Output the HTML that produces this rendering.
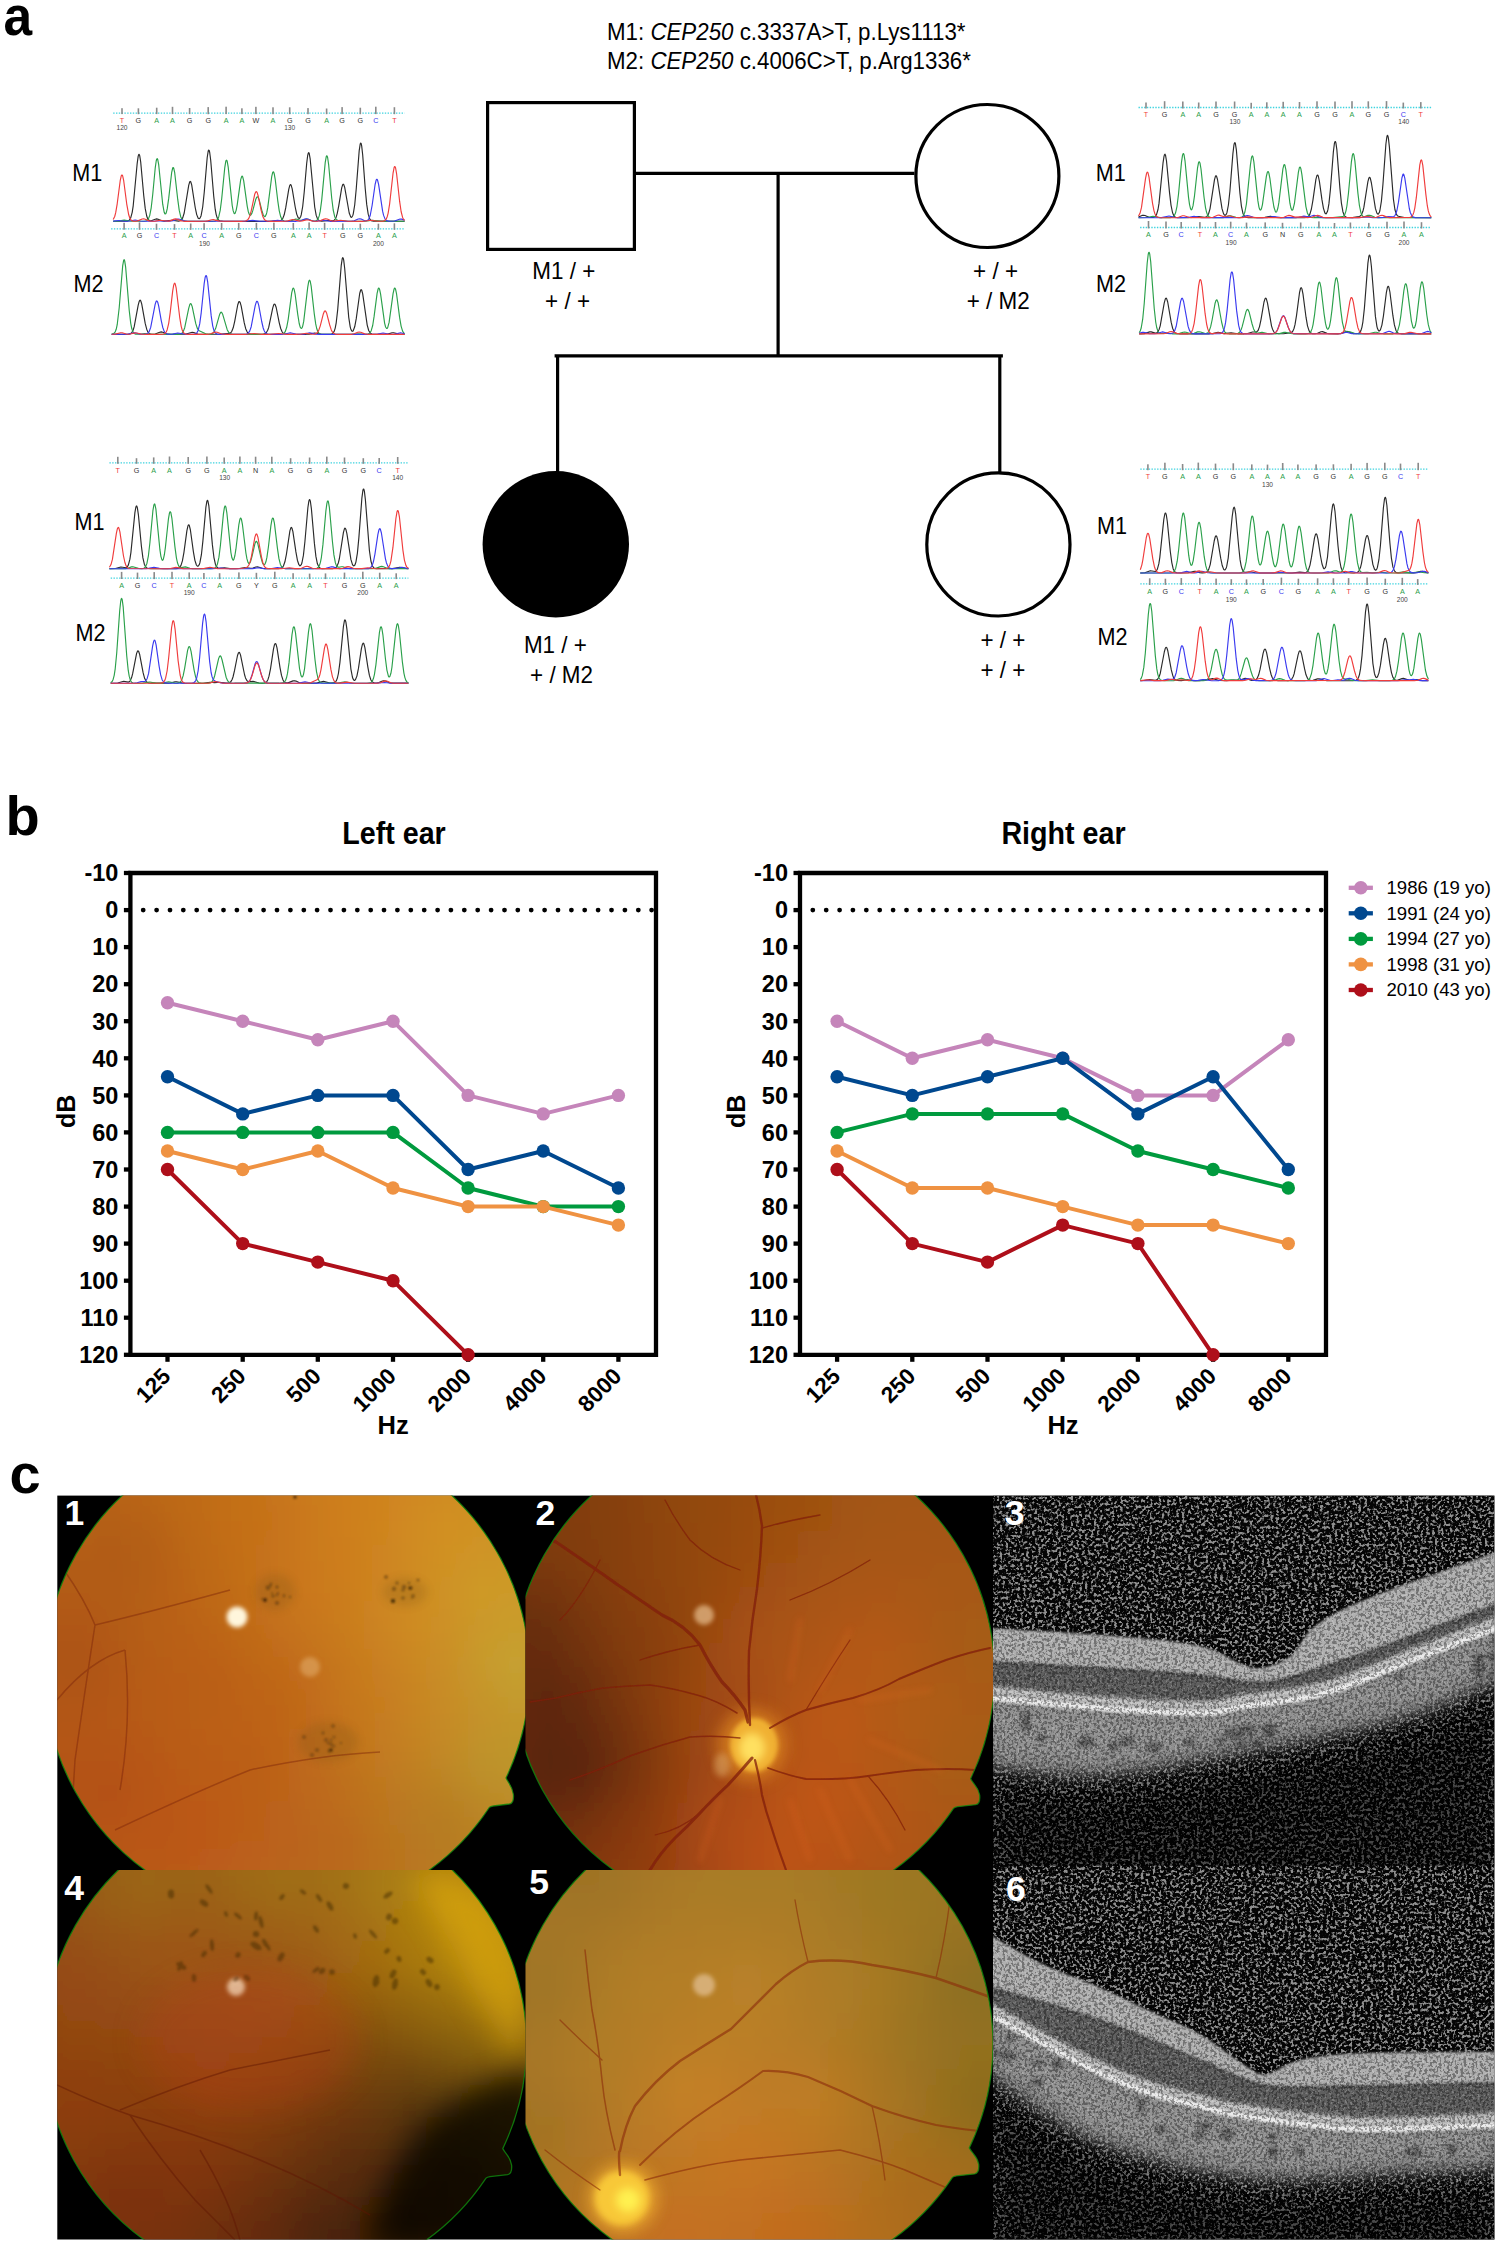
<!DOCTYPE html><html><head><meta charset="utf-8"><style>html,body{margin:0;padding:0;background:#fff;}svg{display:block;}text{font-family:"Liberation Sans",sans-serif;}</style></head><body>
<svg width="1500" height="2246" viewBox="0 0 1500 2246">
<rect width="1500" height="2246" fill="#fff"/>
<text transform="translate(3.50,35.00) scale(0.92,1)" x="0" y="0" font-size="56" font-weight="bold" text-anchor="start" fill="#000" >a</text>
<text x="5.50" y="835.00" font-size="56" font-weight="bold" text-anchor="start" fill="#000" >b</text>
<text x="9.50" y="1493.00" font-size="56" font-weight="bold" text-anchor="start" fill="#000" >c</text>
<text transform="translate(607,39.5) scale(0.93,1)" font-size="24">M1: <tspan font-style="italic">CEP250</tspan> c.3337A&gt;T, p.Lys1113*</text>
<text transform="translate(607,68.8) scale(0.93,1)" font-size="24">M2: <tspan font-style="italic">CEP250</tspan> c.4006C&gt;T, p.Arg1336*</text>
<g fill="none" stroke="#000" stroke-width="3.2">
<rect x="487.6" y="102.6" width="146.8" height="146.8"/>
<line x1="634" y1="173.4" x2="914.5" y2="173.4"/>
<circle cx="987.4" cy="176" r="71.5"/>
<line x1="778.1" y1="173.4" x2="778.1" y2="355.8"/>
<line x1="556.2" y1="355.8" x2="1001.3" y2="355.8" stroke-linecap="square"/>
<line x1="557.6" y1="355.8" x2="557.6" y2="472"/>
<line x1="999.8" y1="355.8" x2="999.8" y2="472"/>
<circle cx="998.4" cy="544.4" r="71.6"/>
</g>
<circle cx="555.8" cy="544.3" r="73.2" fill="#000"/>
<text transform="translate(563.80,279.00) scale(0.955,1)" x="0" y="0" font-size="23.5" font-weight="normal" text-anchor="middle" fill="#000" >M1 / +</text>
<text transform="translate(567.55,308.50) scale(0.955,1)" x="0" y="0" font-size="23.5" font-weight="normal" text-anchor="middle" fill="#000" >+ / +</text>
<text transform="translate(995.55,278.50) scale(0.955,1)" x="0" y="0" font-size="23.5" font-weight="normal" text-anchor="middle" fill="#000" >+ / +</text>
<text transform="translate(998.20,308.70) scale(0.955,1)" x="0" y="0" font-size="23.5" font-weight="normal" text-anchor="middle" fill="#000" >+ / M2</text>
<text transform="translate(555.40,653.00) scale(0.955,1)" x="0" y="0" font-size="23.5" font-weight="normal" text-anchor="middle" fill="#000" >M1 / +</text>
<text transform="translate(561.55,682.70) scale(0.955,1)" x="0" y="0" font-size="23.5" font-weight="normal" text-anchor="middle" fill="#000" >+ / M2</text>
<text transform="translate(1002.85,648.00) scale(0.955,1)" x="0" y="0" font-size="23.5" font-weight="normal" text-anchor="middle" fill="#000" >+ / +</text>
<text transform="translate(1002.85,677.60) scale(0.955,1)" x="0" y="0" font-size="23.5" font-weight="normal" text-anchor="middle" fill="#000" >+ / +</text>
<text transform="translate(87.35,181.10) scale(0.9,1)" x="0" y="0" font-size="24" font-weight="normal" text-anchor="middle" fill="#000" >M1</text>
<text transform="translate(88.40,291.60) scale(0.9,1)" x="0" y="0" font-size="24" font-weight="normal" text-anchor="middle" fill="#000" >M2</text>
<text transform="translate(1110.75,180.80) scale(0.9,1)" x="0" y="0" font-size="24" font-weight="normal" text-anchor="middle" fill="#000" >M1</text>
<text transform="translate(1111.10,291.60) scale(0.9,1)" x="0" y="0" font-size="24" font-weight="normal" text-anchor="middle" fill="#000" >M2</text>
<text transform="translate(89.40,530.00) scale(0.9,1)" x="0" y="0" font-size="24" font-weight="normal" text-anchor="middle" fill="#000" >M1</text>
<text transform="translate(90.40,641.40) scale(0.9,1)" x="0" y="0" font-size="24" font-weight="normal" text-anchor="middle" fill="#000" >M2</text>
<text transform="translate(1111.90,534.20) scale(0.9,1)" x="0" y="0" font-size="24" font-weight="normal" text-anchor="middle" fill="#000" >M1</text>
<text transform="translate(1112.55,644.70) scale(0.9,1)" x="0" y="0" font-size="24" font-weight="normal" text-anchor="middle" fill="#000" >M2</text>
<g font-family="Liberation Sans, sans-serif">
<line x1="113.2" y1="113.1" x2="404.6" y2="113.1" stroke="#3fd3df" stroke-width="1.3" stroke-dasharray="1.4 1.4"/>
<rect x="121.2" y="108.2" width="1.6" height="5.9" fill="#8a8a8a"/>
<text x="122.0" y="123.2" font-size="7.2" text-anchor="middle" fill="#f03c3c">T</text>
<rect x="137.6" y="108.3" width="1.6" height="5.9" fill="#8a8a8a"/>
<text x="138.4" y="123.2" font-size="7.2" text-anchor="middle" fill="#333333">G</text>
<rect x="155.9" y="107.7" width="1.6" height="6.4" fill="#8a8a8a"/>
<text x="156.7" y="123.2" font-size="7.2" text-anchor="middle" fill="#2aa04a">A</text>
<rect x="171.7" y="106.8" width="1.6" height="7.3" fill="#8a8a8a"/>
<text x="172.5" y="123.2" font-size="7.2" text-anchor="middle" fill="#2aa04a">A</text>
<rect x="188.8" y="108.0" width="1.6" height="6.1" fill="#8a8a8a"/>
<text x="189.6" y="123.2" font-size="7.2" text-anchor="middle" fill="#333333">G</text>
<rect x="207.4" y="107.1" width="1.6" height="7.1" fill="#8a8a8a"/>
<text x="208.2" y="123.2" font-size="7.2" text-anchor="middle" fill="#333333">G</text>
<rect x="225.3" y="106.7" width="1.6" height="7.4" fill="#8a8a8a"/>
<text x="226.1" y="123.2" font-size="7.2" text-anchor="middle" fill="#2aa04a">A</text>
<rect x="241.1" y="108.3" width="1.6" height="5.8" fill="#8a8a8a"/>
<text x="241.9" y="123.2" font-size="7.2" text-anchor="middle" fill="#2aa04a">A</text>
<rect x="255.1" y="106.8" width="1.6" height="7.3" fill="#8a8a8a"/>
<text x="255.9" y="123.2" font-size="7.2" text-anchor="middle" fill="#333333">W</text>
<rect x="272.2" y="107.3" width="1.6" height="6.9" fill="#8a8a8a"/>
<text x="273.0" y="123.2" font-size="7.2" text-anchor="middle" fill="#2aa04a">A</text>
<rect x="288.9" y="107.3" width="1.6" height="6.9" fill="#8a8a8a"/>
<text x="289.7" y="123.2" font-size="7.2" text-anchor="middle" fill="#333333">G</text>
<rect x="307.2" y="108.1" width="1.6" height="6.1" fill="#8a8a8a"/>
<text x="308.0" y="123.2" font-size="7.2" text-anchor="middle" fill="#333333">G</text>
<rect x="325.8" y="108.5" width="1.6" height="5.7" fill="#8a8a8a"/>
<text x="326.6" y="123.2" font-size="7.2" text-anchor="middle" fill="#2aa04a">A</text>
<rect x="341.3" y="107.1" width="1.6" height="7.0" fill="#8a8a8a"/>
<text x="342.1" y="123.2" font-size="7.2" text-anchor="middle" fill="#333333">G</text>
<rect x="359.5" y="107.7" width="1.6" height="6.5" fill="#8a8a8a"/>
<text x="360.3" y="123.2" font-size="7.2" text-anchor="middle" fill="#333333">G</text>
<rect x="375.0" y="106.7" width="1.6" height="7.4" fill="#8a8a8a"/>
<text x="375.8" y="123.2" font-size="7.2" text-anchor="middle" fill="#3a3af0">C</text>
<rect x="393.6" y="107.2" width="1.6" height="7.0" fill="#8a8a8a"/>
<text x="394.4" y="123.2" font-size="7.2" text-anchor="middle" fill="#f03c3c">T</text>
<text x="122.0" y="129.8" font-size="6.6" text-anchor="middle" fill="#444">120</text>
<text x="289.7" y="129.8" font-size="6.6" text-anchor="middle" fill="#444">130</text>
<path d="M113.2,221.3l14 -0.2 2 -0.8 1.5 -2.4 1.5 -5.6 1 -6.5 4 -42.5 1 -7.1 0.5 -1.6 0.5 -0.2 0.5 1.2 1 6.4 3 33.3 1.5 13.1 1.5 7.6 1 2.7 1 1.4 1 0.5 1.5 0.1 4 -1.5 1.5 -0.3 1.5 0.3 3.5 1.5 2.5 0.4 7.5 -0.8 7 0.8 1.5 -0.3 1 -0.7 1.5 -2.2 1.5 -4.9 4.5 -27.7 1 -3.4 0.5 -0.5 0.5 0.4 1 3.1 3.5 22.6 1.5 7.1 1.5 3.6 1 0.5 0.5 -0.2 1 -1.7 0.5 -1.6 1.5 -8.2 1.5 -14.2 3 -35.3 1 -6.4 0.5 -1.0 0.5 0.4 0.5 2.0 1 7.8 3 35.7 1.5 13.2 1 5.4 1 3.3 1 1.8 1.5 1.2 4 0.4 45.5 0.0 10.5 -0.7 1.5 -0.4 1.5 -1.6 1.5 -3.8 1.5 -6.9 3 -18.3 1 -3.9 0.5 -0.9 0.5 -0.2 0.5 0.7 1 3.5 3 18.2 1.5 7.1 1.5 3.7 1 0.6 0.5 -0.2 1 -1.7 0.5 -1.6 1.5 -8.4 1.5 -14.2 2.5 -29.1 1 -7.9 0.5 -2.0 0.5 -0.7 0.5 0.8 1 5.8 4.5 47.8 1.5 8.4 1.5 3.9 1.5 1.4 2.5 0.4 5.5 -0.5 5.5 0.2 1.5 -0.6 1 -1.2 1 -2.1 1 -3.3 1.5 -7.5 3 -18.3 1 -3.2 0.5 -0.4 0.5 0.3 1 2.9 4.5 25.6 1.5 3.9 0.5 0.5 0.5 -0.1 1 -1.6 0.5 -1.6 1.5 -9.1 1.5 -15.8 3 -38.6 1 -6.6 0.5 -1.0 0.5 0.7 0.5 2.4 1 8.9 2.5 33.2 1.5 16.2 1.5 9.8 1.5 4.7 1.4 1.7 2.5 0.6 31 0.1" fill="none" stroke="#2a2a2a" stroke-width="1.15" stroke-linejoin="round"/>
<path d="M113.2,221.3l5 -0.2 6 -1.0 7 1.1 13 0.0 2.5 -0.5 1.5 -1.4 1.5 -3.7 1.5 -7.8 1.5 -13.1 2.5 -26.5 1 -7.2 0.5 -1.9 0.5 -0.5 0.5 0.8 1 5.3 4 39.5 1.5 8.1 0.5 1.2 0.5 0.5 0.5 -0.2 0.5 -0.9 1 -4.0 1.5 -10.5 3 -26.1 1 -4.3 0.5 -0.5 0.5 0.7 1 4.5 3 26.5 1.5 11.0 1.5 6.5 1.5 3.0 1.5 1.2 3 0.4 26.5 0.0 2 -0.2 1.5 -0.8 1 -1.1 1 -2.3 1.5 -6.5 1.5 -11.6 3 -30.6 1 -6.4 0.5 -1.5 0.5 -0.1 0.5 1.1 1 5.8 4 38.4 1 5.4 1 2.6 0.5 0.2 0.5 -0.6 1 -3.0 1 -5.3 3.5 -25.1 1 -3.3 0.5 -0.3 0.5 0.7 1 4.0 3.5 25.3 1 5.1 1 3.0 1 1.1 0.5 -0.2 1 -1.4 1 -2.8 3 -11.3 1 -2.3 0.5 -0.4 0.5 0.0 0.5 0.6 1 2.4 3 11.9 1 3.0 1 1.6 0.5 0.3 0.5 -0.2 1 -1.9 0.5 -1.7 1 -5.0 4 -31.2 1 -4.3 0.5 -0.6 0.5 0.4 0.5 1.5 1 5.6 2.5 21.0 1.5 10.3 1.5 6.2 1.5 2.9 1 0.9 1 0.4 3.5 0.2 3 -0.3 5 -1.8 1.5 0.1 3 1.0 1.5 0.1 5 -1.3 1.5 0.2 4.5 1.8 3 0.0 1.5 -0.9 1 -1.5 1 -2.7 1 -4.5 1.5 -11.3 3.5 -37.4 1 -5.9 0.5 -1.0 0.5 0.4 0.5 1.8 1 7.2 3 32.8 1.5 12.0 1.5 6.7 1.5 2.8 1.5 0.8 10.5 1.0 17 0.0 7.4 -1.0 8 1.0 24 0.0" fill="none" stroke="#2aa04a" stroke-width="1.15" stroke-linejoin="round"/>
<path d="M113.2,221.1l5.5 -0.6 5.5 0.7 3.5 0.0 7.5 -1.2 5 1.0 2.5 0.2 10.5 0.1 7 -0.6 9.5 0.6 3.5 -0.5 3.5 -1.5 1.5 -0.3 1.5 0.2 4.5 1.7 3.5 0.4 56.5 0.0 8.5 -0.9 7 0.8 9 0.1 3.5 -0.2 5.5 -0.9 7 1.0 11.5 0.1 4.5 -0.5 4 -1.7 1.5 -0.4 1.5 0.3 4 1.8 2.5 0.4 2.5 -0.1 6 -0.8 7.5 1.0 21 -0.1 3 -0.4 4 -1.8 1.5 -0.2 1.5 0.3 3.5 1.6 1.5 0.1 1.5 -0.6 1 -1.1 1.5 -3.6 1.9 -10.0 3 -21.0 1 -4.2 0.5 -0.9 0.5 0.0 0.5 0.9 1 4.1 4 26.8 1 4.2 1.5 3.7 1.5 1.5 2.5 0.6 5.5 -0.2 5.5 -2.0 1.5 0.1 3 1.2" fill="none" stroke="#3a3af0" stroke-width="1.15" stroke-linejoin="round"/>
<path d="M113.2,219.6l1.5 -3.1 1 -3.8 1.5 -8.9 3 -23.1 1 -4.6 0.5 -1.0 0.5 0.0 0.5 1.0 1 4.6 3 23.1 2 11.0 1 3.0 1 1.8 1 0.9 1.5 0.6 2.5 0.1 2 -0.3 4.5 -1.9 1.5 -0.2 1.5 0.4 4 1.7 3 0.3 3 -0.1 5.5 -0.9 5.5 0.8 2.5 0.1 2 -0.5 3.5 -1.5 1.5 -0.2 1.5 0.3 4 1.7 3 0.4 21 -0.1 2.5 -0.3 4 -1.2 1.5 -0.1 5 1.3 3 0.3 21 0.1 3.5 -0.3 2 -1.2 1 -1.4 1 -2.2 1.5 -5.4 3.5 -16.5 1 -2.3 0.5 -0.4 0.5 0.3 0.5 0.8 1 3.3 3 14.7 1.5 5.5 1.5 3.0 1 1.1 1.5 0.7 3 0.3 15.5 -0.1 2.5 -0.3 5 -1.4 7 1.6 2.5 -0.2 5 -1.1 6 1.3 4 0.1 3 -0.4 4 -1.7 1.5 -0.4 1.5 0.3 4 1.8 2 0.3 7.5 -0.8 7 0.9 15.5 0.1 8.4 -1.1 6 1.0 5.5 -0.1 1.5 -0.4 1.5 -1.5 1 -2.2 1 -3.7 1.5 -9.2 3.5 -31.3 1 -5.2 0.5 -1.1 0.5 0.2 0.5 1.3 1 5.8 3 27.4 1.5 10.3 1.5 5.9 1 2.0 1 1.0" fill="none" stroke="#f03c3c" stroke-width="1.15" stroke-linejoin="round"/>
<line x1="111.1" y1="228.8" x2="404.6" y2="228.8" stroke="#3fd3df" stroke-width="1.3" stroke-dasharray="1.4 1.4"/>
<rect x="123.3" y="222.8" width="1.6" height="6.9" fill="#8a8a8a"/>
<text x="124.1" y="238.4" font-size="7.2" text-anchor="middle" fill="#2aa04a">A</text>
<rect x="138.7" y="222.4" width="1.6" height="7.4" fill="#8a8a8a"/>
<text x="139.5" y="238.4" font-size="7.2" text-anchor="middle" fill="#333333">G</text>
<rect x="155.7" y="223.7" width="1.6" height="6.1" fill="#8a8a8a"/>
<text x="156.5" y="238.4" font-size="7.2" text-anchor="middle" fill="#3a3af0">C</text>
<rect x="173.7" y="224.1" width="1.6" height="5.7" fill="#8a8a8a"/>
<text x="174.5" y="238.4" font-size="7.2" text-anchor="middle" fill="#f03c3c">T</text>
<rect x="189.9" y="223.5" width="1.6" height="6.3" fill="#8a8a8a"/>
<text x="190.7" y="238.4" font-size="7.2" text-anchor="middle" fill="#2aa04a">A</text>
<rect x="203.3" y="223.2" width="1.6" height="6.6" fill="#8a8a8a"/>
<text x="204.1" y="238.4" font-size="7.2" text-anchor="middle" fill="#3a3af0">C</text>
<rect x="220.8" y="223.0" width="1.6" height="6.8" fill="#8a8a8a"/>
<text x="221.6" y="238.4" font-size="7.2" text-anchor="middle" fill="#2aa04a">A</text>
<rect x="237.9" y="222.9" width="1.6" height="6.9" fill="#8a8a8a"/>
<text x="238.7" y="238.4" font-size="7.2" text-anchor="middle" fill="#333333">G</text>
<rect x="255.6" y="222.9" width="1.6" height="6.8" fill="#8a8a8a"/>
<text x="256.4" y="238.4" font-size="7.2" text-anchor="middle" fill="#3a3af0">C</text>
<rect x="273.1" y="222.7" width="1.6" height="7.1" fill="#8a8a8a"/>
<text x="273.9" y="238.4" font-size="7.2" text-anchor="middle" fill="#333333">G</text>
<rect x="292.5" y="223.0" width="1.6" height="6.7" fill="#8a8a8a"/>
<text x="293.3" y="238.4" font-size="7.2" text-anchor="middle" fill="#2aa04a">A</text>
<rect x="308.3" y="222.4" width="1.6" height="7.3" fill="#8a8a8a"/>
<text x="309.1" y="238.4" font-size="7.2" text-anchor="middle" fill="#2aa04a">A</text>
<rect x="323.8" y="222.8" width="1.6" height="7.0" fill="#8a8a8a"/>
<text x="324.6" y="238.4" font-size="7.2" text-anchor="middle" fill="#f03c3c">T</text>
<rect x="342.0" y="223.4" width="1.6" height="6.4" fill="#8a8a8a"/>
<text x="342.8" y="238.4" font-size="7.2" text-anchor="middle" fill="#333333">G</text>
<rect x="359.5" y="223.7" width="1.6" height="6.0" fill="#8a8a8a"/>
<text x="360.3" y="238.4" font-size="7.2" text-anchor="middle" fill="#333333">G</text>
<rect x="377.6" y="223.7" width="1.6" height="6.0" fill="#8a8a8a"/>
<text x="378.4" y="238.4" font-size="7.2" text-anchor="middle" fill="#2aa04a">A</text>
<rect x="393.6" y="223.3" width="1.6" height="6.5" fill="#8a8a8a"/>
<text x="394.4" y="238.4" font-size="7.2" text-anchor="middle" fill="#2aa04a">A</text>
<text x="204.5" y="245.7" font-size="6.6" text-anchor="middle" fill="#444">190</text>
<text x="378.4" y="245.7" font-size="6.6" text-anchor="middle" fill="#444">200</text>
<path d="M111.7,334.4l16.5 -0.1 2 -0.4 1.5 -1.2 1.5 -2.7 1 -3.3 4 -21.6 1 -3.7 0.5 -1.0 0.5 -0.2 0.5 0.6 1 3.1 3.5 19.5 1.5 5.8 1 2.4 1 1.4 1 0.7 1.5 0.5 4 -0.2 4.5 -1.8 1.5 -0.3 1.5 0.3 4 1.7 4 0.4 14.5 -0.1 7 -1.9 1.5 0.2 4 1.5 3 0.3 18.5 0.0 10.5 -0.9 1 -0.6 1 -1.3 1.5 -3.7 1.5 -6.5 3 -16.3 1 -3.0 0.5 -0.5 0.5 0.2 0.5 0.9 1 3.6 3 16.5 1.5 6.0 1.5 3.4 1 1.2 1 0.6 3 0.4 10.5 0.0 2 -0.4 1.5 -1.1 1.5 -2.5 1 -2.9 4 -19.3 1 -3.2 0.5 -0.7 0.5 -0.1 0.5 0.6 1 2.8 3 15.1 1.5 5.9 1.5 3.5 1 1.2 1 0.6 3.5 0.5 18.5 0.0 3 -0.2 5.5 -1.1 7 1.3 7.5 0.0 2.5 -0.3 1.5 -1.1 1 -1.6 1 -3.2 1 -5.3 1.5 -13.2 3.5 -43.9 1 -6.9 0.5 -1.2 0.5 0.5 0.5 2.0 1 8.4 4 48.6 1.5 9.7 0.5 1.9 1 2.2 0.5 0.4 0.5 -0.1 0.5 -0.4 1.5 -4.0 1.5 -7.9 3.5 -25.4 1 -3.5 0.5 -0.4 0.5 0.5 1 3.8 4.5 31.2 1.5 5.4 1.5 2.5 1.5 1.0 1.5 0.3 10.9 0.0 3.5 -0.2 4.5 -1.3 1.5 -0.1 5.5 1.4 5.5 0.3" fill="none" stroke="#2a2a2a" stroke-width="1.15" stroke-linejoin="round"/>
<path d="M111.7,334.3l2 -0.7 1.5 -1.7 1 -2.6 1 -4.6 2 -17.0 3.5 -42.1 1 -5.4 0.5 -0.5 0.5 1.2 1 6.8 3.5 42.6 1.5 12.8 1 5.2 1 3.1 1.5 2.1 1.5 0.6 3 0.1 6 -0.6 7.5 0.7 24.5 0.1 3 -0.2 1.5 -0.5 1 -0.7 1 -1.4 1.5 -3.9 4 -19.4 1 -3.5 0.5 -0.9 0.5 -0.3 0.5 0.4 1 2.6 3.5 16.8 1.5 4.7 1 1.7 1 0.9 6.5 3.1 2.5 0.4 2.5 0.0 1.5 -0.5 1.5 -1.3 2 -4.1 4 -14.1 1 -1.8 0.5 -0.2 0.5 0.2 1 1.9 4.5 15.4 1.5 2.7 2 1.5 2 0.4 3.5 0.1 42.5 0.0 4 -0.4 1.5 -0.9 1 -1.4 1.5 -4.4 1.5 -8.0 3.5 -26.4 1 -4.1 0.5 -0.7 0.5 0.3 0.5 1.2 1 5.1 2.5 19.4 1.5 9.4 1 3.7 1 1.3 0.5 -0.2 0.5 -0.8 0.5 -1.4 1 -4.7 4 -34.0 1 -5.7 0.5 -1.3 0.5 -0.2 0.5 1.0 1 5.2 3 26.9 1.5 10.6 1 4.6 1 2.8 1 1.6 1 0.8 1.5 0.5 2.5 0.2 26.5 -0.1 8 -0.6 7.5 0.6 2 -0.2 1.5 -0.5 1 -1.0 1 -1.9 1.5 -5.2 1.4 -9.1 3 -23.0 1 -4.4 0.5 -0.9 0.5 0.2 0.5 1.1 1 4.8 4 28.9 1 3.9 1 1.5 0.5 -0.1 0.5 -0.6 1.5 -5.4 4 -29.0 1 -4.4 0.5 -0.9 0.5 0.2 0.5 1.1 1 4.8 3 23.2 1.5 8.7 1.5 5.0 1 1.7 1 0.8" fill="none" stroke="#2aa04a" stroke-width="1.15" stroke-linejoin="round"/>
<path d="M111.7,334.4l15.5 -0.1 7 -1.4 1.5 0.1 4.5 1.1 4 0.2 2 -0.2 1.5 -0.7 1.5 -1.9 1.5 -4.1 4.5 -23.3 1 -2.8 0.5 -0.4 0.5 0.3 0.5 1.0 1 3.9 2.5 14.2 1.5 6.9 1.5 4.2 1.5 1.9 1.5 0.8 2 0.2 3.5 -0.2 5 -1.1 8 1.3 7.5 0.0 2.5 -0.5 1.5 -1.5 1 -2.1 1.5 -6.3 1.5 -11.1 3 -29.4 1 -6.2 0.5 -1.5 0.5 -0.1 0.5 1.0 1 5.6 3.5 33.7 1.5 9.9 1 3.9 1 2.4 1 1.2 1.5 0.8 3.5 0.3 23.5 -0.1 2.5 -0.3 1.5 -0.8 1.5 -2.1 1.5 -4.4 4 -21.0 1 -3.4 0.5 -0.9 0.5 -0.1 0.5 0.6 1 3.2 3 16.4 1.5 6.5 1 2.8 1 1.7 1 1.0 1.5 0.6 3 0.2 12 0.0 2.5 -0.3 5 -1.3 5.5 1.3 4 0.3 4.5 -0.2 5.5 -1.3 6 1.3 4 0.3 54.9 -0.1 3 -0.2 5.5 -1.1 5.5 1.1 3.5 0.2 3 -0.2 5.5 -1.4 4 1.0" fill="none" stroke="#3a3af0" stroke-width="1.15" stroke-linejoin="round"/>
<path d="M111.7,334.3l3.5 -0.2 5.5 -1.4 1.5 0.1 4 1.2 2 0.2 2 -0.2 5 -1.1 1.5 0.1 4.5 1.1 3.5 0.2 17 0.0 2 -0.2 1.5 -0.8 1 -1.3 1 -2.3 1.5 -6.4 1.5 -10.7 2.5 -21.7 1 -5.8 0.5 -1.5 0.5 -0.4 0.5 0.6 1 4.4 3.5 29.1 1.5 9.0 1 3.7 1 2.2 1 1.2 1.5 0.7 3.5 0.3 19 -0.1 2.5 -0.5 3.5 -1.4 1.5 -0.4 1.5 0.2 4.5 1.8 3.5 0.3 21 0.0 8 -0.8 6.5 0.8 9.5 0.0 8.5 -0.8 7 0.8 11.5 0.0 3 -0.1 6 -0.9 5.5 0.9 3 -0.1 1.5 -0.5 1 -0.8 1.5 -2.4 1.5 -4.3 3 -11.8 1 -2.6 0.5 -0.6 0.5 -0.2 0.5 0.4 1 2.0 3 11.7 1.5 4.7 1 2.0 1 1.3 2 1.1 3.5 0.3 13 -0.1 2.5 -0.5 3.5 -1.5 1.5 -0.3 1.5 0.2 4 1.7 3 0.4 36.9 0.1" fill="none" stroke="#f03c3c" stroke-width="1.15" stroke-linejoin="round"/>
<line x1="1138.5" y1="107.5" x2="1431.3" y2="107.5" stroke="#3fd3df" stroke-width="1.3" stroke-dasharray="1.4 1.4"/>
<rect x="1145.2" y="102.5" width="1.6" height="6.0" fill="#8a8a8a"/>
<text x="1146.0" y="117.1" font-size="7.2" text-anchor="middle" fill="#f03c3c">T</text>
<rect x="1163.8" y="101.2" width="1.6" height="7.4" fill="#8a8a8a"/>
<text x="1164.6" y="117.1" font-size="7.2" text-anchor="middle" fill="#333333">G</text>
<rect x="1182.0" y="101.5" width="1.6" height="7.0" fill="#8a8a8a"/>
<text x="1182.8" y="117.1" font-size="7.2" text-anchor="middle" fill="#2aa04a">A</text>
<rect x="1197.9" y="102.5" width="1.6" height="6.0" fill="#8a8a8a"/>
<text x="1198.7" y="117.1" font-size="7.2" text-anchor="middle" fill="#2aa04a">A</text>
<rect x="1215.2" y="101.5" width="1.6" height="7.0" fill="#8a8a8a"/>
<text x="1216.0" y="117.1" font-size="7.2" text-anchor="middle" fill="#333333">G</text>
<rect x="1233.8" y="101.5" width="1.6" height="7.0" fill="#8a8a8a"/>
<text x="1234.6" y="117.1" font-size="7.2" text-anchor="middle" fill="#333333">G</text>
<rect x="1250.4" y="102.8" width="1.6" height="5.8" fill="#8a8a8a"/>
<text x="1251.2" y="117.1" font-size="7.2" text-anchor="middle" fill="#2aa04a">A</text>
<rect x="1266.0" y="102.3" width="1.6" height="6.2" fill="#8a8a8a"/>
<text x="1266.8" y="117.1" font-size="7.2" text-anchor="middle" fill="#2aa04a">A</text>
<rect x="1282.4" y="101.8" width="1.6" height="6.7" fill="#8a8a8a"/>
<text x="1283.2" y="117.1" font-size="7.2" text-anchor="middle" fill="#2aa04a">A</text>
<rect x="1298.7" y="102.0" width="1.6" height="6.5" fill="#8a8a8a"/>
<text x="1299.5" y="117.1" font-size="7.2" text-anchor="middle" fill="#2aa04a">A</text>
<rect x="1316.2" y="101.3" width="1.6" height="7.3" fill="#8a8a8a"/>
<text x="1317.0" y="117.1" font-size="7.2" text-anchor="middle" fill="#333333">G</text>
<rect x="1334.2" y="101.5" width="1.6" height="7.1" fill="#8a8a8a"/>
<text x="1335.0" y="117.1" font-size="7.2" text-anchor="middle" fill="#333333">G</text>
<rect x="1351.2" y="101.2" width="1.6" height="7.3" fill="#8a8a8a"/>
<text x="1352.0" y="117.1" font-size="7.2" text-anchor="middle" fill="#2aa04a">A</text>
<rect x="1367.5" y="101.3" width="1.6" height="7.2" fill="#8a8a8a"/>
<text x="1368.3" y="117.1" font-size="7.2" text-anchor="middle" fill="#333333">G</text>
<rect x="1385.7" y="101.1" width="1.6" height="7.5" fill="#8a8a8a"/>
<text x="1386.5" y="117.1" font-size="7.2" text-anchor="middle" fill="#333333">G</text>
<rect x="1402.5" y="102.6" width="1.6" height="5.9" fill="#8a8a8a"/>
<text x="1403.3" y="117.1" font-size="7.2" text-anchor="middle" fill="#3a3af0">C</text>
<rect x="1420.0" y="102.1" width="1.6" height="6.4" fill="#8a8a8a"/>
<text x="1420.8" y="117.1" font-size="7.2" text-anchor="middle" fill="#f03c3c">T</text>
<text x="1234.9" y="124.4" font-size="6.6" text-anchor="middle" fill="#444">130</text>
<text x="1403.8" y="124.4" font-size="6.6" text-anchor="middle" fill="#444">140</text>
<path d="M1138.5,217.0l3.5 -1.6 1.5 -0.2 1.5 0.3 4 1.7 4 0.3 2 -0.8 1.5 -2.1 1.5 -5.1 1 -6.1 4 -40.2 1 -6.9 0.5 -1.7 0.5 -0.4 0.5 1.0 1 5.8 3 31.4 1.5 12.7 1.5 7.4 1 2.6 1 1.4 1 0.7 2 0.4 10.5 0.1 4.5 -0.2 6 -1.0 6 0.9 1.5 -0.3 1 -0.7 1.5 -2.4 1.5 -5.2 4.5 -29.2 1 -3.5 0.5 -0.4 0.5 0.4 1 3.4 4.5 29.2 1.5 5.0 1 1.4 1 0.1 1 -1.4 0.5 -1.4 1.4 -7.4 1.5 -13.7 3 -37.7 1 -8.4 0.5 -2.1 0.5 -0.5 0.5 1.0 1 6.6 3.5 42.8 1.5 13.1 1.5 7.1 1 2.3 1.5 1.6 3 0.5 14 0.0 2.5 -0.2 5.5 -1.2 5.5 1.2 3.5 0.3 25 -0.1 2 -0.1 1.5 -0.7 1 -0.9 1 -1.8 1.5 -5.1 1.5 -8.7 3 -21.0 1 -3.7 0.5 -0.6 0.5 0.3 0.5 1.2 1 4.8 2.5 18.1 1.5 8.7 1.5 4.9 1 0.9 0.5 -0.3 1 -2.0 0.5 -1.9 1 -5.8 1.5 -14.3 3 -38.1 1 -8.0 0.5 -1.8 0.5 -0.2 0.5 1.4 1 7.3 3 37.9 1.5 15.0 1.5 8.6 1.5 4.0 1 1.1 1.5 0.7 5.5 0.1 6.5 -1.0 1.5 -0.7 1 -1.1 1.5 -3.5 1 -4.1 4 -25.5 1 -3.7 0.5 -0.7 0.5 0.2 0.5 1.1 1 4.4 4 25.4 1.5 4.8 1 1.0 0.5 -0.2 1 -1.7 0.5 -1.8 1.5 -9.4 1.5 -16.4 3 -40.7 1 -7.4 0.5 -1.3 0.5 0.5 0.5 2.3 1 9.0 4 52.0 1.5 10.4 1.5 4.8 1 1.4 1 0.6 5.9 1.2 27 0.2" fill="none" stroke="#2a2a2a" stroke-width="1.15" stroke-linejoin="round"/>
<path d="M1138.5,217.7l8 -0.2 6.5 -1.2 7 1.3 10 0.0 2.5 -0.3 1.5 -1.1 1.5 -3.1 1.5 -6.8 1.5 -12.1 3 -32.1 1 -6.7 0.5 -1.6 0.5 -0.2 0.5 1.1 1 6.1 3.5 36.3 1 7.2 1 4.3 0.5 1.0 0.5 0.2 0.5 -0.6 1 -3.3 1.5 -10.1 3 -27.6 1 -5.4 0.5 -1.0 0.5 0.1 0.5 1.3 1 5.8 3 28.0 1.5 10.6 1 4.5 1 2.7 1.5 2.0 1.5 0.6 3 0.3 9.5 -0.1 2.5 -0.5 3.4 -1.2 1.5 -0.2 5.5 1.6 4 0.3 2 -0.5 1.5 -1.4 1.5 -3.7 1.5 -7.9 4 -39.1 1 -6.9 0.5 -1.8 0.5 -0.5 0.5 0.9 1 5.4 4 38.8 1 5.9 0.5 1.8 0.5 1.1 0.5 0.4 0.5 -0.3 0.5 -1.0 1 -4.0 4 -28.7 1 -4.0 0.5 -0.6 0.5 0.3 0.5 1.3 1 5.2 2.5 19.4 1.5 9.3 1.5 4.7 0.5 0.4 0.5 -0.1 0.5 -0.8 1 -3.2 1 -5.6 4 -33.5 1 -4.0 0.5 -0.4 0.5 0.7 1 4.7 4 33.3 1 4.8 1 2.2 0.5 0.0 0.5 -0.6 1.5 -5.9 4 -31.6 1 -4.4 0.5 -0.7 0.5 0.5 0.5 1.4 1 5.7 4 32.0 1.5 6.4 1.5 3.1 1 0.9 1 0.4 3 0.3 19 -0.1 10 -1.0 1 -0.7 1 -1.7 1 -3.1 1 -5.1 1.5 -12.2 3 -32.0 1 -6.6 0.5 -1.5 0.5 -0.1 0.5 1.3 1 6.2 3 32.0 1.5 12.4 1.5 7.2 1 2.4 1 1.2 1 0.4 1 -0.1 3 -1.2 1.5 -0.2 1.5 0.3 4 1.7 3 0.4 53.4 0.1" fill="none" stroke="#2aa04a" stroke-width="1.15" stroke-linejoin="round"/>
<path d="M1138.5,217.7l23 -0.1 7.5 -1.6 5.5 1.4 3 0.2 10 -0.1 6.5 -1.2 5.5 1.1 2.5 0.2 36.4 0.0 3.5 -0.3 4 -1.5 1.5 -0.3 1.5 0.2 4.5 1.6 4 0.4 9.5 -0.1 7 -1.1 7 1.1 15 0.0 3 -0.3 5 -1.2 4 0.6 1.5 0.0 4.5 -1.4 1.5 0.2 4.5 1.8 3.5 0.3 35 0.1 8.5 -0.7 6 0.6 6.5 0.1 4 -0.3 5 -0.9 4.5 0.3 1 -0.3 1 -0.9 1 -1.9 1 -3.2 1.5 -7.8 3.5 -24.7 1 -3.5 0.5 -0.5 0.4 0.5 1 3.7 4.5 30.3 1 4.0 1.5 3.3 1.5 1.3 2 0.5 16 0.1" fill="none" stroke="#3a3af0" stroke-width="1.15" stroke-linejoin="round"/>
<path d="M1138.5,216.1l1.5 -2.8 1.5 -5.9 4 -28.8 1 -5.0 0.5 -1.2 0.5 -0.2 0.5 0.7 1 4.2 3.5 26.0 1.5 7.7 1 3.2 1 1.8 1 1.0 1.5 0.7 3 0.2 14.5 -0.1 2.5 -0.4 4 -1.4 1.5 -0.1 5 1.5 2 0.4 19 0.0 3 -0.3 4.5 -2.0 1.5 -0.2 5 1.6 5.4 -0.9 5 1.5 4 0.3 3.5 0.0 6 -0.7 8 0.7 25 0.0 3 -0.4 3.5 -1.5 1.5 -0.3 1.5 0.2 4.5 1.5 5.5 -0.2 7 0.7 4.5 -0.3 4 -1.6 1.5 -0.3 1.5 0.2 4 1.6 3 0.4 33.5 0.0 8 -1.2 5 0.9 2 0.2 2 -0.3 4 -1.7 1.5 -0.2 1.5 0.3 3.5 1.5 2.5 0.5 20.4 -0.1 1.5 -0.6 1.5 -1.9 1 -2.6 1 -4.3 1.5 -10.4 3.5 -32.8 1 -4.6 0.5 -0.5 0.5 0.7 1 4.9 3 28.5 1.5 11.8 1 5.2 1 3.2 1 1.9 1 0.9" fill="none" stroke="#f03c3c" stroke-width="1.15" stroke-linejoin="round"/>
<line x1="1140.1" y1="227.5" x2="1431.3" y2="227.5" stroke="#3fd3df" stroke-width="1.3" stroke-dasharray="1.4 1.4"/>
<rect x="1147.7" y="221.0" width="1.6" height="7.4" fill="#8a8a8a"/>
<text x="1148.5" y="237.1" font-size="7.2" text-anchor="middle" fill="#2aa04a">A</text>
<rect x="1165.2" y="221.5" width="1.6" height="6.9" fill="#8a8a8a"/>
<text x="1166.0" y="237.1" font-size="7.2" text-anchor="middle" fill="#333333">G</text>
<rect x="1180.4" y="222.0" width="1.6" height="6.5" fill="#8a8a8a"/>
<text x="1181.2" y="237.1" font-size="7.2" text-anchor="middle" fill="#3a3af0">C</text>
<rect x="1199.1" y="222.1" width="1.6" height="6.3" fill="#8a8a8a"/>
<text x="1199.9" y="237.1" font-size="7.2" text-anchor="middle" fill="#f03c3c">T</text>
<rect x="1214.7" y="222.0" width="1.6" height="6.4" fill="#8a8a8a"/>
<text x="1215.5" y="237.1" font-size="7.2" text-anchor="middle" fill="#2aa04a">A</text>
<rect x="1229.9" y="221.7" width="1.6" height="6.7" fill="#8a8a8a"/>
<text x="1230.7" y="237.1" font-size="7.2" text-anchor="middle" fill="#3a3af0">C</text>
<rect x="1245.7" y="222.6" width="1.6" height="5.9" fill="#8a8a8a"/>
<text x="1246.5" y="237.1" font-size="7.2" text-anchor="middle" fill="#2aa04a">A</text>
<rect x="1264.4" y="222.4" width="1.6" height="6.1" fill="#8a8a8a"/>
<text x="1265.2" y="237.1" font-size="7.2" text-anchor="middle" fill="#333333">G</text>
<rect x="1281.7" y="222.8" width="1.6" height="5.7" fill="#8a8a8a"/>
<text x="1282.5" y="237.1" font-size="7.2" text-anchor="middle" fill="#333333">N</text>
<rect x="1299.9" y="222.5" width="1.6" height="6.0" fill="#8a8a8a"/>
<text x="1300.7" y="237.1" font-size="7.2" text-anchor="middle" fill="#333333">G</text>
<rect x="1318.1" y="221.4" width="1.6" height="7.0" fill="#8a8a8a"/>
<text x="1318.9" y="237.1" font-size="7.2" text-anchor="middle" fill="#2aa04a">A</text>
<rect x="1333.7" y="223.0" width="1.6" height="5.5" fill="#8a8a8a"/>
<text x="1334.5" y="237.1" font-size="7.2" text-anchor="middle" fill="#2aa04a">A</text>
<rect x="1349.6" y="222.5" width="1.6" height="5.9" fill="#8a8a8a"/>
<text x="1350.4" y="237.1" font-size="7.2" text-anchor="middle" fill="#f03c3c">T</text>
<rect x="1368.0" y="222.9" width="1.6" height="5.5" fill="#8a8a8a"/>
<text x="1368.8" y="237.1" font-size="7.2" text-anchor="middle" fill="#333333">G</text>
<rect x="1386.2" y="221.7" width="1.6" height="6.8" fill="#8a8a8a"/>
<text x="1387.0" y="237.1" font-size="7.2" text-anchor="middle" fill="#333333">G</text>
<rect x="1403.2" y="221.5" width="1.6" height="6.9" fill="#8a8a8a"/>
<text x="1404.0" y="237.1" font-size="7.2" text-anchor="middle" fill="#2aa04a">A</text>
<rect x="1420.7" y="222.2" width="1.6" height="6.3" fill="#8a8a8a"/>
<text x="1421.5" y="237.1" font-size="7.2" text-anchor="middle" fill="#2aa04a">A</text>
<text x="1231.1" y="244.6" font-size="6.6" text-anchor="middle" fill="#444">190</text>
<text x="1404.0" y="244.6" font-size="6.6" text-anchor="middle" fill="#444">200</text>
<path d="M1139.2,333.9l5 -0.3 5.5 -1.7 1.5 0.0 4 1.2 1.5 -0.2 1 -0.9 1.5 -2.8 1 -3.4 4 -22.6 1 -3.9 0.5 -0.9 0.5 -0.2 0.5 0.6 1 3.2 3.5 20.4 1.5 6.1 1.5 3.3 1 1.1 1.5 0.7 3.4 0.3 29.5 -0.1 3 -0.2 5.5 -1.2 6 1.2 7 -0.8 6.5 1.0 6.5 0.0 3.5 -0.3 5 -1.5 4 -0.1 1.5 -1.4 1.4 -3.9 1.5 -7.0 3 -17.6 1 -3.2 0.5 -0.6 0.5 0.2 0.5 0.9 1 3.9 4 22.6 1 3.4 1.5 2.9 1.5 1.2 3 0.5 5 -0.1 7.5 -1.0 1 -0.6 1 -1.2 1 -2.4 1 -3.8 1.5 -9.1 3 -22.9 1 -4.2 0.5 -0.8 0.5 0.2 0.5 1.2 1 5.0 3 23.1 1.5 8.6 1.5 4.9 1.5 2.1 2 0.9 2.5 0.0 2.5 -0.5 3.5 -1.5 1.5 -0.1 4.5 1.6 2 0.5 9.5 0.1 2.9 -0.4 4 -1.7 1.5 -0.3 1.5 0.3 3 1.3 2 0.6 3 0.2 2 -0.3 1.5 -1.1 1 -1.8 1 -3.3 1 -5.5 1.5 -13.7 3.5 -45.0 1 -6.9 0.5 -1.2 0.5 0.6 0.5 2.2 1 8.7 4 49.9 1.5 9.9 0.5 2.0 1 2.2 0.5 0.5 0.5 0.0 1 -1.1 1.5 -4.8 1.5 -9.0 3 -23.8 1 -4.8 0.5 -1.1 0.5 0.0 0.5 0.9 1 4.7 3 23.7 1.5 9.2 1.5 5.3 1.5 2.5 1.5 0.8 2.5 0.3 29.9 0.1" fill="none" stroke="#2a2a2a" stroke-width="1.15" stroke-linejoin="round"/>
<path d="M1139.2,332.6l1 -1.6 1 -3.0 1.5 -8.8 1.5 -15.4 3 -40.8 1 -8.5 0.5 -2.0 0.5 -0.2 0.5 1.6 1 7.7 3.5 46.7 1.5 13.7 1 5.5 1 3.2 1 1.7 1.5 1.0 1.5 0.1 4.5 -0.4 6 0.7 5 0.0 2.4 -0.4 3.5 -1.2 1.5 -0.2 1.5 0.2 4 1.3 2 0.1 2 -0.3 3.5 -1.4 1.5 -0.2 1.5 0.3 4 1.4 1.5 0.1 1 -0.4 1 -0.7 1 -1.4 1.5 -4.1 1.5 -6.9 3 -16.8 1 -2.9 0.5 -0.5 0.5 0.3 1 2.6 3.5 19.3 1.5 6.2 1.5 3.4 1 1.2 1 0.6 2.5 0.4 7 0.0 2 -0.5 1.5 -1.1 1.5 -2.5 1 -2.8 4 -15.5 1 -1.9 0.5 -0.1 0.5 0.3 1 2.2 3 12.1 1.5 4.9 1.5 2.8 1.5 1.2 1.5 0.1 3.9 -0.8 6.5 1.5 8 0.1 3 -0.2 4.5 -1.2 1.5 -0.2 5 1.3 2.5 0.3 12.5 0.1 3 -0.4 1.5 -0.8 1 -1.4 1 -2.4 1 -4.1 1.5 -9.6 3 -26.0 1 -5.5 0.5 -1.3 0.5 -0.3 0.5 0.9 1 4.7 3 25.6 1.5 10.1 1 3.9 0.5 1.2 0.5 0.6 0.5 0.0 1 -1.4 0.5 -1.6 1 -4.9 1.5 -11.6 2.5 -23.7 1 -6.3 0.5 -1.6 0.5 -0.3 0.5 0.8 1 4.9 2.9 27.7 1.5 11.2 1.5 6.4 1 2.0 1 0.9 4 0.1 4.5 1.7 3.5 0.4 10.5 -0.1 6.5 -1.5 1.5 0.1 4 1.2 3 0.3 9.5 0.0 2 -0.3 1 -0.4 1 -1.0 1 -1.9 1.5 -5.4 1.5 -9.5 3 -25.0 1 -5.2 0.5 -1.2 0.5 -0.1 0.5 0.9 1 4.9 4 31.5 1.5 6.0 0.5 0.8 0.5 0.3 1 -1.4 0.5 -1.5 1 -4.9 3.9 -32.8 1 -4.8 0.5 -0.9 0.5 0.2 0.5 1.3 1 5.5 3 26.1 1.5 9.7 1.5 5.5 1.5 2.5" fill="none" stroke="#2aa04a" stroke-width="1.15" stroke-linejoin="round"/>
<path d="M1139.2,333.2l3 -0.8 1.5 -0.1 5.5 1.3 5.5 0.2 2.5 -0.3 4 -1.3 1.5 -0.3 1.5 0.3 3.5 1.2 2 0.3 2 -0.2 1.5 -0.7 1.5 -2.1 1.5 -4.4 4.4 -24.9 1 -2.9 0.5 -0.3 0.5 0.4 1 2.9 4.5 24.9 1.5 4.3 1.5 2.1 1.5 0.8 3 0.3 22.5 -0.1 2 -0.1 1.5 -0.5 1 -0.9 1 -1.7 1 -3.2 1 -5.0 1.5 -12.0 3 -30.9 1 -6.2 0.5 -1.3 0.5 0.0 0.5 1.3 1 6.2 3 30.9 2 14.8 1 4.0 1 2.4 1 1.2 1.5 0.8 3 0.3 23.9 0.0 3 -0.2 1.5 -0.4 1.5 -1.2 1.5 -2.3 4 -11.6 1 -1.9 1 -0.6 0.5 0.3 1 1.6 3.5 10.4 1.5 3.1 1.5 1.7 2.5 0.9 44 0.1 2.9 -0.2 5.5 -1.3 5.5 1.3 2.5 0.2 25.5 0.0 3.5 -0.4 4 -1.7 1.5 -0.4 1.5 0.3 4 1.8 3.5 0.4 21.9 0.0 2.5 -0.4 4 -1.7 1.5 -0.3 1.5 0.4 2 0.9" fill="none" stroke="#3a3af0" stroke-width="1.15" stroke-linejoin="round"/>
<path d="M1139.2,333.9l24.5 -0.1 2.5 -0.5 3.5 -1.5 1.5 -0.3 1.5 0.2 4 1.7 2.5 0.4 8.9 0.0 1.5 -0.3 1 -0.6 1 -1.1 1 -2.1 1.5 -6.1 1.5 -10.6 3 -27.1 1 -5.2 0.5 -1.1 0.5 0.1 0.5 1.2 1 5.6 3 27.2 1.5 10.3 1 4.4 1 2.7 1 1.4 1.5 1.0 2 0.1 5.5 -0.8 5 0.8 3.5 0.3 42.4 0.0 4 -0.3 2 -0.9 1.5 -1.9 1.5 -3.3 3 -8.9 1 -1.9 1 -0.6 0.5 0.3 1 1.6 3 8.8 1.5 3.5 1.5 2.1 2 1.1 6 0.4 38.5 0.0 3.4 -0.3 1.5 -0.8 1 -1.1 1.5 -3.4 1.5 -6.3 3.5 -20.7 1 -3.3 0.5 -0.5 0.5 0.2 0.5 1.0 1 4.0 3 18.2 1.5 6.8 1.5 3.7 1 1.3 1 0.6 1.5 0.4 2.5 0.2 36.5 -0.1 3 -0.2 4.5 -1.2 1.5 -0.1 7 1.5 13.4 0.1" fill="none" stroke="#f03c3c" stroke-width="1.15" stroke-linejoin="round"/>
<line x1="109.4" y1="462.8" x2="408.4" y2="462.8" stroke="#3fd3df" stroke-width="1.3" stroke-dasharray="1.4 1.4"/>
<rect x="117.0" y="456.8" width="1.6" height="7.0" fill="#8a8a8a"/>
<text x="117.8" y="472.5" font-size="7.2" text-anchor="middle" fill="#f03c3c">T</text>
<rect x="135.7" y="458.2" width="1.6" height="5.6" fill="#8a8a8a"/>
<text x="136.5" y="472.5" font-size="7.2" text-anchor="middle" fill="#333333">G</text>
<rect x="152.9" y="457.4" width="1.6" height="6.4" fill="#8a8a8a"/>
<text x="153.7" y="472.5" font-size="7.2" text-anchor="middle" fill="#2aa04a">A</text>
<rect x="168.7" y="456.5" width="1.6" height="7.3" fill="#8a8a8a"/>
<text x="169.5" y="472.5" font-size="7.2" text-anchor="middle" fill="#2aa04a">A</text>
<rect x="187.4" y="457.0" width="1.6" height="6.8" fill="#8a8a8a"/>
<text x="188.2" y="472.5" font-size="7.2" text-anchor="middle" fill="#333333">G</text>
<rect x="206.1" y="456.5" width="1.6" height="7.3" fill="#8a8a8a"/>
<text x="206.9" y="472.5" font-size="7.2" text-anchor="middle" fill="#333333">G</text>
<rect x="223.4" y="457.5" width="1.6" height="6.3" fill="#8a8a8a"/>
<text x="224.2" y="472.5" font-size="7.2" text-anchor="middle" fill="#2aa04a">A</text>
<rect x="239.1" y="456.5" width="1.6" height="7.3" fill="#8a8a8a"/>
<text x="239.9" y="472.5" font-size="7.2" text-anchor="middle" fill="#2aa04a">A</text>
<rect x="254.8" y="456.7" width="1.6" height="7.1" fill="#8a8a8a"/>
<text x="255.6" y="472.5" font-size="7.2" text-anchor="middle" fill="#333333">N</text>
<rect x="271.0" y="456.7" width="1.6" height="7.1" fill="#8a8a8a"/>
<text x="271.8" y="472.5" font-size="7.2" text-anchor="middle" fill="#2aa04a">A</text>
<rect x="289.8" y="458.2" width="1.6" height="5.6" fill="#8a8a8a"/>
<text x="290.6" y="472.5" font-size="7.2" text-anchor="middle" fill="#333333">G</text>
<rect x="308.8" y="457.5" width="1.6" height="6.3" fill="#8a8a8a"/>
<text x="309.6" y="472.5" font-size="7.2" text-anchor="middle" fill="#333333">G</text>
<rect x="326.0" y="456.6" width="1.6" height="7.2" fill="#8a8a8a"/>
<text x="326.8" y="472.5" font-size="7.2" text-anchor="middle" fill="#2aa04a">A</text>
<rect x="343.7" y="457.5" width="1.6" height="6.3" fill="#8a8a8a"/>
<text x="344.5" y="472.5" font-size="7.2" text-anchor="middle" fill="#333333">G</text>
<rect x="362.5" y="458.2" width="1.6" height="5.6" fill="#8a8a8a"/>
<text x="363.3" y="472.5" font-size="7.2" text-anchor="middle" fill="#333333">G</text>
<rect x="378.4" y="458.0" width="1.6" height="5.8" fill="#8a8a8a"/>
<text x="379.2" y="472.5" font-size="7.2" text-anchor="middle" fill="#3a3af0">C</text>
<rect x="396.9" y="457.0" width="1.6" height="6.8" fill="#8a8a8a"/>
<text x="397.7" y="472.5" font-size="7.2" text-anchor="middle" fill="#f03c3c">T</text>
<text x="224.7" y="479.9" font-size="6.6" text-anchor="middle" fill="#444">130</text>
<text x="397.7" y="479.9" font-size="6.6" text-anchor="middle" fill="#444">140</text>
<path d="M109.4,568.7l6 -0.2 5.5 -1.5 5 0.7 1.5 -1.0 1 -1.8 1.5 -5.7 1 -6.6 4 -40.0 1 -5.7 0.5 -1.0 0.5 0.4 0.5 1.7 1 6.8 3 31.5 1.5 11.6 1.5 6.5 1.5 2.9 1 0.8 1 0.4 3 0.2 25 0.0 2 -0.3 1.5 -0.7 1.5 -2.1 1.5 -4.7 1.5 -8.3 3 -21.9 1 -4.6 0.5 -1.0 0.5 -0.2 0.5 0.9 1 4.2 3 21.8 1.5 8.5 1.5 4.7 1 1.2 1 -0.2 1 -1.7 0.5 -1.6 1.5 -8.0 1.5 -13.8 3 -33.8 1 -5.9 0.5 -0.9 0.5 0.6 1 5.3 3.5 38.7 1.5 12.4 1.5 6.9 1 2.3 1.5 1.5 1.5 0.2 5 -0.5 5.5 0.9 6 0.1 3.5 -0.2 5.5 -0.9 6 0.7 2 -0.3 3 -1.0 1.5 -0.1 5 1.4 2.5 0.3 13.5 0.1 3 -0.6 1 -0.7 1 -1.4 1.5 -4.2 1.5 -7.5 3.5 -23.4 1 -3.2 0.5 -0.3 0.5 0.6 1 3.6 3 20.3 1.5 8.3 1.5 4.5 1 1.1 0.5 -0.1 1 -1.3 0.5 -1.4 1.5 -7.6 1.5 -13.6 3 -34.3 1 -6.6 0.5 -1.3 0.5 0.2 0.5 1.7 1 7.3 3 34.6 1.5 13.0 1.5 7.4 1.5 3.3 1.5 1.2 1.5 0.3 10.5 0.1 2.5 -0.5 1 -0.6 1 -1.2 1.5 -3.7 1 -4.2 4 -25.8 1 -3.8 0.5 -0.7 0.5 0.2 0.5 1.0 1 4.3 4 25.7 1.5 5.0 0.5 0.9 1 0.6 1 -0.9 1 -2.9 1.5 -9.0 1.5 -15.7 3 -39.6 1 -7.5 0.5 -1.3 0.5 0.3 0.5 2.1 1 8.5 4 50.6 1.5 10.5 1.5 5.0 1.5 1.9 1 0.5 1.5 0.2 16 0.0 7.5 -1.4 5.5 1.2 3 0.3" fill="none" stroke="#2a2a2a" stroke-width="1.15" stroke-linejoin="round"/>
<path d="M109.4,568.7l16 -0.1 2.5 -0.4 3.5 -1.3 1.5 -0.2 5.5 1.7 3.5 0.2 2 -0.4 1.5 -1.3 1.5 -3.5 1.5 -7.6 1.5 -13.0 3 -32.1 1 -5.8 0.5 -1.0 0.5 0.4 1 4.8 4 40.6 1 6.6 1 3.4 0.5 0.6 0.5 -0.3 0.5 -1.1 1 -4.4 1 -7.1 3 -28.2 1 -5.9 0.5 -1.4 0.5 -0.1 0.5 1.0 1 5.5 3 28.3 1.5 11.2 1 4.7 1 2.9 1 1.5 1 0.6 1 0.1 4 -0.7 4.5 1.3 2.5 0.4 18.5 0.1 3 -0.2 1 -0.4 1 -0.9 1.5 -3.0 1.5 -6.8 1.5 -11.9 3 -31.4 1 -6.5 0.5 -1.5 0.5 -0.1 0.5 1.2 1 6.0 4 39.3 1 5.3 1 2.3 0.5 0.0 0.5 -0.8 1 -3.8 1 -6.3 3 -24.9 1 -5.0 0.5 -1.1 0.5 0.0 0.5 1.0 1 5.1 3.5 28.7 1 5.7 1 3.5 1 1.4 0.5 -0.1 1 -1.5 1.5 -5.1 3 -13.1 1 -2.2 0.5 -0.3 0.5 0.4 1 2.3 3 13.3 1.5 5.3 1 1.8 0.5 0.4 0.5 -0.1 0.5 -0.5 1 -2.4 1 -4.4 1.5 -10.4 2.5 -21.4 1 -5.7 0.5 -1.5 0.5 -0.4 0.5 0.7 1 4.4 3 25.0 1.5 10.3 1.5 6.0 1.5 2.9 1.5 1.0 2.5 0.4 27.5 0.0 3.5 -0.4 1.5 -1.1 1 -1.7 1 -3.1 1 -5.1 1.5 -12.4 3 -34.1 1 -7.5 0.5 -2.0 0.5 -0.5 0.5 1.0 1 5.9 3 33.6 1.5 13.6 1.5 8.0 1 2.7 1 1.3 1.5 0.4 2.5 -0.5 1.5 -0.1 4.5 1.5 3 0.5 21.5 0.0 4 -0.3 4.5 -1.8 1.5 -0.2 1.5 0.3 3.5 1.5 2.5 0.4 19 0.1" fill="none" stroke="#2aa04a" stroke-width="1.15" stroke-linejoin="round"/>
<path d="M109.4,568.7l36.5 0.0 2.5 -0.3 5.5 -1.1 5.5 1.1 4 0.3 49 0.0 8.5 -0.6 7.5 0.6 20.5 0.0 3.5 -0.1 6 -0.8 5.5 0.8 4.5 0.1 3.5 -0.2 5.5 -1.0 8 1.2 36 0.0 4.5 -0.3 5.5 -1.7 1.5 0.2 4 1.4 2.5 0.3 29 0.0 1.5 -0.5 1.5 -1.3 1 -1.9 1 -3.1 1.5 -7.5 3 -20.0 1 -4.3 0.5 -1.1 0.5 -0.2 0.5 0.7 1 3.6 4 25.6 1 4.1 1.5 3.7 1.5 1.6 2 0.6 4.5 -0.1 6 -1.3 6.5 1.4" fill="none" stroke="#3a3af0" stroke-width="1.15" stroke-linejoin="round"/>
<path d="M109.4,567.3l1.5 -2.5 1.5 -5.4 4 -26.2 1 -4.5 0.5 -1.0 0.5 -0.3 0.5 0.7 1 3.8 3.5 23.6 1.5 7.0 1 2.9 1 1.7 1 0.9 1.5 0.5 38 0.2 3 -0.2 5.5 -1.1 7.5 1.2 17.5 0.1 3.5 -0.3 5.5 -1.1 7.5 1.3 20 0.1 4 -0.2 4 -0.8 1.5 -0.5 1 -0.8 1 -1.4 1 -2.4 1.5 -6.0 3.5 -19.5 1 -2.8 0.5 -0.4 0.5 0.4 1 2.8 3.5 19.5 1.5 6.3 1.5 3.5 1 1.2 1.5 0.8 3 0.3 11.5 0.0 8 -0.9 5.5 0.8 4 0.0 2.5 -0.4 4 -1.7 1.5 -0.2 1.5 0.3 4 1.7 3.5 0.4 24.5 -0.1 2.5 -0.4 3.5 -1.3 1.5 -0.3 1.5 0.3 4 1.4 2.5 0.3 6 0.0 6 -0.9 7.5 1.0 11 -0.2 1.5 -0.7 1 -1.1 1 -2.0 1 -3.6 2 -13.4 3 -29.2 1 -6.2 0.5 -1.5 0.5 -0.3 0.5 1.0 1 5.3 3.5 33.3 1.5 10.0 1.5 5.3 1 1.7 1.5 1.2" fill="none" stroke="#f03c3c" stroke-width="1.15" stroke-linejoin="round"/>
<line x1="110.7" y1="578.1" x2="408.4" y2="578.1" stroke="#3fd3df" stroke-width="1.3" stroke-dasharray="1.4 1.4"/>
<rect x="120.8" y="571.9" width="1.6" height="7.1" fill="#8a8a8a"/>
<text x="121.6" y="587.8" font-size="7.2" text-anchor="middle" fill="#2aa04a">A</text>
<rect x="136.7" y="572.6" width="1.6" height="6.4" fill="#8a8a8a"/>
<text x="137.5" y="587.8" font-size="7.2" text-anchor="middle" fill="#333333">G</text>
<rect x="153.4" y="572.1" width="1.6" height="7.0" fill="#8a8a8a"/>
<text x="154.2" y="587.8" font-size="7.2" text-anchor="middle" fill="#3a3af0">C</text>
<rect x="171.2" y="571.8" width="1.6" height="7.3" fill="#8a8a8a"/>
<text x="172.0" y="587.8" font-size="7.2" text-anchor="middle" fill="#f03c3c">T</text>
<rect x="188.4" y="572.4" width="1.6" height="6.6" fill="#8a8a8a"/>
<text x="189.2" y="587.8" font-size="7.2" text-anchor="middle" fill="#2aa04a">A</text>
<rect x="203.1" y="573.0" width="1.6" height="6.1" fill="#8a8a8a"/>
<text x="203.9" y="587.8" font-size="7.2" text-anchor="middle" fill="#3a3af0">C</text>
<rect x="218.8" y="573.2" width="1.6" height="5.9" fill="#8a8a8a"/>
<text x="219.6" y="587.8" font-size="7.2" text-anchor="middle" fill="#2aa04a">A</text>
<rect x="238.1" y="572.4" width="1.6" height="6.6" fill="#8a8a8a"/>
<text x="238.9" y="587.8" font-size="7.2" text-anchor="middle" fill="#333333">G</text>
<rect x="255.6" y="572.8" width="1.6" height="6.2" fill="#8a8a8a"/>
<text x="256.4" y="587.8" font-size="7.2" text-anchor="middle" fill="#333333">Y</text>
<rect x="274.0" y="571.7" width="1.6" height="7.4" fill="#8a8a8a"/>
<text x="274.8" y="587.8" font-size="7.2" text-anchor="middle" fill="#333333">G</text>
<rect x="292.3" y="573.2" width="1.6" height="5.9" fill="#8a8a8a"/>
<text x="293.1" y="587.8" font-size="7.2" text-anchor="middle" fill="#2aa04a">A</text>
<rect x="308.8" y="573.6" width="1.6" height="5.5" fill="#8a8a8a"/>
<text x="309.6" y="587.8" font-size="7.2" text-anchor="middle" fill="#2aa04a">A</text>
<rect x="324.7" y="573.4" width="1.6" height="5.7" fill="#8a8a8a"/>
<text x="325.5" y="587.8" font-size="7.2" text-anchor="middle" fill="#f03c3c">T</text>
<rect x="343.7" y="572.6" width="1.6" height="6.4" fill="#8a8a8a"/>
<text x="344.5" y="587.8" font-size="7.2" text-anchor="middle" fill="#333333">G</text>
<rect x="362.0" y="571.7" width="1.6" height="7.4" fill="#8a8a8a"/>
<text x="362.8" y="587.8" font-size="7.2" text-anchor="middle" fill="#333333">G</text>
<rect x="378.9" y="572.7" width="1.6" height="6.3" fill="#8a8a8a"/>
<text x="379.7" y="587.8" font-size="7.2" text-anchor="middle" fill="#2aa04a">A</text>
<rect x="395.4" y="573.3" width="1.6" height="5.8" fill="#8a8a8a"/>
<text x="396.2" y="587.8" font-size="7.2" text-anchor="middle" fill="#2aa04a">A</text>
<text x="189.2" y="595.2" font-size="6.6" text-anchor="middle" fill="#444">190</text>
<text x="362.8" y="595.2" font-size="6.6" text-anchor="middle" fill="#444">200</text>
<path d="M110.7,683.2l7 -0.2 6 -1.7 4.5 0.8 1 -0.3 1 -1.0 1.4 -3.2 1 -3.7 4 -20.5 1 -2.4 0.5 -0.2 0.5 0.5 1 2.9 3.5 18.5 1.5 5.6 1.5 3.0 1 1.0 1.5 0.7 3 0.2 17 0.0 2.5 -0.3 4 -1.1 1.5 -0.1 5 1.2 3.5 0.3 18 0.0 7 -1.0 4.5 0.4 5 -0.4 6.5 0.9 2.9 -0.3 1 -0.5 1 -0.9 1 -1.7 1 -2.7 1.5 -6.3 3 -15.2 1 -2.7 0.5 -0.5 0.5 0.2 1 2.4 4 19.6 1 3.4 1.5 2.9 1.5 1.0 4.5 -0.4 6 1.6 3 0.2 2.5 -0.2 1.5 -0.7 1 -1.0 1 -1.9 1 -3.2 1.5 -7.4 3 -19.9 1 -4.2 0.5 -1.0 0.5 -0.2 0.5 0.7 1 3.7 3 19.7 1.5 7.8 1.5 4.6 1 1.6 1 0.9 1.5 0.4 1.5 0.0 5 -2.0 1.5 -0.2 1.5 0.4 3.5 1.6 3 0.5 14 -0.1 7 -1.7 6.4 1.6 4 -0.1 1.5 -0.9 1 -1.4 1 -2.6 1 -4.5 1.5 -10.9 3.5 -36.1 1 -5.7 0.5 -0.9 0.5 0.4 0.5 1.8 1 7.0 4 40.0 1.5 7.9 0.5 1.6 1 1.6 0.5 0.3 1 -0.7 1.5 -3.7 1.5 -7.4 3 -20.0 1 -4.3 0.5 -1.0 0.5 -0.2 0.5 0.7 1 3.7 3 19.8 1.5 8.0 1.5 4.6 1.5 2.1 2 0.9 2.5 0.0 2 -0.4 3.5 -1.6 1.5 -0.3 1.5 0.3 3.5 1.6 2.5 0.5 17 0.1" fill="none" stroke="#2a2a2a" stroke-width="1.15" stroke-linejoin="round"/>
<path d="M110.7,682.7l1.5 -1.3 1 -2.2 1 -3.9 1 -6.5 1.5 -15.6 3 -42.5 1 -9.4 0.5 -2.4 0.5 -0.5 0.5 1.2 1 7.6 3.5 48.3 1.5 14.7 1 6.0 1 3.5 1.4 2.5 1.5 0.8 2.5 0.2 7 -0.1 7 -1.1 6 1.1 5 0.1 8 -1.4 6.5 1.3 2.5 0.0 2 -0.6 1 -0.8 1 -1.5 1.5 -4.3 1.5 -7.3 3 -18.2 1 -3.3 0.5 -0.6 0.5 0.2 0.5 1.0 1 4.0 3 18.4 1.5 6.8 1.5 3.8 1 1.3 1 0.7 2.5 0.5 7 -0.1 2 -0.4 1.5 -1.1 1.5 -2.6 1 -3.0 4 -17.4 1 -2.4 0.5 -0.3 0.5 0.2 0.5 0.8 1 3.1 4 17.2 1.5 3.5 1 1.3 0.9 0.6 2 0.5 3 0.1 44.5 0.0 4 -0.3 1.5 -1.0 1 -1.4 1 -2.7 1 -4.4 1.5 -10.5 3 -28.3 1 -6.1 0.5 -1.5 0.5 -0.2 0.5 0.9 1 5.2 4 35.6 1.5 7.1 0.5 1.0 0.5 0.4 0.5 -0.2 0.5 -0.9 0.5 -1.6 1 -5.1 4 -37.3 1 -6.4 0.5 -1.5 0.5 -0.3 0.5 1.1 1 5.5 3 29.5 1.5 11.8 1.5 6.9 1 2.4 1 1.3 1.5 0.7 3 0.3 13.4 -0.1 7 -1.3 7.5 1.4 14.5 0.0 3 -0.3 1.5 -0.7 1 -1.3 1 -2.3 1 -4.0 1.5 -9.7 3.5 -32.2 1 -5.1 0.5 -0.8 0.5 0.3 0.5 1.5 1 6.2 2.5 23.7 1.5 11.6 1.5 6.1 0.5 0.7 0.5 0.1 0.5 -0.6 1 -3.1 1 -5.8 4 -37.6 1 -5.3 0.5 -0.9 0.5 0.4 0.5 1.7 1 6.5 3 29.9 1.5 10.9 1 4.5 1 2.8 1 1.5 1.5 1.0" fill="none" stroke="#2aa04a" stroke-width="1.15" stroke-linejoin="round"/>
<path d="M110.7,683.2l23.9 -0.1 2.5 -0.4 4 -1.1 3.5 -0.1 1 -0.5 1.5 -2.3 1.5 -5.3 4 -27.2 1 -4.6 0.5 -1.2 0.5 -0.2 0.5 0.7 1 3.9 3 21.3 1.5 8.6 1.5 5.0 1.5 2.3 1.5 0.9 3 0.3 22.5 0.0 2 -0.1 1.5 -0.6 1.5 -1.7 1 -2.5 1.5 -7.3 1.5 -13.0 3 -34.6 1 -7.3 0.5 -1.7 0.5 -0.3 0.5 1.2 1 6.5 3.5 39.3 1.5 11.4 1 4.4 1 2.4 1 1.2 1.5 0.8 4.5 1.4 3 0.5 20.9 0.0 3.5 -0.5 1.5 -1.1 1.5 -2.4 1.5 -4.2 3 -10.9 1 -2.1 0.5 -0.4 0.5 0.1 0.5 0.5 1 2.2 3 10.8 1.5 4.1 1 1.7 1 1.1 1 0.6 1.5 0.4 29.5 0.1 3 -0.3 5 -1.1 6 1.2 3.5 0.2 60.9 0.0 9 -0.7 7 0.7 17 0.0" fill="none" stroke="#3a3af0" stroke-width="1.15" stroke-linejoin="round"/>
<path d="M110.7,683.2l48.9 0.0 2.5 -0.3 1.5 -0.8 1 -1.4 1 -2.5 1.5 -7.2 1.5 -12.5 3 -31.0 1 -5.7 0.5 -1.1 0.5 0.3 0.5 1.6 1 6.7 3 31.3 2 14.4 1 3.9 1 2.2 1 1.2 1.5 0.7 3.5 0.2 19.5 0.0 2.5 -0.3 4 -1.2 1.5 -0.2 5 1.3 3 0.4 19.9 0.0 3.5 -0.3 2 -1.1 1.5 -2.2 1.5 -3.8 3 -10.1 1 -2.1 0.5 -0.5 0.5 -0.1 0.5 0.3 1 1.9 3 10.1 1.5 4.0 1.5 2.3 1.5 1.1 2 0.4 3 0.1 35 0.0 4.5 -0.4 6.5 -3.0 1 -0.9 1 -1.7 1 -3.0 1 -4.6 3.5 -21.7 1 -3.4 0.5 -0.5 0.4 0.3 0.5 1.1 1 4.4 3 19.6 1.5 7.2 1.5 4.0 1 1.4 1 0.7 1.5 0.4 2.5 0.0 7 -1.0 7.5 1.1 22.5 0.0 3.5 -0.4 4 -1.7 1.5 -0.2 1.5 0.3 3.5 1.5 2 0.4 15.5 0.1" fill="none" stroke="#f03c3c" stroke-width="1.15" stroke-linejoin="round"/>
<line x1="1140.3" y1="469.1" x2="1428.4" y2="469.1" stroke="#3fd3df" stroke-width="1.3" stroke-dasharray="1.4 1.4"/>
<rect x="1147.1" y="464.3" width="1.6" height="5.9" fill="#8a8a8a"/>
<text x="1147.9" y="479.3" font-size="7.2" text-anchor="middle" fill="#f03c3c">T</text>
<rect x="1164.1" y="462.7" width="1.6" height="7.5" fill="#8a8a8a"/>
<text x="1164.9" y="479.3" font-size="7.2" text-anchor="middle" fill="#333333">G</text>
<rect x="1181.8" y="464.0" width="1.6" height="6.2" fill="#8a8a8a"/>
<text x="1182.6" y="479.3" font-size="7.2" text-anchor="middle" fill="#2aa04a">A</text>
<rect x="1197.5" y="462.6" width="1.6" height="7.5" fill="#8a8a8a"/>
<text x="1198.3" y="479.3" font-size="7.2" text-anchor="middle" fill="#2aa04a">A</text>
<rect x="1214.7" y="463.6" width="1.6" height="6.6" fill="#8a8a8a"/>
<text x="1215.5" y="479.3" font-size="7.2" text-anchor="middle" fill="#333333">G</text>
<rect x="1232.5" y="463.3" width="1.6" height="6.9" fill="#8a8a8a"/>
<text x="1233.3" y="479.3" font-size="7.2" text-anchor="middle" fill="#333333">G</text>
<rect x="1251.0" y="464.4" width="1.6" height="5.8" fill="#8a8a8a"/>
<text x="1251.8" y="479.3" font-size="7.2" text-anchor="middle" fill="#2aa04a">A</text>
<rect x="1266.7" y="464.6" width="1.6" height="5.5" fill="#8a8a8a"/>
<text x="1267.5" y="479.3" font-size="7.2" text-anchor="middle" fill="#2aa04a">A</text>
<rect x="1281.9" y="463.0" width="1.6" height="7.1" fill="#8a8a8a"/>
<text x="1282.7" y="479.3" font-size="7.2" text-anchor="middle" fill="#2aa04a">A</text>
<rect x="1297.1" y="464.5" width="1.6" height="5.6" fill="#8a8a8a"/>
<text x="1297.9" y="479.3" font-size="7.2" text-anchor="middle" fill="#2aa04a">A</text>
<rect x="1315.3" y="464.4" width="1.6" height="5.7" fill="#8a8a8a"/>
<text x="1316.1" y="479.3" font-size="7.2" text-anchor="middle" fill="#333333">G</text>
<rect x="1332.6" y="464.3" width="1.6" height="5.9" fill="#8a8a8a"/>
<text x="1333.4" y="479.3" font-size="7.2" text-anchor="middle" fill="#333333">G</text>
<rect x="1350.3" y="463.8" width="1.6" height="6.3" fill="#8a8a8a"/>
<text x="1351.1" y="479.3" font-size="7.2" text-anchor="middle" fill="#2aa04a">A</text>
<rect x="1366.3" y="462.9" width="1.6" height="7.3" fill="#8a8a8a"/>
<text x="1367.1" y="479.3" font-size="7.2" text-anchor="middle" fill="#333333">G</text>
<rect x="1384.0" y="462.7" width="1.6" height="7.5" fill="#8a8a8a"/>
<text x="1384.8" y="479.3" font-size="7.2" text-anchor="middle" fill="#333333">G</text>
<rect x="1399.7" y="463.6" width="1.6" height="6.6" fill="#8a8a8a"/>
<text x="1400.5" y="479.3" font-size="7.2" text-anchor="middle" fill="#3a3af0">C</text>
<rect x="1417.4" y="462.8" width="1.6" height="7.4" fill="#8a8a8a"/>
<text x="1418.2" y="479.3" font-size="7.2" text-anchor="middle" fill="#f03c3c">T</text>
<text x="1267.5" y="486.7" font-size="6.6" text-anchor="middle" fill="#444">130</text>
<path d="M1140.3,573.0l4.5 -0.3 5.5 -2.0 5 0.8 1 -0.6 1 -1.6 1.5 -5.4 1 -6.3 4 -38.2 1 -5.4 0.5 -1.0 0.5 0.3 0.5 1.6 1 6.6 3 30.0 1.5 11.1 1.4 6.3 1.5 2.8 1 0.7 1 0.4 4 0.2 7.5 -0.2 6 -1.5 1.5 0.1 4 1.2 2.5 0.3 3 -0.1 2 -1.0 1.5 -2.4 1.5 -4.8 4 -23.6 1 -4.0 0.5 -1.0 0.5 -0.2 0.5 0.6 1 3.4 3 18.4 1.5 7.3 1.5 3.9 1 0.6 0.5 -0.2 1 -1.8 0.5 -1.6 1.5 -8.3 4 -41.6 1 -7.2 0.5 -1.7 0.5 -0.4 0.5 1.0 1 6.0 3 32.5 1.4 13.2 1 5.7 1 3.5 1 2.0 1 0.9 1.5 0.3 4.5 -0.5 5 1.0 5 0.2 32 0.0 7.5 -0.9 5 0.5 1.9 -0.4 1 -0.9 1 -1.6 1.5 -4.6 1.5 -7.9 3 -19.4 1 -3.5 0.5 -0.5 0.5 0.2 0.5 1.1 1 4.3 2.5 16.6 1.5 8.0 1.5 4.3 0.5 0.5 0.5 0.0 1 -1.5 0.5 -1.6 1.5 -8.7 4 -43.7 1 -7.3 0.5 -1.8 0.5 -0.3 0.5 1.2 1 6.4 3 34.3 1.5 13.7 1.5 8.0 1.5 3.6 1 1.1 1.5 0.6 9 0.2 3 -0.5 1 -0.5 1 -1.2 1.5 -3.5 1 -4.0 4 -23.9 1 -3.3 0.5 -0.6 0.5 0.3 0.5 1.0 1 4.1 3.9 23.7 1.5 4.4 1 1.1 0.5 0.0 1 -1.3 0.5 -1.4 1.5 -7.7 1.5 -14.0 3 -37.9 1 -8.1 0.5 -2.0 0.5 -0.4 0.5 1.3 1 6.9 3 37.5 1.5 15.1 1.5 8.8 1.5 4.0 1.5 1.5 2.5 0.6 15.5 -0.1 2 -0.3 5 -1.4 1.5 0.2 3.5 1.1 2.5 0.4" fill="none" stroke="#2a2a2a" stroke-width="1.15" stroke-linejoin="round"/>
<path d="M1140.3,573.0l30 0.0 2.5 -0.4 1.4 -1.2 1.5 -3.2 1.5 -7.0 1.5 -12.0 3 -29.7 1 -5.5 0.5 -1.0 0.5 0.3 1 4.3 4 37.6 1 6.2 1 3.3 0.5 0.6 0.5 -0.1 0.5 -0.8 1 -3.8 1.5 -10.1 2.5 -21.1 1 -5.4 0.5 -1.4 0.5 -0.2 0.5 0.8 1 4.6 3.5 28.9 1.5 8.7 1 3.5 1 2.1 1 1.1 1.5 0.7 3.5 0.2 25.5 0.0 2.4 -0.4 1.5 -1.1 1.5 -3.1 1.5 -6.5 1.5 -11.3 3 -28.3 1 -5.3 0.5 -0.9 0.5 0.2 0.5 1.4 1 6.1 2.5 23.7 1.5 11.5 1 4.4 0.5 1.2 0.5 0.4 0.5 -0.3 0.5 -0.9 1 -3.7 3.5 -23.0 1 -4.5 0.5 -1.1 0.5 -0.3 0.5 0.7 1 3.8 3 20.4 1.5 7.7 1 2.5 0.5 0.4 0.5 -0.1 0.5 -0.8 1 -3.3 1 -5.7 3.5 -27.5 1 -4.4 0.5 -0.8 0.5 0.3 0.5 1.4 1 5.3 2.5 20.5 1.5 9.9 1 3.9 1 1.5 0.5 -0.1 0.5 -0.8 1.5 -5.6 4 -29.4 1 -4.2 0.5 -0.6 0.5 0.3 0.5 1.3 1 5.1 4 29.7 1.4 6.0 1.5 2.9 1 0.8 1 0.4 3 0.3 15 -0.1 2 -0.4 3.5 -1.5 1.5 -0.3 1.5 0.2 3 1.1 1.5 0.0 1 -0.8 1 -1.7 1 -3.2 1 -5.1 1.5 -11.8 3 -29.2 1 -5.3 0.5 -0.9 0.5 0.4 0.5 1.6 1 6.4 3 29.6 1.5 10.9 1.5 6.1 1 2.0 1 1.0 1.5 0.5 4.5 -0.2 5.4 0.6 8 -0.6 6 0.6 5 0.1 6 -0.1 6 -1.0 7.5 1.0 8 -0.9 5.5 0.8 4 0.2" fill="none" stroke="#2aa04a" stroke-width="1.15" stroke-linejoin="round"/>
<path d="M1140.3,573.0l38.4 0.0 3 -0.4 5 -1.2 5.5 1.3 2.5 0.2 2 -0.3 5 -1.3 1.5 0.2 4.5 1.2 4 0.3 60.9 0.0 8.5 -0.8 8 0.8 29.4 0.0 4 -0.2 5.5 -0.9 6.5 1.0 8 0.1 3.5 -0.2 4.5 -1.2 1.5 -0.1 5 1.2 3 0.3 26.4 0.0 3.5 -0.2 1.5 -0.6 1 -0.9 1 -1.8 1 -2.9 1.5 -7.2 3.5 -23.8 1 -3.8 0.5 -0.6 0.5 0.3 0.5 1.2 1 4.6 4 26.4 1 4.0 1.5 3.3 1.5 1.4 2 0.5 4.5 -0.2 5.5 -1.5 1.5 0.2 4 1.2" fill="none" stroke="#3a3af0" stroke-width="1.15" stroke-linejoin="round"/>
<path d="M1140.3,569.7l1.5 -4.6 1 -5.0 3.5 -22.6 1 -3.6 0.5 -0.6 0.5 0.2 0.5 1.1 1 4.3 3 19.9 1.5 7.4 1 3.0 1 1.9 1 1.0 1.5 0.6 3 -0.1 4 -1.6 1.5 -0.2 1.5 0.2 4 1.6 3.4 0.4 15.5 -0.1 2 -0.3 4 -1.5 1.5 -0.2 4.5 1.3 1.5 0.2 5 -0.7 5.5 1.1 2.5 0.2 25.4 0.0 3.5 -0.3 4.5 -1.7 1.5 -0.2 6.5 2.0 11.5 0.2 4 -0.4 5.5 -1.8 1.5 0.2 4.5 1.7 3 0.3 47.4 0.0 3 -0.3 4 -1.2 1.5 -0.1 5 1.3 2.5 0.3 21.4 0.0 4 -0.3 4.5 -1.8 1.5 -0.3 1.5 0.2 3.5 1.6 2 0.4 6 0.2 3.5 -0.3 8 -2.4 1 -1.0 1 -2.2 1 -3.9 1 -6.0 4 -33.8 1 -3.8 0.5 -0.2 0.5 0.9 1 4.9 3 26.7 1.5 10.6 1 4.6 1 2.8 1 1.7 1 0.8" fill="none" stroke="#f03c3c" stroke-width="1.15" stroke-linejoin="round"/>
<line x1="1140.3" y1="583.9" x2="1428.4" y2="583.9" stroke="#3fd3df" stroke-width="1.3" stroke-dasharray="1.4 1.4"/>
<rect x="1148.9" y="578.3" width="1.6" height="6.7" fill="#8a8a8a"/>
<text x="1149.7" y="594.1" font-size="7.2" text-anchor="middle" fill="#2aa04a">A</text>
<rect x="1164.6" y="578.7" width="1.6" height="6.2" fill="#8a8a8a"/>
<text x="1165.4" y="594.1" font-size="7.2" text-anchor="middle" fill="#333333">G</text>
<rect x="1180.5" y="578.1" width="1.6" height="6.8" fill="#8a8a8a"/>
<text x="1181.3" y="594.1" font-size="7.2" text-anchor="middle" fill="#3a3af0">C</text>
<rect x="1199.0" y="577.8" width="1.6" height="7.1" fill="#8a8a8a"/>
<text x="1199.8" y="594.1" font-size="7.2" text-anchor="middle" fill="#f03c3c">T</text>
<rect x="1215.3" y="578.6" width="1.6" height="6.3" fill="#8a8a8a"/>
<text x="1216.1" y="594.1" font-size="7.2" text-anchor="middle" fill="#2aa04a">A</text>
<rect x="1230.5" y="579.2" width="1.6" height="5.7" fill="#8a8a8a"/>
<text x="1231.3" y="594.1" font-size="7.2" text-anchor="middle" fill="#3a3af0">C</text>
<rect x="1245.7" y="579.4" width="1.6" height="5.5" fill="#8a8a8a"/>
<text x="1246.5" y="594.1" font-size="7.2" text-anchor="middle" fill="#2aa04a">A</text>
<rect x="1262.4" y="579.0" width="1.6" height="5.9" fill="#8a8a8a"/>
<text x="1263.2" y="594.1" font-size="7.2" text-anchor="middle" fill="#333333">G</text>
<rect x="1280.6" y="577.6" width="1.6" height="7.3" fill="#8a8a8a"/>
<text x="1281.4" y="594.1" font-size="7.2" text-anchor="middle" fill="#3a3af0">C</text>
<rect x="1297.6" y="578.7" width="1.6" height="6.2" fill="#8a8a8a"/>
<text x="1298.4" y="594.1" font-size="7.2" text-anchor="middle" fill="#333333">G</text>
<rect x="1316.8" y="578.3" width="1.6" height="6.6" fill="#8a8a8a"/>
<text x="1317.6" y="594.1" font-size="7.2" text-anchor="middle" fill="#2aa04a">A</text>
<rect x="1332.6" y="578.3" width="1.6" height="6.6" fill="#8a8a8a"/>
<text x="1333.4" y="594.1" font-size="7.2" text-anchor="middle" fill="#2aa04a">A</text>
<rect x="1347.8" y="578.1" width="1.6" height="6.8" fill="#8a8a8a"/>
<text x="1348.6" y="594.1" font-size="7.2" text-anchor="middle" fill="#f03c3c">T</text>
<rect x="1366.3" y="577.5" width="1.6" height="7.5" fill="#8a8a8a"/>
<text x="1367.1" y="594.1" font-size="7.2" text-anchor="middle" fill="#333333">G</text>
<rect x="1384.5" y="578.7" width="1.6" height="6.2" fill="#8a8a8a"/>
<text x="1385.3" y="594.1" font-size="7.2" text-anchor="middle" fill="#333333">G</text>
<rect x="1401.5" y="577.8" width="1.6" height="7.2" fill="#8a8a8a"/>
<text x="1402.3" y="594.1" font-size="7.2" text-anchor="middle" fill="#2aa04a">A</text>
<rect x="1416.9" y="579.1" width="1.6" height="5.8" fill="#8a8a8a"/>
<text x="1417.7" y="594.1" font-size="7.2" text-anchor="middle" fill="#2aa04a">A</text>
<text x="1231.3" y="601.5" font-size="6.6" text-anchor="middle" fill="#444">190</text>
<text x="1402.3" y="601.5" font-size="6.6" text-anchor="middle" fill="#444">200</text>
<path d="M1140.3,680.7l3.5 -0.2 5.5 -1.0 6 0.8 1.5 -0.4 1 -0.9 1.5 -2.7 1 -3.1 4 -21.2 1 -3.7 0.5 -0.8 0.5 -0.2 0.5 0.5 1 3.0 3.5 19.1 1.5 5.7 0.9 2.4 1 1.3 1 0.8 1.5 0.4 4 0.1 6 -0.9 6.5 0.9 5.5 0.0 8.5 -1.0 5 -1.0 6.5 1.9 7.5 0.2 7 -0.7 5.5 0.2 5.9 -1.8 1.5 0.2 5 1.8 2 0.1 1.5 -0.3 1 -0.6 1 -1.1 1.5 -3.4 1.5 -5.9 3 -15.9 1 -3.3 0.5 -0.8 0.5 -0.1 0.5 0.5 1 3.0 3 15.7 1.5 6.2 1 2.7 1 1.7 1 0.9 1 0.5 3 0.4 10 -0.1 2 -0.4 1.5 -1.0 1.5 -2.5 1 -2.8 4 -19.0 1 -3.2 0.5 -0.7 0.5 -0.2 0.5 0.5 1 2.8 3 14.8 1.4 5.9 1.5 3.5 1 1.2 1 0.6 1.5 0.4 2 -0.1 4.5 -1.5 1.5 -0.2 1.5 0.3 3.5 1.2 3 0.4 25.5 0.1 3.5 -0.4 1.5 -1.1 1 -1.7 1 -3.2 1 -5.4 1.5 -13.3 3.5 -43.7 1 -6.8 0.5 -1.1 0.5 0.5 0.5 2.1 1 8.4 3.9 48.6 1.5 9.6 0.5 1.9 1 2.1 0.5 0.4 1 -0.6 1.5 -3.9 1.5 -7.7 3 -21.1 1 -4.6 0.5 -1.1 0.5 -0.2 0.5 0.7 1 3.9 3 20.9 1.5 8.4 1.5 5.0 1.5 2.2 1.5 0.7 1.5 0.0 4.5 -1.6 1.5 -0.2 6 2.0 2 -0.1 5 -0.7 6 1.0 6 0.1" fill="none" stroke="#2a2a2a" stroke-width="1.15" stroke-linejoin="round"/>
<path d="M1140.3,679.6l1 -1.5 1 -2.7 1.5 -8.0 1.5 -14.2 3 -38.7 1 -8.5 0.5 -2.1 0.5 -0.4 0.5 1.1 1 6.9 3.5 44.1 1.5 13.3 1 5.4 1 3.2 1.5 2.2 1.5 0.8 3 0.2 8.9 -0.1 2 -0.4 4 -1.7 1.5 -0.3 1.5 0.4 3.5 1.5 2.5 0.5 14.5 0.1 2 -0.2 1.5 -0.5 1.5 -1.5 1.5 -3.3 1.5 -5.8 3 -15.7 1 -3.4 0.5 -0.8 0.5 -0.2 0.5 0.5 1 2.9 3 15.5 1.5 6.3 1.5 3.6 1 1.2 1 0.6 1.5 0.2 4 -0.3 5 0.5 1.5 -0.5 1 -0.8 1.4 -2.4 1 -2.7 4 -14.4 1 -1.5 0.5 -0.1 0.5 0.4 1 2.2 3 11.3 1.5 4.5 1.5 2.6 2 1.4 3 0.4 13 -0.1 2.5 -0.4 3.5 -1.3 1.5 -0.3 1.5 0.3 4 1.4 2.5 0.3 17 0.1 2.9 -0.4 1.5 -0.9 1 -1.5 1.5 -4.4 1.5 -8.2 3.5 -27.1 1 -4.3 0.5 -0.8 0.5 0.2 0.5 1.3 1 5.2 2.5 19.9 1.5 9.6 1 3.6 0.5 0.9 0.5 0.3 0.5 -0.4 0.5 -1.0 1 -4.0 1 -6.6 3.5 -31.9 1 -5.1 0.5 -0.9 0.5 0.4 0.5 1.5 1 6.2 3 28.2 1.5 10.3 1.5 5.5 1.5 2.1 1 0.4 3.5 0.4 4 1.2 3 0.3 11 -0.1 6.4 -0.7 7 0.7 10 0.1 2.5 -0.2 1.5 -0.7 1 -1.0 1 -2.0 1.5 -5.6 1.5 -9.4 3 -23.6 1 -4.3 0.5 -0.8 0.5 0.2 0.5 1.3 1 5.1 4 29.9 1 4.0 0.5 1.2 0.5 0.7 0.5 0.1 1 -1.3 0.5 -1.5 1 -4.6 4 -30.1 1 -4.3 0.5 -0.7 0.5 0.3 0.5 1.2 1 5.2 4 30.2 1.5 6.1 1.5 3.0" fill="none" stroke="#2aa04a" stroke-width="1.15" stroke-linejoin="round"/>
<path d="M1140.3,680.7l20 -0.1 2.5 -0.2 5 -1.3 4 0.5 1.4 -0.5 1.5 -1.9 1.5 -4.5 4 -22.1 1 -3.8 0.5 -0.9 0.5 -0.1 0.5 0.5 1 3.2 3 17.3 1.5 7.0 1.5 4.1 1.5 1.8 1.5 0.7 2.5 0.2 3 -0.2 5 -0.9 8.5 1.2 7 -0.1 2.5 -0.7 1 -1.0 1 -1.9 1 -3.4 1 -5.4 1.5 -12.5 3 -30.7 1 -5.5 0.5 -0.9 0.5 0.5 0.5 1.7 1 6.8 3 31.1 1.5 11.4 1 4.7 0.9 2.9 1 1.5 1 0.6 1.5 0.1 4.5 -1.3 1.5 0.2 4 1.5 3 0.3 14 0.0 1.5 -0.2 1.5 -0.9 1.5 -2.1 1.5 -4.4 4 -21.2 1 -3.6 0.5 -0.8 0.5 -0.1 0.5 0.6 1 3.1 3 16.6 1.5 6.6 1 2.8 1 1.8 1 1.0 1.5 0.6 3.5 0.3 19.9 -0.1 2.5 -0.4 4 -1.5 1.5 -0.2 6.5 2.0 2.5 0.0 5 -0.8 5 0.5 1.5 -0.3 3.5 -1.4 1.5 -0.3 1.5 0.3 4 1.7 3.5 0.5 39.4 0.0 7 -0.8 4.5 0.0 4 -0.5 7 1.2 8 0.1" fill="none" stroke="#3a3af0" stroke-width="1.15" stroke-linejoin="round"/>
<path d="M1140.3,680.6l7.5 -0.9 6.5 0.9 9.5 0.0 2.5 -0.2 5 -1.2 4.9 0.9 5.5 -0.4 6 0.8 1.5 -0.1 1.5 -0.7 1 -1.2 1 -2.2 1.5 -6.3 1.5 -10.7 3 -26.7 1 -4.9 0.5 -0.9 0.5 0.2 0.5 1.4 1 5.8 3 27.0 1.5 10.1 1 4.2 1 2.5 1 1.3 1 0.5 1.5 -0.1 3 -1.3 1.5 -0.3 1.5 0.3 4 1.8 2 0.4 18.4 0.1 3 -0.4 5 -1.5 5 0.7 5 -1.2 1.5 0.3 4 1.6 3.5 0.5 69.4 -0.2 1.5 -0.4 1 -0.6 1 -1.2 1 -2.0 1.5 -4.6 3 -12.5 1 -2.6 0.5 -0.6 0.5 -0.1 0.5 0.4 1 2.3 3 12.4 1.5 4.9 1 2.1 1 1.3 2 1.1 4 0.3 50.4 0.0 3.5 -0.5 4 -1.7 1.5 -0.3 1.5 0.4 3.5 1.5" fill="none" stroke="#f03c3c" stroke-width="1.15" stroke-linejoin="round"/>
</g>
<text transform="translate(394.00,844.00) scale(0.94,1)" x="0" y="0" font-size="30.5" font-weight="bold" text-anchor="middle" fill="#000" >Left ear</text>
<circle cx="143.2" cy="910.1" r="2.4" fill="#000"/>
<circle cx="156.6" cy="910.1" r="2.4" fill="#000"/>
<circle cx="170.0" cy="910.1" r="2.4" fill="#000"/>
<circle cx="183.3" cy="910.1" r="2.4" fill="#000"/>
<circle cx="196.7" cy="910.1" r="2.4" fill="#000"/>
<circle cx="210.1" cy="910.1" r="2.4" fill="#000"/>
<circle cx="223.5" cy="910.1" r="2.4" fill="#000"/>
<circle cx="236.9" cy="910.1" r="2.4" fill="#000"/>
<circle cx="250.2" cy="910.1" r="2.4" fill="#000"/>
<circle cx="263.6" cy="910.1" r="2.4" fill="#000"/>
<circle cx="277.0" cy="910.1" r="2.4" fill="#000"/>
<circle cx="290.4" cy="910.1" r="2.4" fill="#000"/>
<circle cx="303.8" cy="910.1" r="2.4" fill="#000"/>
<circle cx="317.1" cy="910.1" r="2.4" fill="#000"/>
<circle cx="330.5" cy="910.1" r="2.4" fill="#000"/>
<circle cx="343.9" cy="910.1" r="2.4" fill="#000"/>
<circle cx="357.3" cy="910.1" r="2.4" fill="#000"/>
<circle cx="370.7" cy="910.1" r="2.4" fill="#000"/>
<circle cx="384.0" cy="910.1" r="2.4" fill="#000"/>
<circle cx="397.4" cy="910.1" r="2.4" fill="#000"/>
<circle cx="410.8" cy="910.1" r="2.4" fill="#000"/>
<circle cx="424.2" cy="910.1" r="2.4" fill="#000"/>
<circle cx="437.6" cy="910.1" r="2.4" fill="#000"/>
<circle cx="450.9" cy="910.1" r="2.4" fill="#000"/>
<circle cx="464.3" cy="910.1" r="2.4" fill="#000"/>
<circle cx="477.7" cy="910.1" r="2.4" fill="#000"/>
<circle cx="491.1" cy="910.1" r="2.4" fill="#000"/>
<circle cx="504.5" cy="910.1" r="2.4" fill="#000"/>
<circle cx="517.8" cy="910.1" r="2.4" fill="#000"/>
<circle cx="531.2" cy="910.1" r="2.4" fill="#000"/>
<circle cx="544.6" cy="910.1" r="2.4" fill="#000"/>
<circle cx="558.0" cy="910.1" r="2.4" fill="#000"/>
<circle cx="571.4" cy="910.1" r="2.4" fill="#000"/>
<circle cx="584.7" cy="910.1" r="2.4" fill="#000"/>
<circle cx="598.1" cy="910.1" r="2.4" fill="#000"/>
<circle cx="611.5" cy="910.1" r="2.4" fill="#000"/>
<circle cx="624.9" cy="910.1" r="2.4" fill="#000"/>
<circle cx="638.3" cy="910.1" r="2.4" fill="#000"/>
<circle cx="651.6" cy="910.1" r="2.4" fill="#000"/>
<path d="M130.4,873.0 H656.0 V1354.8 H130.4 Z" fill="none" stroke="#000" stroke-width="4.3" stroke-linejoin="miter"/>
<line x1="123.9" y1="873.0" x2="130.4" y2="873.0" stroke="#000" stroke-width="4.3"/>
<text x="118.40" y="881.30" font-size="23.5" font-weight="bold" text-anchor="end" fill="#000" >-10</text>
<line x1="123.9" y1="910.1" x2="130.4" y2="910.1" stroke="#000" stroke-width="4.3"/>
<text x="118.40" y="918.36" font-size="23.5" font-weight="bold" text-anchor="end" fill="#000" >0</text>
<line x1="123.9" y1="947.1" x2="130.4" y2="947.1" stroke="#000" stroke-width="4.3"/>
<text x="118.40" y="955.42" font-size="23.5" font-weight="bold" text-anchor="end" fill="#000" >10</text>
<line x1="123.9" y1="984.2" x2="130.4" y2="984.2" stroke="#000" stroke-width="4.3"/>
<text x="118.40" y="992.48" font-size="23.5" font-weight="bold" text-anchor="end" fill="#000" >20</text>
<line x1="123.9" y1="1021.2" x2="130.4" y2="1021.2" stroke="#000" stroke-width="4.3"/>
<text x="118.40" y="1029.55" font-size="23.5" font-weight="bold" text-anchor="end" fill="#000" >30</text>
<line x1="123.9" y1="1058.3" x2="130.4" y2="1058.3" stroke="#000" stroke-width="4.3"/>
<text x="118.40" y="1066.61" font-size="23.5" font-weight="bold" text-anchor="end" fill="#000" >40</text>
<line x1="123.9" y1="1095.4" x2="130.4" y2="1095.4" stroke="#000" stroke-width="4.3"/>
<text x="118.40" y="1103.67" font-size="23.5" font-weight="bold" text-anchor="end" fill="#000" >50</text>
<line x1="123.9" y1="1132.4" x2="130.4" y2="1132.4" stroke="#000" stroke-width="4.3"/>
<text x="118.40" y="1140.73" font-size="23.5" font-weight="bold" text-anchor="end" fill="#000" >60</text>
<line x1="123.9" y1="1169.5" x2="130.4" y2="1169.5" stroke="#000" stroke-width="4.3"/>
<text x="118.40" y="1177.79" font-size="23.5" font-weight="bold" text-anchor="end" fill="#000" >70</text>
<line x1="123.9" y1="1206.6" x2="130.4" y2="1206.6" stroke="#000" stroke-width="4.3"/>
<text x="118.40" y="1214.85" font-size="23.5" font-weight="bold" text-anchor="end" fill="#000" >80</text>
<line x1="123.9" y1="1243.6" x2="130.4" y2="1243.6" stroke="#000" stroke-width="4.3"/>
<text x="118.40" y="1251.92" font-size="23.5" font-weight="bold" text-anchor="end" fill="#000" >90</text>
<line x1="123.9" y1="1280.7" x2="130.4" y2="1280.7" stroke="#000" stroke-width="4.3"/>
<text x="118.40" y="1288.98" font-size="23.5" font-weight="bold" text-anchor="end" fill="#000" >100</text>
<line x1="123.9" y1="1317.7" x2="130.4" y2="1317.7" stroke="#000" stroke-width="4.3"/>
<text x="118.40" y="1326.04" font-size="23.5" font-weight="bold" text-anchor="end" fill="#000" >110</text>
<line x1="123.9" y1="1354.8" x2="130.4" y2="1354.8" stroke="#000" stroke-width="4.3"/>
<text x="118.40" y="1363.10" font-size="23.5" font-weight="bold" text-anchor="end" fill="#000" >120</text>
<line x1="167.5" y1="1354.8" x2="167.5" y2="1361.8" stroke="#000" stroke-width="4.3"/>
<text transform="translate(172.0,1377.6) rotate(-45)" font-size="22.6" font-weight="bold" text-anchor="end">125</text>
<line x1="242.7" y1="1354.8" x2="242.7" y2="1361.8" stroke="#000" stroke-width="4.3"/>
<text transform="translate(247.2,1377.6) rotate(-45)" font-size="22.6" font-weight="bold" text-anchor="end">250</text>
<line x1="317.8" y1="1354.8" x2="317.8" y2="1361.8" stroke="#000" stroke-width="4.3"/>
<text transform="translate(322.3,1377.6) rotate(-45)" font-size="22.6" font-weight="bold" text-anchor="end">500</text>
<line x1="393.0" y1="1354.8" x2="393.0" y2="1361.8" stroke="#000" stroke-width="4.3"/>
<text transform="translate(397.5,1377.6) rotate(-45)" font-size="22.6" font-weight="bold" text-anchor="end">1000</text>
<line x1="468.1" y1="1354.8" x2="468.1" y2="1361.8" stroke="#000" stroke-width="4.3"/>
<text transform="translate(472.6,1377.6) rotate(-45)" font-size="22.6" font-weight="bold" text-anchor="end">2000</text>
<line x1="543.2" y1="1354.8" x2="543.2" y2="1361.8" stroke="#000" stroke-width="4.3"/>
<text transform="translate(547.8,1377.6) rotate(-45)" font-size="22.6" font-weight="bold" text-anchor="end">4000</text>
<line x1="618.4" y1="1354.8" x2="618.4" y2="1361.8" stroke="#000" stroke-width="4.3"/>
<text transform="translate(622.9,1377.6) rotate(-45)" font-size="22.6" font-weight="bold" text-anchor="end">8000</text>
<polyline points="167.5,1002.7 242.7,1021.2 317.8,1039.8 393.0,1021.2 468.1,1095.4 543.2,1113.9 618.4,1095.4" fill="none" stroke="#c585ba" stroke-width="4" stroke-linejoin="round"/>
<circle cx="167.5" cy="1002.7" r="6.7" fill="#c585ba"/>
<circle cx="242.7" cy="1021.2" r="6.7" fill="#c585ba"/>
<circle cx="317.8" cy="1039.8" r="6.7" fill="#c585ba"/>
<circle cx="393.0" cy="1021.2" r="6.7" fill="#c585ba"/>
<circle cx="468.1" cy="1095.4" r="6.7" fill="#c585ba"/>
<circle cx="543.2" cy="1113.9" r="6.7" fill="#c585ba"/>
<circle cx="618.4" cy="1095.4" r="6.7" fill="#c585ba"/>
<polyline points="167.5,1076.8 242.7,1113.9 317.8,1095.4 393.0,1095.4 468.1,1169.5 543.2,1151.0 618.4,1188.0" fill="none" stroke="#00488f" stroke-width="4" stroke-linejoin="round"/>
<circle cx="167.5" cy="1076.8" r="6.7" fill="#00488f"/>
<circle cx="242.7" cy="1113.9" r="6.7" fill="#00488f"/>
<circle cx="317.8" cy="1095.4" r="6.7" fill="#00488f"/>
<circle cx="393.0" cy="1095.4" r="6.7" fill="#00488f"/>
<circle cx="468.1" cy="1169.5" r="6.7" fill="#00488f"/>
<circle cx="543.2" cy="1151.0" r="6.7" fill="#00488f"/>
<circle cx="618.4" cy="1188.0" r="6.7" fill="#00488f"/>
<polyline points="167.5,1132.4 242.7,1132.4 317.8,1132.4 393.0,1132.4 468.1,1188.0 543.2,1206.6 618.4,1206.6" fill="none" stroke="#009a3e" stroke-width="4" stroke-linejoin="round"/>
<circle cx="167.5" cy="1132.4" r="6.7" fill="#009a3e"/>
<circle cx="242.7" cy="1132.4" r="6.7" fill="#009a3e"/>
<circle cx="317.8" cy="1132.4" r="6.7" fill="#009a3e"/>
<circle cx="393.0" cy="1132.4" r="6.7" fill="#009a3e"/>
<circle cx="468.1" cy="1188.0" r="6.7" fill="#009a3e"/>
<circle cx="543.2" cy="1206.6" r="6.7" fill="#009a3e"/>
<circle cx="618.4" cy="1206.6" r="6.7" fill="#009a3e"/>
<polyline points="167.5,1151.0 242.7,1169.5 317.8,1151.0 393.0,1188.0 468.1,1206.6 543.2,1206.6 618.4,1225.1" fill="none" stroke="#ef9242" stroke-width="4" stroke-linejoin="round"/>
<circle cx="167.5" cy="1151.0" r="6.7" fill="#ef9242"/>
<circle cx="242.7" cy="1169.5" r="6.7" fill="#ef9242"/>
<circle cx="317.8" cy="1151.0" r="6.7" fill="#ef9242"/>
<circle cx="393.0" cy="1188.0" r="6.7" fill="#ef9242"/>
<circle cx="468.1" cy="1206.6" r="6.7" fill="#ef9242"/>
<circle cx="543.2" cy="1206.6" r="6.7" fill="#ef9242"/>
<circle cx="618.4" cy="1225.1" r="6.7" fill="#ef9242"/>
<polyline points="167.5,1169.5 242.7,1243.6 317.8,1262.1 393.0,1280.7 468.1,1354.8" fill="none" stroke="#ae0f1a" stroke-width="4" stroke-linejoin="round"/>
<circle cx="167.5" cy="1169.5" r="6.7" fill="#ae0f1a"/>
<circle cx="242.7" cy="1243.6" r="6.7" fill="#ae0f1a"/>
<circle cx="317.8" cy="1262.1" r="6.7" fill="#ae0f1a"/>
<circle cx="393.0" cy="1280.7" r="6.7" fill="#ae0f1a"/>
<circle cx="468.1" cy="1354.8" r="6.7" fill="#ae0f1a"/>
<text x="393.20" y="1434.00" font-size="25.5" font-weight="bold" text-anchor="middle" fill="#000" >Hz</text>
<text transform="translate(75.4,1111.4) rotate(-90)" font-size="25" font-weight="bold" text-anchor="middle">dB</text>
<text transform="translate(1063.50,844.00) scale(0.94,1)" x="0" y="0" font-size="30.5" font-weight="bold" text-anchor="middle" fill="#000" >Right ear</text>
<circle cx="812.8" cy="910.1" r="2.4" fill="#000"/>
<circle cx="826.2" cy="910.1" r="2.4" fill="#000"/>
<circle cx="839.6" cy="910.1" r="2.4" fill="#000"/>
<circle cx="852.9" cy="910.1" r="2.4" fill="#000"/>
<circle cx="866.3" cy="910.1" r="2.4" fill="#000"/>
<circle cx="879.7" cy="910.1" r="2.4" fill="#000"/>
<circle cx="893.1" cy="910.1" r="2.4" fill="#000"/>
<circle cx="906.5" cy="910.1" r="2.4" fill="#000"/>
<circle cx="919.8" cy="910.1" r="2.4" fill="#000"/>
<circle cx="933.2" cy="910.1" r="2.4" fill="#000"/>
<circle cx="946.6" cy="910.1" r="2.4" fill="#000"/>
<circle cx="960.0" cy="910.1" r="2.4" fill="#000"/>
<circle cx="973.4" cy="910.1" r="2.4" fill="#000"/>
<circle cx="986.7" cy="910.1" r="2.4" fill="#000"/>
<circle cx="1000.1" cy="910.1" r="2.4" fill="#000"/>
<circle cx="1013.5" cy="910.1" r="2.4" fill="#000"/>
<circle cx="1026.9" cy="910.1" r="2.4" fill="#000"/>
<circle cx="1040.3" cy="910.1" r="2.4" fill="#000"/>
<circle cx="1053.6" cy="910.1" r="2.4" fill="#000"/>
<circle cx="1067.0" cy="910.1" r="2.4" fill="#000"/>
<circle cx="1080.4" cy="910.1" r="2.4" fill="#000"/>
<circle cx="1093.8" cy="910.1" r="2.4" fill="#000"/>
<circle cx="1107.2" cy="910.1" r="2.4" fill="#000"/>
<circle cx="1120.5" cy="910.1" r="2.4" fill="#000"/>
<circle cx="1133.9" cy="910.1" r="2.4" fill="#000"/>
<circle cx="1147.3" cy="910.1" r="2.4" fill="#000"/>
<circle cx="1160.7" cy="910.1" r="2.4" fill="#000"/>
<circle cx="1174.1" cy="910.1" r="2.4" fill="#000"/>
<circle cx="1187.4" cy="910.1" r="2.4" fill="#000"/>
<circle cx="1200.8" cy="910.1" r="2.4" fill="#000"/>
<circle cx="1214.2" cy="910.1" r="2.4" fill="#000"/>
<circle cx="1227.6" cy="910.1" r="2.4" fill="#000"/>
<circle cx="1241.0" cy="910.1" r="2.4" fill="#000"/>
<circle cx="1254.3" cy="910.1" r="2.4" fill="#000"/>
<circle cx="1267.7" cy="910.1" r="2.4" fill="#000"/>
<circle cx="1281.1" cy="910.1" r="2.4" fill="#000"/>
<circle cx="1294.5" cy="910.1" r="2.4" fill="#000"/>
<circle cx="1307.9" cy="910.1" r="2.4" fill="#000"/>
<circle cx="1321.2" cy="910.1" r="2.4" fill="#000"/>
<path d="M800.0,873.0 H1326.0 V1354.8 H800.0 Z" fill="none" stroke="#000" stroke-width="4.3" stroke-linejoin="miter"/>
<line x1="793.5" y1="873.0" x2="800.0" y2="873.0" stroke="#000" stroke-width="4.3"/>
<text x="788.00" y="881.30" font-size="23.5" font-weight="bold" text-anchor="end" fill="#000" >-10</text>
<line x1="793.5" y1="910.1" x2="800.0" y2="910.1" stroke="#000" stroke-width="4.3"/>
<text x="788.00" y="918.36" font-size="23.5" font-weight="bold" text-anchor="end" fill="#000" >0</text>
<line x1="793.5" y1="947.1" x2="800.0" y2="947.1" stroke="#000" stroke-width="4.3"/>
<text x="788.00" y="955.42" font-size="23.5" font-weight="bold" text-anchor="end" fill="#000" >10</text>
<line x1="793.5" y1="984.2" x2="800.0" y2="984.2" stroke="#000" stroke-width="4.3"/>
<text x="788.00" y="992.48" font-size="23.5" font-weight="bold" text-anchor="end" fill="#000" >20</text>
<line x1="793.5" y1="1021.2" x2="800.0" y2="1021.2" stroke="#000" stroke-width="4.3"/>
<text x="788.00" y="1029.55" font-size="23.5" font-weight="bold" text-anchor="end" fill="#000" >30</text>
<line x1="793.5" y1="1058.3" x2="800.0" y2="1058.3" stroke="#000" stroke-width="4.3"/>
<text x="788.00" y="1066.61" font-size="23.5" font-weight="bold" text-anchor="end" fill="#000" >40</text>
<line x1="793.5" y1="1095.4" x2="800.0" y2="1095.4" stroke="#000" stroke-width="4.3"/>
<text x="788.00" y="1103.67" font-size="23.5" font-weight="bold" text-anchor="end" fill="#000" >50</text>
<line x1="793.5" y1="1132.4" x2="800.0" y2="1132.4" stroke="#000" stroke-width="4.3"/>
<text x="788.00" y="1140.73" font-size="23.5" font-weight="bold" text-anchor="end" fill="#000" >60</text>
<line x1="793.5" y1="1169.5" x2="800.0" y2="1169.5" stroke="#000" stroke-width="4.3"/>
<text x="788.00" y="1177.79" font-size="23.5" font-weight="bold" text-anchor="end" fill="#000" >70</text>
<line x1="793.5" y1="1206.6" x2="800.0" y2="1206.6" stroke="#000" stroke-width="4.3"/>
<text x="788.00" y="1214.85" font-size="23.5" font-weight="bold" text-anchor="end" fill="#000" >80</text>
<line x1="793.5" y1="1243.6" x2="800.0" y2="1243.6" stroke="#000" stroke-width="4.3"/>
<text x="788.00" y="1251.92" font-size="23.5" font-weight="bold" text-anchor="end" fill="#000" >90</text>
<line x1="793.5" y1="1280.7" x2="800.0" y2="1280.7" stroke="#000" stroke-width="4.3"/>
<text x="788.00" y="1288.98" font-size="23.5" font-weight="bold" text-anchor="end" fill="#000" >100</text>
<line x1="793.5" y1="1317.7" x2="800.0" y2="1317.7" stroke="#000" stroke-width="4.3"/>
<text x="788.00" y="1326.04" font-size="23.5" font-weight="bold" text-anchor="end" fill="#000" >110</text>
<line x1="793.5" y1="1354.8" x2="800.0" y2="1354.8" stroke="#000" stroke-width="4.3"/>
<text x="788.00" y="1363.10" font-size="23.5" font-weight="bold" text-anchor="end" fill="#000" >120</text>
<line x1="837.1" y1="1354.8" x2="837.1" y2="1361.8" stroke="#000" stroke-width="4.3"/>
<text transform="translate(841.6,1377.6) rotate(-45)" font-size="22.6" font-weight="bold" text-anchor="end">125</text>
<line x1="912.3" y1="1354.8" x2="912.3" y2="1361.8" stroke="#000" stroke-width="4.3"/>
<text transform="translate(916.8,1377.6) rotate(-45)" font-size="22.6" font-weight="bold" text-anchor="end">250</text>
<line x1="987.5" y1="1354.8" x2="987.5" y2="1361.8" stroke="#000" stroke-width="4.3"/>
<text transform="translate(992.0,1377.6) rotate(-45)" font-size="22.6" font-weight="bold" text-anchor="end">500</text>
<line x1="1062.7" y1="1354.8" x2="1062.7" y2="1361.8" stroke="#000" stroke-width="4.3"/>
<text transform="translate(1067.2,1377.6) rotate(-45)" font-size="22.6" font-weight="bold" text-anchor="end">1000</text>
<line x1="1137.9" y1="1354.8" x2="1137.9" y2="1361.8" stroke="#000" stroke-width="4.3"/>
<text transform="translate(1142.4,1377.6) rotate(-45)" font-size="22.6" font-weight="bold" text-anchor="end">2000</text>
<line x1="1213.1" y1="1354.8" x2="1213.1" y2="1361.8" stroke="#000" stroke-width="4.3"/>
<text transform="translate(1217.6,1377.6) rotate(-45)" font-size="22.6" font-weight="bold" text-anchor="end">4000</text>
<line x1="1288.3" y1="1354.8" x2="1288.3" y2="1361.8" stroke="#000" stroke-width="4.3"/>
<text transform="translate(1292.8,1377.6) rotate(-45)" font-size="22.6" font-weight="bold" text-anchor="end">8000</text>
<polyline points="837.1,1021.2 912.3,1058.3 987.5,1039.8 1062.7,1058.3 1137.9,1095.4 1213.1,1095.4 1288.3,1039.8" fill="none" stroke="#c585ba" stroke-width="4" stroke-linejoin="round"/>
<circle cx="837.1" cy="1021.2" r="6.7" fill="#c585ba"/>
<circle cx="912.3" cy="1058.3" r="6.7" fill="#c585ba"/>
<circle cx="987.5" cy="1039.8" r="6.7" fill="#c585ba"/>
<circle cx="1062.7" cy="1058.3" r="6.7" fill="#c585ba"/>
<circle cx="1137.9" cy="1095.4" r="6.7" fill="#c585ba"/>
<circle cx="1213.1" cy="1095.4" r="6.7" fill="#c585ba"/>
<circle cx="1288.3" cy="1039.8" r="6.7" fill="#c585ba"/>
<polyline points="837.1,1076.8 912.3,1095.4 987.5,1076.8 1062.7,1058.3 1137.9,1113.9 1213.1,1076.8 1288.3,1169.5" fill="none" stroke="#00488f" stroke-width="4" stroke-linejoin="round"/>
<circle cx="837.1" cy="1076.8" r="6.7" fill="#00488f"/>
<circle cx="912.3" cy="1095.4" r="6.7" fill="#00488f"/>
<circle cx="987.5" cy="1076.8" r="6.7" fill="#00488f"/>
<circle cx="1062.7" cy="1058.3" r="6.7" fill="#00488f"/>
<circle cx="1137.9" cy="1113.9" r="6.7" fill="#00488f"/>
<circle cx="1213.1" cy="1076.8" r="6.7" fill="#00488f"/>
<circle cx="1288.3" cy="1169.5" r="6.7" fill="#00488f"/>
<polyline points="837.1,1132.4 912.3,1113.9 987.5,1113.9 1062.7,1113.9 1137.9,1151.0 1213.1,1169.5 1288.3,1188.0" fill="none" stroke="#009a3e" stroke-width="4" stroke-linejoin="round"/>
<circle cx="837.1" cy="1132.4" r="6.7" fill="#009a3e"/>
<circle cx="912.3" cy="1113.9" r="6.7" fill="#009a3e"/>
<circle cx="987.5" cy="1113.9" r="6.7" fill="#009a3e"/>
<circle cx="1062.7" cy="1113.9" r="6.7" fill="#009a3e"/>
<circle cx="1137.9" cy="1151.0" r="6.7" fill="#009a3e"/>
<circle cx="1213.1" cy="1169.5" r="6.7" fill="#009a3e"/>
<circle cx="1288.3" cy="1188.0" r="6.7" fill="#009a3e"/>
<polyline points="837.1,1151.0 912.3,1188.0 987.5,1188.0 1062.7,1206.6 1137.9,1225.1 1213.1,1225.1 1288.3,1243.6" fill="none" stroke="#ef9242" stroke-width="4" stroke-linejoin="round"/>
<circle cx="837.1" cy="1151.0" r="6.7" fill="#ef9242"/>
<circle cx="912.3" cy="1188.0" r="6.7" fill="#ef9242"/>
<circle cx="987.5" cy="1188.0" r="6.7" fill="#ef9242"/>
<circle cx="1062.7" cy="1206.6" r="6.7" fill="#ef9242"/>
<circle cx="1137.9" cy="1225.1" r="6.7" fill="#ef9242"/>
<circle cx="1213.1" cy="1225.1" r="6.7" fill="#ef9242"/>
<circle cx="1288.3" cy="1243.6" r="6.7" fill="#ef9242"/>
<polyline points="837.1,1169.5 912.3,1243.6 987.5,1262.1 1062.7,1225.1 1137.9,1243.6 1213.1,1354.8" fill="none" stroke="#ae0f1a" stroke-width="4" stroke-linejoin="round"/>
<circle cx="837.1" cy="1169.5" r="6.7" fill="#ae0f1a"/>
<circle cx="912.3" cy="1243.6" r="6.7" fill="#ae0f1a"/>
<circle cx="987.5" cy="1262.1" r="6.7" fill="#ae0f1a"/>
<circle cx="1062.7" cy="1225.1" r="6.7" fill="#ae0f1a"/>
<circle cx="1137.9" cy="1243.6" r="6.7" fill="#ae0f1a"/>
<circle cx="1213.1" cy="1354.8" r="6.7" fill="#ae0f1a"/>
<text x="1063.00" y="1434.00" font-size="25.5" font-weight="bold" text-anchor="middle" fill="#000" >Hz</text>
<text transform="translate(745.0,1111.4) rotate(-90)" font-size="25" font-weight="bold" text-anchor="middle">dB</text>
<line x1="1348.7" y1="887.8" x2="1372.9" y2="887.8" stroke="#c585ba" stroke-width="4.3"/>
<circle cx="1360.8" cy="887.8" r="6.8" fill="#c585ba"/>
<text x="1386.50" y="894.00" font-size="18.6" font-weight="normal" text-anchor="start" fill="#000" >1986 (19 yo)</text>
<line x1="1348.7" y1="913.3" x2="1372.9" y2="913.3" stroke="#00488f" stroke-width="4.3"/>
<circle cx="1360.8" cy="913.3" r="6.8" fill="#00488f"/>
<text x="1386.50" y="919.55" font-size="18.6" font-weight="normal" text-anchor="start" fill="#000" >1991 (24 yo)</text>
<line x1="1348.7" y1="938.9" x2="1372.9" y2="938.9" stroke="#009a3e" stroke-width="4.3"/>
<circle cx="1360.8" cy="938.9" r="6.8" fill="#009a3e"/>
<text x="1386.50" y="945.10" font-size="18.6" font-weight="normal" text-anchor="start" fill="#000" >1994 (27 yo)</text>
<line x1="1348.7" y1="964.4" x2="1372.9" y2="964.4" stroke="#ef9242" stroke-width="4.3"/>
<circle cx="1360.8" cy="964.4" r="6.8" fill="#ef9242"/>
<text x="1386.50" y="970.65" font-size="18.6" font-weight="normal" text-anchor="start" fill="#000" >1998 (31 yo)</text>
<line x1="1348.7" y1="990.0" x2="1372.9" y2="990.0" stroke="#ae0f1a" stroke-width="4.3"/>
<circle cx="1360.8" cy="990.0" r="6.8" fill="#ae0f1a"/>
<text x="1386.50" y="996.20" font-size="18.6" font-weight="normal" text-anchor="start" fill="#000" >2010 (43 yo)</text>
<defs>
<clipPath id="cp1"><rect x="57.3" y="1495.6" width="468.2" height="374.4"/></clipPath>
<clipPath id="cp2"><rect x="525.5" y="1495.6" width="467.5" height="374.4"/></clipPath>
<clipPath id="cp3"><rect x="993.0" y="1495.6" width="501.4" height="370.4"/></clipPath>
<clipPath id="cp4"><rect x="57.3" y="1870.0" width="468.2" height="369.5"/></clipPath>
<clipPath id="cp5"><rect x="525.5" y="1870.0" width="467.5" height="369.5"/></clipPath>
<clipPath id="cp6"><rect x="993.0" y="1866.0" width="501.4" height="373.5"/></clipPath>
<filter id="bl12" x="-5%" y="-5%" width="110%" height="110%"><feGaussianBlur stdDeviation="16"/></filter>
<filter id="blv" x="-2%" y="-5%" width="104%" height="110%"><feGaussianBlur stdDeviation="3 7"/></filter>
<filter id="bl05" x="-5%" y="-5%" width="110%" height="110%"><feGaussianBlur stdDeviation="0.6"/></filter>
<filter id="bl15" x="-50%" y="-50%" width="200%" height="200%"><feGaussianBlur stdDeviation="15"/></filter>
<filter id="bl2" x="-50%" y="-50%" width="200%" height="200%"><feGaussianBlur stdDeviation="2"/></filter>
<filter id="bl1" x="-50%" y="-50%" width="200%" height="200%"><feGaussianBlur stdDeviation="1"/></filter>
<filter id="bl4" x="-50%" y="-50%" width="200%" height="200%"><feGaussianBlur stdDeviation="4"/></filter>
<filter id="bl8" x="-50%" y="-50%" width="200%" height="200%"><feGaussianBlur stdDeviation="8"/></filter>
<filter id="bl3" x="-20%" y="-20%" width="140%" height="140%"><feGaussianBlur stdDeviation="3"/></filter>
<filter id="mottle" x="0" y="0" width="100%" height="100%" color-interpolation-filters="sRGB"><feTurbulence type="fractalNoise" baseFrequency="0.045" numOctaves="2" seed="11"/><feColorMatrix type="matrix" values="0 0 0 0 0.35  0 0 0 0 0.12  0 0 0 0 0  -1.4 0 0 0 0.75"/></filter>
<filter id="speckW" x="0" y="0" width="100%" height="100%" color-interpolation-filters="sRGB"><feTurbulence type="fractalNoise" baseFrequency="0.34" numOctaves="2" seed="5"/><feColorMatrix type="matrix" values="0 0 0 0 0.56  0 0 0 0 0.56  0 0 0 0 0.56  6 0 0 0 -2.95"/><feGaussianBlur stdDeviation="0.5"/></filter>
<filter id="speck" x="0" y="0" width="100%" height="100%" color-interpolation-filters="sRGB"><feTurbulence type="fractalNoise" baseFrequency="0.36" numOctaves="2" seed="3"/><feColorMatrix type="matrix" values="0 0 0 0 0  0 0 0 0 0  0 0 0 0 0  -9 0 0 0 4.7"/></filter>
<filter id="speck2" x="0" y="0" width="100%" height="100%" color-interpolation-filters="sRGB"><feTurbulence type="fractalNoise" baseFrequency="0.40" numOctaves="2" seed="9"/><feColorMatrix type="matrix" values="0 0 0 0 1  0 0 0 0 1  0 0 0 0 1  9 0 0 0 -5.2"/></filter>
</defs>
<rect x="57.3" y="1495.6" width="1437.1" height="743.9" fill="#000"/>
<g clip-path="url(#cp1)">
<clipPath id="fp1"><path d="M506.0,1778.0 C509.0,1784.0 511.9,1785.5 513.4,1794.5 C513.9,1800.5 512.4,1803.5 509.4,1804.0 L493.3,1806.0 Q490.3,1806.5 489.3,1807.5 A242.5,242.5 0 1 1 506.0,1778.0 Z"/></clipPath>
<g clip-path="url(#fp1)">
<defs><linearGradient id="g1"><stop offset="0.000" stop-color="#bb6918"/><stop offset="0.059" stop-color="#bc6918"/><stop offset="0.118" stop-color="#bc6a18"/><stop offset="0.176" stop-color="#bd6b19"/><stop offset="0.235" stop-color="#bf6d19"/><stop offset="0.294" stop-color="#c16f19"/><stop offset="0.353" stop-color="#c3711a"/><stop offset="0.412" stop-color="#c4741b"/><stop offset="0.471" stop-color="#c6771c"/><stop offset="0.529" stop-color="#c87a1d"/><stop offset="0.588" stop-color="#ca7d1e"/><stop offset="0.647" stop-color="#cb801e"/><stop offset="0.706" stop-color="#cb821f"/><stop offset="0.765" stop-color="#cb8420"/><stop offset="0.824" stop-color="#cb8621"/><stop offset="0.882" stop-color="#ca8722"/><stop offset="0.941" stop-color="#ca8722"/><stop offset="1.000" stop-color="#c98722"/></linearGradient><linearGradient id="g2"><stop offset="0.000" stop-color="#bb6818"/><stop offset="0.059" stop-color="#bb6918"/><stop offset="0.118" stop-color="#bc6918"/><stop offset="0.176" stop-color="#bd6b18"/><stop offset="0.235" stop-color="#bf6c19"/><stop offset="0.294" stop-color="#c06f19"/><stop offset="0.353" stop-color="#c2711a"/><stop offset="0.412" stop-color="#c4741b"/><stop offset="0.471" stop-color="#c7771c"/><stop offset="0.529" stop-color="#c97a1d"/><stop offset="0.588" stop-color="#ca7d1d"/><stop offset="0.647" stop-color="#cb801e"/><stop offset="0.706" stop-color="#cb831f"/><stop offset="0.765" stop-color="#cc8520"/><stop offset="0.824" stop-color="#cb8621"/><stop offset="0.882" stop-color="#cb8722"/><stop offset="0.941" stop-color="#ca8822"/><stop offset="1.000" stop-color="#c98722"/></linearGradient><linearGradient id="g3"><stop offset="0.000" stop-color="#bb6818"/><stop offset="0.059" stop-color="#bb6818"/><stop offset="0.118" stop-color="#bc6918"/><stop offset="0.176" stop-color="#bd6a18"/><stop offset="0.235" stop-color="#be6c19"/><stop offset="0.294" stop-color="#c06e19"/><stop offset="0.353" stop-color="#c2711a"/><stop offset="0.412" stop-color="#c4741b"/><stop offset="0.471" stop-color="#c7771b"/><stop offset="0.529" stop-color="#c97a1d"/><stop offset="0.588" stop-color="#cb7d1d"/><stop offset="0.647" stop-color="#cb801e"/><stop offset="0.706" stop-color="#cc8320"/><stop offset="0.765" stop-color="#cc8520"/><stop offset="0.824" stop-color="#cc8721"/><stop offset="0.882" stop-color="#cb8822"/><stop offset="0.941" stop-color="#ca8822"/><stop offset="1.000" stop-color="#c98823"/></linearGradient><linearGradient id="g4"><stop offset="0.000" stop-color="#bb6718"/><stop offset="0.059" stop-color="#bb6818"/><stop offset="0.118" stop-color="#bb6818"/><stop offset="0.176" stop-color="#bc6918"/><stop offset="0.235" stop-color="#be6b18"/><stop offset="0.294" stop-color="#c06e19"/><stop offset="0.353" stop-color="#c2701a"/><stop offset="0.412" stop-color="#c4731a"/><stop offset="0.471" stop-color="#c7771b"/><stop offset="0.529" stop-color="#c97a1c"/><stop offset="0.588" stop-color="#cb7e1d"/><stop offset="0.647" stop-color="#cc811e"/><stop offset="0.706" stop-color="#cc8420"/><stop offset="0.765" stop-color="#cc8621"/><stop offset="0.824" stop-color="#cc8821"/><stop offset="0.882" stop-color="#cb8822"/><stop offset="0.941" stop-color="#ca8922"/><stop offset="1.000" stop-color="#c98823"/></linearGradient><linearGradient id="g5"><stop offset="0.000" stop-color="#ba6718"/><stop offset="0.059" stop-color="#ba6717"/><stop offset="0.118" stop-color="#bb6817"/><stop offset="0.176" stop-color="#bc6918"/><stop offset="0.235" stop-color="#be6b18"/><stop offset="0.294" stop-color="#c06d19"/><stop offset="0.353" stop-color="#c27019"/><stop offset="0.412" stop-color="#c4731a"/><stop offset="0.471" stop-color="#c7771b"/><stop offset="0.529" stop-color="#c97a1c"/><stop offset="0.588" stop-color="#cb7e1d"/><stop offset="0.647" stop-color="#cc811e"/><stop offset="0.706" stop-color="#cd8420"/><stop offset="0.765" stop-color="#cd8721"/><stop offset="0.824" stop-color="#cc8822"/><stop offset="0.882" stop-color="#cb8922"/><stop offset="0.941" stop-color="#cb8923"/><stop offset="1.000" stop-color="#ca8923"/></linearGradient><linearGradient id="g6"><stop offset="0.000" stop-color="#ba6618"/><stop offset="0.059" stop-color="#ba6617"/><stop offset="0.118" stop-color="#ba6717"/><stop offset="0.176" stop-color="#bb6817"/><stop offset="0.235" stop-color="#bd6a18"/><stop offset="0.294" stop-color="#c06d19"/><stop offset="0.353" stop-color="#c27019"/><stop offset="0.412" stop-color="#c4731a"/><stop offset="0.471" stop-color="#c7761b"/><stop offset="0.529" stop-color="#ca7a1c"/><stop offset="0.588" stop-color="#cc7e1d"/><stop offset="0.647" stop-color="#cd811e"/><stop offset="0.706" stop-color="#cd8520"/><stop offset="0.765" stop-color="#cd8721"/><stop offset="0.824" stop-color="#cd8922"/><stop offset="0.882" stop-color="#cc8a22"/><stop offset="0.941" stop-color="#cb8a23"/><stop offset="1.000" stop-color="#ca8923"/></linearGradient><linearGradient id="g7"><stop offset="0.000" stop-color="#ba6617"/><stop offset="0.059" stop-color="#ba6617"/><stop offset="0.118" stop-color="#ba6617"/><stop offset="0.176" stop-color="#bb6717"/><stop offset="0.235" stop-color="#bd6a18"/><stop offset="0.294" stop-color="#bf6c18"/><stop offset="0.353" stop-color="#c26f19"/><stop offset="0.412" stop-color="#c4721a"/><stop offset="0.471" stop-color="#c7761b"/><stop offset="0.529" stop-color="#ca7a1c"/><stop offset="0.588" stop-color="#cc7e1d"/><stop offset="0.647" stop-color="#cd811e"/><stop offset="0.706" stop-color="#cd8520"/><stop offset="0.765" stop-color="#cd8821"/><stop offset="0.824" stop-color="#cd8a22"/><stop offset="0.882" stop-color="#cc8a23"/><stop offset="0.941" stop-color="#cb8a23"/><stop offset="1.000" stop-color="#ca8a23"/></linearGradient><linearGradient id="g8"><stop offset="0.000" stop-color="#b96517"/><stop offset="0.059" stop-color="#b96517"/><stop offset="0.118" stop-color="#b96617"/><stop offset="0.176" stop-color="#ba6717"/><stop offset="0.235" stop-color="#bc6917"/><stop offset="0.294" stop-color="#bf6c18"/><stop offset="0.353" stop-color="#c26f19"/><stop offset="0.412" stop-color="#c4721a"/><stop offset="0.471" stop-color="#c7761b"/><stop offset="0.529" stop-color="#ca7b1c"/><stop offset="0.588" stop-color="#cd7e1d"/><stop offset="0.647" stop-color="#ce821e"/><stop offset="0.706" stop-color="#ce8620"/><stop offset="0.765" stop-color="#ce8921"/><stop offset="0.824" stop-color="#cd8b22"/><stop offset="0.882" stop-color="#cc8b23"/><stop offset="0.941" stop-color="#cb8b23"/><stop offset="1.000" stop-color="#ca8b23"/></linearGradient><linearGradient id="g9"><stop offset="0.000" stop-color="#b96517"/><stop offset="0.059" stop-color="#b96517"/><stop offset="0.118" stop-color="#b96516"/><stop offset="0.176" stop-color="#ba6616"/><stop offset="0.235" stop-color="#bc6817"/><stop offset="0.294" stop-color="#bf6b18"/><stop offset="0.353" stop-color="#c26f19"/><stop offset="0.412" stop-color="#c47219"/><stop offset="0.471" stop-color="#c7761b"/><stop offset="0.529" stop-color="#cb7b1c"/><stop offset="0.588" stop-color="#cd7e1d"/><stop offset="0.647" stop-color="#ce821e"/><stop offset="0.706" stop-color="#ce8620"/><stop offset="0.765" stop-color="#ce8a21"/><stop offset="0.824" stop-color="#ce8b22"/><stop offset="0.882" stop-color="#cc8c23"/><stop offset="0.941" stop-color="#cb8c23"/><stop offset="1.000" stop-color="#ca8b24"/></linearGradient><linearGradient id="g10"><stop offset="0.000" stop-color="#b96417"/><stop offset="0.059" stop-color="#b86416"/><stop offset="0.118" stop-color="#b86416"/><stop offset="0.176" stop-color="#b96516"/><stop offset="0.235" stop-color="#bb6717"/><stop offset="0.294" stop-color="#be6b18"/><stop offset="0.353" stop-color="#c26e18"/><stop offset="0.412" stop-color="#c47119"/><stop offset="0.471" stop-color="#c7751b"/><stop offset="0.529" stop-color="#cb7b1c"/><stop offset="0.588" stop-color="#ce7f1d"/><stop offset="0.647" stop-color="#ce821e"/><stop offset="0.706" stop-color="#cf8720"/><stop offset="0.765" stop-color="#cf8b22"/><stop offset="0.824" stop-color="#ce8c23"/><stop offset="0.882" stop-color="#cd8d23"/><stop offset="0.941" stop-color="#cb8c24"/><stop offset="1.000" stop-color="#ca8c24"/></linearGradient><linearGradient id="g11"><stop offset="0.000" stop-color="#b86417"/><stop offset="0.059" stop-color="#b86316"/><stop offset="0.118" stop-color="#b86316"/><stop offset="0.176" stop-color="#b86416"/><stop offset="0.235" stop-color="#ba6616"/><stop offset="0.294" stop-color="#be6a17"/><stop offset="0.353" stop-color="#c26e18"/><stop offset="0.412" stop-color="#c47119"/><stop offset="0.471" stop-color="#c7751a"/><stop offset="0.529" stop-color="#cb7b1c"/><stop offset="0.588" stop-color="#ce7f1d"/><stop offset="0.647" stop-color="#cf821f"/><stop offset="0.706" stop-color="#cf8820"/><stop offset="0.765" stop-color="#cf8c22"/><stop offset="0.824" stop-color="#ce8d23"/><stop offset="0.882" stop-color="#cd8d23"/><stop offset="0.941" stop-color="#cb8d24"/><stop offset="1.000" stop-color="#ca8c24"/></linearGradient><linearGradient id="g12"><stop offset="0.000" stop-color="#b86316"/><stop offset="0.059" stop-color="#b76316"/><stop offset="0.118" stop-color="#b76216"/><stop offset="0.176" stop-color="#b76315"/><stop offset="0.235" stop-color="#ba6616"/><stop offset="0.294" stop-color="#be6a17"/><stop offset="0.353" stop-color="#c16e18"/><stop offset="0.412" stop-color="#c47019"/><stop offset="0.471" stop-color="#c7751a"/><stop offset="0.529" stop-color="#cb7b1c"/><stop offset="0.588" stop-color="#ce7f1d"/><stop offset="0.647" stop-color="#cf831f"/><stop offset="0.706" stop-color="#cf8821"/><stop offset="0.765" stop-color="#d08d22"/><stop offset="0.824" stop-color="#cf8e23"/><stop offset="0.882" stop-color="#cd8e24"/><stop offset="0.941" stop-color="#cb8e24"/><stop offset="1.000" stop-color="#ca8d24"/></linearGradient><linearGradient id="g13"><stop offset="0.000" stop-color="#b76316"/><stop offset="0.059" stop-color="#b76216"/><stop offset="0.118" stop-color="#b66215"/><stop offset="0.176" stop-color="#b66215"/><stop offset="0.235" stop-color="#b96516"/><stop offset="0.294" stop-color="#bd6917"/><stop offset="0.353" stop-color="#c16d18"/><stop offset="0.412" stop-color="#c47019"/><stop offset="0.471" stop-color="#c7751a"/><stop offset="0.529" stop-color="#cb7b1c"/><stop offset="0.588" stop-color="#ce7f1d"/><stop offset="0.647" stop-color="#cf831f"/><stop offset="0.706" stop-color="#d08921"/><stop offset="0.765" stop-color="#d08d22"/><stop offset="0.824" stop-color="#cf8f23"/><stop offset="0.882" stop-color="#cd8f24"/><stop offset="0.941" stop-color="#cc8e24"/><stop offset="1.000" stop-color="#ca8d25"/></linearGradient><linearGradient id="g14"><stop offset="0.000" stop-color="#b76216"/><stop offset="0.059" stop-color="#b66116"/><stop offset="0.118" stop-color="#b66115"/><stop offset="0.176" stop-color="#b66115"/><stop offset="0.235" stop-color="#b86415"/><stop offset="0.294" stop-color="#bd6917"/><stop offset="0.353" stop-color="#c16d18"/><stop offset="0.412" stop-color="#c47019"/><stop offset="0.471" stop-color="#c7741a"/><stop offset="0.529" stop-color="#cb7a1c"/><stop offset="0.588" stop-color="#ce7f1d"/><stop offset="0.647" stop-color="#cf831f"/><stop offset="0.706" stop-color="#d08a21"/><stop offset="0.765" stop-color="#d08e22"/><stop offset="0.824" stop-color="#cf9023"/><stop offset="0.882" stop-color="#cd9024"/><stop offset="0.941" stop-color="#cc8f25"/><stop offset="1.000" stop-color="#ca8e25"/></linearGradient><linearGradient id="g15"><stop offset="0.000" stop-color="#b76216"/><stop offset="0.059" stop-color="#b66115"/><stop offset="0.118" stop-color="#b56015"/><stop offset="0.176" stop-color="#b56014"/><stop offset="0.235" stop-color="#b76315"/><stop offset="0.294" stop-color="#bc6817"/><stop offset="0.353" stop-color="#c16d18"/><stop offset="0.412" stop-color="#c47018"/><stop offset="0.471" stop-color="#c7741a"/><stop offset="0.529" stop-color="#cb7a1c"/><stop offset="0.588" stop-color="#ce7f1d"/><stop offset="0.647" stop-color="#cf831f"/><stop offset="0.706" stop-color="#d08a21"/><stop offset="0.765" stop-color="#d18f23"/><stop offset="0.824" stop-color="#cf9024"/><stop offset="0.882" stop-color="#cd9125"/><stop offset="0.941" stop-color="#cc9025"/><stop offset="1.000" stop-color="#ca8f25"/></linearGradient><linearGradient id="g16"><stop offset="0.000" stop-color="#b66116"/><stop offset="0.059" stop-color="#b56015"/><stop offset="0.118" stop-color="#b45f14"/><stop offset="0.176" stop-color="#b45f14"/><stop offset="0.235" stop-color="#b66215"/><stop offset="0.294" stop-color="#bc6716"/><stop offset="0.353" stop-color="#c16c18"/><stop offset="0.412" stop-color="#c46f18"/><stop offset="0.471" stop-color="#c7741a"/><stop offset="0.529" stop-color="#cb7a1c"/><stop offset="0.588" stop-color="#ce7f1d"/><stop offset="0.647" stop-color="#cf841f"/><stop offset="0.706" stop-color="#d08b21"/><stop offset="0.765" stop-color="#d19023"/><stop offset="0.824" stop-color="#cf9124"/><stop offset="0.882" stop-color="#cd9225"/><stop offset="0.941" stop-color="#cc9125"/><stop offset="1.000" stop-color="#ca8f25"/></linearGradient><linearGradient id="g17"><stop offset="0.000" stop-color="#b66116"/><stop offset="0.059" stop-color="#b56015"/><stop offset="0.118" stop-color="#b45e14"/><stop offset="0.176" stop-color="#b35e13"/><stop offset="0.235" stop-color="#b56114"/><stop offset="0.294" stop-color="#bb6716"/><stop offset="0.353" stop-color="#c16c18"/><stop offset="0.412" stop-color="#c46f19"/><stop offset="0.471" stop-color="#c7741a"/><stop offset="0.529" stop-color="#cb7a1c"/><stop offset="0.588" stop-color="#ce7f1d"/><stop offset="0.647" stop-color="#cf841f"/><stop offset="0.706" stop-color="#d08b21"/><stop offset="0.765" stop-color="#d19023"/><stop offset="0.824" stop-color="#cf9224"/><stop offset="0.882" stop-color="#cd9325"/><stop offset="0.941" stop-color="#cc9226"/><stop offset="1.000" stop-color="#ca9026"/></linearGradient><linearGradient id="g18"><stop offset="0.000" stop-color="#b66016"/><stop offset="0.059" stop-color="#b55f15"/><stop offset="0.118" stop-color="#b35e14"/><stop offset="0.176" stop-color="#b25d13"/><stop offset="0.235" stop-color="#b56014"/><stop offset="0.294" stop-color="#bb6616"/><stop offset="0.353" stop-color="#c06c18"/><stop offset="0.412" stop-color="#c46f19"/><stop offset="0.471" stop-color="#c7741a"/><stop offset="0.529" stop-color="#cb7a1c"/><stop offset="0.588" stop-color="#cd7e1e"/><stop offset="0.647" stop-color="#ce841f"/><stop offset="0.706" stop-color="#d08b22"/><stop offset="0.765" stop-color="#d19023"/><stop offset="0.824" stop-color="#cf9325"/><stop offset="0.882" stop-color="#cd9426"/><stop offset="0.941" stop-color="#cc9226"/><stop offset="1.000" stop-color="#ca9026"/></linearGradient><linearGradient id="g19"><stop offset="0.000" stop-color="#b55f15"/><stop offset="0.059" stop-color="#b45e15"/><stop offset="0.118" stop-color="#b35d14"/><stop offset="0.176" stop-color="#b25c13"/><stop offset="0.235" stop-color="#b45f14"/><stop offset="0.294" stop-color="#ba6616"/><stop offset="0.353" stop-color="#c06b18"/><stop offset="0.412" stop-color="#c46f19"/><stop offset="0.471" stop-color="#c7741b"/><stop offset="0.529" stop-color="#cb7a1c"/><stop offset="0.588" stop-color="#cd7e1e"/><stop offset="0.647" stop-color="#ce8420"/><stop offset="0.706" stop-color="#cf8b22"/><stop offset="0.765" stop-color="#d09124"/><stop offset="0.824" stop-color="#cf9425"/><stop offset="0.882" stop-color="#cd9526"/><stop offset="0.941" stop-color="#cb9326"/><stop offset="1.000" stop-color="#ca9126"/></linearGradient><linearGradient id="g20"><stop offset="0.000" stop-color="#b55f15"/><stop offset="0.059" stop-color="#b45e14"/><stop offset="0.118" stop-color="#b35d14"/><stop offset="0.176" stop-color="#b15c13"/><stop offset="0.235" stop-color="#b45f14"/><stop offset="0.294" stop-color="#ba6516"/><stop offset="0.353" stop-color="#c06b18"/><stop offset="0.412" stop-color="#c36f19"/><stop offset="0.471" stop-color="#c7751b"/><stop offset="0.529" stop-color="#cb7a1c"/><stop offset="0.588" stop-color="#cd7e1e"/><stop offset="0.647" stop-color="#ce8420"/><stop offset="0.706" stop-color="#cf8b22"/><stop offset="0.765" stop-color="#d09124"/><stop offset="0.824" stop-color="#cf9526"/><stop offset="0.882" stop-color="#cd9627"/><stop offset="0.941" stop-color="#cb9427"/><stop offset="1.000" stop-color="#ca9227"/></linearGradient><linearGradient id="g21"><stop offset="0.000" stop-color="#b55e15"/><stop offset="0.059" stop-color="#b35d14"/><stop offset="0.118" stop-color="#b25c13"/><stop offset="0.176" stop-color="#b15c13"/><stop offset="0.235" stop-color="#b45e14"/><stop offset="0.294" stop-color="#ba6516"/><stop offset="0.353" stop-color="#bf6b18"/><stop offset="0.412" stop-color="#c36f19"/><stop offset="0.471" stop-color="#c7741b"/><stop offset="0.529" stop-color="#cb791c"/><stop offset="0.588" stop-color="#cd7e1e"/><stop offset="0.647" stop-color="#ce8420"/><stop offset="0.706" stop-color="#cf8b22"/><stop offset="0.765" stop-color="#cf9124"/><stop offset="0.824" stop-color="#cf9626"/><stop offset="0.882" stop-color="#cd9727"/><stop offset="0.941" stop-color="#cb9527"/><stop offset="1.000" stop-color="#ca9227"/></linearGradient><linearGradient id="g22"><stop offset="0.000" stop-color="#b45e15"/><stop offset="0.059" stop-color="#b35d14"/><stop offset="0.118" stop-color="#b25c13"/><stop offset="0.176" stop-color="#b15c13"/><stop offset="0.235" stop-color="#b45e14"/><stop offset="0.294" stop-color="#ba6416"/><stop offset="0.353" stop-color="#bf6a18"/><stop offset="0.412" stop-color="#c36f19"/><stop offset="0.471" stop-color="#c7741b"/><stop offset="0.529" stop-color="#cb791c"/><stop offset="0.588" stop-color="#cd7e1e"/><stop offset="0.647" stop-color="#ce8420"/><stop offset="0.706" stop-color="#cf8b22"/><stop offset="0.765" stop-color="#cf9224"/><stop offset="0.824" stop-color="#ce9727"/><stop offset="0.882" stop-color="#cd9828"/><stop offset="0.941" stop-color="#cb9628"/><stop offset="1.000" stop-color="#c99327"/></linearGradient><linearGradient id="g23"><stop offset="0.000" stop-color="#b45d15"/><stop offset="0.059" stop-color="#b35c14"/><stop offset="0.118" stop-color="#b25b13"/><stop offset="0.176" stop-color="#b25c13"/><stop offset="0.235" stop-color="#b45e14"/><stop offset="0.294" stop-color="#ba6416"/><stop offset="0.353" stop-color="#bf6a18"/><stop offset="0.412" stop-color="#c36f19"/><stop offset="0.471" stop-color="#c7741b"/><stop offset="0.529" stop-color="#cb791c"/><stop offset="0.588" stop-color="#cc7e1e"/><stop offset="0.647" stop-color="#cd8420"/><stop offset="0.706" stop-color="#cf8b22"/><stop offset="0.765" stop-color="#cf9225"/><stop offset="0.824" stop-color="#ce9827"/><stop offset="0.882" stop-color="#cd9928"/><stop offset="0.941" stop-color="#cb9628"/><stop offset="1.000" stop-color="#c99328"/></linearGradient><linearGradient id="g24"><stop offset="0.000" stop-color="#b35c15"/><stop offset="0.059" stop-color="#b25b14"/><stop offset="0.118" stop-color="#b25b13"/><stop offset="0.176" stop-color="#b25c13"/><stop offset="0.235" stop-color="#b55e14"/><stop offset="0.294" stop-color="#ba6416"/><stop offset="0.353" stop-color="#be6918"/><stop offset="0.412" stop-color="#c26e19"/><stop offset="0.471" stop-color="#c7741b"/><stop offset="0.529" stop-color="#cb791c"/><stop offset="0.588" stop-color="#cc7e1e"/><stop offset="0.647" stop-color="#cd8520"/><stop offset="0.706" stop-color="#cf8b23"/><stop offset="0.765" stop-color="#ce9225"/><stop offset="0.824" stop-color="#ce9927"/><stop offset="0.882" stop-color="#cc9928"/><stop offset="0.941" stop-color="#ca9729"/><stop offset="1.000" stop-color="#c99428"/></linearGradient><linearGradient id="g25"><stop offset="0.000" stop-color="#b35c15"/><stop offset="0.059" stop-color="#b25a14"/><stop offset="0.118" stop-color="#b15a13"/><stop offset="0.176" stop-color="#b25c13"/><stop offset="0.235" stop-color="#b55f14"/><stop offset="0.294" stop-color="#ba6316"/><stop offset="0.353" stop-color="#be6818"/><stop offset="0.412" stop-color="#c26e19"/><stop offset="0.471" stop-color="#c6731b"/><stop offset="0.529" stop-color="#ca781c"/><stop offset="0.588" stop-color="#cc7d1e"/><stop offset="0.647" stop-color="#cd8520"/><stop offset="0.706" stop-color="#cf8b23"/><stop offset="0.765" stop-color="#ce9225"/><stop offset="0.824" stop-color="#ce9928"/><stop offset="0.882" stop-color="#cc9a29"/><stop offset="0.941" stop-color="#ca9829"/><stop offset="1.000" stop-color="#c99428"/></linearGradient><linearGradient id="g26"><stop offset="0.000" stop-color="#b35b14"/><stop offset="0.059" stop-color="#b15a14"/><stop offset="0.118" stop-color="#b15a13"/><stop offset="0.176" stop-color="#b25b14"/><stop offset="0.235" stop-color="#b55f15"/><stop offset="0.294" stop-color="#ba6316"/><stop offset="0.353" stop-color="#be6818"/><stop offset="0.412" stop-color="#c26d19"/><stop offset="0.471" stop-color="#c6731b"/><stop offset="0.529" stop-color="#c9781c"/><stop offset="0.588" stop-color="#cb7d1e"/><stop offset="0.647" stop-color="#cd8521"/><stop offset="0.706" stop-color="#cf8b23"/><stop offset="0.765" stop-color="#ce9225"/><stop offset="0.824" stop-color="#cd9928"/><stop offset="0.882" stop-color="#cb9a2a"/><stop offset="0.941" stop-color="#ca982a"/><stop offset="1.000" stop-color="#c89529"/></linearGradient><linearGradient id="g27"><stop offset="0.000" stop-color="#b25b14"/><stop offset="0.059" stop-color="#b15913"/><stop offset="0.118" stop-color="#b15913"/><stop offset="0.176" stop-color="#b35b14"/><stop offset="0.235" stop-color="#b65e15"/><stop offset="0.294" stop-color="#ba6216"/><stop offset="0.353" stop-color="#bd6718"/><stop offset="0.412" stop-color="#c16c19"/><stop offset="0.471" stop-color="#c5721b"/><stop offset="0.529" stop-color="#c9771c"/><stop offset="0.588" stop-color="#cb7d1e"/><stop offset="0.647" stop-color="#cd8521"/><stop offset="0.706" stop-color="#ce8b23"/><stop offset="0.765" stop-color="#cd9125"/><stop offset="0.824" stop-color="#cc9929"/><stop offset="0.882" stop-color="#cb9b2a"/><stop offset="0.941" stop-color="#c9992a"/><stop offset="1.000" stop-color="#c89529"/></linearGradient><linearGradient id="g28"><stop offset="0.000" stop-color="#b25a14"/><stop offset="0.059" stop-color="#b05813"/><stop offset="0.118" stop-color="#b05813"/><stop offset="0.176" stop-color="#b25b14"/><stop offset="0.235" stop-color="#b65e15"/><stop offset="0.294" stop-color="#b96216"/><stop offset="0.353" stop-color="#bd6617"/><stop offset="0.412" stop-color="#c16b19"/><stop offset="0.471" stop-color="#c4711b"/><stop offset="0.529" stop-color="#c8771c"/><stop offset="0.588" stop-color="#ca7d1e"/><stop offset="0.647" stop-color="#cc8421"/><stop offset="0.706" stop-color="#ce8b23"/><stop offset="0.765" stop-color="#cd9126"/><stop offset="0.824" stop-color="#cb9829"/><stop offset="0.882" stop-color="#ca9c2b"/><stop offset="0.941" stop-color="#c99a2b"/><stop offset="1.000" stop-color="#c8962a"/></linearGradient><linearGradient id="g29"><stop offset="0.000" stop-color="#b15914"/><stop offset="0.059" stop-color="#af5713"/><stop offset="0.118" stop-color="#af5713"/><stop offset="0.176" stop-color="#b25a14"/><stop offset="0.235" stop-color="#b65e15"/><stop offset="0.294" stop-color="#b96116"/><stop offset="0.353" stop-color="#bc6517"/><stop offset="0.412" stop-color="#c06a19"/><stop offset="0.471" stop-color="#c4701a"/><stop offset="0.529" stop-color="#c7761c"/><stop offset="0.588" stop-color="#c97c1e"/><stop offset="0.647" stop-color="#cc8421"/><stop offset="0.706" stop-color="#ce8b23"/><stop offset="0.765" stop-color="#cc9126"/><stop offset="0.824" stop-color="#cb982a"/><stop offset="0.882" stop-color="#c99c2c"/><stop offset="0.941" stop-color="#c89a2c"/><stop offset="1.000" stop-color="#c7962a"/></linearGradient><linearGradient id="g30"><stop offset="0.000" stop-color="#b15914"/><stop offset="0.059" stop-color="#af5613"/><stop offset="0.118" stop-color="#af5613"/><stop offset="0.176" stop-color="#b25a14"/><stop offset="0.235" stop-color="#b65e15"/><stop offset="0.294" stop-color="#b96016"/><stop offset="0.353" stop-color="#bc6417"/><stop offset="0.412" stop-color="#bf6919"/><stop offset="0.471" stop-color="#c36f1a"/><stop offset="0.529" stop-color="#c6751c"/><stop offset="0.588" stop-color="#c97b1e"/><stop offset="0.647" stop-color="#cb8321"/><stop offset="0.706" stop-color="#cd8a23"/><stop offset="0.765" stop-color="#cc9026"/><stop offset="0.824" stop-color="#ca992a"/><stop offset="0.882" stop-color="#c89d2d"/><stop offset="0.941" stop-color="#c79b2c"/><stop offset="1.000" stop-color="#c7962a"/></linearGradient><linearGradient id="g31"><stop offset="0.000" stop-color="#b15814"/><stop offset="0.059" stop-color="#ae5513"/><stop offset="0.118" stop-color="#ae5513"/><stop offset="0.176" stop-color="#b25914"/><stop offset="0.235" stop-color="#b65d15"/><stop offset="0.294" stop-color="#b96016"/><stop offset="0.353" stop-color="#bc6317"/><stop offset="0.412" stop-color="#bf6818"/><stop offset="0.471" stop-color="#c26d1a"/><stop offset="0.529" stop-color="#c5741c"/><stop offset="0.588" stop-color="#c87b1e"/><stop offset="0.647" stop-color="#cb8221"/><stop offset="0.706" stop-color="#cc8923"/><stop offset="0.765" stop-color="#cb9026"/><stop offset="0.824" stop-color="#c9992b"/><stop offset="0.882" stop-color="#c79e2e"/><stop offset="0.941" stop-color="#c79c2d"/><stop offset="1.000" stop-color="#c6972b"/></linearGradient><linearGradient id="g32"><stop offset="0.000" stop-color="#b15814"/><stop offset="0.059" stop-color="#ae5513"/><stop offset="0.118" stop-color="#ae5412"/><stop offset="0.176" stop-color="#b25914"/><stop offset="0.235" stop-color="#b65d15"/><stop offset="0.294" stop-color="#b95f16"/><stop offset="0.353" stop-color="#bb6217"/><stop offset="0.412" stop-color="#be6718"/><stop offset="0.471" stop-color="#c16c1a"/><stop offset="0.529" stop-color="#c5731c"/><stop offset="0.588" stop-color="#c87a1e"/><stop offset="0.647" stop-color="#ca8120"/><stop offset="0.706" stop-color="#cb8823"/><stop offset="0.765" stop-color="#ca8f26"/><stop offset="0.824" stop-color="#c8992b"/><stop offset="0.882" stop-color="#c79f2f"/><stop offset="0.941" stop-color="#c69c2e"/><stop offset="1.000" stop-color="#c6972b"/></linearGradient><linearGradient id="g33"><stop offset="0.000" stop-color="#b15814"/><stop offset="0.059" stop-color="#ae5513"/><stop offset="0.118" stop-color="#ae5412"/><stop offset="0.176" stop-color="#b25914"/><stop offset="0.235" stop-color="#b65c15"/><stop offset="0.294" stop-color="#b95e15"/><stop offset="0.353" stop-color="#bb6116"/><stop offset="0.412" stop-color="#be6618"/><stop offset="0.471" stop-color="#c16b19"/><stop offset="0.529" stop-color="#c4711b"/><stop offset="0.588" stop-color="#c7791e"/><stop offset="0.647" stop-color="#c98020"/><stop offset="0.706" stop-color="#ca8823"/><stop offset="0.765" stop-color="#ca8f27"/><stop offset="0.824" stop-color="#c8992c"/><stop offset="0.882" stop-color="#c6a030"/><stop offset="0.941" stop-color="#c69c2e"/><stop offset="1.000" stop-color="#c6972b"/></linearGradient><linearGradient id="g34"><stop offset="0.000" stop-color="#b15814"/><stop offset="0.059" stop-color="#ae5513"/><stop offset="0.118" stop-color="#ae5413"/><stop offset="0.176" stop-color="#b25814"/><stop offset="0.235" stop-color="#b65c15"/><stop offset="0.294" stop-color="#b95e15"/><stop offset="0.353" stop-color="#bb6016"/><stop offset="0.412" stop-color="#be6518"/><stop offset="0.471" stop-color="#c06919"/><stop offset="0.529" stop-color="#c3701b"/><stop offset="0.588" stop-color="#c6781e"/><stop offset="0.647" stop-color="#c97f20"/><stop offset="0.706" stop-color="#ca8723"/><stop offset="0.765" stop-color="#c98e27"/><stop offset="0.824" stop-color="#c7982c"/><stop offset="0.882" stop-color="#c69f30"/><stop offset="0.941" stop-color="#c59c2e"/><stop offset="1.000" stop-color="#c5972b"/></linearGradient><linearGradient id="g35"><stop offset="0.000" stop-color="#b15814"/><stop offset="0.059" stop-color="#af5513"/><stop offset="0.118" stop-color="#ae5513"/><stop offset="0.176" stop-color="#b35814"/><stop offset="0.235" stop-color="#b75c15"/><stop offset="0.294" stop-color="#b95d15"/><stop offset="0.353" stop-color="#ba6016"/><stop offset="0.412" stop-color="#bd6418"/><stop offset="0.471" stop-color="#c06819"/><stop offset="0.529" stop-color="#c36f1b"/><stop offset="0.588" stop-color="#c6781e"/><stop offset="0.647" stop-color="#c87e20"/><stop offset="0.706" stop-color="#c98623"/><stop offset="0.765" stop-color="#c98e27"/><stop offset="0.824" stop-color="#c7972c"/><stop offset="0.882" stop-color="#c59e2f"/><stop offset="0.941" stop-color="#c59b2e"/><stop offset="1.000" stop-color="#c5962b"/></linearGradient><linearGradient id="g36"><stop offset="0.000" stop-color="#b15814"/><stop offset="0.059" stop-color="#af5513"/><stop offset="0.118" stop-color="#af5513"/><stop offset="0.176" stop-color="#b35814"/><stop offset="0.235" stop-color="#b75c15"/><stop offset="0.294" stop-color="#b95d15"/><stop offset="0.353" stop-color="#ba5f16"/><stop offset="0.412" stop-color="#bd6418"/><stop offset="0.471" stop-color="#bf6718"/><stop offset="0.529" stop-color="#c26e1b"/><stop offset="0.588" stop-color="#c6771d"/><stop offset="0.647" stop-color="#c87e20"/><stop offset="0.706" stop-color="#c98523"/><stop offset="0.765" stop-color="#c88d27"/><stop offset="0.824" stop-color="#c6962b"/><stop offset="0.882" stop-color="#c59d2f"/><stop offset="0.941" stop-color="#c59b2e"/><stop offset="1.000" stop-color="#c5962b"/></linearGradient><linearGradient id="g37"><stop offset="0.000" stop-color="#b25815"/><stop offset="0.059" stop-color="#b05614"/><stop offset="0.118" stop-color="#b05514"/><stop offset="0.176" stop-color="#b35815"/><stop offset="0.235" stop-color="#b75b16"/><stop offset="0.294" stop-color="#b95d16"/><stop offset="0.353" stop-color="#ba5f16"/><stop offset="0.412" stop-color="#bd6317"/><stop offset="0.471" stop-color="#bf6618"/><stop offset="0.529" stop-color="#c26d1a"/><stop offset="0.588" stop-color="#c5761d"/><stop offset="0.647" stop-color="#c77d20"/><stop offset="0.706" stop-color="#c88523"/><stop offset="0.765" stop-color="#c88d26"/><stop offset="0.824" stop-color="#c6952b"/><stop offset="0.882" stop-color="#c49b2e"/><stop offset="0.941" stop-color="#c49a2d"/><stop offset="1.000" stop-color="#c4952b"/></linearGradient><linearGradient id="g38"><stop offset="0.000" stop-color="#b25815"/><stop offset="0.059" stop-color="#b15614"/><stop offset="0.118" stop-color="#b15614"/><stop offset="0.176" stop-color="#b45815"/><stop offset="0.235" stop-color="#b75b16"/><stop offset="0.294" stop-color="#b95d16"/><stop offset="0.353" stop-color="#ba5f16"/><stop offset="0.412" stop-color="#bd6317"/><stop offset="0.471" stop-color="#be6618"/><stop offset="0.529" stop-color="#c16d1a"/><stop offset="0.588" stop-color="#c5761d"/><stop offset="0.647" stop-color="#c77c1f"/><stop offset="0.706" stop-color="#c88523"/><stop offset="0.765" stop-color="#c78c26"/><stop offset="0.824" stop-color="#c5942a"/><stop offset="0.882" stop-color="#c49a2d"/><stop offset="0.941" stop-color="#c4992d"/><stop offset="1.000" stop-color="#c4952b"/></linearGradient><linearGradient id="g39"><stop offset="0.000" stop-color="#b35815"/><stop offset="0.059" stop-color="#b15614"/><stop offset="0.118" stop-color="#b25615"/><stop offset="0.176" stop-color="#b45815"/><stop offset="0.235" stop-color="#b75b16"/><stop offset="0.294" stop-color="#b95d16"/><stop offset="0.353" stop-color="#ba5f17"/><stop offset="0.412" stop-color="#bc6218"/><stop offset="0.471" stop-color="#be6518"/><stop offset="0.529" stop-color="#c16c1a"/><stop offset="0.588" stop-color="#c4751d"/><stop offset="0.647" stop-color="#c67c1f"/><stop offset="0.706" stop-color="#c78423"/><stop offset="0.765" stop-color="#c78c26"/><stop offset="0.824" stop-color="#c5932a"/><stop offset="0.882" stop-color="#c3982d"/><stop offset="0.941" stop-color="#c3972c"/><stop offset="1.000" stop-color="#c3942b"/></linearGradient><linearGradient id="g40"><stop offset="0.000" stop-color="#b35915"/><stop offset="0.059" stop-color="#b25715"/><stop offset="0.118" stop-color="#b25615"/><stop offset="0.176" stop-color="#b55816"/><stop offset="0.235" stop-color="#b75b16"/><stop offset="0.294" stop-color="#b95d16"/><stop offset="0.353" stop-color="#ba5f17"/><stop offset="0.412" stop-color="#bc6218"/><stop offset="0.471" stop-color="#be6518"/><stop offset="0.529" stop-color="#c16c1a"/><stop offset="0.588" stop-color="#c4751d"/><stop offset="0.647" stop-color="#c67c20"/><stop offset="0.706" stop-color="#c68423"/><stop offset="0.765" stop-color="#c68b26"/><stop offset="0.824" stop-color="#c4922a"/><stop offset="0.882" stop-color="#c3972c"/><stop offset="0.941" stop-color="#c3962c"/><stop offset="1.000" stop-color="#c3932a"/></linearGradient><linearGradient id="g41"><stop offset="0.000" stop-color="#b35916"/><stop offset="0.059" stop-color="#b35715"/><stop offset="0.118" stop-color="#b35615"/><stop offset="0.176" stop-color="#b55816"/><stop offset="0.235" stop-color="#b75a16"/><stop offset="0.294" stop-color="#b95d17"/><stop offset="0.353" stop-color="#bb5f17"/><stop offset="0.412" stop-color="#bc6118"/><stop offset="0.471" stop-color="#be6518"/><stop offset="0.529" stop-color="#c06c1a"/><stop offset="0.588" stop-color="#c3741d"/><stop offset="0.647" stop-color="#c57b20"/><stop offset="0.706" stop-color="#c68423"/><stop offset="0.765" stop-color="#c58b26"/><stop offset="0.824" stop-color="#c3922a"/><stop offset="0.882" stop-color="#c2962c"/><stop offset="0.941" stop-color="#c2952c"/><stop offset="1.000" stop-color="#c3932a"/></linearGradient><linearGradient id="g42"><stop offset="0.000" stop-color="#b45916"/><stop offset="0.059" stop-color="#b35715"/><stop offset="0.118" stop-color="#b35616"/><stop offset="0.176" stop-color="#b55716"/><stop offset="0.235" stop-color="#b75a17"/><stop offset="0.294" stop-color="#b95c17"/><stop offset="0.353" stop-color="#bb5e17"/><stop offset="0.412" stop-color="#bc6118"/><stop offset="0.471" stop-color="#be6519"/><stop offset="0.529" stop-color="#c06c1b"/><stop offset="0.588" stop-color="#c3741d"/><stop offset="0.647" stop-color="#c47b20"/><stop offset="0.706" stop-color="#c58323"/><stop offset="0.765" stop-color="#c48a26"/><stop offset="0.824" stop-color="#c2922a"/><stop offset="0.882" stop-color="#c1962c"/><stop offset="0.941" stop-color="#c2952b"/><stop offset="1.000" stop-color="#c2922a"/></linearGradient><linearGradient id="g43"><stop offset="0.000" stop-color="#b45916"/><stop offset="0.059" stop-color="#b45716"/><stop offset="0.118" stop-color="#b45516"/><stop offset="0.176" stop-color="#b55616"/><stop offset="0.235" stop-color="#b75917"/><stop offset="0.294" stop-color="#b95c17"/><stop offset="0.353" stop-color="#bb5e17"/><stop offset="0.412" stop-color="#bc6018"/><stop offset="0.471" stop-color="#bd6419"/><stop offset="0.529" stop-color="#bf6b1b"/><stop offset="0.588" stop-color="#c2731d"/><stop offset="0.647" stop-color="#c37b20"/><stop offset="0.706" stop-color="#c48223"/><stop offset="0.765" stop-color="#c38a26"/><stop offset="0.824" stop-color="#c1922a"/><stop offset="0.882" stop-color="#c0952c"/><stop offset="0.941" stop-color="#c1942b"/><stop offset="1.000" stop-color="#c2912a"/></linearGradient><linearGradient id="g44"><stop offset="0.000" stop-color="#b45916"/><stop offset="0.059" stop-color="#b45716"/><stop offset="0.118" stop-color="#b45516"/><stop offset="0.176" stop-color="#b55516"/><stop offset="0.235" stop-color="#b75917"/><stop offset="0.294" stop-color="#b95c17"/><stop offset="0.353" stop-color="#ba5d18"/><stop offset="0.412" stop-color="#bb5f18"/><stop offset="0.471" stop-color="#bd6419"/><stop offset="0.529" stop-color="#bf6b1b"/><stop offset="0.588" stop-color="#c1731d"/><stop offset="0.647" stop-color="#c37a20"/><stop offset="0.706" stop-color="#c38223"/><stop offset="0.765" stop-color="#c28926"/><stop offset="0.824" stop-color="#c0922a"/><stop offset="0.882" stop-color="#bf952c"/><stop offset="0.941" stop-color="#c0932b"/><stop offset="1.000" stop-color="#c19129"/></linearGradient><linearGradient id="g45"><stop offset="0.000" stop-color="#b55916"/><stop offset="0.059" stop-color="#b45616"/><stop offset="0.118" stop-color="#b45416"/><stop offset="0.176" stop-color="#b55417"/><stop offset="0.235" stop-color="#b75817"/><stop offset="0.294" stop-color="#b95b17"/><stop offset="0.353" stop-color="#ba5d18"/><stop offset="0.412" stop-color="#bb5f18"/><stop offset="0.471" stop-color="#bd6419"/><stop offset="0.529" stop-color="#bf6b1b"/><stop offset="0.588" stop-color="#c1721d"/><stop offset="0.647" stop-color="#c27a20"/><stop offset="0.706" stop-color="#c28123"/><stop offset="0.765" stop-color="#c18926"/><stop offset="0.824" stop-color="#bf912a"/><stop offset="0.882" stop-color="#bf952c"/><stop offset="0.941" stop-color="#c0932b"/><stop offset="1.000" stop-color="#c19029"/></linearGradient><linearGradient id="g46"><stop offset="0.000" stop-color="#b55917"/><stop offset="0.059" stop-color="#b45616"/><stop offset="0.118" stop-color="#b45316"/><stop offset="0.176" stop-color="#b55317"/><stop offset="0.235" stop-color="#b75717"/><stop offset="0.294" stop-color="#b95b18"/><stop offset="0.353" stop-color="#ba5c18"/><stop offset="0.412" stop-color="#bb5e18"/><stop offset="0.471" stop-color="#bc6319"/><stop offset="0.529" stop-color="#be6a1b"/><stop offset="0.588" stop-color="#c0721d"/><stop offset="0.647" stop-color="#c17920"/><stop offset="0.706" stop-color="#c08023"/><stop offset="0.765" stop-color="#bf8826"/><stop offset="0.824" stop-color="#be912a"/><stop offset="0.882" stop-color="#be942c"/><stop offset="0.941" stop-color="#c0922a"/><stop offset="1.000" stop-color="#c18f29"/></linearGradient><linearGradient id="g47"><stop offset="0.000" stop-color="#b55917"/><stop offset="0.059" stop-color="#b55617"/><stop offset="0.118" stop-color="#b45317"/><stop offset="0.176" stop-color="#b55217"/><stop offset="0.235" stop-color="#b75717"/><stop offset="0.294" stop-color="#b95a18"/><stop offset="0.353" stop-color="#ba5c18"/><stop offset="0.412" stop-color="#bb5e18"/><stop offset="0.471" stop-color="#bc6319"/><stop offset="0.529" stop-color="#be6a1b"/><stop offset="0.588" stop-color="#bf711d"/><stop offset="0.647" stop-color="#c07820"/><stop offset="0.706" stop-color="#bf7f22"/><stop offset="0.765" stop-color="#be8625"/><stop offset="0.824" stop-color="#bd8f2a"/><stop offset="0.882" stop-color="#be932b"/><stop offset="0.941" stop-color="#bf912a"/><stop offset="1.000" stop-color="#c18f29"/></linearGradient><linearGradient id="g48"><stop offset="0.000" stop-color="#b55917"/><stop offset="0.059" stop-color="#b55617"/><stop offset="0.118" stop-color="#b45217"/><stop offset="0.176" stop-color="#b45217"/><stop offset="0.235" stop-color="#b75617"/><stop offset="0.294" stop-color="#b95a18"/><stop offset="0.353" stop-color="#ba5c18"/><stop offset="0.412" stop-color="#bb5e18"/><stop offset="0.471" stop-color="#bc6319"/><stop offset="0.529" stop-color="#bd691b"/><stop offset="0.588" stop-color="#be701d"/><stop offset="0.647" stop-color="#bf781f"/><stop offset="0.706" stop-color="#be7e22"/><stop offset="0.765" stop-color="#bc8525"/><stop offset="0.824" stop-color="#bd8e29"/><stop offset="0.882" stop-color="#bd912b"/><stop offset="0.941" stop-color="#bf902a"/><stop offset="1.000" stop-color="#c08e28"/></linearGradient><linearGradient id="g49"><stop offset="0.000" stop-color="#b65917"/><stop offset="0.059" stop-color="#b55617"/><stop offset="0.118" stop-color="#b45217"/><stop offset="0.176" stop-color="#b45117"/><stop offset="0.235" stop-color="#b75618"/><stop offset="0.294" stop-color="#ba5918"/><stop offset="0.353" stop-color="#bb5b18"/><stop offset="0.412" stop-color="#bb5e18"/><stop offset="0.471" stop-color="#bc6319"/><stop offset="0.529" stop-color="#bd691b"/><stop offset="0.588" stop-color="#be6f1d"/><stop offset="0.647" stop-color="#be771f"/><stop offset="0.706" stop-color="#bc7d22"/><stop offset="0.765" stop-color="#bb8324"/><stop offset="0.824" stop-color="#bc8c28"/><stop offset="0.882" stop-color="#bd902a"/><stop offset="0.941" stop-color="#bf8f29"/><stop offset="1.000" stop-color="#c08d28"/></linearGradient><linearGradient id="g50"><stop offset="0.000" stop-color="#b65917"/><stop offset="0.059" stop-color="#b55617"/><stop offset="0.118" stop-color="#b45217"/><stop offset="0.176" stop-color="#b55117"/><stop offset="0.235" stop-color="#b75618"/><stop offset="0.294" stop-color="#ba5918"/><stop offset="0.353" stop-color="#bb5b19"/><stop offset="0.412" stop-color="#bb5e19"/><stop offset="0.471" stop-color="#bc6319"/><stop offset="0.529" stop-color="#bc681b"/><stop offset="0.588" stop-color="#bd6f1d"/><stop offset="0.647" stop-color="#bd761f"/><stop offset="0.706" stop-color="#bb7c22"/><stop offset="0.765" stop-color="#ba8124"/><stop offset="0.824" stop-color="#bb8927"/><stop offset="0.882" stop-color="#bd8e29"/><stop offset="0.941" stop-color="#be8e29"/><stop offset="1.000" stop-color="#c08c28"/></linearGradient><linearGradient id="g51"><stop offset="0.000" stop-color="#b65917"/><stop offset="0.059" stop-color="#b55617"/><stop offset="0.118" stop-color="#b45217"/><stop offset="0.176" stop-color="#b55217"/><stop offset="0.235" stop-color="#b75618"/><stop offset="0.294" stop-color="#ba5819"/><stop offset="0.353" stop-color="#bb5a19"/><stop offset="0.412" stop-color="#bb5e19"/><stop offset="0.471" stop-color="#bb631a"/><stop offset="0.529" stop-color="#bc681b"/><stop offset="0.588" stop-color="#bc6e1c"/><stop offset="0.647" stop-color="#bc751f"/><stop offset="0.706" stop-color="#ba7b21"/><stop offset="0.765" stop-color="#b88023"/><stop offset="0.824" stop-color="#bb8726"/><stop offset="0.882" stop-color="#bd8c28"/><stop offset="0.941" stop-color="#be8c28"/><stop offset="1.000" stop-color="#c08b27"/></linearGradient><linearGradient id="g52"><stop offset="0.000" stop-color="#b65917"/><stop offset="0.059" stop-color="#b65617"/><stop offset="0.118" stop-color="#b55317"/><stop offset="0.176" stop-color="#b55217"/><stop offset="0.235" stop-color="#b85618"/><stop offset="0.294" stop-color="#ba5819"/><stop offset="0.353" stop-color="#bb5a19"/><stop offset="0.412" stop-color="#bb5e19"/><stop offset="0.471" stop-color="#bb631a"/><stop offset="0.529" stop-color="#bb671b"/><stop offset="0.588" stop-color="#bc6d1c"/><stop offset="0.647" stop-color="#bc741f"/><stop offset="0.706" stop-color="#b97a21"/><stop offset="0.765" stop-color="#b87e23"/><stop offset="0.824" stop-color="#ba8526"/><stop offset="0.882" stop-color="#bc8a28"/><stop offset="0.941" stop-color="#be8b28"/><stop offset="1.000" stop-color="#bf8a27"/></linearGradient><linearGradient id="g53"><stop offset="0.000" stop-color="#b65a18"/><stop offset="0.059" stop-color="#b65717"/><stop offset="0.118" stop-color="#b55417"/><stop offset="0.176" stop-color="#b65317"/><stop offset="0.235" stop-color="#b85618"/><stop offset="0.294" stop-color="#ba5819"/><stop offset="0.353" stop-color="#bb5a19"/><stop offset="0.412" stop-color="#bb5e19"/><stop offset="0.471" stop-color="#bb631a"/><stop offset="0.529" stop-color="#bb671a"/><stop offset="0.588" stop-color="#bb6c1c"/><stop offset="0.647" stop-color="#bb741f"/><stop offset="0.706" stop-color="#b87a21"/><stop offset="0.765" stop-color="#b77d22"/><stop offset="0.824" stop-color="#ba8425"/><stop offset="0.882" stop-color="#bc8927"/><stop offset="0.941" stop-color="#be8a27"/><stop offset="1.000" stop-color="#bf8a27"/></linearGradient><linearGradient id="g54"><stop offset="0.000" stop-color="#b75a18"/><stop offset="0.059" stop-color="#b65718"/><stop offset="0.118" stop-color="#b65417"/><stop offset="0.176" stop-color="#b65418"/><stop offset="0.235" stop-color="#b85618"/><stop offset="0.294" stop-color="#ba5719"/><stop offset="0.353" stop-color="#bb5a19"/><stop offset="0.412" stop-color="#bb5e19"/><stop offset="0.471" stop-color="#bb631a"/><stop offset="0.529" stop-color="#ba661a"/><stop offset="0.588" stop-color="#bb6b1c"/><stop offset="0.647" stop-color="#bb731e"/><stop offset="0.706" stop-color="#b87921"/><stop offset="0.765" stop-color="#b77d22"/><stop offset="0.824" stop-color="#b98224"/><stop offset="0.882" stop-color="#bc8726"/><stop offset="0.941" stop-color="#be8927"/><stop offset="1.000" stop-color="#bf8926"/></linearGradient><linearGradient id="g55"><stop offset="0.000" stop-color="#b75a18"/><stop offset="0.059" stop-color="#b65818"/><stop offset="0.118" stop-color="#b65518"/><stop offset="0.176" stop-color="#b75518"/><stop offset="0.235" stop-color="#b95719"/><stop offset="0.294" stop-color="#ba5819"/><stop offset="0.353" stop-color="#bb5a19"/><stop offset="0.412" stop-color="#bb5f19"/><stop offset="0.471" stop-color="#bb631a"/><stop offset="0.529" stop-color="#ba661a"/><stop offset="0.588" stop-color="#ba6a1c"/><stop offset="0.647" stop-color="#ba721e"/><stop offset="0.706" stop-color="#b87820"/><stop offset="0.765" stop-color="#b77c22"/><stop offset="0.824" stop-color="#b98124"/><stop offset="0.882" stop-color="#bc8626"/><stop offset="0.941" stop-color="#be8826"/><stop offset="1.000" stop-color="#bf8826"/></linearGradient><linearGradient id="g56"><stop offset="0.000" stop-color="#b75b18"/><stop offset="0.059" stop-color="#b75818"/><stop offset="0.118" stop-color="#b65618"/><stop offset="0.176" stop-color="#b75618"/><stop offset="0.235" stop-color="#b95719"/><stop offset="0.294" stop-color="#ba5819"/><stop offset="0.353" stop-color="#bb5a19"/><stop offset="0.412" stop-color="#bb5f1a"/><stop offset="0.471" stop-color="#ba631a"/><stop offset="0.529" stop-color="#ba661a"/><stop offset="0.588" stop-color="#ba6a1c"/><stop offset="0.647" stop-color="#ba721e"/><stop offset="0.706" stop-color="#b87820"/><stop offset="0.765" stop-color="#b77c22"/><stop offset="0.824" stop-color="#b98024"/><stop offset="0.882" stop-color="#bc8525"/><stop offset="0.941" stop-color="#be8726"/><stop offset="1.000" stop-color="#bf8726"/></linearGradient><linearGradient id="g57"><stop offset="0.000" stop-color="#b75b18"/><stop offset="0.059" stop-color="#b75918"/><stop offset="0.118" stop-color="#b75718"/><stop offset="0.176" stop-color="#b75718"/><stop offset="0.235" stop-color="#b95819"/><stop offset="0.294" stop-color="#ba5819"/><stop offset="0.353" stop-color="#bb5b1a"/><stop offset="0.412" stop-color="#bb5f1a"/><stop offset="0.471" stop-color="#ba631a"/><stop offset="0.529" stop-color="#ba651a"/><stop offset="0.588" stop-color="#ba6a1b"/><stop offset="0.647" stop-color="#ba711e"/><stop offset="0.706" stop-color="#b87720"/><stop offset="0.765" stop-color="#b77b22"/><stop offset="0.824" stop-color="#b98023"/><stop offset="0.882" stop-color="#bc8425"/><stop offset="0.941" stop-color="#bd8625"/><stop offset="1.000" stop-color="#bf8625"/></linearGradient><linearGradient id="g58"><stop offset="0.000" stop-color="#b85c18"/><stop offset="0.059" stop-color="#b75a18"/><stop offset="0.118" stop-color="#b75818"/><stop offset="0.176" stop-color="#b85818"/><stop offset="0.235" stop-color="#b95919"/><stop offset="0.294" stop-color="#ba5919"/><stop offset="0.353" stop-color="#bb5b1a"/><stop offset="0.412" stop-color="#bb601a"/><stop offset="0.471" stop-color="#ba641a"/><stop offset="0.529" stop-color="#ba661a"/><stop offset="0.588" stop-color="#ba6a1c"/><stop offset="0.647" stop-color="#ba711e"/><stop offset="0.706" stop-color="#b97720"/><stop offset="0.765" stop-color="#b87b21"/><stop offset="0.824" stop-color="#b97f23"/><stop offset="0.882" stop-color="#bc8324"/><stop offset="0.941" stop-color="#bd8525"/><stop offset="1.000" stop-color="#bf8525"/></linearGradient><linearGradient id="g59"><stop offset="0.000" stop-color="#b85c18"/><stop offset="0.059" stop-color="#b75a18"/><stop offset="0.118" stop-color="#b75918"/><stop offset="0.176" stop-color="#b85918"/><stop offset="0.235" stop-color="#b95919"/><stop offset="0.294" stop-color="#ba5a19"/><stop offset="0.353" stop-color="#bb5c1a"/><stop offset="0.412" stop-color="#bb601a"/><stop offset="0.471" stop-color="#ba641a"/><stop offset="0.529" stop-color="#ba661a"/><stop offset="0.588" stop-color="#ba6a1c"/><stop offset="0.647" stop-color="#ba711e"/><stop offset="0.706" stop-color="#b97720"/><stop offset="0.765" stop-color="#b87b21"/><stop offset="0.824" stop-color="#ba7e23"/><stop offset="0.882" stop-color="#bc8224"/><stop offset="0.941" stop-color="#bd8425"/><stop offset="1.000" stop-color="#bf8525"/></linearGradient><linearGradient id="g60"><stop offset="0.000" stop-color="#b85d18"/><stop offset="0.059" stop-color="#b85b18"/><stop offset="0.118" stop-color="#b85a18"/><stop offset="0.176" stop-color="#b85a19"/><stop offset="0.235" stop-color="#b95a19"/><stop offset="0.294" stop-color="#ba5b19"/><stop offset="0.353" stop-color="#bb5d1a"/><stop offset="0.412" stop-color="#bb611a"/><stop offset="0.471" stop-color="#ba641a"/><stop offset="0.529" stop-color="#ba661b"/><stop offset="0.588" stop-color="#ba6a1c"/><stop offset="0.647" stop-color="#ba701e"/><stop offset="0.706" stop-color="#b97620"/><stop offset="0.765" stop-color="#b97a21"/><stop offset="0.824" stop-color="#ba7e23"/><stop offset="0.882" stop-color="#bc8124"/><stop offset="0.941" stop-color="#bd8324"/><stop offset="1.000" stop-color="#bf8424"/></linearGradient><linearGradient id="g61"><stop offset="0.000" stop-color="#b85d19"/><stop offset="0.059" stop-color="#b85c18"/><stop offset="0.118" stop-color="#b85b19"/><stop offset="0.176" stop-color="#b95a19"/><stop offset="0.235" stop-color="#ba5b19"/><stop offset="0.294" stop-color="#ba5b1a"/><stop offset="0.353" stop-color="#bb5e1a"/><stop offset="0.412" stop-color="#bb611a"/><stop offset="0.471" stop-color="#ba641a"/><stop offset="0.529" stop-color="#ba671b"/><stop offset="0.588" stop-color="#ba6b1c"/><stop offset="0.647" stop-color="#ba701e"/><stop offset="0.706" stop-color="#ba7620"/><stop offset="0.765" stop-color="#b97a21"/><stop offset="0.824" stop-color="#ba7d22"/><stop offset="0.882" stop-color="#bc8023"/><stop offset="0.941" stop-color="#bd8224"/><stop offset="1.000" stop-color="#be8324"/></linearGradient><linearGradient id="g62"><stop offset="0.000" stop-color="#b85e19"/><stop offset="0.059" stop-color="#b85c19"/><stop offset="0.118" stop-color="#b85b19"/><stop offset="0.176" stop-color="#b95b19"/><stop offset="0.235" stop-color="#ba5c19"/><stop offset="0.294" stop-color="#ba5c1a"/><stop offset="0.353" stop-color="#bb5e1a"/><stop offset="0.412" stop-color="#bb621a"/><stop offset="0.471" stop-color="#bb651b"/><stop offset="0.529" stop-color="#ba671b"/><stop offset="0.588" stop-color="#ba6b1c"/><stop offset="0.647" stop-color="#ba701e"/><stop offset="0.706" stop-color="#ba761f"/><stop offset="0.765" stop-color="#ba7921"/><stop offset="0.824" stop-color="#bb7d22"/><stop offset="0.882" stop-color="#bc8023"/><stop offset="0.941" stop-color="#bd8224"/><stop offset="1.000" stop-color="#be8324"/></linearGradient><linearGradient id="g63"><stop offset="0.000" stop-color="#b95e19"/><stop offset="0.059" stop-color="#b95d19"/><stop offset="0.118" stop-color="#b95c19"/><stop offset="0.176" stop-color="#b95c19"/><stop offset="0.235" stop-color="#ba5c19"/><stop offset="0.294" stop-color="#bb5d1a"/><stop offset="0.353" stop-color="#bb5f1a"/><stop offset="0.412" stop-color="#bb621a"/><stop offset="0.471" stop-color="#bb651b"/><stop offset="0.529" stop-color="#ba681b"/><stop offset="0.588" stop-color="#ba6b1c"/><stop offset="0.647" stop-color="#ba701e"/><stop offset="0.706" stop-color="#ba751f"/><stop offset="0.765" stop-color="#ba7921"/><stop offset="0.824" stop-color="#bb7c22"/><stop offset="0.882" stop-color="#bc7f23"/><stop offset="0.941" stop-color="#bd8123"/><stop offset="1.000" stop-color="#be8224"/></linearGradient><linearGradient id="g64"><stop offset="0.000" stop-color="#b95e19"/><stop offset="0.059" stop-color="#b95d19"/><stop offset="0.118" stop-color="#b95d19"/><stop offset="0.176" stop-color="#b95d19"/><stop offset="0.235" stop-color="#ba5d19"/><stop offset="0.294" stop-color="#bb5e1a"/><stop offset="0.353" stop-color="#bb601a"/><stop offset="0.412" stop-color="#bb631a"/><stop offset="0.471" stop-color="#bb661b"/><stop offset="0.529" stop-color="#bb681b"/><stop offset="0.588" stop-color="#bb6c1c"/><stop offset="0.647" stop-color="#bb701e"/><stop offset="0.706" stop-color="#bb751f"/><stop offset="0.765" stop-color="#bb7921"/><stop offset="0.824" stop-color="#bb7c22"/><stop offset="0.882" stop-color="#bc7e23"/><stop offset="0.941" stop-color="#bd8023"/><stop offset="1.000" stop-color="#be8123"/></linearGradient><linearGradient id="g65"><stop offset="0.000" stop-color="#b95f19"/><stop offset="0.059" stop-color="#b95e19"/><stop offset="0.118" stop-color="#b95d19"/><stop offset="0.176" stop-color="#ba5d19"/><stop offset="0.235" stop-color="#ba5e1a"/><stop offset="0.294" stop-color="#bb5f1a"/><stop offset="0.353" stop-color="#bb611a"/><stop offset="0.412" stop-color="#bb631b"/><stop offset="0.471" stop-color="#bb661b"/><stop offset="0.529" stop-color="#bb691b"/><stop offset="0.588" stop-color="#bb6c1c"/><stop offset="0.647" stop-color="#bb701e"/><stop offset="0.706" stop-color="#bb751f"/><stop offset="0.765" stop-color="#bb7820"/><stop offset="0.824" stop-color="#bb7b22"/><stop offset="0.882" stop-color="#bc7e22"/><stop offset="0.941" stop-color="#bd8023"/><stop offset="1.000" stop-color="#be8123"/></linearGradient><linearGradient id="g66"><stop offset="0.000" stop-color="#b95f19"/><stop offset="0.059" stop-color="#b95f19"/><stop offset="0.118" stop-color="#b95e19"/><stop offset="0.176" stop-color="#ba5e19"/><stop offset="0.235" stop-color="#ba5e1a"/><stop offset="0.294" stop-color="#bb5f1a"/><stop offset="0.353" stop-color="#bb611a"/><stop offset="0.412" stop-color="#bb641b"/><stop offset="0.471" stop-color="#bb671b"/><stop offset="0.529" stop-color="#bb691c"/><stop offset="0.588" stop-color="#bb6c1d"/><stop offset="0.647" stop-color="#bb711e"/><stop offset="0.706" stop-color="#bb751f"/><stop offset="0.765" stop-color="#bb7820"/><stop offset="0.824" stop-color="#bc7b21"/><stop offset="0.882" stop-color="#bd7d22"/><stop offset="0.941" stop-color="#be7f23"/><stop offset="1.000" stop-color="#be8023"/></linearGradient><linearGradient id="g67"><stop offset="0.000" stop-color="#b96019"/><stop offset="0.059" stop-color="#b95f19"/><stop offset="0.118" stop-color="#b95f19"/><stop offset="0.176" stop-color="#ba5f19"/><stop offset="0.235" stop-color="#ba5f1a"/><stop offset="0.294" stop-color="#bb601a"/><stop offset="0.353" stop-color="#bb621a"/><stop offset="0.412" stop-color="#bb641b"/><stop offset="0.471" stop-color="#bb671b"/><stop offset="0.529" stop-color="#bb6a1c"/><stop offset="0.588" stop-color="#bb6d1d"/><stop offset="0.647" stop-color="#bb711e"/><stop offset="0.706" stop-color="#bb741f"/><stop offset="0.765" stop-color="#bb7820"/><stop offset="0.824" stop-color="#bc7b21"/><stop offset="0.882" stop-color="#bd7d22"/><stop offset="0.941" stop-color="#be7f23"/><stop offset="1.000" stop-color="#be8023"/></linearGradient><linearGradient id="g68"><stop offset="0.000" stop-color="#b96019"/><stop offset="0.059" stop-color="#b96019"/><stop offset="0.118" stop-color="#ba5f19"/><stop offset="0.176" stop-color="#ba5f1a"/><stop offset="0.235" stop-color="#ba601a"/><stop offset="0.294" stop-color="#bb611a"/><stop offset="0.353" stop-color="#bb631a"/><stop offset="0.412" stop-color="#bb651b"/><stop offset="0.471" stop-color="#bb671b"/><stop offset="0.529" stop-color="#bb6a1c"/><stop offset="0.588" stop-color="#bb6d1d"/><stop offset="0.647" stop-color="#bb711e"/><stop offset="0.706" stop-color="#bb741f"/><stop offset="0.765" stop-color="#bc7820"/><stop offset="0.824" stop-color="#bc7a21"/><stop offset="0.882" stop-color="#bd7c22"/><stop offset="0.941" stop-color="#be7e22"/><stop offset="1.000" stop-color="#be7f23"/></linearGradient><linearGradient id="g69"><stop offset="0.000" stop-color="#ba6119"/><stop offset="0.059" stop-color="#ba6019"/><stop offset="0.118" stop-color="#ba601a"/><stop offset="0.176" stop-color="#ba601a"/><stop offset="0.235" stop-color="#ba601a"/><stop offset="0.294" stop-color="#bb621a"/><stop offset="0.353" stop-color="#bb631b"/><stop offset="0.412" stop-color="#bb651b"/><stop offset="0.471" stop-color="#bb681b"/><stop offset="0.529" stop-color="#bb6a1c"/><stop offset="0.588" stop-color="#bb6d1d"/><stop offset="0.647" stop-color="#bb711e"/><stop offset="0.706" stop-color="#bc741f"/><stop offset="0.765" stop-color="#bc7720"/><stop offset="0.824" stop-color="#bc7a21"/><stop offset="0.882" stop-color="#bd7c22"/><stop offset="0.941" stop-color="#be7e22"/><stop offset="1.000" stop-color="#be7f22"/></linearGradient></defs><g filter="url(#blv)"><rect x="15" y="1401" width="565" height="9" fill="url(#g1)"/><rect x="15" y="1409" width="565" height="9" fill="url(#g2)"/><rect x="15" y="1417" width="565" height="9" fill="url(#g3)"/><rect x="15" y="1425" width="565" height="9" fill="url(#g4)"/><rect x="15" y="1433" width="565" height="9" fill="url(#g5)"/><rect x="15" y="1441" width="565" height="9" fill="url(#g6)"/><rect x="15" y="1449" width="565" height="9" fill="url(#g7)"/><rect x="15" y="1457" width="565" height="9" fill="url(#g8)"/><rect x="15" y="1465" width="565" height="9" fill="url(#g9)"/><rect x="15" y="1473" width="565" height="9" fill="url(#g10)"/><rect x="15" y="1481" width="565" height="9" fill="url(#g11)"/><rect x="15" y="1489" width="565" height="9" fill="url(#g12)"/><rect x="15" y="1497" width="565" height="9" fill="url(#g13)"/><rect x="15" y="1505" width="565" height="9" fill="url(#g14)"/><rect x="15" y="1513" width="565" height="9" fill="url(#g15)"/><rect x="15" y="1521" width="565" height="9" fill="url(#g16)"/><rect x="15" y="1529" width="565" height="9" fill="url(#g17)"/><rect x="15" y="1537" width="565" height="9" fill="url(#g18)"/><rect x="15" y="1545" width="565" height="9" fill="url(#g19)"/><rect x="15" y="1553" width="565" height="9" fill="url(#g20)"/><rect x="15" y="1561" width="565" height="9" fill="url(#g21)"/><rect x="15" y="1569" width="565" height="9" fill="url(#g22)"/><rect x="15" y="1577" width="565" height="9" fill="url(#g23)"/><rect x="15" y="1585" width="565" height="9" fill="url(#g24)"/><rect x="15" y="1593" width="565" height="9" fill="url(#g25)"/><rect x="15" y="1601" width="565" height="9" fill="url(#g26)"/><rect x="15" y="1609" width="565" height="9" fill="url(#g27)"/><rect x="15" y="1617" width="565" height="9" fill="url(#g28)"/><rect x="15" y="1625" width="565" height="9" fill="url(#g29)"/><rect x="15" y="1633" width="565" height="9" fill="url(#g30)"/><rect x="15" y="1641" width="565" height="9" fill="url(#g31)"/><rect x="15" y="1649" width="565" height="9" fill="url(#g32)"/><rect x="15" y="1657" width="565" height="9" fill="url(#g33)"/><rect x="15" y="1665" width="565" height="9" fill="url(#g34)"/><rect x="15" y="1673" width="565" height="9" fill="url(#g35)"/><rect x="15" y="1681" width="565" height="9" fill="url(#g36)"/><rect x="15" y="1689" width="565" height="9" fill="url(#g37)"/><rect x="15" y="1697" width="565" height="9" fill="url(#g38)"/><rect x="15" y="1705" width="565" height="9" fill="url(#g39)"/><rect x="15" y="1713" width="565" height="9" fill="url(#g40)"/><rect x="15" y="1721" width="565" height="9" fill="url(#g41)"/><rect x="15" y="1729" width="565" height="9" fill="url(#g42)"/><rect x="15" y="1737" width="565" height="9" fill="url(#g43)"/><rect x="15" y="1745" width="565" height="9" fill="url(#g44)"/><rect x="15" y="1753" width="565" height="9" fill="url(#g45)"/><rect x="15" y="1761" width="565" height="9" fill="url(#g46)"/><rect x="15" y="1769" width="565" height="9" fill="url(#g47)"/><rect x="15" y="1777" width="565" height="9" fill="url(#g48)"/><rect x="15" y="1785" width="565" height="9" fill="url(#g49)"/><rect x="15" y="1793" width="565" height="9" fill="url(#g50)"/><rect x="15" y="1801" width="565" height="9" fill="url(#g51)"/><rect x="15" y="1809" width="565" height="9" fill="url(#g52)"/><rect x="15" y="1817" width="565" height="9" fill="url(#g53)"/><rect x="15" y="1825" width="565" height="9" fill="url(#g54)"/><rect x="15" y="1833" width="565" height="9" fill="url(#g55)"/><rect x="15" y="1841" width="565" height="9" fill="url(#g56)"/><rect x="15" y="1849" width="565" height="9" fill="url(#g57)"/><rect x="15" y="1857" width="565" height="9" fill="url(#g58)"/><rect x="15" y="1865" width="565" height="9" fill="url(#g59)"/><rect x="15" y="1873" width="565" height="9" fill="url(#g60)"/><rect x="15" y="1881" width="565" height="9" fill="url(#g61)"/><rect x="15" y="1889" width="565" height="9" fill="url(#g62)"/><rect x="15" y="1897" width="565" height="9" fill="url(#g63)"/><rect x="15" y="1905" width="565" height="9" fill="url(#g64)"/><rect x="15" y="1913" width="565" height="9" fill="url(#g65)"/><rect x="15" y="1921" width="565" height="9" fill="url(#g66)"/><rect x="15" y="1929" width="565" height="9" fill="url(#g67)"/><rect x="15" y="1937" width="565" height="9" fill="url(#g68)"/><rect x="15" y="1945" width="565" height="9" fill="url(#g69)"/></g>
<circle cx="237" cy="1617" r="10.5" fill="#fff6dc" filter="url(#bl2)"/>
<circle cx="310" cy="1667" r="10" fill="#e4b070" filter="url(#bl2)" opacity="0.55"/>
<g fill="#7a5212" opacity="0.22" filter="url(#bl4)"><ellipse cx="275" cy="1592" rx="20" ry="18"/><ellipse cx="405" cy="1592" rx="22" ry="14"/><ellipse cx="328" cy="1742" rx="30" ry="20"/></g>
<g fill="#4a2e08" opacity="0.45" filter="url(#bl1)"><circle cx="273" cy="1596" r="1.8"/><circle cx="284" cy="1596" r="1.4"/><circle cx="284" cy="1595" r="1.0"/><circle cx="272" cy="1593" r="1.1"/><circle cx="262" cy="1599" r="1.1"/><circle cx="277" cy="1603" r="2.1"/><circle cx="268" cy="1588" r="2.2"/><circle cx="290" cy="1597" r="1.3"/><circle cx="277" cy="1595" r="1.4"/><circle cx="277" cy="1587" r="1.7"/><circle cx="270" cy="1586" r="1.7"/><circle cx="278" cy="1593" r="1.2"/><circle cx="271" cy="1584" r="1.4"/><circle cx="267" cy="1587" r="1.4"/></g>
<g fill="#4a2e08" opacity="0.45" filter="url(#bl1)"><circle cx="409" cy="1583" r="1.3"/><circle cx="394" cy="1589" r="2.1"/><circle cx="404" cy="1587" r="2.2"/><circle cx="413" cy="1596" r="1.9"/><circle cx="412" cy="1598" r="1.0"/><circle cx="397" cy="1583" r="1.7"/><circle cx="411" cy="1588" r="1.8"/><circle cx="394" cy="1588" r="1.5"/><circle cx="418" cy="1580" r="1.6"/><circle cx="403" cy="1590" r="1.8"/><circle cx="386" cy="1577" r="2.0"/><circle cx="403" cy="1598" r="1.8"/></g>
<g fill="#4a2e08" opacity="0.4" filter="url(#bl1)"><circle cx="341" cy="1743" r="1.2"/><circle cx="331" cy="1744" r="1.9"/><circle cx="334" cy="1746" r="1.5"/><circle cx="331" cy="1740" r="1.5"/><circle cx="304" cy="1737" r="2.0"/><circle cx="334" cy="1737" r="1.5"/><circle cx="312" cy="1755" r="2.1"/><circle cx="332" cy="1746" r="1.3"/><circle cx="329" cy="1751" r="1.7"/><circle cx="328" cy="1743" r="1.5"/><circle cx="317" cy="1750" r="2.1"/><circle cx="323" cy="1733" r="1.7"/><circle cx="326" cy="1740" r="2.1"/><circle cx="333" cy="1726" r="2.0"/></g>
<g fill="#2a1a04" opacity="0.7" filter="url(#bl1)"><circle cx="265" cy="1600" r="2"/><circle cx="393" cy="1601" r="2.2"/><circle cx="331" cy="1750" r="1.8"/><circle cx="410" cy="1588" r="1.6"/><circle cx="295" cy="1497" r="1.8"/></g>
<g fill="none" stroke="#7a2408" stroke-width="1.5" opacity="0.45" filter="url(#bl05)"><path d="M64,1570 Q85,1600 95,1625 Q85,1690 75,1760 L72,1810"/><path d="M95,1625 Q150,1612 230,1590"/><path d="M57,1700 Q90,1660 125,1650"/><path d="M115,1830 Q200,1790 250,1770 Q320,1755 380,1752"/><path d="M125,1650 Q132,1720 120,1790"/></g>
</g>
<path d="M506.0,1778.0 C509.0,1784.0 511.9,1785.5 513.4,1794.5 C513.9,1800.5 512.4,1803.5 509.4,1804.0 L493.3,1806.0 Q490.3,1806.5 489.3,1807.5 A242.5,242.5 0 1 1 506.0,1778.0 Z" fill="none" stroke="#0e8a0e" stroke-width="1.3" opacity="0.8"/>
</g>
<g clip-path="url(#cp2)">
<clipPath id="fp2"><path d="M970.6,1778.7 C973.6,1784.7 978.2,1786.2 979.7,1795.2 C980.2,1801.2 978.7,1804.2 975.7,1804.7 L957.7,1806.7 Q954.7,1807.2 953.7,1808.2 A240.9,240.9 0 1 1 970.6,1778.7 Z"/></clipPath>
<g clip-path="url(#fp2)">
<defs><linearGradient id="g70"><stop offset="0.000" stop-color="#88400d"/><stop offset="0.059" stop-color="#89410d"/><stop offset="0.118" stop-color="#8a420d"/><stop offset="0.176" stop-color="#8b430e"/><stop offset="0.235" stop-color="#8d440e"/><stop offset="0.294" stop-color="#90460e"/><stop offset="0.353" stop-color="#92470f"/><stop offset="0.412" stop-color="#95490f"/><stop offset="0.471" stop-color="#974b10"/><stop offset="0.529" stop-color="#9a4d10"/><stop offset="0.588" stop-color="#9c4e11"/><stop offset="0.647" stop-color="#9e5011"/><stop offset="0.706" stop-color="#9f5112"/><stop offset="0.765" stop-color="#a05212"/><stop offset="0.824" stop-color="#a15212"/><stop offset="0.882" stop-color="#a15213"/><stop offset="0.941" stop-color="#a15213"/><stop offset="1.000" stop-color="#a15213"/></linearGradient><linearGradient id="g71"><stop offset="0.000" stop-color="#87400d"/><stop offset="0.059" stop-color="#88410d"/><stop offset="0.118" stop-color="#89410d"/><stop offset="0.176" stop-color="#8a420d"/><stop offset="0.235" stop-color="#8d440e"/><stop offset="0.294" stop-color="#8f460e"/><stop offset="0.353" stop-color="#92470f"/><stop offset="0.412" stop-color="#95490f"/><stop offset="0.471" stop-color="#974b10"/><stop offset="0.529" stop-color="#9a4d10"/><stop offset="0.588" stop-color="#9c4f11"/><stop offset="0.647" stop-color="#9e5011"/><stop offset="0.706" stop-color="#9f5112"/><stop offset="0.765" stop-color="#a05212"/><stop offset="0.824" stop-color="#a15212"/><stop offset="0.882" stop-color="#a15213"/><stop offset="0.941" stop-color="#a15213"/><stop offset="1.000" stop-color="#a15213"/></linearGradient><linearGradient id="g72"><stop offset="0.000" stop-color="#87400d"/><stop offset="0.059" stop-color="#88400d"/><stop offset="0.118" stop-color="#88410d"/><stop offset="0.176" stop-color="#8a420d"/><stop offset="0.235" stop-color="#8c430e"/><stop offset="0.294" stop-color="#8f450e"/><stop offset="0.353" stop-color="#92470e"/><stop offset="0.412" stop-color="#95490f"/><stop offset="0.471" stop-color="#974b10"/><stop offset="0.529" stop-color="#9a4d10"/><stop offset="0.588" stop-color="#9c4f11"/><stop offset="0.647" stop-color="#9e5011"/><stop offset="0.706" stop-color="#a05212"/><stop offset="0.765" stop-color="#a15312"/><stop offset="0.824" stop-color="#a15313"/><stop offset="0.882" stop-color="#a25313"/><stop offset="0.941" stop-color="#a25313"/><stop offset="1.000" stop-color="#a25213"/></linearGradient><linearGradient id="g73"><stop offset="0.000" stop-color="#863f0d"/><stop offset="0.059" stop-color="#87400d"/><stop offset="0.118" stop-color="#88410d"/><stop offset="0.176" stop-color="#89420d"/><stop offset="0.235" stop-color="#8c430d"/><stop offset="0.294" stop-color="#8f450e"/><stop offset="0.353" stop-color="#92470e"/><stop offset="0.412" stop-color="#95490f"/><stop offset="0.471" stop-color="#984b10"/><stop offset="0.529" stop-color="#9a4d10"/><stop offset="0.588" stop-color="#9c4f11"/><stop offset="0.647" stop-color="#9e5111"/><stop offset="0.706" stop-color="#a05212"/><stop offset="0.765" stop-color="#a15312"/><stop offset="0.824" stop-color="#a25313"/><stop offset="0.882" stop-color="#a25313"/><stop offset="0.941" stop-color="#a25313"/><stop offset="1.000" stop-color="#a25313"/></linearGradient><linearGradient id="g74"><stop offset="0.000" stop-color="#863f0d"/><stop offset="0.059" stop-color="#86400d"/><stop offset="0.118" stop-color="#87400d"/><stop offset="0.176" stop-color="#89410d"/><stop offset="0.235" stop-color="#8b430d"/><stop offset="0.294" stop-color="#8e450e"/><stop offset="0.353" stop-color="#92470e"/><stop offset="0.412" stop-color="#95490f"/><stop offset="0.471" stop-color="#984b0f"/><stop offset="0.529" stop-color="#9a4d10"/><stop offset="0.588" stop-color="#9d4f11"/><stop offset="0.647" stop-color="#9f5111"/><stop offset="0.706" stop-color="#a05312"/><stop offset="0.765" stop-color="#a15312"/><stop offset="0.824" stop-color="#a25313"/><stop offset="0.882" stop-color="#a25313"/><stop offset="0.941" stop-color="#a25313"/><stop offset="1.000" stop-color="#a25313"/></linearGradient><linearGradient id="g75"><stop offset="0.000" stop-color="#853f0d"/><stop offset="0.059" stop-color="#863f0d"/><stop offset="0.118" stop-color="#87400d"/><stop offset="0.176" stop-color="#88410d"/><stop offset="0.235" stop-color="#8a430d"/><stop offset="0.294" stop-color="#8e450e"/><stop offset="0.353" stop-color="#91470e"/><stop offset="0.412" stop-color="#94490f"/><stop offset="0.471" stop-color="#984b0f"/><stop offset="0.529" stop-color="#9b4e10"/><stop offset="0.588" stop-color="#9d4f11"/><stop offset="0.647" stop-color="#9f5112"/><stop offset="0.706" stop-color="#a15312"/><stop offset="0.765" stop-color="#a25413"/><stop offset="0.824" stop-color="#a25413"/><stop offset="0.882" stop-color="#a25413"/><stop offset="0.941" stop-color="#a25313"/><stop offset="1.000" stop-color="#a25313"/></linearGradient><linearGradient id="g76"><stop offset="0.000" stop-color="#853e0d"/><stop offset="0.059" stop-color="#853f0d"/><stop offset="0.118" stop-color="#86400d"/><stop offset="0.176" stop-color="#87410d"/><stop offset="0.235" stop-color="#8a420d"/><stop offset="0.294" stop-color="#8e450e"/><stop offset="0.353" stop-color="#91470e"/><stop offset="0.412" stop-color="#94490f"/><stop offset="0.471" stop-color="#984b0f"/><stop offset="0.529" stop-color="#9b4e10"/><stop offset="0.588" stop-color="#9d5011"/><stop offset="0.647" stop-color="#9f5212"/><stop offset="0.706" stop-color="#a15312"/><stop offset="0.765" stop-color="#a25413"/><stop offset="0.824" stop-color="#a35413"/><stop offset="0.882" stop-color="#a35413"/><stop offset="0.941" stop-color="#a35413"/><stop offset="1.000" stop-color="#a25313"/></linearGradient><linearGradient id="g77"><stop offset="0.000" stop-color="#843e0d"/><stop offset="0.059" stop-color="#853f0d"/><stop offset="0.118" stop-color="#853f0d"/><stop offset="0.176" stop-color="#87400d"/><stop offset="0.235" stop-color="#89420d"/><stop offset="0.294" stop-color="#8d450d"/><stop offset="0.353" stop-color="#91470e"/><stop offset="0.412" stop-color="#94490f"/><stop offset="0.471" stop-color="#984c0f"/><stop offset="0.529" stop-color="#9b4e10"/><stop offset="0.588" stop-color="#9d5011"/><stop offset="0.647" stop-color="#a05212"/><stop offset="0.706" stop-color="#a25412"/><stop offset="0.765" stop-color="#a35513"/><stop offset="0.824" stop-color="#a35513"/><stop offset="0.882" stop-color="#a35413"/><stop offset="0.941" stop-color="#a35413"/><stop offset="1.000" stop-color="#a35313"/></linearGradient><linearGradient id="g78"><stop offset="0.000" stop-color="#833e0d"/><stop offset="0.059" stop-color="#843e0d"/><stop offset="0.118" stop-color="#853f0c"/><stop offset="0.176" stop-color="#86400c"/><stop offset="0.235" stop-color="#89420d"/><stop offset="0.294" stop-color="#8d440d"/><stop offset="0.353" stop-color="#91470e"/><stop offset="0.412" stop-color="#94490e"/><stop offset="0.471" stop-color="#984c0f"/><stop offset="0.529" stop-color="#9b4e10"/><stop offset="0.588" stop-color="#9d5011"/><stop offset="0.647" stop-color="#a05212"/><stop offset="0.706" stop-color="#a25413"/><stop offset="0.765" stop-color="#a35513"/><stop offset="0.824" stop-color="#a35513"/><stop offset="0.882" stop-color="#a35413"/><stop offset="0.941" stop-color="#a35413"/><stop offset="1.000" stop-color="#a35413"/></linearGradient><linearGradient id="g79"><stop offset="0.000" stop-color="#833d0d"/><stop offset="0.059" stop-color="#833e0d"/><stop offset="0.118" stop-color="#843f0c"/><stop offset="0.176" stop-color="#853f0c"/><stop offset="0.235" stop-color="#88410d"/><stop offset="0.294" stop-color="#8d440d"/><stop offset="0.353" stop-color="#91470e"/><stop offset="0.412" stop-color="#94490e"/><stop offset="0.471" stop-color="#984c0f"/><stop offset="0.529" stop-color="#9b4e10"/><stop offset="0.588" stop-color="#9e5011"/><stop offset="0.647" stop-color="#a05312"/><stop offset="0.706" stop-color="#a25513"/><stop offset="0.765" stop-color="#a35613"/><stop offset="0.824" stop-color="#a35513"/><stop offset="0.882" stop-color="#a35513"/><stop offset="0.941" stop-color="#a35413"/><stop offset="1.000" stop-color="#a35413"/></linearGradient><linearGradient id="g80"><stop offset="0.000" stop-color="#823d0d"/><stop offset="0.059" stop-color="#833d0c"/><stop offset="0.118" stop-color="#843e0c"/><stop offset="0.176" stop-color="#843f0c"/><stop offset="0.235" stop-color="#87410c"/><stop offset="0.294" stop-color="#8d440d"/><stop offset="0.353" stop-color="#91470e"/><stop offset="0.412" stop-color="#94490e"/><stop offset="0.471" stop-color="#984c0f"/><stop offset="0.529" stop-color="#9b4e10"/><stop offset="0.588" stop-color="#9e5011"/><stop offset="0.647" stop-color="#a15312"/><stop offset="0.706" stop-color="#a35513"/><stop offset="0.765" stop-color="#a45613"/><stop offset="0.824" stop-color="#a45613"/><stop offset="0.882" stop-color="#a45513"/><stop offset="0.941" stop-color="#a45513"/><stop offset="1.000" stop-color="#a35413"/></linearGradient><linearGradient id="g81"><stop offset="0.000" stop-color="#813c0c"/><stop offset="0.059" stop-color="#823d0c"/><stop offset="0.118" stop-color="#833e0c"/><stop offset="0.176" stop-color="#843f0c"/><stop offset="0.235" stop-color="#87410c"/><stop offset="0.294" stop-color="#8d440d"/><stop offset="0.353" stop-color="#91470e"/><stop offset="0.412" stop-color="#94490e"/><stop offset="0.471" stop-color="#984c0f"/><stop offset="0.529" stop-color="#9c4f10"/><stop offset="0.588" stop-color="#9e5111"/><stop offset="0.647" stop-color="#a15312"/><stop offset="0.706" stop-color="#a35613"/><stop offset="0.765" stop-color="#a45613"/><stop offset="0.824" stop-color="#a45613"/><stop offset="0.882" stop-color="#a45513"/><stop offset="0.941" stop-color="#a45513"/><stop offset="1.000" stop-color="#a45413"/></linearGradient><linearGradient id="g82"><stop offset="0.000" stop-color="#813c0c"/><stop offset="0.059" stop-color="#813d0c"/><stop offset="0.118" stop-color="#823e0c"/><stop offset="0.176" stop-color="#833e0c"/><stop offset="0.235" stop-color="#86400c"/><stop offset="0.294" stop-color="#8c440d"/><stop offset="0.353" stop-color="#91470e"/><stop offset="0.412" stop-color="#94490e"/><stop offset="0.471" stop-color="#984c0f"/><stop offset="0.529" stop-color="#9c4f10"/><stop offset="0.588" stop-color="#9e5111"/><stop offset="0.647" stop-color="#a25412"/><stop offset="0.706" stop-color="#a45613"/><stop offset="0.765" stop-color="#a45713"/><stop offset="0.824" stop-color="#a45613"/><stop offset="0.882" stop-color="#a45513"/><stop offset="0.941" stop-color="#a45513"/><stop offset="1.000" stop-color="#a45513"/></linearGradient><linearGradient id="g83"><stop offset="0.000" stop-color="#803b0c"/><stop offset="0.059" stop-color="#813c0c"/><stop offset="0.118" stop-color="#823d0c"/><stop offset="0.176" stop-color="#833e0c"/><stop offset="0.235" stop-color="#86400c"/><stop offset="0.294" stop-color="#8c440d"/><stop offset="0.353" stop-color="#91470e"/><stop offset="0.412" stop-color="#94490e"/><stop offset="0.471" stop-color="#994c10"/><stop offset="0.529" stop-color="#9c4f10"/><stop offset="0.588" stop-color="#9f5111"/><stop offset="0.647" stop-color="#a25412"/><stop offset="0.706" stop-color="#a45713"/><stop offset="0.765" stop-color="#a55713"/><stop offset="0.824" stop-color="#a55613"/><stop offset="0.882" stop-color="#a45613"/><stop offset="0.941" stop-color="#a45513"/><stop offset="1.000" stop-color="#a45514"/></linearGradient><linearGradient id="g84"><stop offset="0.000" stop-color="#7f3b0c"/><stop offset="0.059" stop-color="#803c0c"/><stop offset="0.118" stop-color="#813d0c"/><stop offset="0.176" stop-color="#833e0c"/><stop offset="0.235" stop-color="#86400c"/><stop offset="0.294" stop-color="#8c440d"/><stop offset="0.353" stop-color="#91470e"/><stop offset="0.412" stop-color="#94490e"/><stop offset="0.471" stop-color="#994c10"/><stop offset="0.529" stop-color="#9d4f10"/><stop offset="0.588" stop-color="#9f5111"/><stop offset="0.647" stop-color="#a35412"/><stop offset="0.706" stop-color="#a45713"/><stop offset="0.765" stop-color="#a55713"/><stop offset="0.824" stop-color="#a55613"/><stop offset="0.882" stop-color="#a55614"/><stop offset="0.941" stop-color="#a45514"/><stop offset="1.000" stop-color="#a45514"/></linearGradient><linearGradient id="g85"><stop offset="0.000" stop-color="#7e3a0c"/><stop offset="0.059" stop-color="#7f3b0c"/><stop offset="0.118" stop-color="#813c0c"/><stop offset="0.176" stop-color="#823e0c"/><stop offset="0.235" stop-color="#86400c"/><stop offset="0.294" stop-color="#8c430d"/><stop offset="0.353" stop-color="#91460e"/><stop offset="0.412" stop-color="#95490f"/><stop offset="0.471" stop-color="#994c10"/><stop offset="0.529" stop-color="#9d4f11"/><stop offset="0.588" stop-color="#a05111"/><stop offset="0.647" stop-color="#a35412"/><stop offset="0.706" stop-color="#a55713"/><stop offset="0.765" stop-color="#a55713"/><stop offset="0.824" stop-color="#a55714"/><stop offset="0.882" stop-color="#a55614"/><stop offset="0.941" stop-color="#a55614"/><stop offset="1.000" stop-color="#a45514"/></linearGradient><linearGradient id="g86"><stop offset="0.000" stop-color="#7d3a0c"/><stop offset="0.059" stop-color="#7e3a0c"/><stop offset="0.118" stop-color="#803c0c"/><stop offset="0.176" stop-color="#823e0c"/><stop offset="0.235" stop-color="#86400c"/><stop offset="0.294" stop-color="#8c430d"/><stop offset="0.353" stop-color="#91460e"/><stop offset="0.412" stop-color="#95490f"/><stop offset="0.471" stop-color="#9a4c10"/><stop offset="0.529" stop-color="#9e4f11"/><stop offset="0.588" stop-color="#a15212"/><stop offset="0.647" stop-color="#a45412"/><stop offset="0.706" stop-color="#a55713"/><stop offset="0.765" stop-color="#a65713"/><stop offset="0.824" stop-color="#a55714"/><stop offset="0.882" stop-color="#a55614"/><stop offset="0.941" stop-color="#a55614"/><stop offset="1.000" stop-color="#a45514"/></linearGradient><linearGradient id="g87"><stop offset="0.000" stop-color="#7c390c"/><stop offset="0.059" stop-color="#7c3a0c"/><stop offset="0.118" stop-color="#7f3b0c"/><stop offset="0.176" stop-color="#823d0c"/><stop offset="0.235" stop-color="#86400d"/><stop offset="0.294" stop-color="#8c430e"/><stop offset="0.353" stop-color="#91460e"/><stop offset="0.412" stop-color="#95490f"/><stop offset="0.471" stop-color="#9a4c10"/><stop offset="0.529" stop-color="#9e4f11"/><stop offset="0.588" stop-color="#a25212"/><stop offset="0.647" stop-color="#a55513"/><stop offset="0.706" stop-color="#a65713"/><stop offset="0.765" stop-color="#a65714"/><stop offset="0.824" stop-color="#a65714"/><stop offset="0.882" stop-color="#a55714"/><stop offset="0.941" stop-color="#a55614"/><stop offset="1.000" stop-color="#a55614"/></linearGradient><linearGradient id="g88"><stop offset="0.000" stop-color="#7a380c"/><stop offset="0.059" stop-color="#7b390b"/><stop offset="0.118" stop-color="#7e3a0c"/><stop offset="0.176" stop-color="#823d0c"/><stop offset="0.235" stop-color="#86400d"/><stop offset="0.294" stop-color="#8c430e"/><stop offset="0.353" stop-color="#91460e"/><stop offset="0.412" stop-color="#96490f"/><stop offset="0.471" stop-color="#9b4c10"/><stop offset="0.529" stop-color="#9f4f11"/><stop offset="0.588" stop-color="#a35212"/><stop offset="0.647" stop-color="#a55513"/><stop offset="0.706" stop-color="#a65713"/><stop offset="0.765" stop-color="#a65714"/><stop offset="0.824" stop-color="#a65714"/><stop offset="0.882" stop-color="#a65714"/><stop offset="0.941" stop-color="#a55714"/><stop offset="1.000" stop-color="#a55614"/></linearGradient><linearGradient id="g89"><stop offset="0.000" stop-color="#79370b"/><stop offset="0.059" stop-color="#7a380b"/><stop offset="0.118" stop-color="#7c3a0c"/><stop offset="0.176" stop-color="#813c0c"/><stop offset="0.235" stop-color="#86400d"/><stop offset="0.294" stop-color="#8c430e"/><stop offset="0.353" stop-color="#91460e"/><stop offset="0.412" stop-color="#96490f"/><stop offset="0.471" stop-color="#9b4c11"/><stop offset="0.529" stop-color="#a05011"/><stop offset="0.588" stop-color="#a45312"/><stop offset="0.647" stop-color="#a65513"/><stop offset="0.706" stop-color="#a75713"/><stop offset="0.765" stop-color="#a75714"/><stop offset="0.824" stop-color="#a65714"/><stop offset="0.882" stop-color="#a65714"/><stop offset="0.941" stop-color="#a55714"/><stop offset="1.000" stop-color="#a55614"/></linearGradient><linearGradient id="g90"><stop offset="0.000" stop-color="#78360b"/><stop offset="0.059" stop-color="#78370b"/><stop offset="0.118" stop-color="#7b390b"/><stop offset="0.176" stop-color="#803c0c"/><stop offset="0.235" stop-color="#863f0d"/><stop offset="0.294" stop-color="#8c430e"/><stop offset="0.353" stop-color="#91460e"/><stop offset="0.412" stop-color="#964910"/><stop offset="0.471" stop-color="#9c4d11"/><stop offset="0.529" stop-color="#a15012"/><stop offset="0.588" stop-color="#a45312"/><stop offset="0.647" stop-color="#a75513"/><stop offset="0.706" stop-color="#a85713"/><stop offset="0.765" stop-color="#a85714"/><stop offset="0.824" stop-color="#a75814"/><stop offset="0.882" stop-color="#a65814"/><stop offset="0.941" stop-color="#a55714"/><stop offset="1.000" stop-color="#a55614"/></linearGradient><linearGradient id="g91"><stop offset="0.000" stop-color="#76350b"/><stop offset="0.059" stop-color="#76350b"/><stop offset="0.118" stop-color="#79380b"/><stop offset="0.176" stop-color="#7f3b0c"/><stop offset="0.235" stop-color="#863f0d"/><stop offset="0.294" stop-color="#8c430e"/><stop offset="0.353" stop-color="#91460f"/><stop offset="0.412" stop-color="#974910"/><stop offset="0.471" stop-color="#9d4d11"/><stop offset="0.529" stop-color="#a25012"/><stop offset="0.588" stop-color="#a55313"/><stop offset="0.647" stop-color="#a85613"/><stop offset="0.706" stop-color="#a95714"/><stop offset="0.765" stop-color="#a85714"/><stop offset="0.824" stop-color="#a75814"/><stop offset="0.882" stop-color="#a65814"/><stop offset="0.941" stop-color="#a55814"/><stop offset="1.000" stop-color="#a55714"/></linearGradient><linearGradient id="g92"><stop offset="0.000" stop-color="#75350b"/><stop offset="0.059" stop-color="#74340b"/><stop offset="0.118" stop-color="#77360b"/><stop offset="0.176" stop-color="#7e3a0c"/><stop offset="0.235" stop-color="#853e0d"/><stop offset="0.294" stop-color="#8c420e"/><stop offset="0.353" stop-color="#91460f"/><stop offset="0.412" stop-color="#974910"/><stop offset="0.471" stop-color="#9e4d11"/><stop offset="0.529" stop-color="#a35012"/><stop offset="0.588" stop-color="#a65313"/><stop offset="0.647" stop-color="#a95613"/><stop offset="0.706" stop-color="#aa5714"/><stop offset="0.765" stop-color="#a95814"/><stop offset="0.824" stop-color="#a75814"/><stop offset="0.882" stop-color="#a65814"/><stop offset="0.941" stop-color="#a55814"/><stop offset="1.000" stop-color="#a55714"/></linearGradient><linearGradient id="g93"><stop offset="0.000" stop-color="#73340b"/><stop offset="0.059" stop-color="#72330a"/><stop offset="0.118" stop-color="#75350b"/><stop offset="0.176" stop-color="#7d390c"/><stop offset="0.235" stop-color="#853e0d"/><stop offset="0.294" stop-color="#8b420e"/><stop offset="0.353" stop-color="#91450f"/><stop offset="0.412" stop-color="#984910"/><stop offset="0.471" stop-color="#9f4d12"/><stop offset="0.529" stop-color="#a45112"/><stop offset="0.588" stop-color="#a75413"/><stop offset="0.647" stop-color="#aa5613"/><stop offset="0.706" stop-color="#ab5714"/><stop offset="0.765" stop-color="#aa5814"/><stop offset="0.824" stop-color="#a85814"/><stop offset="0.882" stop-color="#a65914"/><stop offset="0.941" stop-color="#a55814"/><stop offset="1.000" stop-color="#a55714"/></linearGradient><linearGradient id="g94"><stop offset="0.000" stop-color="#71330a"/><stop offset="0.059" stop-color="#6f320a"/><stop offset="0.118" stop-color="#73340a"/><stop offset="0.176" stop-color="#7b390c"/><stop offset="0.235" stop-color="#843d0d"/><stop offset="0.294" stop-color="#8b420e"/><stop offset="0.353" stop-color="#91450f"/><stop offset="0.412" stop-color="#994910"/><stop offset="0.471" stop-color="#a04e12"/><stop offset="0.529" stop-color="#a55113"/><stop offset="0.588" stop-color="#a85413"/><stop offset="0.647" stop-color="#ab5614"/><stop offset="0.706" stop-color="#ac5714"/><stop offset="0.765" stop-color="#aa5814"/><stop offset="0.824" stop-color="#a85914"/><stop offset="0.882" stop-color="#a65914"/><stop offset="0.941" stop-color="#a55914"/><stop offset="1.000" stop-color="#a55714"/></linearGradient><linearGradient id="g95"><stop offset="0.000" stop-color="#70320a"/><stop offset="0.059" stop-color="#6d300a"/><stop offset="0.118" stop-color="#70320a"/><stop offset="0.176" stop-color="#7a380b"/><stop offset="0.235" stop-color="#833d0d"/><stop offset="0.294" stop-color="#8a410e"/><stop offset="0.353" stop-color="#91450f"/><stop offset="0.412" stop-color="#9a4a11"/><stop offset="0.471" stop-color="#a24e12"/><stop offset="0.529" stop-color="#a65113"/><stop offset="0.588" stop-color="#a95414"/><stop offset="0.647" stop-color="#ac5614"/><stop offset="0.706" stop-color="#ad5814"/><stop offset="0.765" stop-color="#ab5815"/><stop offset="0.824" stop-color="#a85915"/><stop offset="0.882" stop-color="#a65a14"/><stop offset="0.941" stop-color="#a55914"/><stop offset="1.000" stop-color="#a55814"/></linearGradient><linearGradient id="g96"><stop offset="0.000" stop-color="#6f310a"/><stop offset="0.059" stop-color="#6b2f09"/><stop offset="0.118" stop-color="#6e310a"/><stop offset="0.176" stop-color="#78370b"/><stop offset="0.235" stop-color="#823c0d"/><stop offset="0.294" stop-color="#8a400e"/><stop offset="0.353" stop-color="#91450f"/><stop offset="0.412" stop-color="#9a4a11"/><stop offset="0.471" stop-color="#a34f12"/><stop offset="0.529" stop-color="#a75213"/><stop offset="0.588" stop-color="#aa5414"/><stop offset="0.647" stop-color="#ad5714"/><stop offset="0.706" stop-color="#ae5815"/><stop offset="0.765" stop-color="#ac5915"/><stop offset="0.824" stop-color="#a85a15"/><stop offset="0.882" stop-color="#a65a14"/><stop offset="0.941" stop-color="#a55914"/><stop offset="1.000" stop-color="#a65814"/></linearGradient><linearGradient id="g97"><stop offset="0.000" stop-color="#6d300a"/><stop offset="0.059" stop-color="#692e09"/><stop offset="0.118" stop-color="#6c300a"/><stop offset="0.176" stop-color="#77360b"/><stop offset="0.235" stop-color="#813c0d"/><stop offset="0.294" stop-color="#89400e"/><stop offset="0.353" stop-color="#91450f"/><stop offset="0.412" stop-color="#9b4a11"/><stop offset="0.471" stop-color="#a44f13"/><stop offset="0.529" stop-color="#a85213"/><stop offset="0.588" stop-color="#ab5414"/><stop offset="0.647" stop-color="#ae5715"/><stop offset="0.706" stop-color="#b05815"/><stop offset="0.765" stop-color="#ad5915"/><stop offset="0.824" stop-color="#a85a15"/><stop offset="0.882" stop-color="#a65b15"/><stop offset="0.941" stop-color="#a55a14"/><stop offset="1.000" stop-color="#a65814"/></linearGradient><linearGradient id="g98"><stop offset="0.000" stop-color="#6c300a"/><stop offset="0.059" stop-color="#682d09"/><stop offset="0.118" stop-color="#6a2f09"/><stop offset="0.176" stop-color="#75350b"/><stop offset="0.235" stop-color="#803b0c"/><stop offset="0.294" stop-color="#883f0e"/><stop offset="0.353" stop-color="#91450f"/><stop offset="0.412" stop-color="#9c4a11"/><stop offset="0.471" stop-color="#a55013"/><stop offset="0.529" stop-color="#a85214"/><stop offset="0.588" stop-color="#ac5514"/><stop offset="0.647" stop-color="#b05715"/><stop offset="0.706" stop-color="#b15916"/><stop offset="0.765" stop-color="#ad5915"/><stop offset="0.824" stop-color="#a85a15"/><stop offset="0.882" stop-color="#a65b15"/><stop offset="0.941" stop-color="#a65a15"/><stop offset="1.000" stop-color="#a65814"/></linearGradient><linearGradient id="g99"><stop offset="0.000" stop-color="#6b2f0a"/><stop offset="0.059" stop-color="#672c09"/><stop offset="0.118" stop-color="#692e09"/><stop offset="0.176" stop-color="#74340b"/><stop offset="0.235" stop-color="#803a0c"/><stop offset="0.294" stop-color="#883f0e"/><stop offset="0.353" stop-color="#92440f"/><stop offset="0.412" stop-color="#9c4a11"/><stop offset="0.471" stop-color="#a55013"/><stop offset="0.529" stop-color="#a95214"/><stop offset="0.588" stop-color="#ad5515"/><stop offset="0.647" stop-color="#b15815"/><stop offset="0.706" stop-color="#b25916"/><stop offset="0.765" stop-color="#ae5916"/><stop offset="0.824" stop-color="#a95a15"/><stop offset="0.882" stop-color="#a65b15"/><stop offset="0.941" stop-color="#a65a15"/><stop offset="1.000" stop-color="#a65815"/></linearGradient><linearGradient id="g100"><stop offset="0.000" stop-color="#6b2f09"/><stop offset="0.059" stop-color="#662c09"/><stop offset="0.118" stop-color="#682d09"/><stop offset="0.176" stop-color="#72330a"/><stop offset="0.235" stop-color="#7f3a0c"/><stop offset="0.294" stop-color="#883f0e"/><stop offset="0.353" stop-color="#92440f"/><stop offset="0.412" stop-color="#9d4a12"/><stop offset="0.471" stop-color="#a65013"/><stop offset="0.529" stop-color="#aa5214"/><stop offset="0.588" stop-color="#ae5515"/><stop offset="0.647" stop-color="#b25816"/><stop offset="0.706" stop-color="#b35916"/><stop offset="0.765" stop-color="#af5a16"/><stop offset="0.824" stop-color="#a95a15"/><stop offset="0.882" stop-color="#a65b15"/><stop offset="0.941" stop-color="#a65a15"/><stop offset="1.000" stop-color="#a65815"/></linearGradient><linearGradient id="g101"><stop offset="0.000" stop-color="#6a2e09"/><stop offset="0.059" stop-color="#652c09"/><stop offset="0.118" stop-color="#672c09"/><stop offset="0.176" stop-color="#71320a"/><stop offset="0.235" stop-color="#7e390c"/><stop offset="0.294" stop-color="#873e0e"/><stop offset="0.353" stop-color="#924410"/><stop offset="0.412" stop-color="#9d4a12"/><stop offset="0.471" stop-color="#a65013"/><stop offset="0.529" stop-color="#aa5214"/><stop offset="0.588" stop-color="#af5515"/><stop offset="0.647" stop-color="#b35816"/><stop offset="0.706" stop-color="#b35a16"/><stop offset="0.765" stop-color="#af5a16"/><stop offset="0.824" stop-color="#aa5a15"/><stop offset="0.882" stop-color="#a65b15"/><stop offset="0.941" stop-color="#a65a15"/><stop offset="1.000" stop-color="#a65815"/></linearGradient><linearGradient id="g102"><stop offset="0.000" stop-color="#6a2e09"/><stop offset="0.059" stop-color="#652b09"/><stop offset="0.118" stop-color="#652b09"/><stop offset="0.176" stop-color="#6f310a"/><stop offset="0.235" stop-color="#7c380c"/><stop offset="0.294" stop-color="#873e0e"/><stop offset="0.353" stop-color="#924410"/><stop offset="0.412" stop-color="#9d4a12"/><stop offset="0.471" stop-color="#a64f13"/><stop offset="0.529" stop-color="#ab5214"/><stop offset="0.588" stop-color="#b05515"/><stop offset="0.647" stop-color="#b45816"/><stop offset="0.706" stop-color="#b45a16"/><stop offset="0.765" stop-color="#af5a16"/><stop offset="0.824" stop-color="#aa5a15"/><stop offset="0.882" stop-color="#a75b15"/><stop offset="0.941" stop-color="#a65a15"/><stop offset="1.000" stop-color="#a65815"/></linearGradient><linearGradient id="g103"><stop offset="0.000" stop-color="#692e09"/><stop offset="0.059" stop-color="#642b09"/><stop offset="0.118" stop-color="#642b08"/><stop offset="0.176" stop-color="#6d2f0a"/><stop offset="0.235" stop-color="#7b370c"/><stop offset="0.294" stop-color="#873e0e"/><stop offset="0.353" stop-color="#934410"/><stop offset="0.412" stop-color="#9d4a12"/><stop offset="0.471" stop-color="#a64f13"/><stop offset="0.529" stop-color="#ab5215"/><stop offset="0.588" stop-color="#b15616"/><stop offset="0.647" stop-color="#b45816"/><stop offset="0.706" stop-color="#b45a17"/><stop offset="0.765" stop-color="#b05a16"/><stop offset="0.824" stop-color="#ab5a16"/><stop offset="0.882" stop-color="#a85b15"/><stop offset="0.941" stop-color="#a75a15"/><stop offset="1.000" stop-color="#a65815"/></linearGradient><linearGradient id="g104"><stop offset="0.000" stop-color="#692d09"/><stop offset="0.059" stop-color="#642b08"/><stop offset="0.118" stop-color="#632a08"/><stop offset="0.176" stop-color="#6b2e0a"/><stop offset="0.235" stop-color="#7a360c"/><stop offset="0.294" stop-color="#873e0e"/><stop offset="0.353" stop-color="#944410"/><stop offset="0.412" stop-color="#9d4a12"/><stop offset="0.471" stop-color="#a54e13"/><stop offset="0.529" stop-color="#ac5215"/><stop offset="0.588" stop-color="#b25616"/><stop offset="0.647" stop-color="#b55917"/><stop offset="0.706" stop-color="#b45a17"/><stop offset="0.765" stop-color="#b05a16"/><stop offset="0.824" stop-color="#ac5a16"/><stop offset="0.882" stop-color="#a85b15"/><stop offset="0.941" stop-color="#a75a15"/><stop offset="1.000" stop-color="#a75815"/></linearGradient><linearGradient id="g105"><stop offset="0.000" stop-color="#692d09"/><stop offset="0.059" stop-color="#632a08"/><stop offset="0.118" stop-color="#612908"/><stop offset="0.176" stop-color="#692d09"/><stop offset="0.235" stop-color="#78360c"/><stop offset="0.294" stop-color="#873d0e"/><stop offset="0.353" stop-color="#944410"/><stop offset="0.412" stop-color="#9e4a12"/><stop offset="0.471" stop-color="#a54e13"/><stop offset="0.529" stop-color="#ad5215"/><stop offset="0.588" stop-color="#b45616"/><stop offset="0.647" stop-color="#b65917"/><stop offset="0.706" stop-color="#b45a17"/><stop offset="0.765" stop-color="#b05a17"/><stop offset="0.824" stop-color="#ac5b16"/><stop offset="0.882" stop-color="#a95a15"/><stop offset="0.941" stop-color="#a75a15"/><stop offset="1.000" stop-color="#a75815"/></linearGradient><linearGradient id="g106"><stop offset="0.000" stop-color="#692d09"/><stop offset="0.059" stop-color="#632a08"/><stop offset="0.118" stop-color="#602808"/><stop offset="0.176" stop-color="#682c09"/><stop offset="0.235" stop-color="#77350c"/><stop offset="0.294" stop-color="#873d0e"/><stop offset="0.353" stop-color="#954410"/><stop offset="0.412" stop-color="#9e4912"/><stop offset="0.471" stop-color="#a64e13"/><stop offset="0.529" stop-color="#ad5215"/><stop offset="0.588" stop-color="#b55717"/><stop offset="0.647" stop-color="#b75917"/><stop offset="0.706" stop-color="#b45a17"/><stop offset="0.765" stop-color="#b05b17"/><stop offset="0.824" stop-color="#ac5b16"/><stop offset="0.882" stop-color="#a95a16"/><stop offset="0.941" stop-color="#a85a15"/><stop offset="1.000" stop-color="#a75815"/></linearGradient><linearGradient id="g107"><stop offset="0.000" stop-color="#682d09"/><stop offset="0.059" stop-color="#622908"/><stop offset="0.118" stop-color="#5f2708"/><stop offset="0.176" stop-color="#662b09"/><stop offset="0.235" stop-color="#76340b"/><stop offset="0.294" stop-color="#863c0e"/><stop offset="0.353" stop-color="#964411"/><stop offset="0.412" stop-color="#9f4912"/><stop offset="0.471" stop-color="#a64e14"/><stop offset="0.529" stop-color="#ae5215"/><stop offset="0.588" stop-color="#b65717"/><stop offset="0.647" stop-color="#b85917"/><stop offset="0.706" stop-color="#b45a17"/><stop offset="0.765" stop-color="#b05b17"/><stop offset="0.824" stop-color="#ad5b16"/><stop offset="0.882" stop-color="#a95a16"/><stop offset="0.941" stop-color="#a85a15"/><stop offset="1.000" stop-color="#a75815"/></linearGradient><linearGradient id="g108"><stop offset="0.000" stop-color="#682d09"/><stop offset="0.059" stop-color="#622908"/><stop offset="0.118" stop-color="#5e2708"/><stop offset="0.176" stop-color="#652b09"/><stop offset="0.235" stop-color="#74330b"/><stop offset="0.294" stop-color="#863c0e"/><stop offset="0.353" stop-color="#964411"/><stop offset="0.412" stop-color="#9f4912"/><stop offset="0.471" stop-color="#a64e14"/><stop offset="0.529" stop-color="#af5215"/><stop offset="0.588" stop-color="#b85717"/><stop offset="0.647" stop-color="#b95918"/><stop offset="0.706" stop-color="#b45a17"/><stop offset="0.765" stop-color="#b05b17"/><stop offset="0.824" stop-color="#ad5b17"/><stop offset="0.882" stop-color="#a95a16"/><stop offset="0.941" stop-color="#a85a15"/><stop offset="1.000" stop-color="#a75815"/></linearGradient><linearGradient id="g109"><stop offset="0.000" stop-color="#682d09"/><stop offset="0.059" stop-color="#622908"/><stop offset="0.118" stop-color="#5e2708"/><stop offset="0.176" stop-color="#642a09"/><stop offset="0.235" stop-color="#73320b"/><stop offset="0.294" stop-color="#853b0e"/><stop offset="0.353" stop-color="#964411"/><stop offset="0.412" stop-color="#9f4912"/><stop offset="0.471" stop-color="#a74d14"/><stop offset="0.529" stop-color="#b05216"/><stop offset="0.588" stop-color="#b85717"/><stop offset="0.647" stop-color="#ba5918"/><stop offset="0.706" stop-color="#b45a17"/><stop offset="0.765" stop-color="#b05b17"/><stop offset="0.824" stop-color="#ac5b17"/><stop offset="0.882" stop-color="#a95b16"/><stop offset="0.941" stop-color="#a85a15"/><stop offset="1.000" stop-color="#a75815"/></linearGradient><linearGradient id="g110"><stop offset="0.000" stop-color="#682d09"/><stop offset="0.059" stop-color="#612908"/><stop offset="0.118" stop-color="#5d2608"/><stop offset="0.176" stop-color="#632909"/><stop offset="0.235" stop-color="#71310b"/><stop offset="0.294" stop-color="#843b0e"/><stop offset="0.353" stop-color="#964411"/><stop offset="0.412" stop-color="#9f4912"/><stop offset="0.471" stop-color="#a74d14"/><stop offset="0.529" stop-color="#b05216"/><stop offset="0.588" stop-color="#b95717"/><stop offset="0.647" stop-color="#ba5918"/><stop offset="0.706" stop-color="#b55a17"/><stop offset="0.765" stop-color="#b05b17"/><stop offset="0.824" stop-color="#ac5b17"/><stop offset="0.882" stop-color="#a95b16"/><stop offset="0.941" stop-color="#a85a16"/><stop offset="1.000" stop-color="#a75815"/></linearGradient><linearGradient id="g111"><stop offset="0.000" stop-color="#682d09"/><stop offset="0.059" stop-color="#612908"/><stop offset="0.118" stop-color="#5c2608"/><stop offset="0.176" stop-color="#612908"/><stop offset="0.235" stop-color="#70300b"/><stop offset="0.294" stop-color="#833a0e"/><stop offset="0.353" stop-color="#954411"/><stop offset="0.412" stop-color="#a04913"/><stop offset="0.471" stop-color="#a84d14"/><stop offset="0.529" stop-color="#b15216"/><stop offset="0.588" stop-color="#b95717"/><stop offset="0.647" stop-color="#ba5918"/><stop offset="0.706" stop-color="#b45917"/><stop offset="0.765" stop-color="#b05b17"/><stop offset="0.824" stop-color="#ab5b17"/><stop offset="0.882" stop-color="#a85b16"/><stop offset="0.941" stop-color="#a85a16"/><stop offset="1.000" stop-color="#a75815"/></linearGradient><linearGradient id="g112"><stop offset="0.000" stop-color="#682d09"/><stop offset="0.059" stop-color="#612908"/><stop offset="0.118" stop-color="#5b2507"/><stop offset="0.176" stop-color="#602808"/><stop offset="0.235" stop-color="#6f300a"/><stop offset="0.294" stop-color="#82390d"/><stop offset="0.353" stop-color="#954311"/><stop offset="0.412" stop-color="#a04913"/><stop offset="0.471" stop-color="#a84d14"/><stop offset="0.529" stop-color="#b25216"/><stop offset="0.588" stop-color="#b95717"/><stop offset="0.647" stop-color="#b95818"/><stop offset="0.706" stop-color="#b45917"/><stop offset="0.765" stop-color="#b05a17"/><stop offset="0.824" stop-color="#ab5b17"/><stop offset="0.882" stop-color="#a85b16"/><stop offset="0.941" stop-color="#a75a16"/><stop offset="1.000" stop-color="#a75815"/></linearGradient><linearGradient id="g113"><stop offset="0.000" stop-color="#692d09"/><stop offset="0.059" stop-color="#612908"/><stop offset="0.118" stop-color="#5a2507"/><stop offset="0.176" stop-color="#5f2708"/><stop offset="0.235" stop-color="#6e2f0a"/><stop offset="0.294" stop-color="#81390d"/><stop offset="0.353" stop-color="#954311"/><stop offset="0.412" stop-color="#a04913"/><stop offset="0.471" stop-color="#a94d14"/><stop offset="0.529" stop-color="#b25216"/><stop offset="0.588" stop-color="#b95618"/><stop offset="0.647" stop-color="#b95818"/><stop offset="0.706" stop-color="#b45917"/><stop offset="0.765" stop-color="#af5a17"/><stop offset="0.824" stop-color="#aa5b16"/><stop offset="0.882" stop-color="#a85b16"/><stop offset="0.941" stop-color="#a75a16"/><stop offset="1.000" stop-color="#a75815"/></linearGradient><linearGradient id="g114"><stop offset="0.000" stop-color="#692d0a"/><stop offset="0.059" stop-color="#612908"/><stop offset="0.118" stop-color="#5a2407"/><stop offset="0.176" stop-color="#5e2708"/><stop offset="0.235" stop-color="#6e2f0a"/><stop offset="0.294" stop-color="#81390d"/><stop offset="0.353" stop-color="#954211"/><stop offset="0.412" stop-color="#a14813"/><stop offset="0.471" stop-color="#aa4d15"/><stop offset="0.529" stop-color="#b35216"/><stop offset="0.588" stop-color="#b95618"/><stop offset="0.647" stop-color="#b95818"/><stop offset="0.706" stop-color="#b45917"/><stop offset="0.765" stop-color="#af5a17"/><stop offset="0.824" stop-color="#aa5b16"/><stop offset="0.882" stop-color="#a75b16"/><stop offset="0.941" stop-color="#a75a16"/><stop offset="1.000" stop-color="#a75815"/></linearGradient><linearGradient id="g115"><stop offset="0.000" stop-color="#6a2d0a"/><stop offset="0.059" stop-color="#622908"/><stop offset="0.118" stop-color="#5a2507"/><stop offset="0.176" stop-color="#5e2708"/><stop offset="0.235" stop-color="#6f2f0a"/><stop offset="0.294" stop-color="#82380d"/><stop offset="0.353" stop-color="#954211"/><stop offset="0.412" stop-color="#a24813"/><stop offset="0.471" stop-color="#ab4d15"/><stop offset="0.529" stop-color="#b45217"/><stop offset="0.588" stop-color="#ba5618"/><stop offset="0.647" stop-color="#b95718"/><stop offset="0.706" stop-color="#b45817"/><stop offset="0.765" stop-color="#af5a17"/><stop offset="0.824" stop-color="#aa5b16"/><stop offset="0.882" stop-color="#a75b16"/><stop offset="0.941" stop-color="#a75916"/><stop offset="1.000" stop-color="#a75815"/></linearGradient><linearGradient id="g116"><stop offset="0.000" stop-color="#6a2d0a"/><stop offset="0.059" stop-color="#632909"/><stop offset="0.118" stop-color="#5b2507"/><stop offset="0.176" stop-color="#5f2708"/><stop offset="0.235" stop-color="#70300b"/><stop offset="0.294" stop-color="#83390e"/><stop offset="0.353" stop-color="#964211"/><stop offset="0.412" stop-color="#a34913"/><stop offset="0.471" stop-color="#ac4d15"/><stop offset="0.529" stop-color="#b55217"/><stop offset="0.588" stop-color="#bb5518"/><stop offset="0.647" stop-color="#b95718"/><stop offset="0.706" stop-color="#b45817"/><stop offset="0.765" stop-color="#af5917"/><stop offset="0.824" stop-color="#aa5b16"/><stop offset="0.882" stop-color="#a75b16"/><stop offset="0.941" stop-color="#a75916"/><stop offset="1.000" stop-color="#a75815"/></linearGradient><linearGradient id="g117"><stop offset="0.000" stop-color="#6b2e0a"/><stop offset="0.059" stop-color="#642a09"/><stop offset="0.118" stop-color="#5d2608"/><stop offset="0.176" stop-color="#622808"/><stop offset="0.235" stop-color="#72300b"/><stop offset="0.294" stop-color="#84390e"/><stop offset="0.353" stop-color="#974211"/><stop offset="0.412" stop-color="#a54914"/><stop offset="0.471" stop-color="#ad4e15"/><stop offset="0.529" stop-color="#b65217"/><stop offset="0.588" stop-color="#bc5518"/><stop offset="0.647" stop-color="#b95618"/><stop offset="0.706" stop-color="#b45717"/><stop offset="0.765" stop-color="#af5917"/><stop offset="0.824" stop-color="#aa5a16"/><stop offset="0.882" stop-color="#a75a16"/><stop offset="0.941" stop-color="#a75916"/><stop offset="1.000" stop-color="#a75815"/></linearGradient><linearGradient id="g118"><stop offset="0.000" stop-color="#6c2e0a"/><stop offset="0.059" stop-color="#652b09"/><stop offset="0.118" stop-color="#5f2708"/><stop offset="0.176" stop-color="#652a09"/><stop offset="0.235" stop-color="#75310b"/><stop offset="0.294" stop-color="#86390e"/><stop offset="0.353" stop-color="#984211"/><stop offset="0.412" stop-color="#a64914"/><stop offset="0.471" stop-color="#af4e16"/><stop offset="0.529" stop-color="#b75217"/><stop offset="0.588" stop-color="#bd5518"/><stop offset="0.647" stop-color="#ba5618"/><stop offset="0.706" stop-color="#b45717"/><stop offset="0.765" stop-color="#af5817"/><stop offset="0.824" stop-color="#aa5a16"/><stop offset="0.882" stop-color="#a85a16"/><stop offset="0.941" stop-color="#a85916"/><stop offset="1.000" stop-color="#a75715"/></linearGradient><linearGradient id="g119"><stop offset="0.000" stop-color="#6d2f0a"/><stop offset="0.059" stop-color="#672b09"/><stop offset="0.118" stop-color="#632909"/><stop offset="0.176" stop-color="#682b09"/><stop offset="0.235" stop-color="#78320b"/><stop offset="0.294" stop-color="#883a0e"/><stop offset="0.353" stop-color="#994311"/><stop offset="0.412" stop-color="#a84a14"/><stop offset="0.471" stop-color="#b04e16"/><stop offset="0.529" stop-color="#b85217"/><stop offset="0.588" stop-color="#bd5518"/><stop offset="0.647" stop-color="#ba5618"/><stop offset="0.706" stop-color="#b45717"/><stop offset="0.765" stop-color="#af5817"/><stop offset="0.824" stop-color="#aa5916"/><stop offset="0.882" stop-color="#a85916"/><stop offset="0.941" stop-color="#a85816"/><stop offset="1.000" stop-color="#a75715"/></linearGradient><linearGradient id="g120"><stop offset="0.000" stop-color="#6f300a"/><stop offset="0.059" stop-color="#692c0a"/><stop offset="0.118" stop-color="#662a09"/><stop offset="0.176" stop-color="#6c2d0a"/><stop offset="0.235" stop-color="#7b340c"/><stop offset="0.294" stop-color="#893a0e"/><stop offset="0.353" stop-color="#9b4312"/><stop offset="0.412" stop-color="#a94a15"/><stop offset="0.471" stop-color="#b14e16"/><stop offset="0.529" stop-color="#b95218"/><stop offset="0.588" stop-color="#bd5518"/><stop offset="0.647" stop-color="#ba5618"/><stop offset="0.706" stop-color="#b45617"/><stop offset="0.765" stop-color="#af5817"/><stop offset="0.824" stop-color="#ab5916"/><stop offset="0.882" stop-color="#a85916"/><stop offset="0.941" stop-color="#a85816"/><stop offset="1.000" stop-color="#a75715"/></linearGradient><linearGradient id="g121"><stop offset="0.000" stop-color="#70300b"/><stop offset="0.059" stop-color="#6c2e0a"/><stop offset="0.118" stop-color="#692c0a"/><stop offset="0.176" stop-color="#702f0a"/><stop offset="0.235" stop-color="#7e350c"/><stop offset="0.294" stop-color="#8b3b0e"/><stop offset="0.353" stop-color="#9c4312"/><stop offset="0.412" stop-color="#aa4a15"/><stop offset="0.471" stop-color="#b24e16"/><stop offset="0.529" stop-color="#b95218"/><stop offset="0.588" stop-color="#bd5518"/><stop offset="0.647" stop-color="#ba5518"/><stop offset="0.706" stop-color="#b45617"/><stop offset="0.765" stop-color="#af5716"/><stop offset="0.824" stop-color="#ab5816"/><stop offset="0.882" stop-color="#a95816"/><stop offset="0.941" stop-color="#a85816"/><stop offset="1.000" stop-color="#a75715"/></linearGradient><linearGradient id="g122"><stop offset="0.000" stop-color="#71310b"/><stop offset="0.059" stop-color="#6e2f0a"/><stop offset="0.118" stop-color="#6d2e0a"/><stop offset="0.176" stop-color="#73300b"/><stop offset="0.235" stop-color="#80360c"/><stop offset="0.294" stop-color="#8c3b0e"/><stop offset="0.353" stop-color="#9d4412"/><stop offset="0.412" stop-color="#ab4a15"/><stop offset="0.471" stop-color="#b34f17"/><stop offset="0.529" stop-color="#b95218"/><stop offset="0.588" stop-color="#bc5418"/><stop offset="0.647" stop-color="#b95518"/><stop offset="0.706" stop-color="#b45617"/><stop offset="0.765" stop-color="#af5716"/><stop offset="0.824" stop-color="#ab5816"/><stop offset="0.882" stop-color="#a95816"/><stop offset="0.941" stop-color="#a85716"/><stop offset="1.000" stop-color="#a75615"/></linearGradient><linearGradient id="g123"><stop offset="0.000" stop-color="#73320b"/><stop offset="0.059" stop-color="#70300b"/><stop offset="0.118" stop-color="#702f0b"/><stop offset="0.176" stop-color="#77320b"/><stop offset="0.235" stop-color="#82370d"/><stop offset="0.294" stop-color="#8e3c0f"/><stop offset="0.353" stop-color="#9d4412"/><stop offset="0.412" stop-color="#ac4b15"/><stop offset="0.471" stop-color="#b44f17"/><stop offset="0.529" stop-color="#ba5218"/><stop offset="0.588" stop-color="#bc5418"/><stop offset="0.647" stop-color="#b95518"/><stop offset="0.706" stop-color="#b35517"/><stop offset="0.765" stop-color="#af5616"/><stop offset="0.824" stop-color="#ab5716"/><stop offset="0.882" stop-color="#a95716"/><stop offset="0.941" stop-color="#a85715"/><stop offset="1.000" stop-color="#a85615"/></linearGradient><linearGradient id="g124"><stop offset="0.000" stop-color="#74320b"/><stop offset="0.059" stop-color="#72310b"/><stop offset="0.118" stop-color="#73310b"/><stop offset="0.176" stop-color="#79330c"/><stop offset="0.235" stop-color="#84370d"/><stop offset="0.294" stop-color="#8f3c0f"/><stop offset="0.353" stop-color="#9e4412"/><stop offset="0.412" stop-color="#ac4b15"/><stop offset="0.471" stop-color="#b44f17"/><stop offset="0.529" stop-color="#ba5218"/><stop offset="0.588" stop-color="#bb5418"/><stop offset="0.647" stop-color="#b85418"/><stop offset="0.706" stop-color="#b35517"/><stop offset="0.765" stop-color="#af5616"/><stop offset="0.824" stop-color="#ac5716"/><stop offset="0.882" stop-color="#a95716"/><stop offset="0.941" stop-color="#a85715"/><stop offset="1.000" stop-color="#a85615"/></linearGradient><linearGradient id="g125"><stop offset="0.000" stop-color="#76330c"/><stop offset="0.059" stop-color="#74320b"/><stop offset="0.118" stop-color="#76320b"/><stop offset="0.176" stop-color="#7c340c"/><stop offset="0.235" stop-color="#86380d"/><stop offset="0.294" stop-color="#8f3d0f"/><stop offset="0.353" stop-color="#9e4412"/><stop offset="0.412" stop-color="#ab4b15"/><stop offset="0.471" stop-color="#b54f17"/><stop offset="0.529" stop-color="#bb5218"/><stop offset="0.588" stop-color="#bb5318"/><stop offset="0.647" stop-color="#b75417"/><stop offset="0.706" stop-color="#b35517"/><stop offset="0.765" stop-color="#af5516"/><stop offset="0.824" stop-color="#ac5616"/><stop offset="0.882" stop-color="#aa5616"/><stop offset="0.941" stop-color="#a85615"/><stop offset="1.000" stop-color="#a85615"/></linearGradient><linearGradient id="g126"><stop offset="0.000" stop-color="#77340c"/><stop offset="0.059" stop-color="#76330c"/><stop offset="0.118" stop-color="#78330c"/><stop offset="0.176" stop-color="#7e350c"/><stop offset="0.235" stop-color="#87390e"/><stop offset="0.294" stop-color="#903d0f"/><stop offset="0.353" stop-color="#9e4412"/><stop offset="0.412" stop-color="#ab4a15"/><stop offset="0.471" stop-color="#b54f17"/><stop offset="0.529" stop-color="#bb5218"/><stop offset="0.588" stop-color="#ba5318"/><stop offset="0.647" stop-color="#b75417"/><stop offset="0.706" stop-color="#b25417"/><stop offset="0.765" stop-color="#af5516"/><stop offset="0.824" stop-color="#ac5616"/><stop offset="0.882" stop-color="#aa5616"/><stop offset="0.941" stop-color="#a85615"/><stop offset="1.000" stop-color="#a85515"/></linearGradient><linearGradient id="g127"><stop offset="0.000" stop-color="#79350c"/><stop offset="0.059" stop-color="#78340c"/><stop offset="0.118" stop-color="#7a340c"/><stop offset="0.176" stop-color="#80360d"/><stop offset="0.235" stop-color="#883a0e"/><stop offset="0.294" stop-color="#913e0f"/><stop offset="0.353" stop-color="#9e4412"/><stop offset="0.412" stop-color="#ab4a15"/><stop offset="0.471" stop-color="#b54f17"/><stop offset="0.529" stop-color="#bb5218"/><stop offset="0.588" stop-color="#b95318"/><stop offset="0.647" stop-color="#b65317"/><stop offset="0.706" stop-color="#b25417"/><stop offset="0.765" stop-color="#ae5516"/><stop offset="0.824" stop-color="#ac5516"/><stop offset="0.882" stop-color="#aa5616"/><stop offset="0.941" stop-color="#a85515"/><stop offset="1.000" stop-color="#a85515"/></linearGradient><linearGradient id="g128"><stop offset="0.000" stop-color="#7a350c"/><stop offset="0.059" stop-color="#7a350c"/><stop offset="0.118" stop-color="#7c350c"/><stop offset="0.176" stop-color="#82370d"/><stop offset="0.235" stop-color="#893a0e"/><stop offset="0.294" stop-color="#923e10"/><stop offset="0.353" stop-color="#9e4412"/><stop offset="0.412" stop-color="#aa4a15"/><stop offset="0.471" stop-color="#b54f17"/><stop offset="0.529" stop-color="#ba5218"/><stop offset="0.588" stop-color="#b95318"/><stop offset="0.647" stop-color="#b55317"/><stop offset="0.706" stop-color="#b15317"/><stop offset="0.765" stop-color="#ae5416"/><stop offset="0.824" stop-color="#ac5516"/><stop offset="0.882" stop-color="#aa5515"/><stop offset="0.941" stop-color="#a85515"/><stop offset="1.000" stop-color="#a85515"/></linearGradient><linearGradient id="g129"><stop offset="0.000" stop-color="#7c360c"/><stop offset="0.059" stop-color="#7c360c"/><stop offset="0.118" stop-color="#7e360d"/><stop offset="0.176" stop-color="#83380d"/><stop offset="0.235" stop-color="#8a3b0e"/><stop offset="0.294" stop-color="#933f10"/><stop offset="0.353" stop-color="#9e4512"/><stop offset="0.412" stop-color="#aa4a15"/><stop offset="0.471" stop-color="#b44f17"/><stop offset="0.529" stop-color="#ba5218"/><stop offset="0.588" stop-color="#b85218"/><stop offset="0.647" stop-color="#b45317"/><stop offset="0.706" stop-color="#b15316"/><stop offset="0.765" stop-color="#ae5416"/><stop offset="0.824" stop-color="#ac5416"/><stop offset="0.882" stop-color="#aa5515"/><stop offset="0.941" stop-color="#a85515"/><stop offset="1.000" stop-color="#a85415"/></linearGradient><linearGradient id="g130"><stop offset="0.000" stop-color="#7d370d"/><stop offset="0.059" stop-color="#7d360d"/><stop offset="0.118" stop-color="#80370d"/><stop offset="0.176" stop-color="#85390e"/><stop offset="0.235" stop-color="#8b3c0f"/><stop offset="0.294" stop-color="#943f10"/><stop offset="0.353" stop-color="#9e4512"/><stop offset="0.412" stop-color="#a94a15"/><stop offset="0.471" stop-color="#b34f17"/><stop offset="0.529" stop-color="#b85118"/><stop offset="0.588" stop-color="#b75217"/><stop offset="0.647" stop-color="#b45217"/><stop offset="0.706" stop-color="#b05316"/><stop offset="0.765" stop-color="#ae5316"/><stop offset="0.824" stop-color="#ab5416"/><stop offset="0.882" stop-color="#aa5415"/><stop offset="0.941" stop-color="#a85415"/><stop offset="1.000" stop-color="#a75415"/></linearGradient><linearGradient id="g131"><stop offset="0.000" stop-color="#7e370d"/><stop offset="0.059" stop-color="#7f370d"/><stop offset="0.118" stop-color="#81380d"/><stop offset="0.176" stop-color="#863a0e"/><stop offset="0.235" stop-color="#8c3c0f"/><stop offset="0.294" stop-color="#944010"/><stop offset="0.353" stop-color="#9e4512"/><stop offset="0.412" stop-color="#a94a15"/><stop offset="0.471" stop-color="#b24e16"/><stop offset="0.529" stop-color="#b75117"/><stop offset="0.588" stop-color="#b65217"/><stop offset="0.647" stop-color="#b35217"/><stop offset="0.706" stop-color="#b05216"/><stop offset="0.765" stop-color="#ad5316"/><stop offset="0.824" stop-color="#ab5416"/><stop offset="0.882" stop-color="#aa5415"/><stop offset="0.941" stop-color="#a85415"/><stop offset="1.000" stop-color="#a75415"/></linearGradient><linearGradient id="g132"><stop offset="0.000" stop-color="#7f380d"/><stop offset="0.059" stop-color="#80380d"/><stop offset="0.118" stop-color="#83390d"/><stop offset="0.176" stop-color="#873a0e"/><stop offset="0.235" stop-color="#8d3d0f"/><stop offset="0.294" stop-color="#954010"/><stop offset="0.353" stop-color="#9e4512"/><stop offset="0.412" stop-color="#a84a14"/><stop offset="0.471" stop-color="#b14e16"/><stop offset="0.529" stop-color="#b55017"/><stop offset="0.588" stop-color="#b45117"/><stop offset="0.647" stop-color="#b25217"/><stop offset="0.706" stop-color="#af5216"/><stop offset="0.765" stop-color="#ad5316"/><stop offset="0.824" stop-color="#ab5315"/><stop offset="0.882" stop-color="#a95415"/><stop offset="0.941" stop-color="#a85415"/><stop offset="1.000" stop-color="#a75315"/></linearGradient><linearGradient id="g133"><stop offset="0.000" stop-color="#80390d"/><stop offset="0.059" stop-color="#81390d"/><stop offset="0.118" stop-color="#84390e"/><stop offset="0.176" stop-color="#883b0e"/><stop offset="0.235" stop-color="#8e3e0f"/><stop offset="0.294" stop-color="#954111"/><stop offset="0.353" stop-color="#9e4512"/><stop offset="0.412" stop-color="#a74a14"/><stop offset="0.471" stop-color="#af4e16"/><stop offset="0.529" stop-color="#b45017"/><stop offset="0.588" stop-color="#b35117"/><stop offset="0.647" stop-color="#b15116"/><stop offset="0.706" stop-color="#af5216"/><stop offset="0.765" stop-color="#ad5216"/><stop offset="0.824" stop-color="#ab5315"/><stop offset="0.882" stop-color="#a95315"/><stop offset="0.941" stop-color="#a85315"/><stop offset="1.000" stop-color="#a75315"/></linearGradient><linearGradient id="g134"><stop offset="0.000" stop-color="#81390d"/><stop offset="0.059" stop-color="#83390e"/><stop offset="0.118" stop-color="#853a0e"/><stop offset="0.176" stop-color="#893c0f"/><stop offset="0.235" stop-color="#8f3e0f"/><stop offset="0.294" stop-color="#964111"/><stop offset="0.353" stop-color="#9e4512"/><stop offset="0.412" stop-color="#a74914"/><stop offset="0.471" stop-color="#ae4d16"/><stop offset="0.529" stop-color="#b24f16"/><stop offset="0.588" stop-color="#b25016"/><stop offset="0.647" stop-color="#b05116"/><stop offset="0.706" stop-color="#ae5216"/><stop offset="0.765" stop-color="#ac5216"/><stop offset="0.824" stop-color="#ab5315"/><stop offset="0.882" stop-color="#a95315"/><stop offset="0.941" stop-color="#a85315"/><stop offset="1.000" stop-color="#a75315"/></linearGradient><linearGradient id="g135"><stop offset="0.000" stop-color="#823a0e"/><stop offset="0.059" stop-color="#843a0e"/><stop offset="0.118" stop-color="#863b0e"/><stop offset="0.176" stop-color="#8a3c0f"/><stop offset="0.235" stop-color="#903f10"/><stop offset="0.294" stop-color="#964211"/><stop offset="0.353" stop-color="#9e4512"/><stop offset="0.412" stop-color="#a64914"/><stop offset="0.471" stop-color="#ad4d15"/><stop offset="0.529" stop-color="#b14f16"/><stop offset="0.588" stop-color="#b15016"/><stop offset="0.647" stop-color="#af5116"/><stop offset="0.706" stop-color="#ae5116"/><stop offset="0.765" stop-color="#ac5215"/><stop offset="0.824" stop-color="#aa5215"/><stop offset="0.882" stop-color="#a95315"/><stop offset="0.941" stop-color="#a85315"/><stop offset="1.000" stop-color="#a75315"/></linearGradient><linearGradient id="g136"><stop offset="0.000" stop-color="#833a0e"/><stop offset="0.059" stop-color="#853a0e"/><stop offset="0.118" stop-color="#873b0e"/><stop offset="0.176" stop-color="#8b3d0f"/><stop offset="0.235" stop-color="#903f10"/><stop offset="0.294" stop-color="#974211"/><stop offset="0.353" stop-color="#9e4612"/><stop offset="0.412" stop-color="#a54914"/><stop offset="0.471" stop-color="#ab4c15"/><stop offset="0.529" stop-color="#af4e16"/><stop offset="0.588" stop-color="#b05016"/><stop offset="0.647" stop-color="#af5016"/><stop offset="0.706" stop-color="#ad5116"/><stop offset="0.765" stop-color="#ab5115"/><stop offset="0.824" stop-color="#aa5215"/><stop offset="0.882" stop-color="#a95215"/><stop offset="0.941" stop-color="#a85215"/><stop offset="1.000" stop-color="#a75215"/></linearGradient><linearGradient id="g137"><stop offset="0.000" stop-color="#843b0e"/><stop offset="0.059" stop-color="#863b0e"/><stop offset="0.118" stop-color="#883c0e"/><stop offset="0.176" stop-color="#8c3d0f"/><stop offset="0.235" stop-color="#914010"/><stop offset="0.294" stop-color="#974211"/><stop offset="0.353" stop-color="#9e4612"/><stop offset="0.412" stop-color="#a44914"/><stop offset="0.471" stop-color="#aa4c15"/><stop offset="0.529" stop-color="#ae4e16"/><stop offset="0.588" stop-color="#af4f16"/><stop offset="0.647" stop-color="#ae5016"/><stop offset="0.706" stop-color="#ac5115"/><stop offset="0.765" stop-color="#ab5115"/><stop offset="0.824" stop-color="#aa5215"/><stop offset="0.882" stop-color="#a95215"/><stop offset="0.941" stop-color="#a85215"/><stop offset="1.000" stop-color="#a75215"/></linearGradient></defs><g filter="url(#blv)"><rect x="483" y="1403" width="562" height="9" fill="url(#g70)"/><rect x="483" y="1411" width="562" height="9" fill="url(#g71)"/><rect x="483" y="1419" width="562" height="9" fill="url(#g72)"/><rect x="483" y="1427" width="562" height="9" fill="url(#g73)"/><rect x="483" y="1435" width="562" height="9" fill="url(#g74)"/><rect x="483" y="1443" width="562" height="9" fill="url(#g75)"/><rect x="483" y="1451" width="562" height="9" fill="url(#g76)"/><rect x="483" y="1459" width="562" height="9" fill="url(#g77)"/><rect x="483" y="1467" width="562" height="9" fill="url(#g78)"/><rect x="483" y="1475" width="562" height="9" fill="url(#g79)"/><rect x="483" y="1483" width="562" height="9" fill="url(#g80)"/><rect x="483" y="1491" width="562" height="9" fill="url(#g81)"/><rect x="483" y="1499" width="562" height="9" fill="url(#g82)"/><rect x="483" y="1507" width="562" height="9" fill="url(#g83)"/><rect x="483" y="1515" width="562" height="9" fill="url(#g84)"/><rect x="483" y="1523" width="562" height="9" fill="url(#g85)"/><rect x="483" y="1531" width="562" height="9" fill="url(#g86)"/><rect x="483" y="1539" width="562" height="9" fill="url(#g87)"/><rect x="483" y="1547" width="562" height="9" fill="url(#g88)"/><rect x="483" y="1555" width="562" height="9" fill="url(#g89)"/><rect x="483" y="1563" width="562" height="9" fill="url(#g90)"/><rect x="483" y="1571" width="562" height="9" fill="url(#g91)"/><rect x="483" y="1579" width="562" height="9" fill="url(#g92)"/><rect x="483" y="1587" width="562" height="9" fill="url(#g93)"/><rect x="483" y="1595" width="562" height="9" fill="url(#g94)"/><rect x="483" y="1603" width="562" height="9" fill="url(#g95)"/><rect x="483" y="1611" width="562" height="9" fill="url(#g96)"/><rect x="483" y="1619" width="562" height="9" fill="url(#g97)"/><rect x="483" y="1627" width="562" height="9" fill="url(#g98)"/><rect x="483" y="1635" width="562" height="9" fill="url(#g99)"/><rect x="483" y="1643" width="562" height="9" fill="url(#g100)"/><rect x="483" y="1651" width="562" height="9" fill="url(#g101)"/><rect x="483" y="1659" width="562" height="9" fill="url(#g102)"/><rect x="483" y="1667" width="562" height="9" fill="url(#g103)"/><rect x="483" y="1675" width="562" height="9" fill="url(#g104)"/><rect x="483" y="1683" width="562" height="9" fill="url(#g105)"/><rect x="483" y="1691" width="562" height="9" fill="url(#g106)"/><rect x="483" y="1699" width="562" height="9" fill="url(#g107)"/><rect x="483" y="1707" width="562" height="9" fill="url(#g108)"/><rect x="483" y="1715" width="562" height="9" fill="url(#g109)"/><rect x="483" y="1723" width="562" height="9" fill="url(#g110)"/><rect x="483" y="1731" width="562" height="9" fill="url(#g111)"/><rect x="483" y="1739" width="562" height="9" fill="url(#g112)"/><rect x="483" y="1747" width="562" height="9" fill="url(#g113)"/><rect x="483" y="1755" width="562" height="9" fill="url(#g114)"/><rect x="483" y="1763" width="562" height="9" fill="url(#g115)"/><rect x="483" y="1771" width="562" height="9" fill="url(#g116)"/><rect x="483" y="1779" width="562" height="9" fill="url(#g117)"/><rect x="483" y="1787" width="562" height="9" fill="url(#g118)"/><rect x="483" y="1795" width="562" height="9" fill="url(#g119)"/><rect x="483" y="1803" width="562" height="9" fill="url(#g120)"/><rect x="483" y="1811" width="562" height="9" fill="url(#g121)"/><rect x="483" y="1819" width="562" height="9" fill="url(#g122)"/><rect x="483" y="1827" width="562" height="9" fill="url(#g123)"/><rect x="483" y="1835" width="562" height="9" fill="url(#g124)"/><rect x="483" y="1843" width="562" height="9" fill="url(#g125)"/><rect x="483" y="1851" width="562" height="9" fill="url(#g126)"/><rect x="483" y="1859" width="562" height="9" fill="url(#g127)"/><rect x="483" y="1867" width="562" height="9" fill="url(#g128)"/><rect x="483" y="1875" width="562" height="9" fill="url(#g129)"/><rect x="483" y="1883" width="562" height="9" fill="url(#g130)"/><rect x="483" y="1891" width="562" height="9" fill="url(#g131)"/><rect x="483" y="1899" width="562" height="9" fill="url(#g132)"/><rect x="483" y="1907" width="562" height="9" fill="url(#g133)"/><rect x="483" y="1915" width="562" height="9" fill="url(#g134)"/><rect x="483" y="1923" width="562" height="9" fill="url(#g135)"/><rect x="483" y="1931" width="562" height="9" fill="url(#g136)"/><rect x="483" y="1939" width="562" height="9" fill="url(#g137)"/></g>
<ellipse cx="752" cy="1745" rx="34" ry="36" fill="#e08a20" filter="url(#bl8)" opacity="0.7"/>
<ellipse cx="754" cy="1745" rx="24" ry="27" fill="#f0b030" filter="url(#bl2)"/>
<ellipse cx="752" cy="1748" rx="13" ry="15" fill="#ffe060" filter="url(#bl4)"/>
<ellipse cx="722" cy="1765" rx="8" ry="12" fill="#d8a060" filter="url(#bl3)" opacity="0.6"/>
<circle cx="704" cy="1615" r="10" fill="#e8c090" filter="url(#bl2)" opacity="0.7"/>
<g fill="none" stroke="#801e08" stroke-linecap="round" stroke-linejoin="round" opacity="0.75" filter="url(#bl05)"><path stroke-width="3.2" d="M748,1722 L745,1710 Q735,1695 722,1682 Q710,1665 700,1645 Q685,1625 662,1615 Q640,1600 618,1585 Q590,1565 556,1542 L530,1530"/><path stroke-width="2.4" d="M750,1725 Q748,1690 749,1651 Q752,1620 757,1589 Q761,1555 762,1526 Q760,1510 756,1495"/><path stroke-width="3" d="M752,1758 Q740,1772 728,1785 Q712,1800 700,1813 Q688,1826 675,1838 Q660,1853 650,1870"/><path stroke-width="2.2" d="M755,1760 Q760,1780 762,1795 Q766,1812 771,1826 Q776,1842 781,1856 L786,1870"/><path stroke-width="2" d="M770,1728 Q790,1716 806,1710 Q830,1703 853,1698 Q880,1690 899,1679 Q925,1668 946,1660 Q970,1652 990,1648"/><path stroke-width="1.8" d="M768,1768 Q790,1776 806,1779 Q840,1780 868,1776 Q895,1772 915,1770 Q950,1768 975,1770"/><path stroke-width="1.5" d="M737,1713 Q716,1700 697,1695 Q672,1688 650,1685 Q625,1686 603,1688 Q580,1692 556,1698 L530,1702"/><path stroke-width="1.4" d="M740,1738 Q715,1735 690,1737 Q660,1745 630,1756 Q600,1770 570,1780"/><path stroke-width="1.3" d="M762,1528 Q790,1520 820,1515 M740,1570 Q710,1560 690,1540 Q675,1520 665,1500 M700,1645 Q670,1650 640,1660 M790,1600 Q830,1585 870,1560"/><path stroke-width="1.2" d="M806,1710 Q830,1670 850,1640 M868,1776 Q890,1800 905,1830 M700,1813 Q680,1830 655,1835 M600,1560 Q580,1600 560,1620"/></g>
<g fill="none" stroke="#e8702a" stroke-linecap="round" opacity="0.22" filter="url(#bl3)"><path stroke-width="5" d="M790,1800 L810,1860 M820,1790 L850,1860 M850,1780 L890,1850 M870,1740 L940,1770 M860,1700 L930,1690 M820,1690 L850,1630 M790,1680 L800,1620 M720,1800 L700,1860"/></g>
</g>
<path d="M970.6,1778.7 C973.6,1784.7 978.2,1786.2 979.7,1795.2 C980.2,1801.2 978.7,1804.2 975.7,1804.7 L957.7,1806.7 Q954.7,1807.2 953.7,1808.2 A240.9,240.9 0 1 1 970.6,1778.7 Z" fill="none" stroke="#0e8a0e" stroke-width="1.3" opacity="0.8"/>
</g>
<g clip-path="url(#cp4)">
<clipPath id="fp4"><path d="M502.8,2148.6 C505.8,2154.6 510.1,2156.1 511.6,2165.1 C512.1,2171.1 510.6,2174.1 507.6,2174.6 L490.0,2176.6 Q487.0,2177.1 486.0,2178.1 A241.2,241.2 0 1 1 502.8,2148.6 Z"/></clipPath>
<g clip-path="url(#fp4)">
<defs><linearGradient id="g138"><stop offset="0.000" stop-color="#935712"/><stop offset="0.059" stop-color="#945913"/><stop offset="0.118" stop-color="#965b13"/><stop offset="0.176" stop-color="#975d14"/><stop offset="0.235" stop-color="#985f14"/><stop offset="0.294" stop-color="#986114"/><stop offset="0.353" stop-color="#996214"/><stop offset="0.412" stop-color="#9a6514"/><stop offset="0.471" stop-color="#9c6713"/><stop offset="0.529" stop-color="#9d6913"/><stop offset="0.588" stop-color="#9e6b12"/><stop offset="0.647" stop-color="#9f6e12"/><stop offset="0.706" stop-color="#a06f11"/><stop offset="0.765" stop-color="#a17010"/><stop offset="0.824" stop-color="#a07010"/><stop offset="0.882" stop-color="#9f6f0f"/><stop offset="0.941" stop-color="#9d6d0f"/><stop offset="1.000" stop-color="#9b6b0e"/></linearGradient><linearGradient id="g139"><stop offset="0.000" stop-color="#935712"/><stop offset="0.059" stop-color="#945913"/><stop offset="0.118" stop-color="#965b13"/><stop offset="0.176" stop-color="#975e14"/><stop offset="0.235" stop-color="#986014"/><stop offset="0.294" stop-color="#996114"/><stop offset="0.353" stop-color="#9a6314"/><stop offset="0.412" stop-color="#9b6514"/><stop offset="0.471" stop-color="#9c6714"/><stop offset="0.529" stop-color="#9d6a13"/><stop offset="0.588" stop-color="#9f6c12"/><stop offset="0.647" stop-color="#a06f12"/><stop offset="0.706" stop-color="#a17111"/><stop offset="0.765" stop-color="#a27110"/><stop offset="0.824" stop-color="#a17110"/><stop offset="0.882" stop-color="#a0700f"/><stop offset="0.941" stop-color="#9d6d0e"/><stop offset="1.000" stop-color="#9b6b0e"/></linearGradient><linearGradient id="g140"><stop offset="0.000" stop-color="#935712"/><stop offset="0.059" stop-color="#955913"/><stop offset="0.118" stop-color="#965b14"/><stop offset="0.176" stop-color="#975e14"/><stop offset="0.235" stop-color="#986014"/><stop offset="0.294" stop-color="#996114"/><stop offset="0.353" stop-color="#9a6314"/><stop offset="0.412" stop-color="#9b6614"/><stop offset="0.471" stop-color="#9c6814"/><stop offset="0.529" stop-color="#9e6a13"/><stop offset="0.588" stop-color="#9f6d13"/><stop offset="0.647" stop-color="#a17012"/><stop offset="0.706" stop-color="#a27211"/><stop offset="0.765" stop-color="#a27210"/><stop offset="0.824" stop-color="#a27210"/><stop offset="0.882" stop-color="#a0700f"/><stop offset="0.941" stop-color="#9e6e0e"/><stop offset="1.000" stop-color="#9b6c0e"/></linearGradient><linearGradient id="g141"><stop offset="0.000" stop-color="#935712"/><stop offset="0.059" stop-color="#955913"/><stop offset="0.118" stop-color="#965c14"/><stop offset="0.176" stop-color="#975e14"/><stop offset="0.235" stop-color="#986015"/><stop offset="0.294" stop-color="#996215"/><stop offset="0.353" stop-color="#9a6314"/><stop offset="0.412" stop-color="#9b6614"/><stop offset="0.471" stop-color="#9d6814"/><stop offset="0.529" stop-color="#9e6b13"/><stop offset="0.588" stop-color="#a06e13"/><stop offset="0.647" stop-color="#a17112"/><stop offset="0.706" stop-color="#a37311"/><stop offset="0.765" stop-color="#a37411"/><stop offset="0.824" stop-color="#a37310"/><stop offset="0.882" stop-color="#a1710f"/><stop offset="0.941" stop-color="#9f6f0e"/><stop offset="1.000" stop-color="#9c6c0e"/></linearGradient><linearGradient id="g142"><stop offset="0.000" stop-color="#935613"/><stop offset="0.059" stop-color="#955913"/><stop offset="0.118" stop-color="#965c14"/><stop offset="0.176" stop-color="#985f15"/><stop offset="0.235" stop-color="#996115"/><stop offset="0.294" stop-color="#996215"/><stop offset="0.353" stop-color="#9a6415"/><stop offset="0.412" stop-color="#9c6714"/><stop offset="0.471" stop-color="#9d6914"/><stop offset="0.529" stop-color="#9e6b14"/><stop offset="0.588" stop-color="#a06e13"/><stop offset="0.647" stop-color="#a27212"/><stop offset="0.706" stop-color="#a47412"/><stop offset="0.765" stop-color="#a47511"/><stop offset="0.824" stop-color="#a47410"/><stop offset="0.882" stop-color="#a2720f"/><stop offset="0.941" stop-color="#9f700e"/><stop offset="1.000" stop-color="#9c6d0e"/></linearGradient><linearGradient id="g143"><stop offset="0.000" stop-color="#945613"/><stop offset="0.059" stop-color="#955913"/><stop offset="0.118" stop-color="#965c14"/><stop offset="0.176" stop-color="#985f15"/><stop offset="0.235" stop-color="#996115"/><stop offset="0.294" stop-color="#9a6215"/><stop offset="0.353" stop-color="#9b6415"/><stop offset="0.412" stop-color="#9c6715"/><stop offset="0.471" stop-color="#9d6a15"/><stop offset="0.529" stop-color="#9f6c14"/><stop offset="0.588" stop-color="#a16f13"/><stop offset="0.647" stop-color="#a37312"/><stop offset="0.706" stop-color="#a57512"/><stop offset="0.765" stop-color="#a57611"/><stop offset="0.824" stop-color="#a57510"/><stop offset="0.882" stop-color="#a3730f"/><stop offset="0.941" stop-color="#a0700e"/><stop offset="1.000" stop-color="#9d6d0e"/></linearGradient><linearGradient id="g144"><stop offset="0.000" stop-color="#945613"/><stop offset="0.059" stop-color="#955913"/><stop offset="0.118" stop-color="#975c14"/><stop offset="0.176" stop-color="#986015"/><stop offset="0.235" stop-color="#996215"/><stop offset="0.294" stop-color="#9a6315"/><stop offset="0.353" stop-color="#9b6415"/><stop offset="0.412" stop-color="#9c6815"/><stop offset="0.471" stop-color="#9e6a15"/><stop offset="0.529" stop-color="#9f6c14"/><stop offset="0.588" stop-color="#a17013"/><stop offset="0.647" stop-color="#a47413"/><stop offset="0.706" stop-color="#a67712"/><stop offset="0.765" stop-color="#a67711"/><stop offset="0.824" stop-color="#a67710"/><stop offset="0.882" stop-color="#a4740f"/><stop offset="0.941" stop-color="#a0710e"/><stop offset="1.000" stop-color="#9d6e0e"/></linearGradient><linearGradient id="g145"><stop offset="0.000" stop-color="#945613"/><stop offset="0.059" stop-color="#955813"/><stop offset="0.118" stop-color="#975c14"/><stop offset="0.176" stop-color="#986015"/><stop offset="0.235" stop-color="#996316"/><stop offset="0.294" stop-color="#9a6315"/><stop offset="0.353" stop-color="#9b6415"/><stop offset="0.412" stop-color="#9d6815"/><stop offset="0.471" stop-color="#9e6b15"/><stop offset="0.529" stop-color="#9f6d14"/><stop offset="0.588" stop-color="#a27013"/><stop offset="0.647" stop-color="#a57513"/><stop offset="0.706" stop-color="#a77812"/><stop offset="0.765" stop-color="#a87911"/><stop offset="0.824" stop-color="#a77810"/><stop offset="0.882" stop-color="#a5760f"/><stop offset="0.941" stop-color="#a1720e"/><stop offset="1.000" stop-color="#9d6e0e"/></linearGradient><linearGradient id="g146"><stop offset="0.000" stop-color="#945513"/><stop offset="0.059" stop-color="#955813"/><stop offset="0.118" stop-color="#975c14"/><stop offset="0.176" stop-color="#996116"/><stop offset="0.235" stop-color="#9a6316"/><stop offset="0.294" stop-color="#9a6316"/><stop offset="0.353" stop-color="#9b6515"/><stop offset="0.412" stop-color="#9d6915"/><stop offset="0.471" stop-color="#9f6c15"/><stop offset="0.529" stop-color="#a06d14"/><stop offset="0.588" stop-color="#a27113"/><stop offset="0.647" stop-color="#a57713"/><stop offset="0.706" stop-color="#a87912"/><stop offset="0.765" stop-color="#a97a11"/><stop offset="0.824" stop-color="#a87a0f"/><stop offset="0.882" stop-color="#a6770f"/><stop offset="0.941" stop-color="#a2730e"/><stop offset="1.000" stop-color="#9e6f0d"/></linearGradient><linearGradient id="g147"><stop offset="0.000" stop-color="#945513"/><stop offset="0.059" stop-color="#955813"/><stop offset="0.118" stop-color="#975c15"/><stop offset="0.176" stop-color="#996116"/><stop offset="0.235" stop-color="#9a6416"/><stop offset="0.294" stop-color="#9b6416"/><stop offset="0.353" stop-color="#9b6515"/><stop offset="0.412" stop-color="#9d6916"/><stop offset="0.471" stop-color="#9f6d16"/><stop offset="0.529" stop-color="#a06e15"/><stop offset="0.588" stop-color="#a37214"/><stop offset="0.647" stop-color="#a67813"/><stop offset="0.706" stop-color="#a97b12"/><stop offset="0.765" stop-color="#aa7c11"/><stop offset="0.824" stop-color="#aa7b0f"/><stop offset="0.882" stop-color="#a7780e"/><stop offset="0.941" stop-color="#a2730e"/><stop offset="1.000" stop-color="#9e6f0d"/></linearGradient><linearGradient id="g148"><stop offset="0.000" stop-color="#945513"/><stop offset="0.059" stop-color="#955813"/><stop offset="0.118" stop-color="#975c15"/><stop offset="0.176" stop-color="#996116"/><stop offset="0.235" stop-color="#9a6517"/><stop offset="0.294" stop-color="#9b6416"/><stop offset="0.353" stop-color="#9c6415"/><stop offset="0.412" stop-color="#9e6916"/><stop offset="0.471" stop-color="#9f6d16"/><stop offset="0.529" stop-color="#a06e15"/><stop offset="0.588" stop-color="#a37214"/><stop offset="0.647" stop-color="#a77913"/><stop offset="0.706" stop-color="#a97c12"/><stop offset="0.765" stop-color="#ab7d11"/><stop offset="0.824" stop-color="#ab7d0f"/><stop offset="0.882" stop-color="#a8790e"/><stop offset="0.941" stop-color="#a3740e"/><stop offset="1.000" stop-color="#9e700d"/></linearGradient><linearGradient id="g149"><stop offset="0.000" stop-color="#945413"/><stop offset="0.059" stop-color="#955713"/><stop offset="0.118" stop-color="#975c15"/><stop offset="0.176" stop-color="#996216"/><stop offset="0.235" stop-color="#9b6517"/><stop offset="0.294" stop-color="#9b6416"/><stop offset="0.353" stop-color="#9c6415"/><stop offset="0.412" stop-color="#9e6916"/><stop offset="0.471" stop-color="#9f6d16"/><stop offset="0.529" stop-color="#a06e15"/><stop offset="0.588" stop-color="#a37214"/><stop offset="0.647" stop-color="#a77a13"/><stop offset="0.706" stop-color="#aa7d12"/><stop offset="0.765" stop-color="#ad7f10"/><stop offset="0.824" stop-color="#ad7e0f"/><stop offset="0.882" stop-color="#a97a0e"/><stop offset="0.941" stop-color="#a3750e"/><stop offset="1.000" stop-color="#9e700d"/></linearGradient><linearGradient id="g150"><stop offset="0.000" stop-color="#945413"/><stop offset="0.059" stop-color="#955713"/><stop offset="0.118" stop-color="#975b15"/><stop offset="0.176" stop-color="#996216"/><stop offset="0.235" stop-color="#9b6517"/><stop offset="0.294" stop-color="#9b6316"/><stop offset="0.353" stop-color="#9c6415"/><stop offset="0.412" stop-color="#9e6916"/><stop offset="0.471" stop-color="#a06d16"/><stop offset="0.529" stop-color="#a06d15"/><stop offset="0.588" stop-color="#a37214"/><stop offset="0.647" stop-color="#a87a14"/><stop offset="0.706" stop-color="#ab7e12"/><stop offset="0.765" stop-color="#ae8010"/><stop offset="0.824" stop-color="#ae800f"/><stop offset="0.882" stop-color="#aa7b0e"/><stop offset="0.941" stop-color="#a4760d"/><stop offset="1.000" stop-color="#9f700d"/></linearGradient><linearGradient id="g151"><stop offset="0.000" stop-color="#945313"/><stop offset="0.059" stop-color="#955613"/><stop offset="0.118" stop-color="#975b15"/><stop offset="0.176" stop-color="#996116"/><stop offset="0.235" stop-color="#9b6517"/><stop offset="0.294" stop-color="#9b6316"/><stop offset="0.353" stop-color="#9c6315"/><stop offset="0.412" stop-color="#9e6816"/><stop offset="0.471" stop-color="#a06d16"/><stop offset="0.529" stop-color="#a06d15"/><stop offset="0.588" stop-color="#a37214"/><stop offset="0.647" stop-color="#a87a14"/><stop offset="0.706" stop-color="#ab7f12"/><stop offset="0.765" stop-color="#af8210"/><stop offset="0.824" stop-color="#b0820f"/><stop offset="0.882" stop-color="#aa7c0e"/><stop offset="0.941" stop-color="#a4760d"/><stop offset="1.000" stop-color="#9f710d"/></linearGradient><linearGradient id="g152"><stop offset="0.000" stop-color="#945312"/><stop offset="0.059" stop-color="#955513"/><stop offset="0.118" stop-color="#975a14"/><stop offset="0.176" stop-color="#996016"/><stop offset="0.235" stop-color="#9b6417"/><stop offset="0.294" stop-color="#9b6216"/><stop offset="0.353" stop-color="#9c6215"/><stop offset="0.412" stop-color="#9e6716"/><stop offset="0.471" stop-color="#9f6c16"/><stop offset="0.529" stop-color="#a06c14"/><stop offset="0.588" stop-color="#a37113"/><stop offset="0.647" stop-color="#a87a13"/><stop offset="0.706" stop-color="#ac7f12"/><stop offset="0.765" stop-color="#b18310"/><stop offset="0.824" stop-color="#b1830f"/><stop offset="0.882" stop-color="#ab7d0e"/><stop offset="0.941" stop-color="#a5770d"/><stop offset="1.000" stop-color="#9f710d"/></linearGradient><linearGradient id="g153"><stop offset="0.000" stop-color="#945212"/><stop offset="0.059" stop-color="#955413"/><stop offset="0.118" stop-color="#975914"/><stop offset="0.176" stop-color="#995f16"/><stop offset="0.235" stop-color="#9b6317"/><stop offset="0.294" stop-color="#9b6116"/><stop offset="0.353" stop-color="#9c6115"/><stop offset="0.412" stop-color="#9e6616"/><stop offset="0.471" stop-color="#9f6a16"/><stop offset="0.529" stop-color="#a06b14"/><stop offset="0.588" stop-color="#a37013"/><stop offset="0.647" stop-color="#a87913"/><stop offset="0.706" stop-color="#ac7e12"/><stop offset="0.765" stop-color="#b28410"/><stop offset="0.824" stop-color="#b2840f"/><stop offset="0.882" stop-color="#ac7e0e"/><stop offset="0.941" stop-color="#a5770d"/><stop offset="1.000" stop-color="#9f710d"/></linearGradient><linearGradient id="g154"><stop offset="0.000" stop-color="#935112"/><stop offset="0.059" stop-color="#955413"/><stop offset="0.118" stop-color="#975814"/><stop offset="0.176" stop-color="#995e16"/><stop offset="0.235" stop-color="#9b6116"/><stop offset="0.294" stop-color="#9b5f16"/><stop offset="0.353" stop-color="#9c5f15"/><stop offset="0.412" stop-color="#9d6415"/><stop offset="0.471" stop-color="#9f6815"/><stop offset="0.529" stop-color="#a06914"/><stop offset="0.588" stop-color="#a36f13"/><stop offset="0.647" stop-color="#a77813"/><stop offset="0.706" stop-color="#ac7e11"/><stop offset="0.765" stop-color="#b38510"/><stop offset="0.824" stop-color="#b3850e"/><stop offset="0.882" stop-color="#ac7e0d"/><stop offset="0.941" stop-color="#a5780d"/><stop offset="1.000" stop-color="#9f710c"/></linearGradient><linearGradient id="g155"><stop offset="0.000" stop-color="#935112"/><stop offset="0.059" stop-color="#955313"/><stop offset="0.118" stop-color="#975614"/><stop offset="0.176" stop-color="#995c15"/><stop offset="0.235" stop-color="#9b5f16"/><stop offset="0.294" stop-color="#9b5d15"/><stop offset="0.353" stop-color="#9c5e15"/><stop offset="0.412" stop-color="#9d6215"/><stop offset="0.471" stop-color="#9e6615"/><stop offset="0.529" stop-color="#a06814"/><stop offset="0.588" stop-color="#a36e13"/><stop offset="0.647" stop-color="#a77612"/><stop offset="0.706" stop-color="#ac7d11"/><stop offset="0.765" stop-color="#b3850f"/><stop offset="0.824" stop-color="#b3850e"/><stop offset="0.882" stop-color="#ad7f0d"/><stop offset="0.941" stop-color="#a6780d"/><stop offset="1.000" stop-color="#9f710c"/></linearGradient><linearGradient id="g156"><stop offset="0.000" stop-color="#935012"/><stop offset="0.059" stop-color="#955213"/><stop offset="0.118" stop-color="#975514"/><stop offset="0.176" stop-color="#995a15"/><stop offset="0.235" stop-color="#9b5d16"/><stop offset="0.294" stop-color="#9c5c15"/><stop offset="0.353" stop-color="#9c5c15"/><stop offset="0.412" stop-color="#9d6015"/><stop offset="0.471" stop-color="#9e6314"/><stop offset="0.529" stop-color="#9f6613"/><stop offset="0.588" stop-color="#a36c13"/><stop offset="0.647" stop-color="#a67412"/><stop offset="0.706" stop-color="#ac7d11"/><stop offset="0.765" stop-color="#b3850f"/><stop offset="0.824" stop-color="#b3850e"/><stop offset="0.882" stop-color="#ad7f0d"/><stop offset="0.941" stop-color="#a6780c"/><stop offset="1.000" stop-color="#9f710c"/></linearGradient><linearGradient id="g157"><stop offset="0.000" stop-color="#934f12"/><stop offset="0.059" stop-color="#955013"/><stop offset="0.118" stop-color="#975313"/><stop offset="0.176" stop-color="#995815"/><stop offset="0.235" stop-color="#9b5b15"/><stop offset="0.294" stop-color="#9c5a15"/><stop offset="0.353" stop-color="#9c5b14"/><stop offset="0.412" stop-color="#9c5e14"/><stop offset="0.471" stop-color="#9e6114"/><stop offset="0.529" stop-color="#9f6413"/><stop offset="0.588" stop-color="#a26b13"/><stop offset="0.647" stop-color="#a67312"/><stop offset="0.706" stop-color="#ab7c10"/><stop offset="0.765" stop-color="#b2840f"/><stop offset="0.824" stop-color="#b3850e"/><stop offset="0.882" stop-color="#ad7f0d"/><stop offset="0.941" stop-color="#a6780c"/><stop offset="1.000" stop-color="#9f710c"/></linearGradient><linearGradient id="g158"><stop offset="0.000" stop-color="#934e12"/><stop offset="0.059" stop-color="#954f13"/><stop offset="0.118" stop-color="#965213"/><stop offset="0.176" stop-color="#985614"/><stop offset="0.235" stop-color="#9b5915"/><stop offset="0.294" stop-color="#9c5815"/><stop offset="0.353" stop-color="#9c5914"/><stop offset="0.412" stop-color="#9c5c14"/><stop offset="0.471" stop-color="#9d5f14"/><stop offset="0.529" stop-color="#9f6313"/><stop offset="0.588" stop-color="#a26a12"/><stop offset="0.647" stop-color="#a57112"/><stop offset="0.706" stop-color="#aa7b10"/><stop offset="0.765" stop-color="#b1830e"/><stop offset="0.824" stop-color="#b2840d"/><stop offset="0.882" stop-color="#ad800c"/><stop offset="0.941" stop-color="#a6780c"/><stop offset="1.000" stop-color="#9e710c"/></linearGradient><linearGradient id="g159"><stop offset="0.000" stop-color="#934e12"/><stop offset="0.059" stop-color="#954e12"/><stop offset="0.118" stop-color="#965013"/><stop offset="0.176" stop-color="#985414"/><stop offset="0.235" stop-color="#9b5715"/><stop offset="0.294" stop-color="#9c5715"/><stop offset="0.353" stop-color="#9c5814"/><stop offset="0.412" stop-color="#9c5a14"/><stop offset="0.471" stop-color="#9d5d14"/><stop offset="0.529" stop-color="#9e6113"/><stop offset="0.588" stop-color="#a26812"/><stop offset="0.647" stop-color="#a46f11"/><stop offset="0.706" stop-color="#a97910"/><stop offset="0.765" stop-color="#b0820e"/><stop offset="0.824" stop-color="#b1830d"/><stop offset="0.882" stop-color="#ad800c"/><stop offset="0.941" stop-color="#a6780b"/><stop offset="1.000" stop-color="#9e710b"/></linearGradient><linearGradient id="g160"><stop offset="0.000" stop-color="#934d12"/><stop offset="0.059" stop-color="#954d12"/><stop offset="0.118" stop-color="#964f13"/><stop offset="0.176" stop-color="#985314"/><stop offset="0.235" stop-color="#9a5514"/><stop offset="0.294" stop-color="#9c5614"/><stop offset="0.353" stop-color="#9c5614"/><stop offset="0.412" stop-color="#9c5814"/><stop offset="0.471" stop-color="#9d5b13"/><stop offset="0.529" stop-color="#9e5f13"/><stop offset="0.588" stop-color="#a16712"/><stop offset="0.647" stop-color="#a36e11"/><stop offset="0.706" stop-color="#a8780f"/><stop offset="0.765" stop-color="#ae810e"/><stop offset="0.824" stop-color="#b0820d"/><stop offset="0.882" stop-color="#ad800c"/><stop offset="0.941" stop-color="#a5780b"/><stop offset="1.000" stop-color="#9d710b"/></linearGradient><linearGradient id="g161"><stop offset="0.000" stop-color="#934c12"/><stop offset="0.059" stop-color="#954c12"/><stop offset="0.118" stop-color="#964e13"/><stop offset="0.176" stop-color="#975113"/><stop offset="0.235" stop-color="#9a5414"/><stop offset="0.294" stop-color="#9c5514"/><stop offset="0.353" stop-color="#9c5514"/><stop offset="0.412" stop-color="#9c5614"/><stop offset="0.471" stop-color="#9d5913"/><stop offset="0.529" stop-color="#9e5d13"/><stop offset="0.588" stop-color="#a06512"/><stop offset="0.647" stop-color="#a26c11"/><stop offset="0.706" stop-color="#a6760f"/><stop offset="0.765" stop-color="#ac7f0e"/><stop offset="0.824" stop-color="#af820c"/><stop offset="0.882" stop-color="#ad800b"/><stop offset="0.941" stop-color="#a5780b"/><stop offset="1.000" stop-color="#9c700b"/></linearGradient><linearGradient id="g162"><stop offset="0.000" stop-color="#934b12"/><stop offset="0.059" stop-color="#954b12"/><stop offset="0.118" stop-color="#964d12"/><stop offset="0.176" stop-color="#975013"/><stop offset="0.235" stop-color="#9a5314"/><stop offset="0.294" stop-color="#9c5414"/><stop offset="0.353" stop-color="#9b5414"/><stop offset="0.412" stop-color="#9c5513"/><stop offset="0.471" stop-color="#9d5713"/><stop offset="0.529" stop-color="#9d5c12"/><stop offset="0.588" stop-color="#9e6312"/><stop offset="0.647" stop-color="#a06a10"/><stop offset="0.706" stop-color="#a4740f"/><stop offset="0.765" stop-color="#aa7d0d"/><stop offset="0.824" stop-color="#ae810c"/><stop offset="0.882" stop-color="#ad800b"/><stop offset="0.941" stop-color="#a4780b"/><stop offset="1.000" stop-color="#9c6f0b"/></linearGradient><linearGradient id="g163"><stop offset="0.000" stop-color="#934b12"/><stop offset="0.059" stop-color="#944b12"/><stop offset="0.118" stop-color="#964c12"/><stop offset="0.176" stop-color="#974f13"/><stop offset="0.235" stop-color="#995214"/><stop offset="0.294" stop-color="#9b5314"/><stop offset="0.353" stop-color="#9b5214"/><stop offset="0.412" stop-color="#9c5313"/><stop offset="0.471" stop-color="#9d5613"/><stop offset="0.529" stop-color="#9c5a12"/><stop offset="0.588" stop-color="#9d6111"/><stop offset="0.647" stop-color="#9d6810"/><stop offset="0.706" stop-color="#a1710e"/><stop offset="0.765" stop-color="#a77a0d"/><stop offset="0.824" stop-color="#ac7f0b"/><stop offset="0.882" stop-color="#ac7f0a"/><stop offset="0.941" stop-color="#a3770a"/><stop offset="1.000" stop-color="#9a6f0a"/></linearGradient><linearGradient id="g164"><stop offset="0.000" stop-color="#924a11"/><stop offset="0.059" stop-color="#944a12"/><stop offset="0.118" stop-color="#954b12"/><stop offset="0.176" stop-color="#964e13"/><stop offset="0.235" stop-color="#985013"/><stop offset="0.294" stop-color="#9a5114"/><stop offset="0.353" stop-color="#9b5113"/><stop offset="0.412" stop-color="#9c5213"/><stop offset="0.471" stop-color="#9c5413"/><stop offset="0.529" stop-color="#9b5812"/><stop offset="0.588" stop-color="#9a5f11"/><stop offset="0.647" stop-color="#9a6610"/><stop offset="0.706" stop-color="#9d6e0e"/><stop offset="0.765" stop-color="#a3770d"/><stop offset="0.824" stop-color="#aa7d0b"/><stop offset="0.882" stop-color="#ab7e0a"/><stop offset="0.941" stop-color="#a2760a"/><stop offset="1.000" stop-color="#996e0a"/></linearGradient><linearGradient id="g165"><stop offset="0.000" stop-color="#924a11"/><stop offset="0.059" stop-color="#944912"/><stop offset="0.118" stop-color="#954a12"/><stop offset="0.176" stop-color="#964d12"/><stop offset="0.235" stop-color="#984f13"/><stop offset="0.294" stop-color="#995013"/><stop offset="0.353" stop-color="#9a5013"/><stop offset="0.412" stop-color="#9c5013"/><stop offset="0.471" stop-color="#9c5313"/><stop offset="0.529" stop-color="#9a5712"/><stop offset="0.588" stop-color="#985d11"/><stop offset="0.647" stop-color="#97630f"/><stop offset="0.706" stop-color="#9a6b0d"/><stop offset="0.765" stop-color="#a0730c"/><stop offset="0.824" stop-color="#a77b0b"/><stop offset="0.882" stop-color="#a87c0a"/><stop offset="0.941" stop-color="#a0740a"/><stop offset="1.000" stop-color="#986c0a"/></linearGradient><linearGradient id="g166"><stop offset="0.000" stop-color="#924911"/><stop offset="0.059" stop-color="#944912"/><stop offset="0.118" stop-color="#954912"/><stop offset="0.176" stop-color="#954c12"/><stop offset="0.235" stop-color="#974e13"/><stop offset="0.294" stop-color="#994f13"/><stop offset="0.353" stop-color="#9a4f13"/><stop offset="0.412" stop-color="#9b4f13"/><stop offset="0.471" stop-color="#9b5113"/><stop offset="0.529" stop-color="#985512"/><stop offset="0.588" stop-color="#955a10"/><stop offset="0.647" stop-color="#94600f"/><stop offset="0.706" stop-color="#96680d"/><stop offset="0.765" stop-color="#9c700c"/><stop offset="0.824" stop-color="#a3770a"/><stop offset="0.882" stop-color="#a5790a"/><stop offset="0.941" stop-color="#9d720a"/><stop offset="1.000" stop-color="#966b0a"/></linearGradient><linearGradient id="g167"><stop offset="0.000" stop-color="#914811"/><stop offset="0.059" stop-color="#934811"/><stop offset="0.118" stop-color="#944912"/><stop offset="0.176" stop-color="#954b12"/><stop offset="0.235" stop-color="#964d12"/><stop offset="0.294" stop-color="#984e13"/><stop offset="0.353" stop-color="#994e13"/><stop offset="0.412" stop-color="#9b4e13"/><stop offset="0.471" stop-color="#995012"/><stop offset="0.529" stop-color="#965311"/><stop offset="0.588" stop-color="#925810"/><stop offset="0.647" stop-color="#905d0e"/><stop offset="0.706" stop-color="#92650d"/><stop offset="0.765" stop-color="#986c0b"/><stop offset="0.824" stop-color="#9f740a"/><stop offset="0.882" stop-color="#a17609"/><stop offset="0.941" stop-color="#9b7009"/><stop offset="1.000" stop-color="#946a0a"/></linearGradient><linearGradient id="g168"><stop offset="0.000" stop-color="#914811"/><stop offset="0.059" stop-color="#934811"/><stop offset="0.118" stop-color="#934812"/><stop offset="0.176" stop-color="#944a12"/><stop offset="0.235" stop-color="#954c12"/><stop offset="0.294" stop-color="#974c12"/><stop offset="0.353" stop-color="#994c13"/><stop offset="0.412" stop-color="#9a4d13"/><stop offset="0.471" stop-color="#984f12"/><stop offset="0.529" stop-color="#945111"/><stop offset="0.588" stop-color="#8f550f"/><stop offset="0.647" stop-color="#8d5a0e"/><stop offset="0.706" stop-color="#8f620c"/><stop offset="0.765" stop-color="#94690b"/><stop offset="0.824" stop-color="#9a700a"/><stop offset="0.882" stop-color="#9d7309"/><stop offset="0.941" stop-color="#986e09"/><stop offset="1.000" stop-color="#926809"/></linearGradient><linearGradient id="g169"><stop offset="0.000" stop-color="#914711"/><stop offset="0.059" stop-color="#924711"/><stop offset="0.118" stop-color="#934811"/><stop offset="0.176" stop-color="#934912"/><stop offset="0.235" stop-color="#944b12"/><stop offset="0.294" stop-color="#964b12"/><stop offset="0.353" stop-color="#984b13"/><stop offset="0.412" stop-color="#994c13"/><stop offset="0.471" stop-color="#964d12"/><stop offset="0.529" stop-color="#924f11"/><stop offset="0.588" stop-color="#8c520f"/><stop offset="0.647" stop-color="#89570d"/><stop offset="0.706" stop-color="#8b5e0c"/><stop offset="0.765" stop-color="#90660b"/><stop offset="0.824" stop-color="#966c09"/><stop offset="0.882" stop-color="#997009"/><stop offset="0.941" stop-color="#956c09"/><stop offset="1.000" stop-color="#906609"/></linearGradient><linearGradient id="g170"><stop offset="0.000" stop-color="#904611"/><stop offset="0.059" stop-color="#914611"/><stop offset="0.118" stop-color="#924711"/><stop offset="0.176" stop-color="#924811"/><stop offset="0.235" stop-color="#934912"/><stop offset="0.294" stop-color="#954a12"/><stop offset="0.353" stop-color="#974a12"/><stop offset="0.412" stop-color="#974b12"/><stop offset="0.471" stop-color="#954b12"/><stop offset="0.529" stop-color="#904d10"/><stop offset="0.588" stop-color="#89500f"/><stop offset="0.647" stop-color="#85540d"/><stop offset="0.706" stop-color="#875b0c"/><stop offset="0.765" stop-color="#8b620a"/><stop offset="0.824" stop-color="#916909"/><stop offset="0.882" stop-color="#956d08"/><stop offset="0.941" stop-color="#926908"/><stop offset="1.000" stop-color="#8d6409"/></linearGradient><linearGradient id="g171"><stop offset="0.000" stop-color="#904611"/><stop offset="0.059" stop-color="#914511"/><stop offset="0.118" stop-color="#914611"/><stop offset="0.176" stop-color="#924711"/><stop offset="0.235" stop-color="#934811"/><stop offset="0.294" stop-color="#944912"/><stop offset="0.353" stop-color="#964912"/><stop offset="0.412" stop-color="#964912"/><stop offset="0.471" stop-color="#934a11"/><stop offset="0.529" stop-color="#8e4b10"/><stop offset="0.588" stop-color="#864d0e"/><stop offset="0.647" stop-color="#81510d"/><stop offset="0.706" stop-color="#83570b"/><stop offset="0.765" stop-color="#875e0a"/><stop offset="0.824" stop-color="#8d6509"/><stop offset="0.882" stop-color="#916908"/><stop offset="0.941" stop-color="#8e6608"/><stop offset="1.000" stop-color="#8b6209"/></linearGradient><linearGradient id="g172"><stop offset="0.000" stop-color="#8f4511"/><stop offset="0.059" stop-color="#904411"/><stop offset="0.118" stop-color="#914511"/><stop offset="0.176" stop-color="#914611"/><stop offset="0.235" stop-color="#924711"/><stop offset="0.294" stop-color="#944712"/><stop offset="0.353" stop-color="#954812"/><stop offset="0.412" stop-color="#944812"/><stop offset="0.471" stop-color="#924811"/><stop offset="0.529" stop-color="#8c4910"/><stop offset="0.588" stop-color="#834b0e"/><stop offset="0.647" stop-color="#7e4e0c"/><stop offset="0.706" stop-color="#7e530b"/><stop offset="0.765" stop-color="#825a0a"/><stop offset="0.824" stop-color="#876108"/><stop offset="0.882" stop-color="#8c6608"/><stop offset="0.941" stop-color="#8a6308"/><stop offset="1.000" stop-color="#886009"/></linearGradient><linearGradient id="g173"><stop offset="0.000" stop-color="#8f4410"/><stop offset="0.059" stop-color="#8f4311"/><stop offset="0.118" stop-color="#904411"/><stop offset="0.176" stop-color="#904511"/><stop offset="0.235" stop-color="#914611"/><stop offset="0.294" stop-color="#934611"/><stop offset="0.353" stop-color="#954612"/><stop offset="0.412" stop-color="#934711"/><stop offset="0.471" stop-color="#904711"/><stop offset="0.529" stop-color="#8a470f"/><stop offset="0.588" stop-color="#81480d"/><stop offset="0.647" stop-color="#7a4b0c"/><stop offset="0.706" stop-color="#7a4f0b"/><stop offset="0.765" stop-color="#7d5609"/><stop offset="0.824" stop-color="#825c08"/><stop offset="0.882" stop-color="#876107"/><stop offset="0.941" stop-color="#866008"/><stop offset="1.000" stop-color="#855e08"/></linearGradient><linearGradient id="g174"><stop offset="0.000" stop-color="#8e4410"/><stop offset="0.059" stop-color="#8f4210"/><stop offset="0.118" stop-color="#8f4210"/><stop offset="0.176" stop-color="#8f4411"/><stop offset="0.235" stop-color="#904511"/><stop offset="0.294" stop-color="#924511"/><stop offset="0.353" stop-color="#944512"/><stop offset="0.412" stop-color="#924611"/><stop offset="0.471" stop-color="#8e4511"/><stop offset="0.529" stop-color="#88450f"/><stop offset="0.588" stop-color="#7e460d"/><stop offset="0.647" stop-color="#77480c"/><stop offset="0.706" stop-color="#754b0a"/><stop offset="0.765" stop-color="#775109"/><stop offset="0.824" stop-color="#7c5708"/><stop offset="0.882" stop-color="#815c07"/><stop offset="0.941" stop-color="#825d07"/><stop offset="1.000" stop-color="#825c08"/></linearGradient><linearGradient id="g175"><stop offset="0.000" stop-color="#8e4310"/><stop offset="0.059" stop-color="#8f4110"/><stop offset="0.118" stop-color="#8f4110"/><stop offset="0.176" stop-color="#8e4310"/><stop offset="0.235" stop-color="#8f4411"/><stop offset="0.294" stop-color="#914411"/><stop offset="0.353" stop-color="#934411"/><stop offset="0.412" stop-color="#904411"/><stop offset="0.471" stop-color="#8d4410"/><stop offset="0.529" stop-color="#86430f"/><stop offset="0.588" stop-color="#7c440d"/><stop offset="0.647" stop-color="#74460b"/><stop offset="0.706" stop-color="#70470a"/><stop offset="0.765" stop-color="#724c08"/><stop offset="0.824" stop-color="#765207"/><stop offset="0.882" stop-color="#7a5707"/><stop offset="0.941" stop-color="#7e5907"/><stop offset="1.000" stop-color="#805908"/></linearGradient><linearGradient id="g176"><stop offset="0.000" stop-color="#8d4210"/><stop offset="0.059" stop-color="#8e4110"/><stop offset="0.118" stop-color="#8e4010"/><stop offset="0.176" stop-color="#8e4210"/><stop offset="0.235" stop-color="#8e4310"/><stop offset="0.294" stop-color="#904311"/><stop offset="0.353" stop-color="#924311"/><stop offset="0.412" stop-color="#8f4311"/><stop offset="0.471" stop-color="#8b4310"/><stop offset="0.529" stop-color="#83410e"/><stop offset="0.588" stop-color="#79410d"/><stop offset="0.647" stop-color="#71430b"/><stop offset="0.706" stop-color="#6b4309"/><stop offset="0.765" stop-color="#6c4808"/><stop offset="0.824" stop-color="#704e07"/><stop offset="0.882" stop-color="#745206"/><stop offset="0.941" stop-color="#795607"/><stop offset="1.000" stop-color="#7d5708"/></linearGradient><linearGradient id="g177"><stop offset="0.000" stop-color="#8d4210"/><stop offset="0.059" stop-color="#8e4010"/><stop offset="0.118" stop-color="#8e4010"/><stop offset="0.176" stop-color="#8d4110"/><stop offset="0.235" stop-color="#8d4210"/><stop offset="0.294" stop-color="#8f4210"/><stop offset="0.353" stop-color="#914211"/><stop offset="0.412" stop-color="#8d4210"/><stop offset="0.471" stop-color="#88410f"/><stop offset="0.529" stop-color="#80400e"/><stop offset="0.588" stop-color="#763f0c"/><stop offset="0.647" stop-color="#6e400b"/><stop offset="0.706" stop-color="#664009"/><stop offset="0.765" stop-color="#664408"/><stop offset="0.824" stop-color="#6a4906"/><stop offset="0.882" stop-color="#6e4d06"/><stop offset="0.941" stop-color="#755207"/><stop offset="1.000" stop-color="#7a5508"/></linearGradient><linearGradient id="g178"><stop offset="0.000" stop-color="#8c4110"/><stop offset="0.059" stop-color="#8d3f10"/><stop offset="0.118" stop-color="#8d3f10"/><stop offset="0.176" stop-color="#8c4010"/><stop offset="0.235" stop-color="#8c4110"/><stop offset="0.294" stop-color="#8e4110"/><stop offset="0.353" stop-color="#8f4110"/><stop offset="0.412" stop-color="#8b4110"/><stop offset="0.471" stop-color="#86400f"/><stop offset="0.529" stop-color="#7d3e0e"/><stop offset="0.588" stop-color="#743d0c"/><stop offset="0.647" stop-color="#6a3d0a"/><stop offset="0.706" stop-color="#613c08"/><stop offset="0.765" stop-color="#614007"/><stop offset="0.824" stop-color="#654506"/><stop offset="0.882" stop-color="#694906"/><stop offset="0.941" stop-color="#724f07"/><stop offset="1.000" stop-color="#785308"/></linearGradient><linearGradient id="g179"><stop offset="0.000" stop-color="#8c4110"/><stop offset="0.059" stop-color="#8d3f10"/><stop offset="0.118" stop-color="#8d3e10"/><stop offset="0.176" stop-color="#8b3f10"/><stop offset="0.235" stop-color="#8b3f10"/><stop offset="0.294" stop-color="#8c3f10"/><stop offset="0.353" stop-color="#8d4010"/><stop offset="0.412" stop-color="#894010"/><stop offset="0.471" stop-color="#833f0f"/><stop offset="0.529" stop-color="#7a3c0d"/><stop offset="0.588" stop-color="#713b0b"/><stop offset="0.647" stop-color="#673b0a"/><stop offset="0.706" stop-color="#5d3908"/><stop offset="0.765" stop-color="#5d3c07"/><stop offset="0.824" stop-color="#614206"/><stop offset="0.882" stop-color="#654606"/><stop offset="0.941" stop-color="#6e4c07"/><stop offset="1.000" stop-color="#755008"/></linearGradient><linearGradient id="g180"><stop offset="0.000" stop-color="#8b4010"/><stop offset="0.059" stop-color="#8c3e10"/><stop offset="0.118" stop-color="#8c3e10"/><stop offset="0.176" stop-color="#8a3e0f"/><stop offset="0.235" stop-color="#8a3e0f"/><stop offset="0.294" stop-color="#8b3e0f"/><stop offset="0.353" stop-color="#8b3f10"/><stop offset="0.412" stop-color="#873f0f"/><stop offset="0.471" stop-color="#803d0e"/><stop offset="0.529" stop-color="#773b0d"/><stop offset="0.588" stop-color="#6e390b"/><stop offset="0.647" stop-color="#643809"/><stop offset="0.706" stop-color="#5a3608"/><stop offset="0.765" stop-color="#593907"/><stop offset="0.824" stop-color="#5d3f06"/><stop offset="0.882" stop-color="#624305"/><stop offset="0.941" stop-color="#6b4a06"/><stop offset="1.000" stop-color="#734f08"/></linearGradient><linearGradient id="g181"><stop offset="0.000" stop-color="#8b4010"/><stop offset="0.059" stop-color="#8c3e10"/><stop offset="0.118" stop-color="#8b3d0f"/><stop offset="0.176" stop-color="#893d0f"/><stop offset="0.235" stop-color="#883d0f"/><stop offset="0.294" stop-color="#893d0f"/><stop offset="0.353" stop-color="#893d0f"/><stop offset="0.412" stop-color="#853d0f"/><stop offset="0.471" stop-color="#7e3c0e"/><stop offset="0.529" stop-color="#74390c"/><stop offset="0.588" stop-color="#6b360b"/><stop offset="0.647" stop-color="#613609"/><stop offset="0.706" stop-color="#573407"/><stop offset="0.765" stop-color="#563706"/><stop offset="0.824" stop-color="#5a3c06"/><stop offset="0.882" stop-color="#5f4105"/><stop offset="0.941" stop-color="#694806"/><stop offset="1.000" stop-color="#714d07"/></linearGradient><linearGradient id="g182"><stop offset="0.000" stop-color="#8a400f"/><stop offset="0.059" stop-color="#8b3e0f"/><stop offset="0.118" stop-color="#8a3d0f"/><stop offset="0.176" stop-color="#883c0f"/><stop offset="0.235" stop-color="#873c0f"/><stop offset="0.294" stop-color="#883b0f"/><stop offset="0.353" stop-color="#873c0f"/><stop offset="0.412" stop-color="#823c0e"/><stop offset="0.471" stop-color="#7b3b0d"/><stop offset="0.529" stop-color="#71370c"/><stop offset="0.588" stop-color="#67340a"/><stop offset="0.647" stop-color="#5f3409"/><stop offset="0.706" stop-color="#553307"/><stop offset="0.765" stop-color="#533406"/><stop offset="0.824" stop-color="#563906"/><stop offset="0.882" stop-color="#5d3f06"/><stop offset="0.941" stop-color="#674606"/><stop offset="1.000" stop-color="#6f4b07"/></linearGradient><linearGradient id="g183"><stop offset="0.000" stop-color="#8a3f0f"/><stop offset="0.059" stop-color="#8a3e0f"/><stop offset="0.118" stop-color="#893c0f"/><stop offset="0.176" stop-color="#873b0f"/><stop offset="0.235" stop-color="#863b0f"/><stop offset="0.294" stop-color="#863a0e"/><stop offset="0.353" stop-color="#853a0e"/><stop offset="0.412" stop-color="#803b0e"/><stop offset="0.471" stop-color="#78390d"/><stop offset="0.529" stop-color="#6e360b"/><stop offset="0.588" stop-color="#64330a"/><stop offset="0.647" stop-color="#5c3209"/><stop offset="0.706" stop-color="#543207"/><stop offset="0.765" stop-color="#503206"/><stop offset="0.824" stop-color="#533705"/><stop offset="0.882" stop-color="#5b3d06"/><stop offset="0.941" stop-color="#654406"/><stop offset="1.000" stop-color="#6d4907"/></linearGradient><linearGradient id="g184"><stop offset="0.000" stop-color="#893f0f"/><stop offset="0.059" stop-color="#893d0f"/><stop offset="0.118" stop-color="#873c0f"/><stop offset="0.176" stop-color="#853a0e"/><stop offset="0.235" stop-color="#85390e"/><stop offset="0.294" stop-color="#85390e"/><stop offset="0.353" stop-color="#83390e"/><stop offset="0.412" stop-color="#7e3a0e"/><stop offset="0.471" stop-color="#76380c"/><stop offset="0.529" stop-color="#6c350b"/><stop offset="0.588" stop-color="#61310a"/><stop offset="0.647" stop-color="#5a3108"/><stop offset="0.706" stop-color="#523007"/><stop offset="0.765" stop-color="#4d3006"/><stop offset="0.824" stop-color="#503405"/><stop offset="0.882" stop-color="#5a3c06"/><stop offset="0.941" stop-color="#644307"/><stop offset="1.000" stop-color="#6c4807"/></linearGradient><linearGradient id="g185"><stop offset="0.000" stop-color="#883f0f"/><stop offset="0.059" stop-color="#883d0f"/><stop offset="0.118" stop-color="#863b0f"/><stop offset="0.176" stop-color="#84390e"/><stop offset="0.235" stop-color="#83380e"/><stop offset="0.294" stop-color="#84380e"/><stop offset="0.353" stop-color="#82380e"/><stop offset="0.412" stop-color="#7c380d"/><stop offset="0.471" stop-color="#73370c"/><stop offset="0.529" stop-color="#69330b"/><stop offset="0.588" stop-color="#5e2f09"/><stop offset="0.647" stop-color="#582f08"/><stop offset="0.706" stop-color="#502f07"/><stop offset="0.765" stop-color="#4a2e05"/><stop offset="0.824" stop-color="#4d3105"/><stop offset="0.882" stop-color="#583a06"/><stop offset="0.941" stop-color="#624107"/><stop offset="1.000" stop-color="#6b4707"/></linearGradient><linearGradient id="g186"><stop offset="0.000" stop-color="#873e0f"/><stop offset="0.059" stop-color="#873c0f"/><stop offset="0.118" stop-color="#853a0e"/><stop offset="0.176" stop-color="#82380e"/><stop offset="0.235" stop-color="#82370e"/><stop offset="0.294" stop-color="#83370e"/><stop offset="0.353" stop-color="#80370d"/><stop offset="0.412" stop-color="#79370d"/><stop offset="0.471" stop-color="#71350c"/><stop offset="0.529" stop-color="#66320a"/><stop offset="0.588" stop-color="#5c2e09"/><stop offset="0.647" stop-color="#562e08"/><stop offset="0.706" stop-color="#4f2d07"/><stop offset="0.765" stop-color="#472c05"/><stop offset="0.824" stop-color="#4a2f05"/><stop offset="0.882" stop-color="#563806"/><stop offset="0.941" stop-color="#614007"/><stop offset="1.000" stop-color="#694607"/></linearGradient><linearGradient id="g187"><stop offset="0.000" stop-color="#873e0f"/><stop offset="0.059" stop-color="#863c0f"/><stop offset="0.118" stop-color="#83390e"/><stop offset="0.176" stop-color="#81360e"/><stop offset="0.235" stop-color="#81360e"/><stop offset="0.294" stop-color="#81360d"/><stop offset="0.353" stop-color="#7f360d"/><stop offset="0.412" stop-color="#77360d"/><stop offset="0.471" stop-color="#6e340b"/><stop offset="0.529" stop-color="#64300a"/><stop offset="0.588" stop-color="#5a2d09"/><stop offset="0.647" stop-color="#532c08"/><stop offset="0.706" stop-color="#4c2c06"/><stop offset="0.765" stop-color="#452a05"/><stop offset="0.824" stop-color="#482e05"/><stop offset="0.882" stop-color="#553706"/><stop offset="0.941" stop-color="#603f07"/><stop offset="1.000" stop-color="#684407"/></linearGradient><linearGradient id="g188"><stop offset="0.000" stop-color="#863e0f"/><stop offset="0.059" stop-color="#853b0e"/><stop offset="0.118" stop-color="#82380e"/><stop offset="0.176" stop-color="#80350e"/><stop offset="0.235" stop-color="#7f350d"/><stop offset="0.294" stop-color="#80350d"/><stop offset="0.353" stop-color="#7d350d"/><stop offset="0.412" stop-color="#75340c"/><stop offset="0.471" stop-color="#6c320b"/><stop offset="0.529" stop-color="#612f0a"/><stop offset="0.588" stop-color="#582c08"/><stop offset="0.647" stop-color="#512b07"/><stop offset="0.706" stop-color="#4a2a06"/><stop offset="0.765" stop-color="#442905"/><stop offset="0.824" stop-color="#472c05"/><stop offset="0.882" stop-color="#543606"/><stop offset="0.941" stop-color="#5f3e07"/><stop offset="1.000" stop-color="#674308"/></linearGradient><linearGradient id="g189"><stop offset="0.000" stop-color="#853e0f"/><stop offset="0.059" stop-color="#843b0e"/><stop offset="0.118" stop-color="#81380e"/><stop offset="0.176" stop-color="#7e340d"/><stop offset="0.235" stop-color="#7e340d"/><stop offset="0.294" stop-color="#7f350d"/><stop offset="0.353" stop-color="#7b340d"/><stop offset="0.412" stop-color="#73330c"/><stop offset="0.471" stop-color="#69310b"/><stop offset="0.529" stop-color="#5e2e09"/><stop offset="0.588" stop-color="#562b08"/><stop offset="0.647" stop-color="#4e2a07"/><stop offset="0.706" stop-color="#482906"/><stop offset="0.765" stop-color="#432805"/><stop offset="0.824" stop-color="#472c05"/><stop offset="0.882" stop-color="#533506"/><stop offset="0.941" stop-color="#5e3d07"/><stop offset="1.000" stop-color="#674308"/></linearGradient><linearGradient id="g190"><stop offset="0.000" stop-color="#853d0f"/><stop offset="0.059" stop-color="#833b0e"/><stop offset="0.118" stop-color="#80370e"/><stop offset="0.176" stop-color="#7d330d"/><stop offset="0.235" stop-color="#7d330d"/><stop offset="0.294" stop-color="#7d340d"/><stop offset="0.353" stop-color="#79330c"/><stop offset="0.412" stop-color="#71320c"/><stop offset="0.471" stop-color="#672f0a"/><stop offset="0.529" stop-color="#5c2c09"/><stop offset="0.588" stop-color="#542a08"/><stop offset="0.647" stop-color="#4b2807"/><stop offset="0.706" stop-color="#452706"/><stop offset="0.765" stop-color="#432805"/><stop offset="0.824" stop-color="#472c05"/><stop offset="0.882" stop-color="#533406"/><stop offset="0.941" stop-color="#5e3c07"/><stop offset="1.000" stop-color="#664208"/></linearGradient><linearGradient id="g191"><stop offset="0.000" stop-color="#843d0e"/><stop offset="0.059" stop-color="#823a0e"/><stop offset="0.118" stop-color="#80370e"/><stop offset="0.176" stop-color="#7d330d"/><stop offset="0.235" stop-color="#7c330d"/><stop offset="0.294" stop-color="#7c340d"/><stop offset="0.353" stop-color="#77330c"/><stop offset="0.412" stop-color="#6f300b"/><stop offset="0.471" stop-color="#652e0a"/><stop offset="0.529" stop-color="#592a09"/><stop offset="0.588" stop-color="#512808"/><stop offset="0.647" stop-color="#482606"/><stop offset="0.706" stop-color="#422505"/><stop offset="0.765" stop-color="#432705"/><stop offset="0.824" stop-color="#482c05"/><stop offset="0.882" stop-color="#533406"/><stop offset="0.941" stop-color="#5d3b07"/><stop offset="1.000" stop-color="#654108"/></linearGradient><linearGradient id="g192"><stop offset="0.000" stop-color="#833d0e"/><stop offset="0.059" stop-color="#823a0e"/><stop offset="0.118" stop-color="#7f360e"/><stop offset="0.176" stop-color="#7c330d"/><stop offset="0.235" stop-color="#7c330d"/><stop offset="0.294" stop-color="#7a330d"/><stop offset="0.353" stop-color="#75320c"/><stop offset="0.412" stop-color="#6d2f0b"/><stop offset="0.471" stop-color="#632d0a"/><stop offset="0.529" stop-color="#562908"/><stop offset="0.588" stop-color="#4f2707"/><stop offset="0.647" stop-color="#462506"/><stop offset="0.706" stop-color="#402405"/><stop offset="0.765" stop-color="#432705"/><stop offset="0.824" stop-color="#492c05"/><stop offset="0.882" stop-color="#533406"/><stop offset="0.941" stop-color="#5d3b07"/><stop offset="1.000" stop-color="#654008"/></linearGradient><linearGradient id="g193"><stop offset="0.000" stop-color="#833d0e"/><stop offset="0.059" stop-color="#813a0e"/><stop offset="0.118" stop-color="#7e360d"/><stop offset="0.176" stop-color="#7c330d"/><stop offset="0.235" stop-color="#7b330d"/><stop offset="0.294" stop-color="#79330d"/><stop offset="0.353" stop-color="#73310c"/><stop offset="0.412" stop-color="#6b2e0b"/><stop offset="0.471" stop-color="#612c0a"/><stop offset="0.529" stop-color="#542708"/><stop offset="0.588" stop-color="#4d2607"/><stop offset="0.647" stop-color="#432306"/><stop offset="0.706" stop-color="#3e2205"/><stop offset="0.765" stop-color="#432705"/><stop offset="0.824" stop-color="#4a2d06"/><stop offset="0.882" stop-color="#533406"/><stop offset="0.941" stop-color="#5d3a07"/><stop offset="1.000" stop-color="#644008"/></linearGradient><linearGradient id="g194"><stop offset="0.000" stop-color="#823d0e"/><stop offset="0.059" stop-color="#803a0e"/><stop offset="0.118" stop-color="#7e360d"/><stop offset="0.176" stop-color="#7c330d"/><stop offset="0.235" stop-color="#7a330d"/><stop offset="0.294" stop-color="#78330c"/><stop offset="0.353" stop-color="#71300c"/><stop offset="0.412" stop-color="#6a2d0b"/><stop offset="0.471" stop-color="#602b0a"/><stop offset="0.529" stop-color="#522608"/><stop offset="0.588" stop-color="#4b2507"/><stop offset="0.647" stop-color="#422206"/><stop offset="0.706" stop-color="#3d2105"/><stop offset="0.765" stop-color="#432705"/><stop offset="0.824" stop-color="#4b2d06"/><stop offset="0.882" stop-color="#543406"/><stop offset="0.941" stop-color="#5d3a07"/><stop offset="1.000" stop-color="#643f08"/></linearGradient><linearGradient id="g195"><stop offset="0.000" stop-color="#823c0e"/><stop offset="0.059" stop-color="#803a0e"/><stop offset="0.118" stop-color="#7e360d"/><stop offset="0.176" stop-color="#7b340d"/><stop offset="0.235" stop-color="#7a330d"/><stop offset="0.294" stop-color="#77330c"/><stop offset="0.353" stop-color="#70300b"/><stop offset="0.412" stop-color="#692d0b"/><stop offset="0.471" stop-color="#5f2a09"/><stop offset="0.529" stop-color="#502508"/><stop offset="0.588" stop-color="#4a2407"/><stop offset="0.647" stop-color="#412206"/><stop offset="0.706" stop-color="#3d2105"/><stop offset="0.765" stop-color="#442705"/><stop offset="0.824" stop-color="#4c2d06"/><stop offset="0.882" stop-color="#553407"/><stop offset="0.941" stop-color="#5d3a07"/><stop offset="1.000" stop-color="#643f08"/></linearGradient><linearGradient id="g196"><stop offset="0.000" stop-color="#813c0e"/><stop offset="0.059" stop-color="#803a0e"/><stop offset="0.118" stop-color="#7d370d"/><stop offset="0.176" stop-color="#7b340d"/><stop offset="0.235" stop-color="#79330d"/><stop offset="0.294" stop-color="#76330c"/><stop offset="0.353" stop-color="#6f300b"/><stop offset="0.412" stop-color="#682c0b"/><stop offset="0.471" stop-color="#5e2a09"/><stop offset="0.529" stop-color="#502508"/><stop offset="0.588" stop-color="#4a2407"/><stop offset="0.647" stop-color="#422206"/><stop offset="0.706" stop-color="#3d2205"/><stop offset="0.765" stop-color="#452806"/><stop offset="0.824" stop-color="#4d2e06"/><stop offset="0.882" stop-color="#553407"/><stop offset="0.941" stop-color="#5d3a07"/><stop offset="1.000" stop-color="#643f08"/></linearGradient><linearGradient id="g197"><stop offset="0.000" stop-color="#813c0e"/><stop offset="0.059" stop-color="#7f3a0e"/><stop offset="0.118" stop-color="#7d370d"/><stop offset="0.176" stop-color="#7b350d"/><stop offset="0.235" stop-color="#79340d"/><stop offset="0.294" stop-color="#75330c"/><stop offset="0.353" stop-color="#6f2f0b"/><stop offset="0.412" stop-color="#682c0a"/><stop offset="0.471" stop-color="#5e2a09"/><stop offset="0.529" stop-color="#502508"/><stop offset="0.588" stop-color="#4a2407"/><stop offset="0.647" stop-color="#432306"/><stop offset="0.706" stop-color="#3f2305"/><stop offset="0.765" stop-color="#462806"/><stop offset="0.824" stop-color="#4e2e06"/><stop offset="0.882" stop-color="#563407"/><stop offset="0.941" stop-color="#5d3a07"/><stop offset="1.000" stop-color="#643e08"/></linearGradient><linearGradient id="g198"><stop offset="0.000" stop-color="#803c0e"/><stop offset="0.059" stop-color="#7f3a0e"/><stop offset="0.118" stop-color="#7d370d"/><stop offset="0.176" stop-color="#7b350d"/><stop offset="0.235" stop-color="#78340d"/><stop offset="0.294" stop-color="#74330c"/><stop offset="0.353" stop-color="#6e300b"/><stop offset="0.412" stop-color="#672d0a"/><stop offset="0.471" stop-color="#5e2a09"/><stop offset="0.529" stop-color="#512608"/><stop offset="0.588" stop-color="#4b2507"/><stop offset="0.647" stop-color="#452406"/><stop offset="0.706" stop-color="#412406"/><stop offset="0.765" stop-color="#482906"/><stop offset="0.824" stop-color="#4f2f06"/><stop offset="0.882" stop-color="#573407"/><stop offset="0.941" stop-color="#5e3a08"/><stop offset="1.000" stop-color="#643e08"/></linearGradient><linearGradient id="g199"><stop offset="0.000" stop-color="#803c0e"/><stop offset="0.059" stop-color="#7e3a0e"/><stop offset="0.118" stop-color="#7c380d"/><stop offset="0.176" stop-color="#7a360d"/><stop offset="0.235" stop-color="#78340c"/><stop offset="0.294" stop-color="#74330c"/><stop offset="0.353" stop-color="#6e300b"/><stop offset="0.412" stop-color="#672d0a"/><stop offset="0.471" stop-color="#5e2a09"/><stop offset="0.529" stop-color="#532708"/><stop offset="0.588" stop-color="#4c2607"/><stop offset="0.647" stop-color="#462506"/><stop offset="0.706" stop-color="#442506"/><stop offset="0.765" stop-color="#492a06"/><stop offset="0.824" stop-color="#512f07"/><stop offset="0.882" stop-color="#583507"/><stop offset="0.941" stop-color="#5e3a08"/><stop offset="1.000" stop-color="#643e08"/></linearGradient><linearGradient id="g200"><stop offset="0.000" stop-color="#803c0e"/><stop offset="0.059" stop-color="#7e3a0d"/><stop offset="0.118" stop-color="#7c380d"/><stop offset="0.176" stop-color="#7a360d"/><stop offset="0.235" stop-color="#77350c"/><stop offset="0.294" stop-color="#73330c"/><stop offset="0.353" stop-color="#6e300b"/><stop offset="0.412" stop-color="#672d0a"/><stop offset="0.471" stop-color="#5e2b09"/><stop offset="0.529" stop-color="#542808"/><stop offset="0.588" stop-color="#4e2607"/><stop offset="0.647" stop-color="#492607"/><stop offset="0.706" stop-color="#462606"/><stop offset="0.765" stop-color="#4b2b06"/><stop offset="0.824" stop-color="#523007"/><stop offset="0.882" stop-color="#583507"/><stop offset="0.941" stop-color="#5f3a08"/><stop offset="1.000" stop-color="#643e08"/></linearGradient><linearGradient id="g201"><stop offset="0.000" stop-color="#7f3c0e"/><stop offset="0.059" stop-color="#7e3a0d"/><stop offset="0.118" stop-color="#7c380d"/><stop offset="0.176" stop-color="#7a360d"/><stop offset="0.235" stop-color="#77350c"/><stop offset="0.294" stop-color="#73330c"/><stop offset="0.353" stop-color="#6e310b"/><stop offset="0.412" stop-color="#672e0a"/><stop offset="0.471" stop-color="#5f2c09"/><stop offset="0.529" stop-color="#562908"/><stop offset="0.588" stop-color="#502808"/><stop offset="0.647" stop-color="#4b2707"/><stop offset="0.706" stop-color="#492806"/><stop offset="0.765" stop-color="#4d2c07"/><stop offset="0.824" stop-color="#533007"/><stop offset="0.882" stop-color="#593507"/><stop offset="0.941" stop-color="#5f3a08"/><stop offset="1.000" stop-color="#643e08"/></linearGradient><linearGradient id="g202"><stop offset="0.000" stop-color="#7f3d0e"/><stop offset="0.059" stop-color="#7e3b0d"/><stop offset="0.118" stop-color="#7c390d"/><stop offset="0.176" stop-color="#79370d"/><stop offset="0.235" stop-color="#77350c"/><stop offset="0.294" stop-color="#73340c"/><stop offset="0.353" stop-color="#6d310b"/><stop offset="0.412" stop-color="#672f0a"/><stop offset="0.471" stop-color="#602c09"/><stop offset="0.529" stop-color="#572a08"/><stop offset="0.588" stop-color="#512908"/><stop offset="0.647" stop-color="#4d2807"/><stop offset="0.706" stop-color="#4c2907"/><stop offset="0.765" stop-color="#4f2c07"/><stop offset="0.824" stop-color="#543107"/><stop offset="0.882" stop-color="#5a3508"/><stop offset="0.941" stop-color="#603a08"/><stop offset="1.000" stop-color="#653e08"/></linearGradient><linearGradient id="g203"><stop offset="0.000" stop-color="#7f3d0e"/><stop offset="0.059" stop-color="#7d3b0d"/><stop offset="0.118" stop-color="#7b390d"/><stop offset="0.176" stop-color="#79370d"/><stop offset="0.235" stop-color="#76360c"/><stop offset="0.294" stop-color="#72340c"/><stop offset="0.353" stop-color="#6d320b"/><stop offset="0.412" stop-color="#672f0a"/><stop offset="0.471" stop-color="#602d0a"/><stop offset="0.529" stop-color="#592b09"/><stop offset="0.588" stop-color="#532a08"/><stop offset="0.647" stop-color="#4f2907"/><stop offset="0.706" stop-color="#4e2a07"/><stop offset="0.765" stop-color="#512d07"/><stop offset="0.824" stop-color="#563207"/><stop offset="0.882" stop-color="#5b3608"/><stop offset="0.941" stop-color="#603a08"/><stop offset="1.000" stop-color="#653e08"/></linearGradient><linearGradient id="g204"><stop offset="0.000" stop-color="#7f3d0e"/><stop offset="0.059" stop-color="#7d3b0d"/><stop offset="0.118" stop-color="#7b390d"/><stop offset="0.176" stop-color="#79370d"/><stop offset="0.235" stop-color="#76360c"/><stop offset="0.294" stop-color="#72340c"/><stop offset="0.353" stop-color="#6d320b"/><stop offset="0.412" stop-color="#68300a"/><stop offset="0.471" stop-color="#612e0a"/><stop offset="0.529" stop-color="#5a2c09"/><stop offset="0.588" stop-color="#552b08"/><stop offset="0.647" stop-color="#512b07"/><stop offset="0.706" stop-color="#502c07"/><stop offset="0.765" stop-color="#532e07"/><stop offset="0.824" stop-color="#573208"/><stop offset="0.882" stop-color="#5c3608"/><stop offset="0.941" stop-color="#613a08"/><stop offset="1.000" stop-color="#653d09"/></linearGradient><linearGradient id="g205"><stop offset="0.000" stop-color="#7e3d0d"/><stop offset="0.059" stop-color="#7d3b0d"/><stop offset="0.118" stop-color="#7b390d"/><stop offset="0.176" stop-color="#79380d"/><stop offset="0.235" stop-color="#76360c"/><stop offset="0.294" stop-color="#72350c"/><stop offset="0.353" stop-color="#6d320b"/><stop offset="0.412" stop-color="#68300a"/><stop offset="0.471" stop-color="#622e0a"/><stop offset="0.529" stop-color="#5b2d09"/><stop offset="0.588" stop-color="#572c08"/><stop offset="0.647" stop-color="#532c08"/><stop offset="0.706" stop-color="#522d07"/><stop offset="0.765" stop-color="#542f07"/><stop offset="0.824" stop-color="#583308"/><stop offset="0.882" stop-color="#5d3708"/><stop offset="0.941" stop-color="#613a08"/><stop offset="1.000" stop-color="#653d09"/></linearGradient></defs><g filter="url(#blv)"><rect x="14" y="1773" width="562" height="9" fill="url(#g138)"/><rect x="14" y="1781" width="562" height="9" fill="url(#g139)"/><rect x="14" y="1789" width="562" height="9" fill="url(#g140)"/><rect x="14" y="1797" width="562" height="9" fill="url(#g141)"/><rect x="14" y="1805" width="562" height="9" fill="url(#g142)"/><rect x="14" y="1813" width="562" height="9" fill="url(#g143)"/><rect x="14" y="1821" width="562" height="9" fill="url(#g144)"/><rect x="14" y="1829" width="562" height="9" fill="url(#g145)"/><rect x="14" y="1837" width="562" height="9" fill="url(#g146)"/><rect x="14" y="1845" width="562" height="9" fill="url(#g147)"/><rect x="14" y="1853" width="562" height="9" fill="url(#g148)"/><rect x="14" y="1861" width="562" height="9" fill="url(#g149)"/><rect x="14" y="1869" width="562" height="9" fill="url(#g150)"/><rect x="14" y="1877" width="562" height="9" fill="url(#g151)"/><rect x="14" y="1885" width="562" height="9" fill="url(#g152)"/><rect x="14" y="1893" width="562" height="9" fill="url(#g153)"/><rect x="14" y="1901" width="562" height="9" fill="url(#g154)"/><rect x="14" y="1909" width="562" height="9" fill="url(#g155)"/><rect x="14" y="1917" width="562" height="9" fill="url(#g156)"/><rect x="14" y="1925" width="562" height="9" fill="url(#g157)"/><rect x="14" y="1933" width="562" height="9" fill="url(#g158)"/><rect x="14" y="1941" width="562" height="9" fill="url(#g159)"/><rect x="14" y="1949" width="562" height="9" fill="url(#g160)"/><rect x="14" y="1957" width="562" height="9" fill="url(#g161)"/><rect x="14" y="1965" width="562" height="9" fill="url(#g162)"/><rect x="14" y="1973" width="562" height="9" fill="url(#g163)"/><rect x="14" y="1981" width="562" height="9" fill="url(#g164)"/><rect x="14" y="1989" width="562" height="9" fill="url(#g165)"/><rect x="14" y="1997" width="562" height="9" fill="url(#g166)"/><rect x="14" y="2005" width="562" height="9" fill="url(#g167)"/><rect x="14" y="2013" width="562" height="9" fill="url(#g168)"/><rect x="14" y="2021" width="562" height="9" fill="url(#g169)"/><rect x="14" y="2029" width="562" height="9" fill="url(#g170)"/><rect x="14" y="2037" width="562" height="9" fill="url(#g171)"/><rect x="14" y="2045" width="562" height="9" fill="url(#g172)"/><rect x="14" y="2053" width="562" height="9" fill="url(#g173)"/><rect x="14" y="2061" width="562" height="9" fill="url(#g174)"/><rect x="14" y="2069" width="562" height="9" fill="url(#g175)"/><rect x="14" y="2077" width="562" height="9" fill="url(#g176)"/><rect x="14" y="2085" width="562" height="9" fill="url(#g177)"/><rect x="14" y="2093" width="562" height="9" fill="url(#g178)"/><rect x="14" y="2101" width="562" height="9" fill="url(#g179)"/><rect x="14" y="2109" width="562" height="9" fill="url(#g180)"/><rect x="14" y="2117" width="562" height="9" fill="url(#g181)"/><rect x="14" y="2125" width="562" height="9" fill="url(#g182)"/><rect x="14" y="2133" width="562" height="9" fill="url(#g183)"/><rect x="14" y="2141" width="562" height="9" fill="url(#g184)"/><rect x="14" y="2149" width="562" height="9" fill="url(#g185)"/><rect x="14" y="2157" width="562" height="9" fill="url(#g186)"/><rect x="14" y="2165" width="562" height="9" fill="url(#g187)"/><rect x="14" y="2173" width="562" height="9" fill="url(#g188)"/><rect x="14" y="2181" width="562" height="9" fill="url(#g189)"/><rect x="14" y="2189" width="562" height="9" fill="url(#g190)"/><rect x="14" y="2197" width="562" height="9" fill="url(#g191)"/><rect x="14" y="2205" width="562" height="9" fill="url(#g192)"/><rect x="14" y="2213" width="562" height="9" fill="url(#g193)"/><rect x="14" y="2221" width="562" height="9" fill="url(#g194)"/><rect x="14" y="2229" width="562" height="9" fill="url(#g195)"/><rect x="14" y="2237" width="562" height="9" fill="url(#g196)"/><rect x="14" y="2245" width="562" height="9" fill="url(#g197)"/><rect x="14" y="2253" width="562" height="9" fill="url(#g198)"/><rect x="14" y="2261" width="562" height="9" fill="url(#g199)"/><rect x="14" y="2269" width="562" height="9" fill="url(#g200)"/><rect x="14" y="2277" width="562" height="9" fill="url(#g201)"/><rect x="14" y="2285" width="562" height="9" fill="url(#g202)"/><rect x="14" y="2293" width="562" height="9" fill="url(#g203)"/><rect x="14" y="2301" width="562" height="9" fill="url(#g204)"/><rect x="14" y="2309" width="562" height="9" fill="url(#g205)"/></g>
<circle cx="236" cy="1987" r="9" fill="#f0dcb8" filter="url(#bl2)" opacity="0.95"/>
<path d="M440,1870 Q525,1895 530,1990 Q528,2040 515,2060 Q490,2020 465,1975 Q445,1925 410,1880 Z" fill="#e8b40a" opacity="0.5" filter="url(#bl15)"/>
<g fill="#3a2806" opacity="0.45" filter="url(#bl1)"><ellipse cx="204" cy="1954" rx="2.2" ry="3.6" transform="rotate(35 204 1954)"/><ellipse cx="355" cy="1936" rx="1.8" ry="2.8" transform="rotate(-15 355 1936)"/><ellipse cx="303" cy="1892" rx="1.8" ry="3.6" transform="rotate(-55 303 1892)"/><ellipse cx="399" cy="1959" rx="2.4" ry="2.9" transform="rotate(-21 399 1959)"/><ellipse cx="282" cy="1897" rx="2.0" ry="3.4" transform="rotate(38 282 1897)"/><ellipse cx="194" cy="1978" rx="2.4" ry="4.0" transform="rotate(-2 194 1978)"/><ellipse cx="209" cy="1889" rx="1.8" ry="5.5" transform="rotate(-35 209 1889)"/><ellipse cx="393" cy="1974" rx="2.7" ry="4.8" transform="rotate(28 393 1974)"/><ellipse cx="194" cy="1933" rx="1.8" ry="6.0" transform="rotate(47 194 1933)"/><ellipse cx="261" cy="1922" rx="2.1" ry="6.3" transform="rotate(-14 261 1922)"/><ellipse cx="171" cy="1894" rx="3.1" ry="4.5" transform="rotate(-1 171 1894)"/><ellipse cx="423" cy="1972" rx="2.5" ry="3.4" transform="rotate(-40 423 1972)"/><ellipse cx="247" cy="1978" rx="2.4" ry="3.8" transform="rotate(-48 247 1978)"/><ellipse cx="180" cy="1966" rx="2.0" ry="5.2" transform="rotate(21 180 1966)"/><ellipse cx="376" cy="1981" rx="3.1" ry="6.2" transform="rotate(11 376 1981)"/><ellipse cx="373" cy="1934" rx="1.8" ry="5.9" transform="rotate(-41 373 1934)"/><ellipse cx="181" cy="1966" rx="2.2" ry="5.7" transform="rotate(-54 181 1966)"/><ellipse cx="226" cy="1914" rx="1.7" ry="3.0" transform="rotate(-19 226 1914)"/><ellipse cx="376" cy="1983" rx="2.2" ry="3.7" transform="rotate(55 376 1983)"/><ellipse cx="395" cy="1984" rx="2.8" ry="5.9" transform="rotate(12 395 1984)"/><ellipse cx="265" cy="1943" rx="2.0" ry="4.7" transform="rotate(-27 265 1943)"/><ellipse cx="346" cy="1886" rx="3.1" ry="2.9" transform="rotate(11 346 1886)"/><ellipse cx="316" cy="1970" rx="1.8" ry="4.2" transform="rotate(55 316 1970)"/><ellipse cx="387" cy="1951" rx="2.2" ry="3.3" transform="rotate(44 387 1951)"/><ellipse cx="319" cy="1898" rx="2.0" ry="4.5" transform="rotate(-34 319 1898)"/><ellipse cx="204" cy="1903" rx="2.7" ry="4.8" transform="rotate(-54 204 1903)"/><ellipse cx="332" cy="1972" rx="2.8" ry="2.8" transform="rotate(-4 332 1972)"/><ellipse cx="430" cy="1960" rx="2.6" ry="3.9" transform="rotate(-55 430 1960)"/><ellipse cx="256" cy="1916" rx="1.9" ry="4.5" transform="rotate(6 256 1916)"/><ellipse cx="388" cy="1895" rx="2.3" ry="5.4" transform="rotate(56 388 1895)"/><ellipse cx="238" cy="1955" rx="2.4" ry="3.0" transform="rotate(38 238 1955)"/><ellipse cx="395" cy="1921" rx="3.1" ry="3.1" transform="rotate(-51 395 1921)"/><ellipse cx="182" cy="1966" rx="2.2" ry="5.0" transform="rotate(-58 182 1966)"/><ellipse cx="316" cy="1929" rx="2.1" ry="4.2" transform="rotate(-33 316 1929)"/><ellipse cx="429" cy="1983" rx="2.7" ry="4.4" transform="rotate(-32 429 1983)"/><ellipse cx="256" cy="1934" rx="3.1" ry="3.1" transform="rotate(-2 256 1934)"/><ellipse cx="281" cy="1957" rx="2.7" ry="5.0" transform="rotate(31 281 1957)"/><ellipse cx="322" cy="1971" rx="2.6" ry="3.6" transform="rotate(50 322 1971)"/><ellipse cx="256" cy="1946" rx="3.1" ry="6.2" transform="rotate(-59 256 1946)"/><ellipse cx="238" cy="1916" rx="1.7" ry="4.8" transform="rotate(-50 238 1916)"/><ellipse cx="236" cy="1979" rx="2.2" ry="3.1" transform="rotate(55 236 1979)"/><ellipse cx="330" cy="1906" rx="2.5" ry="5.2" transform="rotate(-29 330 1906)"/><ellipse cx="389" cy="1917" rx="2.9" ry="3.4" transform="rotate(22 389 1917)"/><ellipse cx="212" cy="1945" rx="2.0" ry="6.1" transform="rotate(-4 212 1945)"/><ellipse cx="268" cy="1947" rx="1.7" ry="4.1" transform="rotate(-27 268 1947)"/><ellipse cx="437" cy="1987" rx="2.7" ry="2.9" transform="rotate(0 437 1987)"/></g>
<path d="M540,2070 Q480,2080 430,2120 Q380,2170 370,2250 L560,2250 Z" fill="#000" opacity="0.72" filter="url(#bl15)"/>
<ellipse cx="250" cy="2040" rx="110" ry="70" fill="#b8401a" opacity="0.25" filter="url(#bl15)"/>
<g fill="none" stroke="#5e1404" stroke-width="1.5" opacity="0.45"><path d="M57,2085 Q100,2105 130,2115 Q200,2135 260,2160 Q320,2185 370,2215"/><path d="M130,2115 Q160,2160 195,2200 Q220,2225 235,2240"/><path d="M120,2110 Q180,2085 230,2070 Q280,2060 330,2050"/><path d="M200,2150 Q230,2200 240,2240"/></g>
</g>
<path d="M502.8,2148.6 C505.8,2154.6 510.1,2156.1 511.6,2165.1 C512.1,2171.1 510.6,2174.1 507.6,2174.6 L490.0,2176.6 Q487.0,2177.1 486.0,2178.1 A241.2,241.2 0 1 1 502.8,2148.6 Z" fill="none" stroke="#0e8a0e" stroke-width="1.3" opacity="0.8"/>
</g>
<g clip-path="url(#cp5)">
<clipPath id="fp5"><path d="M969.3,2147.9 C972.3,2153.9 977.2,2155.4 978.7,2164.4 C979.2,2170.4 977.7,2173.4 974.7,2173.9 L956.5,2175.9 Q953.5,2176.4 952.5,2177.4 A240.7,240.7 0 1 1 969.3,2147.9 Z"/></clipPath>
<g clip-path="url(#fp5)">
<defs><linearGradient id="g206"><stop offset="0.000" stop-color="#a67625"/><stop offset="0.059" stop-color="#a67625"/><stop offset="0.118" stop-color="#a57625"/><stop offset="0.176" stop-color="#a57625"/><stop offset="0.235" stop-color="#a57625"/><stop offset="0.294" stop-color="#a67725"/><stop offset="0.353" stop-color="#a77826"/><stop offset="0.412" stop-color="#a87926"/><stop offset="0.471" stop-color="#a77926"/><stop offset="0.529" stop-color="#a77925"/><stop offset="0.588" stop-color="#a67925"/><stop offset="0.647" stop-color="#a47825"/><stop offset="0.706" stop-color="#a37824"/><stop offset="0.765" stop-color="#a27724"/><stop offset="0.824" stop-color="#a17723"/><stop offset="0.882" stop-color="#a17623"/><stop offset="0.941" stop-color="#a17623"/><stop offset="1.000" stop-color="#a17523"/></linearGradient><linearGradient id="g207"><stop offset="0.000" stop-color="#a67625"/><stop offset="0.059" stop-color="#a57625"/><stop offset="0.118" stop-color="#a57625"/><stop offset="0.176" stop-color="#a47625"/><stop offset="0.235" stop-color="#a57625"/><stop offset="0.294" stop-color="#a67725"/><stop offset="0.353" stop-color="#a77826"/><stop offset="0.412" stop-color="#a87926"/><stop offset="0.471" stop-color="#a87926"/><stop offset="0.529" stop-color="#a77925"/><stop offset="0.588" stop-color="#a67925"/><stop offset="0.647" stop-color="#a47825"/><stop offset="0.706" stop-color="#a37824"/><stop offset="0.765" stop-color="#a27724"/><stop offset="0.824" stop-color="#a17723"/><stop offset="0.882" stop-color="#a17623"/><stop offset="0.941" stop-color="#a17623"/><stop offset="1.000" stop-color="#a17523"/></linearGradient><linearGradient id="g208"><stop offset="0.000" stop-color="#a67625"/><stop offset="0.059" stop-color="#a57625"/><stop offset="0.118" stop-color="#a47625"/><stop offset="0.176" stop-color="#a47625"/><stop offset="0.235" stop-color="#a57625"/><stop offset="0.294" stop-color="#a67725"/><stop offset="0.353" stop-color="#a77826"/><stop offset="0.412" stop-color="#a87926"/><stop offset="0.471" stop-color="#a87a26"/><stop offset="0.529" stop-color="#a77926"/><stop offset="0.588" stop-color="#a67925"/><stop offset="0.647" stop-color="#a47825"/><stop offset="0.706" stop-color="#a27824"/><stop offset="0.765" stop-color="#a17724"/><stop offset="0.824" stop-color="#a17723"/><stop offset="0.882" stop-color="#a07623"/><stop offset="0.941" stop-color="#a07623"/><stop offset="1.000" stop-color="#a07523"/></linearGradient><linearGradient id="g209"><stop offset="0.000" stop-color="#a67625"/><stop offset="0.059" stop-color="#a57625"/><stop offset="0.118" stop-color="#a47525"/><stop offset="0.176" stop-color="#a47525"/><stop offset="0.235" stop-color="#a47625"/><stop offset="0.294" stop-color="#a67725"/><stop offset="0.353" stop-color="#a77826"/><stop offset="0.412" stop-color="#a87926"/><stop offset="0.471" stop-color="#a87a26"/><stop offset="0.529" stop-color="#a77a26"/><stop offset="0.588" stop-color="#a67925"/><stop offset="0.647" stop-color="#a47825"/><stop offset="0.706" stop-color="#a27824"/><stop offset="0.765" stop-color="#a17724"/><stop offset="0.824" stop-color="#a07723"/><stop offset="0.882" stop-color="#a07623"/><stop offset="0.941" stop-color="#a07523"/><stop offset="1.000" stop-color="#a07523"/></linearGradient><linearGradient id="g210"><stop offset="0.000" stop-color="#a67625"/><stop offset="0.059" stop-color="#a57625"/><stop offset="0.118" stop-color="#a47525"/><stop offset="0.176" stop-color="#a37525"/><stop offset="0.235" stop-color="#a47625"/><stop offset="0.294" stop-color="#a67725"/><stop offset="0.353" stop-color="#a77926"/><stop offset="0.412" stop-color="#a87a26"/><stop offset="0.471" stop-color="#a87a26"/><stop offset="0.529" stop-color="#a77a26"/><stop offset="0.588" stop-color="#a67925"/><stop offset="0.647" stop-color="#a37925"/><stop offset="0.706" stop-color="#a17824"/><stop offset="0.765" stop-color="#a07724"/><stop offset="0.824" stop-color="#a07723"/><stop offset="0.882" stop-color="#a07623"/><stop offset="0.941" stop-color="#a07523"/><stop offset="1.000" stop-color="#a07523"/></linearGradient><linearGradient id="g211"><stop offset="0.000" stop-color="#a67625"/><stop offset="0.059" stop-color="#a47525"/><stop offset="0.118" stop-color="#a37525"/><stop offset="0.176" stop-color="#a27525"/><stop offset="0.235" stop-color="#a37525"/><stop offset="0.294" stop-color="#a57725"/><stop offset="0.353" stop-color="#a77926"/><stop offset="0.412" stop-color="#a87a26"/><stop offset="0.471" stop-color="#a87a26"/><stop offset="0.529" stop-color="#a77a26"/><stop offset="0.588" stop-color="#a67925"/><stop offset="0.647" stop-color="#a37925"/><stop offset="0.706" stop-color="#a17824"/><stop offset="0.765" stop-color="#a07724"/><stop offset="0.824" stop-color="#9f7723"/><stop offset="0.882" stop-color="#9f7623"/><stop offset="0.941" stop-color="#9f7523"/><stop offset="1.000" stop-color="#9f7523"/></linearGradient><linearGradient id="g212"><stop offset="0.000" stop-color="#a57625"/><stop offset="0.059" stop-color="#a47525"/><stop offset="0.118" stop-color="#a37525"/><stop offset="0.176" stop-color="#a27425"/><stop offset="0.235" stop-color="#a37525"/><stop offset="0.294" stop-color="#a57725"/><stop offset="0.353" stop-color="#a77926"/><stop offset="0.412" stop-color="#a87a26"/><stop offset="0.471" stop-color="#a87a26"/><stop offset="0.529" stop-color="#a77a26"/><stop offset="0.588" stop-color="#a67925"/><stop offset="0.647" stop-color="#a37924"/><stop offset="0.706" stop-color="#a07824"/><stop offset="0.765" stop-color="#9f7724"/><stop offset="0.824" stop-color="#9f7723"/><stop offset="0.882" stop-color="#9f7623"/><stop offset="0.941" stop-color="#9f7523"/><stop offset="1.000" stop-color="#9f7523"/></linearGradient><linearGradient id="g213"><stop offset="0.000" stop-color="#a57625"/><stop offset="0.059" stop-color="#a47525"/><stop offset="0.118" stop-color="#a27525"/><stop offset="0.176" stop-color="#a17425"/><stop offset="0.235" stop-color="#a27525"/><stop offset="0.294" stop-color="#a57725"/><stop offset="0.353" stop-color="#a77926"/><stop offset="0.412" stop-color="#a87a26"/><stop offset="0.471" stop-color="#a87b26"/><stop offset="0.529" stop-color="#a77a26"/><stop offset="0.588" stop-color="#a67a25"/><stop offset="0.647" stop-color="#a37924"/><stop offset="0.706" stop-color="#a07824"/><stop offset="0.765" stop-color="#9f7724"/><stop offset="0.824" stop-color="#9f7723"/><stop offset="0.882" stop-color="#9e7623"/><stop offset="0.941" stop-color="#9e7523"/><stop offset="1.000" stop-color="#9f7522"/></linearGradient><linearGradient id="g214"><stop offset="0.000" stop-color="#a57625"/><stop offset="0.059" stop-color="#a47525"/><stop offset="0.118" stop-color="#a27425"/><stop offset="0.176" stop-color="#a17425"/><stop offset="0.235" stop-color="#a27425"/><stop offset="0.294" stop-color="#a57725"/><stop offset="0.353" stop-color="#a77926"/><stop offset="0.412" stop-color="#a87a26"/><stop offset="0.471" stop-color="#a87b27"/><stop offset="0.529" stop-color="#a77b26"/><stop offset="0.588" stop-color="#a67a25"/><stop offset="0.647" stop-color="#a27924"/><stop offset="0.706" stop-color="#9f7824"/><stop offset="0.765" stop-color="#9e7723"/><stop offset="0.824" stop-color="#9e7623"/><stop offset="0.882" stop-color="#9e7623"/><stop offset="0.941" stop-color="#9e7523"/><stop offset="1.000" stop-color="#9e7422"/></linearGradient><linearGradient id="g215"><stop offset="0.000" stop-color="#a57625"/><stop offset="0.059" stop-color="#a47525"/><stop offset="0.118" stop-color="#a27425"/><stop offset="0.176" stop-color="#a07325"/><stop offset="0.235" stop-color="#a17425"/><stop offset="0.294" stop-color="#a57725"/><stop offset="0.353" stop-color="#a87926"/><stop offset="0.412" stop-color="#a87b27"/><stop offset="0.471" stop-color="#a87b27"/><stop offset="0.529" stop-color="#a87b26"/><stop offset="0.588" stop-color="#a67a25"/><stop offset="0.647" stop-color="#a27924"/><stop offset="0.706" stop-color="#9f7824"/><stop offset="0.765" stop-color="#9e7723"/><stop offset="0.824" stop-color="#9e7623"/><stop offset="0.882" stop-color="#9e7523"/><stop offset="0.941" stop-color="#9e7522"/><stop offset="1.000" stop-color="#9e7422"/></linearGradient><linearGradient id="g216"><stop offset="0.000" stop-color="#a57625"/><stop offset="0.059" stop-color="#a37525"/><stop offset="0.118" stop-color="#a17425"/><stop offset="0.176" stop-color="#9f7324"/><stop offset="0.235" stop-color="#a17425"/><stop offset="0.294" stop-color="#a57725"/><stop offset="0.353" stop-color="#a87926"/><stop offset="0.412" stop-color="#a87b27"/><stop offset="0.471" stop-color="#a87b27"/><stop offset="0.529" stop-color="#a87b26"/><stop offset="0.588" stop-color="#a67a25"/><stop offset="0.647" stop-color="#a27924"/><stop offset="0.706" stop-color="#9e7824"/><stop offset="0.765" stop-color="#9d7723"/><stop offset="0.824" stop-color="#9d7623"/><stop offset="0.882" stop-color="#9d7523"/><stop offset="0.941" stop-color="#9d7522"/><stop offset="1.000" stop-color="#9d7422"/></linearGradient><linearGradient id="g217"><stop offset="0.000" stop-color="#a57625"/><stop offset="0.059" stop-color="#a37525"/><stop offset="0.118" stop-color="#a17425"/><stop offset="0.176" stop-color="#9f7324"/><stop offset="0.235" stop-color="#a07425"/><stop offset="0.294" stop-color="#a57725"/><stop offset="0.353" stop-color="#a87926"/><stop offset="0.412" stop-color="#a97b27"/><stop offset="0.471" stop-color="#a87c27"/><stop offset="0.529" stop-color="#a87b26"/><stop offset="0.588" stop-color="#a67a25"/><stop offset="0.647" stop-color="#a27924"/><stop offset="0.706" stop-color="#9e7824"/><stop offset="0.765" stop-color="#9d7723"/><stop offset="0.824" stop-color="#9d7623"/><stop offset="0.882" stop-color="#9d7523"/><stop offset="0.941" stop-color="#9d7422"/><stop offset="1.000" stop-color="#9d7422"/></linearGradient><linearGradient id="g218"><stop offset="0.000" stop-color="#a57625"/><stop offset="0.059" stop-color="#a37525"/><stop offset="0.118" stop-color="#a17425"/><stop offset="0.176" stop-color="#9f7324"/><stop offset="0.235" stop-color="#a07425"/><stop offset="0.294" stop-color="#a57726"/><stop offset="0.353" stop-color="#a87926"/><stop offset="0.412" stop-color="#a97b27"/><stop offset="0.471" stop-color="#a87c27"/><stop offset="0.529" stop-color="#a87b26"/><stop offset="0.588" stop-color="#a67a25"/><stop offset="0.647" stop-color="#a27924"/><stop offset="0.706" stop-color="#9e7824"/><stop offset="0.765" stop-color="#9c7723"/><stop offset="0.824" stop-color="#9d7623"/><stop offset="0.882" stop-color="#9c7523"/><stop offset="0.941" stop-color="#9c7422"/><stop offset="1.000" stop-color="#9c7422"/></linearGradient><linearGradient id="g219"><stop offset="0.000" stop-color="#a57625"/><stop offset="0.059" stop-color="#a37525"/><stop offset="0.118" stop-color="#a17425"/><stop offset="0.176" stop-color="#9f7324"/><stop offset="0.235" stop-color="#a17425"/><stop offset="0.294" stop-color="#a67726"/><stop offset="0.353" stop-color="#a97a26"/><stop offset="0.412" stop-color="#a97b27"/><stop offset="0.471" stop-color="#a97c27"/><stop offset="0.529" stop-color="#a97b26"/><stop offset="0.588" stop-color="#a77a26"/><stop offset="0.647" stop-color="#a27924"/><stop offset="0.706" stop-color="#9e7824"/><stop offset="0.765" stop-color="#9c7723"/><stop offset="0.824" stop-color="#9c7623"/><stop offset="0.882" stop-color="#9c7522"/><stop offset="0.941" stop-color="#9b7422"/><stop offset="1.000" stop-color="#9c7322"/></linearGradient><linearGradient id="g220"><stop offset="0.000" stop-color="#a57625"/><stop offset="0.059" stop-color="#a37525"/><stop offset="0.118" stop-color="#a17425"/><stop offset="0.176" stop-color="#a07325"/><stop offset="0.235" stop-color="#a17425"/><stop offset="0.294" stop-color="#a67726"/><stop offset="0.353" stop-color="#aa7a26"/><stop offset="0.412" stop-color="#aa7b27"/><stop offset="0.471" stop-color="#a97c27"/><stop offset="0.529" stop-color="#a97b27"/><stop offset="0.588" stop-color="#a77a26"/><stop offset="0.647" stop-color="#a37924"/><stop offset="0.706" stop-color="#9e7824"/><stop offset="0.765" stop-color="#9c7723"/><stop offset="0.824" stop-color="#9c7623"/><stop offset="0.882" stop-color="#9b7422"/><stop offset="0.941" stop-color="#9b7422"/><stop offset="1.000" stop-color="#9b7322"/></linearGradient><linearGradient id="g221"><stop offset="0.000" stop-color="#a57625"/><stop offset="0.059" stop-color="#a37525"/><stop offset="0.118" stop-color="#a27525"/><stop offset="0.176" stop-color="#a07425"/><stop offset="0.235" stop-color="#a27525"/><stop offset="0.294" stop-color="#a77826"/><stop offset="0.353" stop-color="#aa7a27"/><stop offset="0.412" stop-color="#ab7c27"/><stop offset="0.471" stop-color="#aa7c27"/><stop offset="0.529" stop-color="#aa7c27"/><stop offset="0.588" stop-color="#a87a26"/><stop offset="0.647" stop-color="#a37925"/><stop offset="0.706" stop-color="#9e7824"/><stop offset="0.765" stop-color="#9c7723"/><stop offset="0.824" stop-color="#9b7523"/><stop offset="0.882" stop-color="#9a7422"/><stop offset="0.941" stop-color="#9a7322"/><stop offset="1.000" stop-color="#9b7322"/></linearGradient><linearGradient id="g222"><stop offset="0.000" stop-color="#a47625"/><stop offset="0.059" stop-color="#a37525"/><stop offset="0.118" stop-color="#a27525"/><stop offset="0.176" stop-color="#a17425"/><stop offset="0.235" stop-color="#a37525"/><stop offset="0.294" stop-color="#a87826"/><stop offset="0.353" stop-color="#ab7a27"/><stop offset="0.412" stop-color="#ab7c27"/><stop offset="0.471" stop-color="#ab7c27"/><stop offset="0.529" stop-color="#ab7c27"/><stop offset="0.588" stop-color="#a87b26"/><stop offset="0.647" stop-color="#a47925"/><stop offset="0.706" stop-color="#9f7824"/><stop offset="0.765" stop-color="#9d7723"/><stop offset="0.824" stop-color="#9b7523"/><stop offset="0.882" stop-color="#997422"/><stop offset="0.941" stop-color="#997322"/><stop offset="1.000" stop-color="#9a7322"/></linearGradient><linearGradient id="g223"><stop offset="0.000" stop-color="#a47625"/><stop offset="0.059" stop-color="#a37525"/><stop offset="0.118" stop-color="#a27525"/><stop offset="0.176" stop-color="#a27525"/><stop offset="0.235" stop-color="#a57625"/><stop offset="0.294" stop-color="#a97926"/><stop offset="0.353" stop-color="#ac7b27"/><stop offset="0.412" stop-color="#ad7c27"/><stop offset="0.471" stop-color="#ac7c27"/><stop offset="0.529" stop-color="#ac7c27"/><stop offset="0.588" stop-color="#a97b26"/><stop offset="0.647" stop-color="#a57925"/><stop offset="0.706" stop-color="#a07824"/><stop offset="0.765" stop-color="#9d7723"/><stop offset="0.824" stop-color="#9a7522"/><stop offset="0.882" stop-color="#987322"/><stop offset="0.941" stop-color="#987322"/><stop offset="1.000" stop-color="#997221"/></linearGradient><linearGradient id="g224"><stop offset="0.000" stop-color="#a47625"/><stop offset="0.059" stop-color="#a37625"/><stop offset="0.118" stop-color="#a37525"/><stop offset="0.176" stop-color="#a37625"/><stop offset="0.235" stop-color="#a67726"/><stop offset="0.294" stop-color="#aa7926"/><stop offset="0.353" stop-color="#ad7b27"/><stop offset="0.412" stop-color="#ae7c27"/><stop offset="0.471" stop-color="#ad7d27"/><stop offset="0.529" stop-color="#ad7c27"/><stop offset="0.588" stop-color="#aa7b26"/><stop offset="0.647" stop-color="#a57a25"/><stop offset="0.706" stop-color="#a17824"/><stop offset="0.765" stop-color="#9d7723"/><stop offset="0.824" stop-color="#9a7422"/><stop offset="0.882" stop-color="#977322"/><stop offset="0.941" stop-color="#977221"/><stop offset="1.000" stop-color="#997221"/></linearGradient><linearGradient id="g225"><stop offset="0.000" stop-color="#a47625"/><stop offset="0.059" stop-color="#a37626"/><stop offset="0.118" stop-color="#a37626"/><stop offset="0.176" stop-color="#a47626"/><stop offset="0.235" stop-color="#a77826"/><stop offset="0.294" stop-color="#ab7a27"/><stop offset="0.353" stop-color="#ae7c27"/><stop offset="0.412" stop-color="#af7d27"/><stop offset="0.471" stop-color="#af7d27"/><stop offset="0.529" stop-color="#ae7c27"/><stop offset="0.588" stop-color="#ab7b26"/><stop offset="0.647" stop-color="#a67a25"/><stop offset="0.706" stop-color="#a27824"/><stop offset="0.765" stop-color="#9d7623"/><stop offset="0.824" stop-color="#997422"/><stop offset="0.882" stop-color="#967221"/><stop offset="0.941" stop-color="#967221"/><stop offset="1.000" stop-color="#987221"/></linearGradient><linearGradient id="g226"><stop offset="0.000" stop-color="#a47626"/><stop offset="0.059" stop-color="#a27626"/><stop offset="0.118" stop-color="#a37626"/><stop offset="0.176" stop-color="#a57726"/><stop offset="0.235" stop-color="#a97826"/><stop offset="0.294" stop-color="#ad7b27"/><stop offset="0.353" stop-color="#af7c27"/><stop offset="0.412" stop-color="#b07d27"/><stop offset="0.471" stop-color="#b07d28"/><stop offset="0.529" stop-color="#af7d27"/><stop offset="0.588" stop-color="#ac7b26"/><stop offset="0.647" stop-color="#a77a25"/><stop offset="0.706" stop-color="#a37824"/><stop offset="0.765" stop-color="#9e7623"/><stop offset="0.824" stop-color="#987322"/><stop offset="0.882" stop-color="#957221"/><stop offset="0.941" stop-color="#957121"/><stop offset="1.000" stop-color="#987221"/></linearGradient><linearGradient id="g227"><stop offset="0.000" stop-color="#a47626"/><stop offset="0.059" stop-color="#a27626"/><stop offset="0.118" stop-color="#a27626"/><stop offset="0.176" stop-color="#a57726"/><stop offset="0.235" stop-color="#aa7927"/><stop offset="0.294" stop-color="#ae7b27"/><stop offset="0.353" stop-color="#b07c27"/><stop offset="0.412" stop-color="#b17d28"/><stop offset="0.471" stop-color="#b27e28"/><stop offset="0.529" stop-color="#b07d27"/><stop offset="0.588" stop-color="#ac7c26"/><stop offset="0.647" stop-color="#a87a25"/><stop offset="0.706" stop-color="#a37924"/><stop offset="0.765" stop-color="#9e7623"/><stop offset="0.824" stop-color="#977322"/><stop offset="0.882" stop-color="#937121"/><stop offset="0.941" stop-color="#947121"/><stop offset="1.000" stop-color="#977121"/></linearGradient><linearGradient id="g228"><stop offset="0.000" stop-color="#a37626"/><stop offset="0.059" stop-color="#a27526"/><stop offset="0.118" stop-color="#a27626"/><stop offset="0.176" stop-color="#a67726"/><stop offset="0.235" stop-color="#ab7a27"/><stop offset="0.294" stop-color="#af7c27"/><stop offset="0.353" stop-color="#b17d28"/><stop offset="0.412" stop-color="#b27e28"/><stop offset="0.471" stop-color="#b37f28"/><stop offset="0.529" stop-color="#b17e27"/><stop offset="0.588" stop-color="#ad7c26"/><stop offset="0.647" stop-color="#a97b25"/><stop offset="0.706" stop-color="#a47924"/><stop offset="0.765" stop-color="#9d7623"/><stop offset="0.824" stop-color="#967221"/><stop offset="0.882" stop-color="#927021"/><stop offset="0.941" stop-color="#937021"/><stop offset="1.000" stop-color="#967121"/></linearGradient><linearGradient id="g229"><stop offset="0.000" stop-color="#a37626"/><stop offset="0.059" stop-color="#a17526"/><stop offset="0.118" stop-color="#a27626"/><stop offset="0.176" stop-color="#a67826"/><stop offset="0.235" stop-color="#ac7a27"/><stop offset="0.294" stop-color="#b07c28"/><stop offset="0.353" stop-color="#b27d28"/><stop offset="0.412" stop-color="#b47e28"/><stop offset="0.471" stop-color="#b57f28"/><stop offset="0.529" stop-color="#b37e28"/><stop offset="0.588" stop-color="#ae7c26"/><stop offset="0.647" stop-color="#aa7b25"/><stop offset="0.706" stop-color="#a57924"/><stop offset="0.765" stop-color="#9d7623"/><stop offset="0.824" stop-color="#957221"/><stop offset="0.882" stop-color="#907020"/><stop offset="0.941" stop-color="#927021"/><stop offset="1.000" stop-color="#967121"/></linearGradient><linearGradient id="g230"><stop offset="0.000" stop-color="#a37626"/><stop offset="0.059" stop-color="#a17526"/><stop offset="0.118" stop-color="#a17626"/><stop offset="0.176" stop-color="#a67826"/><stop offset="0.235" stop-color="#ad7b27"/><stop offset="0.294" stop-color="#b17d28"/><stop offset="0.353" stop-color="#b27d28"/><stop offset="0.412" stop-color="#b57e28"/><stop offset="0.471" stop-color="#b68029"/><stop offset="0.529" stop-color="#b47e28"/><stop offset="0.588" stop-color="#af7c26"/><stop offset="0.647" stop-color="#aa7b25"/><stop offset="0.706" stop-color="#a57924"/><stop offset="0.765" stop-color="#9d7523"/><stop offset="0.824" stop-color="#947121"/><stop offset="0.882" stop-color="#8f6f20"/><stop offset="0.941" stop-color="#917020"/><stop offset="1.000" stop-color="#957121"/></linearGradient><linearGradient id="g231"><stop offset="0.000" stop-color="#a37626"/><stop offset="0.059" stop-color="#a17526"/><stop offset="0.118" stop-color="#a17626"/><stop offset="0.176" stop-color="#a77826"/><stop offset="0.235" stop-color="#ad7b27"/><stop offset="0.294" stop-color="#b17d28"/><stop offset="0.353" stop-color="#b37e28"/><stop offset="0.412" stop-color="#b57f28"/><stop offset="0.471" stop-color="#b78029"/><stop offset="0.529" stop-color="#b57f28"/><stop offset="0.588" stop-color="#af7c26"/><stop offset="0.647" stop-color="#ab7b26"/><stop offset="0.706" stop-color="#a67924"/><stop offset="0.765" stop-color="#9d7523"/><stop offset="0.824" stop-color="#937121"/><stop offset="0.882" stop-color="#8e6f20"/><stop offset="0.941" stop-color="#916f20"/><stop offset="1.000" stop-color="#957021"/></linearGradient><linearGradient id="g232"><stop offset="0.000" stop-color="#a37626"/><stop offset="0.059" stop-color="#a17526"/><stop offset="0.118" stop-color="#a17626"/><stop offset="0.176" stop-color="#a77827"/><stop offset="0.235" stop-color="#ae7b27"/><stop offset="0.294" stop-color="#b27e28"/><stop offset="0.353" stop-color="#b47e28"/><stop offset="0.412" stop-color="#b67f28"/><stop offset="0.471" stop-color="#b88029"/><stop offset="0.529" stop-color="#b57f28"/><stop offset="0.588" stop-color="#b07c26"/><stop offset="0.647" stop-color="#ab7b26"/><stop offset="0.706" stop-color="#a67924"/><stop offset="0.765" stop-color="#9d7522"/><stop offset="0.824" stop-color="#937121"/><stop offset="0.882" stop-color="#8d6f20"/><stop offset="0.941" stop-color="#906f20"/><stop offset="1.000" stop-color="#957020"/></linearGradient><linearGradient id="g233"><stop offset="0.000" stop-color="#a37626"/><stop offset="0.059" stop-color="#a17526"/><stop offset="0.118" stop-color="#a17626"/><stop offset="0.176" stop-color="#a87827"/><stop offset="0.235" stop-color="#af7c27"/><stop offset="0.294" stop-color="#b27e28"/><stop offset="0.353" stop-color="#b57e28"/><stop offset="0.412" stop-color="#b77f28"/><stop offset="0.471" stop-color="#b98029"/><stop offset="0.529" stop-color="#b67f28"/><stop offset="0.588" stop-color="#b07c26"/><stop offset="0.647" stop-color="#ac7b25"/><stop offset="0.706" stop-color="#a67924"/><stop offset="0.765" stop-color="#9d7522"/><stop offset="0.824" stop-color="#937121"/><stop offset="0.882" stop-color="#8d6f20"/><stop offset="0.941" stop-color="#906f20"/><stop offset="1.000" stop-color="#957020"/></linearGradient><linearGradient id="g234"><stop offset="0.000" stop-color="#a47626"/><stop offset="0.059" stop-color="#a17526"/><stop offset="0.118" stop-color="#a27626"/><stop offset="0.176" stop-color="#a87927"/><stop offset="0.235" stop-color="#af7c27"/><stop offset="0.294" stop-color="#b37e28"/><stop offset="0.353" stop-color="#b57e28"/><stop offset="0.412" stop-color="#b87f28"/><stop offset="0.471" stop-color="#b98029"/><stop offset="0.529" stop-color="#b67f28"/><stop offset="0.588" stop-color="#b17c26"/><stop offset="0.647" stop-color="#ac7b25"/><stop offset="0.706" stop-color="#a67924"/><stop offset="0.765" stop-color="#9d7522"/><stop offset="0.824" stop-color="#937121"/><stop offset="0.882" stop-color="#8e6f20"/><stop offset="0.941" stop-color="#916f20"/><stop offset="1.000" stop-color="#957020"/></linearGradient><linearGradient id="g235"><stop offset="0.000" stop-color="#a47626"/><stop offset="0.059" stop-color="#a27626"/><stop offset="0.118" stop-color="#a37626"/><stop offset="0.176" stop-color="#a97927"/><stop offset="0.235" stop-color="#af7c27"/><stop offset="0.294" stop-color="#b37e28"/><stop offset="0.353" stop-color="#b67e28"/><stop offset="0.412" stop-color="#b87f28"/><stop offset="0.471" stop-color="#b98028"/><stop offset="0.529" stop-color="#b77e28"/><stop offset="0.588" stop-color="#b17c26"/><stop offset="0.647" stop-color="#ac7b25"/><stop offset="0.706" stop-color="#a67824"/><stop offset="0.765" stop-color="#9c7522"/><stop offset="0.824" stop-color="#947121"/><stop offset="0.882" stop-color="#8f6f20"/><stop offset="0.941" stop-color="#916f20"/><stop offset="1.000" stop-color="#957020"/></linearGradient><linearGradient id="g236"><stop offset="0.000" stop-color="#a47626"/><stop offset="0.059" stop-color="#a37626"/><stop offset="0.118" stop-color="#a47726"/><stop offset="0.176" stop-color="#aa7927"/><stop offset="0.235" stop-color="#b07c27"/><stop offset="0.294" stop-color="#b47d28"/><stop offset="0.353" stop-color="#b77e28"/><stop offset="0.412" stop-color="#b97f28"/><stop offset="0.471" stop-color="#b97f28"/><stop offset="0.529" stop-color="#b77e27"/><stop offset="0.588" stop-color="#b27c26"/><stop offset="0.647" stop-color="#ac7a25"/><stop offset="0.706" stop-color="#a67824"/><stop offset="0.765" stop-color="#9c7422"/><stop offset="0.824" stop-color="#947120"/><stop offset="0.882" stop-color="#906f20"/><stop offset="0.941" stop-color="#916f20"/><stop offset="1.000" stop-color="#957020"/></linearGradient><linearGradient id="g237"><stop offset="0.000" stop-color="#a57626"/><stop offset="0.059" stop-color="#a47626"/><stop offset="0.118" stop-color="#a57726"/><stop offset="0.176" stop-color="#ab7927"/><stop offset="0.235" stop-color="#b07c27"/><stop offset="0.294" stop-color="#b47d28"/><stop offset="0.353" stop-color="#b87e28"/><stop offset="0.412" stop-color="#ba7f28"/><stop offset="0.471" stop-color="#ba7f28"/><stop offset="0.529" stop-color="#b77e27"/><stop offset="0.588" stop-color="#b37c26"/><stop offset="0.647" stop-color="#ad7a25"/><stop offset="0.706" stop-color="#a67823"/><stop offset="0.765" stop-color="#9c7422"/><stop offset="0.824" stop-color="#957120"/><stop offset="0.882" stop-color="#916f20"/><stop offset="0.941" stop-color="#926f20"/><stop offset="1.000" stop-color="#957020"/></linearGradient><linearGradient id="g238"><stop offset="0.000" stop-color="#a57625"/><stop offset="0.059" stop-color="#a47626"/><stop offset="0.118" stop-color="#a67726"/><stop offset="0.176" stop-color="#ac7a27"/><stop offset="0.235" stop-color="#b17c27"/><stop offset="0.294" stop-color="#b57d28"/><stop offset="0.353" stop-color="#b97e28"/><stop offset="0.412" stop-color="#ba7f28"/><stop offset="0.471" stop-color="#ba7f28"/><stop offset="0.529" stop-color="#b87d27"/><stop offset="0.588" stop-color="#b37c26"/><stop offset="0.647" stop-color="#ae7a24"/><stop offset="0.706" stop-color="#a67723"/><stop offset="0.765" stop-color="#9c7421"/><stop offset="0.824" stop-color="#957120"/><stop offset="0.882" stop-color="#916f20"/><stop offset="0.941" stop-color="#926f20"/><stop offset="1.000" stop-color="#957020"/></linearGradient><linearGradient id="g239"><stop offset="0.000" stop-color="#a57625"/><stop offset="0.059" stop-color="#a57626"/><stop offset="0.118" stop-color="#a77726"/><stop offset="0.176" stop-color="#ad7a27"/><stop offset="0.235" stop-color="#b17c27"/><stop offset="0.294" stop-color="#b67d28"/><stop offset="0.353" stop-color="#ba7e28"/><stop offset="0.412" stop-color="#bc7f28"/><stop offset="0.471" stop-color="#bb7e27"/><stop offset="0.529" stop-color="#b87d26"/><stop offset="0.588" stop-color="#b47b25"/><stop offset="0.647" stop-color="#ae7a24"/><stop offset="0.706" stop-color="#a67723"/><stop offset="0.765" stop-color="#9c7421"/><stop offset="0.824" stop-color="#967120"/><stop offset="0.882" stop-color="#926f20"/><stop offset="0.941" stop-color="#926f1f"/><stop offset="1.000" stop-color="#956f20"/></linearGradient><linearGradient id="g240"><stop offset="0.000" stop-color="#a67625"/><stop offset="0.059" stop-color="#a57626"/><stop offset="0.118" stop-color="#a87826"/><stop offset="0.176" stop-color="#ad7a27"/><stop offset="0.235" stop-color="#b17c27"/><stop offset="0.294" stop-color="#b67d28"/><stop offset="0.353" stop-color="#bb7f28"/><stop offset="0.412" stop-color="#bd7f28"/><stop offset="0.471" stop-color="#bb7e27"/><stop offset="0.529" stop-color="#b97d26"/><stop offset="0.588" stop-color="#b67b25"/><stop offset="0.647" stop-color="#af7924"/><stop offset="0.706" stop-color="#a67723"/><stop offset="0.765" stop-color="#9d7421"/><stop offset="0.824" stop-color="#967120"/><stop offset="0.882" stop-color="#926f1f"/><stop offset="0.941" stop-color="#926f1f"/><stop offset="1.000" stop-color="#956f20"/></linearGradient><linearGradient id="g241"><stop offset="0.000" stop-color="#a67625"/><stop offset="0.059" stop-color="#a67625"/><stop offset="0.118" stop-color="#a87726"/><stop offset="0.176" stop-color="#ad7a27"/><stop offset="0.235" stop-color="#b27c27"/><stop offset="0.294" stop-color="#b77d28"/><stop offset="0.353" stop-color="#bd7f28"/><stop offset="0.412" stop-color="#be7f28"/><stop offset="0.471" stop-color="#bc7e27"/><stop offset="0.529" stop-color="#ba7c26"/><stop offset="0.588" stop-color="#b77b25"/><stop offset="0.647" stop-color="#b07924"/><stop offset="0.706" stop-color="#a77622"/><stop offset="0.765" stop-color="#9d7421"/><stop offset="0.824" stop-color="#967120"/><stop offset="0.882" stop-color="#926f1f"/><stop offset="0.941" stop-color="#926e1f"/><stop offset="1.000" stop-color="#956f20"/></linearGradient><linearGradient id="g242"><stop offset="0.000" stop-color="#a67525"/><stop offset="0.059" stop-color="#a67625"/><stop offset="0.118" stop-color="#a87726"/><stop offset="0.176" stop-color="#ae7a27"/><stop offset="0.235" stop-color="#b27c27"/><stop offset="0.294" stop-color="#b87d27"/><stop offset="0.353" stop-color="#be7f28"/><stop offset="0.412" stop-color="#bf7f28"/><stop offset="0.471" stop-color="#bd7d27"/><stop offset="0.529" stop-color="#bb7c26"/><stop offset="0.588" stop-color="#b87b25"/><stop offset="0.647" stop-color="#b27924"/><stop offset="0.706" stop-color="#a87622"/><stop offset="0.765" stop-color="#9e7321"/><stop offset="0.824" stop-color="#967120"/><stop offset="0.882" stop-color="#916e1f"/><stop offset="0.941" stop-color="#926e1f"/><stop offset="1.000" stop-color="#956f1f"/></linearGradient><linearGradient id="g243"><stop offset="0.000" stop-color="#a67525"/><stop offset="0.059" stop-color="#a57525"/><stop offset="0.118" stop-color="#a87726"/><stop offset="0.176" stop-color="#ae7a26"/><stop offset="0.235" stop-color="#b27b27"/><stop offset="0.294" stop-color="#b97d27"/><stop offset="0.353" stop-color="#c08028"/><stop offset="0.412" stop-color="#c17f28"/><stop offset="0.471" stop-color="#be7d27"/><stop offset="0.529" stop-color="#bc7c26"/><stop offset="0.588" stop-color="#ba7c25"/><stop offset="0.647" stop-color="#b37924"/><stop offset="0.706" stop-color="#a97622"/><stop offset="0.765" stop-color="#9f7321"/><stop offset="0.824" stop-color="#96701f"/><stop offset="0.882" stop-color="#906e1e"/><stop offset="0.941" stop-color="#916e1f"/><stop offset="1.000" stop-color="#956f1f"/></linearGradient><linearGradient id="g244"><stop offset="0.000" stop-color="#a67525"/><stop offset="0.059" stop-color="#a57525"/><stop offset="0.118" stop-color="#a77625"/><stop offset="0.176" stop-color="#ad7926"/><stop offset="0.235" stop-color="#b37b27"/><stop offset="0.294" stop-color="#b97d27"/><stop offset="0.353" stop-color="#c18028"/><stop offset="0.412" stop-color="#c27f28"/><stop offset="0.471" stop-color="#bf7d26"/><stop offset="0.529" stop-color="#bd7c25"/><stop offset="0.588" stop-color="#bb7c25"/><stop offset="0.647" stop-color="#b47924"/><stop offset="0.706" stop-color="#a97622"/><stop offset="0.765" stop-color="#a07321"/><stop offset="0.824" stop-color="#96701f"/><stop offset="0.882" stop-color="#8f6d1e"/><stop offset="0.941" stop-color="#916d1e"/><stop offset="1.000" stop-color="#956f1f"/></linearGradient><linearGradient id="g245"><stop offset="0.000" stop-color="#a57525"/><stop offset="0.059" stop-color="#a47425"/><stop offset="0.118" stop-color="#a77625"/><stop offset="0.176" stop-color="#ad7926"/><stop offset="0.235" stop-color="#b37b27"/><stop offset="0.294" stop-color="#ba7d27"/><stop offset="0.353" stop-color="#c28028"/><stop offset="0.412" stop-color="#c27f28"/><stop offset="0.471" stop-color="#bf7c26"/><stop offset="0.529" stop-color="#bd7b25"/><stop offset="0.588" stop-color="#bc7c25"/><stop offset="0.647" stop-color="#b57924"/><stop offset="0.706" stop-color="#aa7622"/><stop offset="0.765" stop-color="#a17320"/><stop offset="0.824" stop-color="#966f1f"/><stop offset="0.882" stop-color="#8f6d1e"/><stop offset="0.941" stop-color="#916d1e"/><stop offset="1.000" stop-color="#956e1f"/></linearGradient><linearGradient id="g246"><stop offset="0.000" stop-color="#a57425"/><stop offset="0.059" stop-color="#a47425"/><stop offset="0.118" stop-color="#a67525"/><stop offset="0.176" stop-color="#ac7826"/><stop offset="0.235" stop-color="#b37a26"/><stop offset="0.294" stop-color="#ba7d27"/><stop offset="0.353" stop-color="#c27f28"/><stop offset="0.412" stop-color="#c37f27"/><stop offset="0.471" stop-color="#c07c26"/><stop offset="0.529" stop-color="#be7b25"/><stop offset="0.588" stop-color="#bd7c25"/><stop offset="0.647" stop-color="#b67923"/><stop offset="0.706" stop-color="#ab7622"/><stop offset="0.765" stop-color="#a27320"/><stop offset="0.824" stop-color="#966f1f"/><stop offset="0.882" stop-color="#8f6c1e"/><stop offset="0.941" stop-color="#916d1e"/><stop offset="1.000" stop-color="#966e1f"/></linearGradient><linearGradient id="g247"><stop offset="0.000" stop-color="#a57425"/><stop offset="0.059" stop-color="#a37424"/><stop offset="0.118" stop-color="#a57425"/><stop offset="0.176" stop-color="#ac7726"/><stop offset="0.235" stop-color="#b37a26"/><stop offset="0.294" stop-color="#bb7c27"/><stop offset="0.353" stop-color="#c27f28"/><stop offset="0.412" stop-color="#c37e27"/><stop offset="0.471" stop-color="#c17b25"/><stop offset="0.529" stop-color="#bf7b25"/><stop offset="0.588" stop-color="#be7b25"/><stop offset="0.647" stop-color="#b67923"/><stop offset="0.706" stop-color="#ab7521"/><stop offset="0.765" stop-color="#a27320"/><stop offset="0.824" stop-color="#976f1f"/><stop offset="0.882" stop-color="#8f6c1e"/><stop offset="0.941" stop-color="#916d1e"/><stop offset="1.000" stop-color="#966e1f"/></linearGradient><linearGradient id="g248"><stop offset="0.000" stop-color="#a57425"/><stop offset="0.059" stop-color="#a37324"/><stop offset="0.118" stop-color="#a47425"/><stop offset="0.176" stop-color="#ac7725"/><stop offset="0.235" stop-color="#b37a26"/><stop offset="0.294" stop-color="#bb7c27"/><stop offset="0.353" stop-color="#c27e27"/><stop offset="0.412" stop-color="#c37d27"/><stop offset="0.471" stop-color="#c17b25"/><stop offset="0.529" stop-color="#c07a24"/><stop offset="0.588" stop-color="#be7b24"/><stop offset="0.647" stop-color="#b67923"/><stop offset="0.706" stop-color="#ab7521"/><stop offset="0.765" stop-color="#a37220"/><stop offset="0.824" stop-color="#986f1f"/><stop offset="0.882" stop-color="#906c1e"/><stop offset="0.941" stop-color="#926d1e"/><stop offset="1.000" stop-color="#976e1f"/></linearGradient><linearGradient id="g249"><stop offset="0.000" stop-color="#a57424"/><stop offset="0.059" stop-color="#a37324"/><stop offset="0.118" stop-color="#a47424"/><stop offset="0.176" stop-color="#ac7625"/><stop offset="0.235" stop-color="#b47926"/><stop offset="0.294" stop-color="#bb7b26"/><stop offset="0.353" stop-color="#c17d27"/><stop offset="0.412" stop-color="#c37c26"/><stop offset="0.471" stop-color="#c27a25"/><stop offset="0.529" stop-color="#c07924"/><stop offset="0.588" stop-color="#bd7a24"/><stop offset="0.647" stop-color="#b67823"/><stop offset="0.706" stop-color="#ac7521"/><stop offset="0.765" stop-color="#a47220"/><stop offset="0.824" stop-color="#996e1e"/><stop offset="0.882" stop-color="#926c1e"/><stop offset="0.941" stop-color="#936d1e"/><stop offset="1.000" stop-color="#976e1f"/></linearGradient><linearGradient id="g250"><stop offset="0.000" stop-color="#a57424"/><stop offset="0.059" stop-color="#a37324"/><stop offset="0.118" stop-color="#a47324"/><stop offset="0.176" stop-color="#ac7625"/><stop offset="0.235" stop-color="#b47926"/><stop offset="0.294" stop-color="#bb7a26"/><stop offset="0.353" stop-color="#c17c26"/><stop offset="0.412" stop-color="#c37b26"/><stop offset="0.471" stop-color="#c37924"/><stop offset="0.529" stop-color="#c17924"/><stop offset="0.588" stop-color="#bd7924"/><stop offset="0.647" stop-color="#b67723"/><stop offset="0.706" stop-color="#ac7421"/><stop offset="0.765" stop-color="#a57220"/><stop offset="0.824" stop-color="#9b6e1e"/><stop offset="0.882" stop-color="#946c1e"/><stop offset="0.941" stop-color="#956d1e"/><stop offset="1.000" stop-color="#986e1f"/></linearGradient><linearGradient id="g251"><stop offset="0.000" stop-color="#a67424"/><stop offset="0.059" stop-color="#a37324"/><stop offset="0.118" stop-color="#a57324"/><stop offset="0.176" stop-color="#ac7625"/><stop offset="0.235" stop-color="#b47825"/><stop offset="0.294" stop-color="#bb7a26"/><stop offset="0.353" stop-color="#c17b26"/><stop offset="0.412" stop-color="#c37a25"/><stop offset="0.471" stop-color="#c47824"/><stop offset="0.529" stop-color="#c17823"/><stop offset="0.588" stop-color="#bd7823"/><stop offset="0.647" stop-color="#b57722"/><stop offset="0.706" stop-color="#ad7421"/><stop offset="0.765" stop-color="#a6711f"/><stop offset="0.824" stop-color="#9d6e1e"/><stop offset="0.882" stop-color="#966d1e"/><stop offset="0.941" stop-color="#966d1e"/><stop offset="1.000" stop-color="#996e1f"/></linearGradient><linearGradient id="g252"><stop offset="0.000" stop-color="#a67424"/><stop offset="0.059" stop-color="#a47324"/><stop offset="0.118" stop-color="#a57324"/><stop offset="0.176" stop-color="#ad7625"/><stop offset="0.235" stop-color="#b57825"/><stop offset="0.294" stop-color="#bb7925"/><stop offset="0.353" stop-color="#c07a25"/><stop offset="0.412" stop-color="#c37924"/><stop offset="0.471" stop-color="#c47823"/><stop offset="0.529" stop-color="#c27723"/><stop offset="0.588" stop-color="#bd7723"/><stop offset="0.647" stop-color="#b57622"/><stop offset="0.706" stop-color="#ad7320"/><stop offset="0.765" stop-color="#a6701f"/><stop offset="0.824" stop-color="#9f6e1e"/><stop offset="0.882" stop-color="#986d1e"/><stop offset="0.941" stop-color="#986d1e"/><stop offset="1.000" stop-color="#9a6e1f"/></linearGradient><linearGradient id="g253"><stop offset="0.000" stop-color="#a77424"/><stop offset="0.059" stop-color="#a57324"/><stop offset="0.118" stop-color="#a77424"/><stop offset="0.176" stop-color="#ad7625"/><stop offset="0.235" stop-color="#b57725"/><stop offset="0.294" stop-color="#bc7825"/><stop offset="0.353" stop-color="#c07925"/><stop offset="0.412" stop-color="#c37824"/><stop offset="0.471" stop-color="#c57723"/><stop offset="0.529" stop-color="#c27623"/><stop offset="0.588" stop-color="#bc7622"/><stop offset="0.647" stop-color="#b57522"/><stop offset="0.706" stop-color="#ad7220"/><stop offset="0.765" stop-color="#a76f1f"/><stop offset="0.824" stop-color="#a16e1e"/><stop offset="0.882" stop-color="#9b6d1e"/><stop offset="0.941" stop-color="#996e1e"/><stop offset="1.000" stop-color="#9b6f1f"/></linearGradient><linearGradient id="g254"><stop offset="0.000" stop-color="#a77424"/><stop offset="0.059" stop-color="#a67324"/><stop offset="0.118" stop-color="#a87424"/><stop offset="0.176" stop-color="#ae7524"/><stop offset="0.235" stop-color="#b67724"/><stop offset="0.294" stop-color="#bc7724"/><stop offset="0.353" stop-color="#c07824"/><stop offset="0.412" stop-color="#c37724"/><stop offset="0.471" stop-color="#c57623"/><stop offset="0.529" stop-color="#c27622"/><stop offset="0.588" stop-color="#bc7522"/><stop offset="0.647" stop-color="#b57421"/><stop offset="0.706" stop-color="#ae7120"/><stop offset="0.765" stop-color="#a86e1e"/><stop offset="0.824" stop-color="#a26d1e"/><stop offset="0.882" stop-color="#9d6d1e"/><stop offset="0.941" stop-color="#9b6e1e"/><stop offset="1.000" stop-color="#9c6f1f"/></linearGradient><linearGradient id="g255"><stop offset="0.000" stop-color="#a87424"/><stop offset="0.059" stop-color="#a77424"/><stop offset="0.118" stop-color="#a97424"/><stop offset="0.176" stop-color="#af7524"/><stop offset="0.235" stop-color="#b77624"/><stop offset="0.294" stop-color="#bd7724"/><stop offset="0.353" stop-color="#c17724"/><stop offset="0.412" stop-color="#c37623"/><stop offset="0.471" stop-color="#c57622"/><stop offset="0.529" stop-color="#c27522"/><stop offset="0.588" stop-color="#bd7422"/><stop offset="0.647" stop-color="#b57321"/><stop offset="0.706" stop-color="#ae711f"/><stop offset="0.765" stop-color="#a96e1e"/><stop offset="0.824" stop-color="#a46d1e"/><stop offset="0.882" stop-color="#9f6d1e"/><stop offset="0.941" stop-color="#9d6e1e"/><stop offset="1.000" stop-color="#9d6f1f"/></linearGradient><linearGradient id="g256"><stop offset="0.000" stop-color="#a97424"/><stop offset="0.059" stop-color="#a87424"/><stop offset="0.118" stop-color="#ab7424"/><stop offset="0.176" stop-color="#b07524"/><stop offset="0.235" stop-color="#b77624"/><stop offset="0.294" stop-color="#bd7623"/><stop offset="0.353" stop-color="#c17623"/><stop offset="0.412" stop-color="#c37623"/><stop offset="0.471" stop-color="#c57522"/><stop offset="0.529" stop-color="#c27422"/><stop offset="0.588" stop-color="#bd7321"/><stop offset="0.647" stop-color="#b67221"/><stop offset="0.706" stop-color="#ae701f"/><stop offset="0.765" stop-color="#a96d1e"/><stop offset="0.824" stop-color="#a56c1d"/><stop offset="0.882" stop-color="#a06d1e"/><stop offset="0.941" stop-color="#9e6e1f"/><stop offset="1.000" stop-color="#9e6f1f"/></linearGradient><linearGradient id="g257"><stop offset="0.000" stop-color="#aa7424"/><stop offset="0.059" stop-color="#aa7424"/><stop offset="0.118" stop-color="#ac7424"/><stop offset="0.176" stop-color="#b27524"/><stop offset="0.235" stop-color="#b87524"/><stop offset="0.294" stop-color="#be7523"/><stop offset="0.353" stop-color="#c17523"/><stop offset="0.412" stop-color="#c37522"/><stop offset="0.471" stop-color="#c47422"/><stop offset="0.529" stop-color="#c27321"/><stop offset="0.588" stop-color="#bd7221"/><stop offset="0.647" stop-color="#b67220"/><stop offset="0.706" stop-color="#af6f1f"/><stop offset="0.765" stop-color="#aa6c1d"/><stop offset="0.824" stop-color="#a66c1d"/><stop offset="0.882" stop-color="#a26d1e"/><stop offset="0.941" stop-color="#9f6e1f"/><stop offset="1.000" stop-color="#9f6f1f"/></linearGradient><linearGradient id="g258"><stop offset="0.000" stop-color="#aa7424"/><stop offset="0.059" stop-color="#ab7424"/><stop offset="0.118" stop-color="#ad7424"/><stop offset="0.176" stop-color="#b37524"/><stop offset="0.235" stop-color="#b97523"/><stop offset="0.294" stop-color="#bf7422"/><stop offset="0.353" stop-color="#c27422"/><stop offset="0.412" stop-color="#c37422"/><stop offset="0.471" stop-color="#c47321"/><stop offset="0.529" stop-color="#c27121"/><stop offset="0.588" stop-color="#bd7120"/><stop offset="0.647" stop-color="#b67120"/><stop offset="0.706" stop-color="#af6f1f"/><stop offset="0.765" stop-color="#aa6c1d"/><stop offset="0.824" stop-color="#a76c1d"/><stop offset="0.882" stop-color="#a36d1e"/><stop offset="0.941" stop-color="#a16e1f"/><stop offset="1.000" stop-color="#a06f1f"/></linearGradient><linearGradient id="g259"><stop offset="0.000" stop-color="#ab7424"/><stop offset="0.059" stop-color="#ac7424"/><stop offset="0.118" stop-color="#ae7424"/><stop offset="0.176" stop-color="#b47524"/><stop offset="0.235" stop-color="#ba7423"/><stop offset="0.294" stop-color="#c07322"/><stop offset="0.353" stop-color="#c37322"/><stop offset="0.412" stop-color="#c37322"/><stop offset="0.471" stop-color="#c37221"/><stop offset="0.529" stop-color="#c27020"/><stop offset="0.588" stop-color="#be7020"/><stop offset="0.647" stop-color="#b77020"/><stop offset="0.706" stop-color="#af6e1f"/><stop offset="0.765" stop-color="#ab6c1d"/><stop offset="0.824" stop-color="#a86c1d"/><stop offset="0.882" stop-color="#a46d1e"/><stop offset="0.941" stop-color="#a26e1f"/><stop offset="1.000" stop-color="#a16f1f"/></linearGradient><linearGradient id="g260"><stop offset="0.000" stop-color="#ac7524"/><stop offset="0.059" stop-color="#ad7424"/><stop offset="0.118" stop-color="#b07424"/><stop offset="0.176" stop-color="#b47423"/><stop offset="0.235" stop-color="#bb7423"/><stop offset="0.294" stop-color="#c17322"/><stop offset="0.353" stop-color="#c37221"/><stop offset="0.412" stop-color="#c37221"/><stop offset="0.471" stop-color="#c37221"/><stop offset="0.529" stop-color="#c26f20"/><stop offset="0.588" stop-color="#be6f1f"/><stop offset="0.647" stop-color="#b76f1f"/><stop offset="0.706" stop-color="#b06e1e"/><stop offset="0.765" stop-color="#ab6c1d"/><stop offset="0.824" stop-color="#a86c1d"/><stop offset="0.882" stop-color="#a56d1e"/><stop offset="0.941" stop-color="#a36e1f"/><stop offset="1.000" stop-color="#a26f1f"/></linearGradient><linearGradient id="g261"><stop offset="0.000" stop-color="#ad7524"/><stop offset="0.059" stop-color="#ae7424"/><stop offset="0.118" stop-color="#b17424"/><stop offset="0.176" stop-color="#b57423"/><stop offset="0.235" stop-color="#bb7422"/><stop offset="0.294" stop-color="#c17221"/><stop offset="0.353" stop-color="#c47121"/><stop offset="0.412" stop-color="#c37221"/><stop offset="0.471" stop-color="#c37120"/><stop offset="0.529" stop-color="#c26e1f"/><stop offset="0.588" stop-color="#be6e1f"/><stop offset="0.647" stop-color="#b86f1f"/><stop offset="0.706" stop-color="#b06e1e"/><stop offset="0.765" stop-color="#ac6c1d"/><stop offset="0.824" stop-color="#a96c1d"/><stop offset="0.882" stop-color="#a66d1e"/><stop offset="0.941" stop-color="#a46e1f"/><stop offset="1.000" stop-color="#a36f1f"/></linearGradient><linearGradient id="g262"><stop offset="0.000" stop-color="#ad7524"/><stop offset="0.059" stop-color="#af7424"/><stop offset="0.118" stop-color="#b17424"/><stop offset="0.176" stop-color="#b67423"/><stop offset="0.235" stop-color="#bc7322"/><stop offset="0.294" stop-color="#c27221"/><stop offset="0.353" stop-color="#c47121"/><stop offset="0.412" stop-color="#c37121"/><stop offset="0.471" stop-color="#c27020"/><stop offset="0.529" stop-color="#c26d1f"/><stop offset="0.588" stop-color="#bf6d1f"/><stop offset="0.647" stop-color="#b86e1f"/><stop offset="0.706" stop-color="#b16e1e"/><stop offset="0.765" stop-color="#ac6c1e"/><stop offset="0.824" stop-color="#a96c1e"/><stop offset="0.882" stop-color="#a76e1e"/><stop offset="0.941" stop-color="#a46f1f"/><stop offset="1.000" stop-color="#a36f1f"/></linearGradient><linearGradient id="g263"><stop offset="0.000" stop-color="#ae7524"/><stop offset="0.059" stop-color="#af7424"/><stop offset="0.118" stop-color="#b27423"/><stop offset="0.176" stop-color="#b77423"/><stop offset="0.235" stop-color="#bc7322"/><stop offset="0.294" stop-color="#c27121"/><stop offset="0.353" stop-color="#c57020"/><stop offset="0.412" stop-color="#c37121"/><stop offset="0.471" stop-color="#c26f20"/><stop offset="0.529" stop-color="#c26c1e"/><stop offset="0.588" stop-color="#bf6c1e"/><stop offset="0.647" stop-color="#b86e1f"/><stop offset="0.706" stop-color="#b16e1f"/><stop offset="0.765" stop-color="#ad6d1e"/><stop offset="0.824" stop-color="#aa6d1e"/><stop offset="0.882" stop-color="#a76e1e"/><stop offset="0.941" stop-color="#a56f1f"/><stop offset="1.000" stop-color="#a46f1f"/></linearGradient><linearGradient id="g264"><stop offset="0.000" stop-color="#ae7524"/><stop offset="0.059" stop-color="#b07424"/><stop offset="0.118" stop-color="#b37423"/><stop offset="0.176" stop-color="#b77423"/><stop offset="0.235" stop-color="#bd7322"/><stop offset="0.294" stop-color="#c27121"/><stop offset="0.353" stop-color="#c57020"/><stop offset="0.412" stop-color="#c37120"/><stop offset="0.471" stop-color="#c26f20"/><stop offset="0.529" stop-color="#c16c1e"/><stop offset="0.588" stop-color="#bf6c1e"/><stop offset="0.647" stop-color="#b86e1f"/><stop offset="0.706" stop-color="#b26e1f"/><stop offset="0.765" stop-color="#ad6d1e"/><stop offset="0.824" stop-color="#aa6d1e"/><stop offset="0.882" stop-color="#a86e1e"/><stop offset="0.941" stop-color="#a66f1f"/><stop offset="1.000" stop-color="#a5701f"/></linearGradient><linearGradient id="g265"><stop offset="0.000" stop-color="#af7524"/><stop offset="0.059" stop-color="#b17424"/><stop offset="0.118" stop-color="#b37423"/><stop offset="0.176" stop-color="#b87423"/><stop offset="0.235" stop-color="#bd7322"/><stop offset="0.294" stop-color="#c27121"/><stop offset="0.353" stop-color="#c47020"/><stop offset="0.412" stop-color="#c37020"/><stop offset="0.471" stop-color="#c16f20"/><stop offset="0.529" stop-color="#c16c1e"/><stop offset="0.588" stop-color="#bf6c1e"/><stop offset="0.647" stop-color="#b86e1f"/><stop offset="0.706" stop-color="#b26e1f"/><stop offset="0.765" stop-color="#ae6d1e"/><stop offset="0.824" stop-color="#ab6d1e"/><stop offset="0.882" stop-color="#a86e1f"/><stop offset="0.941" stop-color="#a66f1f"/><stop offset="1.000" stop-color="#a5701f"/></linearGradient><linearGradient id="g266"><stop offset="0.000" stop-color="#af7524"/><stop offset="0.059" stop-color="#b17423"/><stop offset="0.118" stop-color="#b47423"/><stop offset="0.176" stop-color="#b87423"/><stop offset="0.235" stop-color="#bd7222"/><stop offset="0.294" stop-color="#c27121"/><stop offset="0.353" stop-color="#c47020"/><stop offset="0.412" stop-color="#c27020"/><stop offset="0.471" stop-color="#c16f20"/><stop offset="0.529" stop-color="#c16c1e"/><stop offset="0.588" stop-color="#be6c1e"/><stop offset="0.647" stop-color="#b96e1f"/><stop offset="0.706" stop-color="#b36e1f"/><stop offset="0.765" stop-color="#ae6e1e"/><stop offset="0.824" stop-color="#ab6e1e"/><stop offset="0.882" stop-color="#a96e1f"/><stop offset="0.941" stop-color="#a76f1f"/><stop offset="1.000" stop-color="#a67020"/></linearGradient><linearGradient id="g267"><stop offset="0.000" stop-color="#b07524"/><stop offset="0.059" stop-color="#b27423"/><stop offset="0.118" stop-color="#b47423"/><stop offset="0.176" stop-color="#b87423"/><stop offset="0.235" stop-color="#bd7222"/><stop offset="0.294" stop-color="#c17121"/><stop offset="0.353" stop-color="#c37020"/><stop offset="0.412" stop-color="#c27020"/><stop offset="0.471" stop-color="#c06f20"/><stop offset="0.529" stop-color="#c06d1f"/><stop offset="0.588" stop-color="#be6c1e"/><stop offset="0.647" stop-color="#b86e1f"/><stop offset="0.706" stop-color="#b36e1f"/><stop offset="0.765" stop-color="#af6e1f"/><stop offset="0.824" stop-color="#ac6e1f"/><stop offset="0.882" stop-color="#a96f1f"/><stop offset="0.941" stop-color="#a86f1f"/><stop offset="1.000" stop-color="#a67020"/></linearGradient><linearGradient id="g268"><stop offset="0.000" stop-color="#b07524"/><stop offset="0.059" stop-color="#b27423"/><stop offset="0.118" stop-color="#b57423"/><stop offset="0.176" stop-color="#b87323"/><stop offset="0.235" stop-color="#bc7222"/><stop offset="0.294" stop-color="#c07121"/><stop offset="0.353" stop-color="#c27020"/><stop offset="0.412" stop-color="#c17020"/><stop offset="0.471" stop-color="#c06f20"/><stop offset="0.529" stop-color="#bf6d1f"/><stop offset="0.588" stop-color="#bd6d1f"/><stop offset="0.647" stop-color="#b86e1f"/><stop offset="0.706" stop-color="#b36f1f"/><stop offset="0.765" stop-color="#af6e1f"/><stop offset="0.824" stop-color="#ac6e1f"/><stop offset="0.882" stop-color="#aa6f1f"/><stop offset="0.941" stop-color="#a86f1f"/><stop offset="1.000" stop-color="#a77020"/></linearGradient><linearGradient id="g269"><stop offset="0.000" stop-color="#b17524"/><stop offset="0.059" stop-color="#b27423"/><stop offset="0.118" stop-color="#b57423"/><stop offset="0.176" stop-color="#b87322"/><stop offset="0.235" stop-color="#bc7222"/><stop offset="0.294" stop-color="#c07121"/><stop offset="0.353" stop-color="#c17121"/><stop offset="0.412" stop-color="#c07020"/><stop offset="0.471" stop-color="#bf6f20"/><stop offset="0.529" stop-color="#bf6d1f"/><stop offset="0.588" stop-color="#bc6d1f"/><stop offset="0.647" stop-color="#b86e1f"/><stop offset="0.706" stop-color="#b36f1f"/><stop offset="0.765" stop-color="#af6f1f"/><stop offset="0.824" stop-color="#ac6f1f"/><stop offset="0.882" stop-color="#aa6f1f"/><stop offset="0.941" stop-color="#a9701f"/><stop offset="1.000" stop-color="#a77020"/></linearGradient><linearGradient id="g270"><stop offset="0.000" stop-color="#b17523"/><stop offset="0.059" stop-color="#b37423"/><stop offset="0.118" stop-color="#b57423"/><stop offset="0.176" stop-color="#b87322"/><stop offset="0.235" stop-color="#bc7222"/><stop offset="0.294" stop-color="#bf7121"/><stop offset="0.353" stop-color="#c07121"/><stop offset="0.412" stop-color="#c07020"/><stop offset="0.471" stop-color="#bf6f20"/><stop offset="0.529" stop-color="#be6e1f"/><stop offset="0.588" stop-color="#bc6e1f"/><stop offset="0.647" stop-color="#b86e1f"/><stop offset="0.706" stop-color="#b36f1f"/><stop offset="0.765" stop-color="#b06f1f"/><stop offset="0.824" stop-color="#ad6f1f"/><stop offset="0.882" stop-color="#ab6f1f"/><stop offset="0.941" stop-color="#a97020"/><stop offset="1.000" stop-color="#a87020"/></linearGradient><linearGradient id="g271"><stop offset="0.000" stop-color="#b17523"/><stop offset="0.059" stop-color="#b37423"/><stop offset="0.118" stop-color="#b57423"/><stop offset="0.176" stop-color="#b87322"/><stop offset="0.235" stop-color="#bc7322"/><stop offset="0.294" stop-color="#be7221"/><stop offset="0.353" stop-color="#c07121"/><stop offset="0.412" stop-color="#bf7020"/><stop offset="0.471" stop-color="#be6f20"/><stop offset="0.529" stop-color="#bd6e1f"/><stop offset="0.588" stop-color="#bb6e1f"/><stop offset="0.647" stop-color="#b86f1f"/><stop offset="0.706" stop-color="#b36f1f"/><stop offset="0.765" stop-color="#b06f1f"/><stop offset="0.824" stop-color="#ad6f1f"/><stop offset="0.882" stop-color="#ab6f1f"/><stop offset="0.941" stop-color="#a97020"/><stop offset="1.000" stop-color="#a87020"/></linearGradient><linearGradient id="g272"><stop offset="0.000" stop-color="#b27523"/><stop offset="0.059" stop-color="#b37423"/><stop offset="0.118" stop-color="#b57423"/><stop offset="0.176" stop-color="#b87322"/><stop offset="0.235" stop-color="#bb7322"/><stop offset="0.294" stop-color="#be7221"/><stop offset="0.353" stop-color="#bf7121"/><stop offset="0.412" stop-color="#bf7121"/><stop offset="0.471" stop-color="#be7020"/><stop offset="0.529" stop-color="#bd6f20"/><stop offset="0.588" stop-color="#bb6e1f"/><stop offset="0.647" stop-color="#b76f1f"/><stop offset="0.706" stop-color="#b36f1f"/><stop offset="0.765" stop-color="#b06f1f"/><stop offset="0.824" stop-color="#ad6f1f"/><stop offset="0.882" stop-color="#ab701f"/><stop offset="0.941" stop-color="#aa7020"/><stop offset="1.000" stop-color="#a97020"/></linearGradient><linearGradient id="g273"><stop offset="0.000" stop-color="#b27523"/><stop offset="0.059" stop-color="#b37423"/><stop offset="0.118" stop-color="#b57423"/><stop offset="0.176" stop-color="#b87322"/><stop offset="0.235" stop-color="#bb7322"/><stop offset="0.294" stop-color="#bd7221"/><stop offset="0.353" stop-color="#be7121"/><stop offset="0.412" stop-color="#be7121"/><stop offset="0.471" stop-color="#bd7020"/><stop offset="0.529" stop-color="#bc6f20"/><stop offset="0.588" stop-color="#ba6f20"/><stop offset="0.647" stop-color="#b76f20"/><stop offset="0.706" stop-color="#b36f20"/><stop offset="0.765" stop-color="#b06f1f"/><stop offset="0.824" stop-color="#ae701f"/><stop offset="0.882" stop-color="#ac7020"/><stop offset="0.941" stop-color="#aa7020"/><stop offset="1.000" stop-color="#a97120"/></linearGradient></defs><g filter="url(#blv)"><rect x="482" y="1773" width="561" height="9" fill="url(#g206)"/><rect x="482" y="1781" width="561" height="9" fill="url(#g207)"/><rect x="482" y="1789" width="561" height="9" fill="url(#g208)"/><rect x="482" y="1797" width="561" height="9" fill="url(#g209)"/><rect x="482" y="1805" width="561" height="9" fill="url(#g210)"/><rect x="482" y="1813" width="561" height="9" fill="url(#g211)"/><rect x="482" y="1821" width="561" height="9" fill="url(#g212)"/><rect x="482" y="1829" width="561" height="9" fill="url(#g213)"/><rect x="482" y="1837" width="561" height="9" fill="url(#g214)"/><rect x="482" y="1845" width="561" height="9" fill="url(#g215)"/><rect x="482" y="1853" width="561" height="9" fill="url(#g216)"/><rect x="482" y="1861" width="561" height="9" fill="url(#g217)"/><rect x="482" y="1869" width="561" height="9" fill="url(#g218)"/><rect x="482" y="1877" width="561" height="9" fill="url(#g219)"/><rect x="482" y="1885" width="561" height="9" fill="url(#g220)"/><rect x="482" y="1893" width="561" height="9" fill="url(#g221)"/><rect x="482" y="1901" width="561" height="9" fill="url(#g222)"/><rect x="482" y="1909" width="561" height="9" fill="url(#g223)"/><rect x="482" y="1917" width="561" height="9" fill="url(#g224)"/><rect x="482" y="1925" width="561" height="9" fill="url(#g225)"/><rect x="482" y="1933" width="561" height="9" fill="url(#g226)"/><rect x="482" y="1941" width="561" height="9" fill="url(#g227)"/><rect x="482" y="1949" width="561" height="9" fill="url(#g228)"/><rect x="482" y="1957" width="561" height="9" fill="url(#g229)"/><rect x="482" y="1965" width="561" height="9" fill="url(#g230)"/><rect x="482" y="1973" width="561" height="9" fill="url(#g231)"/><rect x="482" y="1981" width="561" height="9" fill="url(#g232)"/><rect x="482" y="1989" width="561" height="9" fill="url(#g233)"/><rect x="482" y="1997" width="561" height="9" fill="url(#g234)"/><rect x="482" y="2005" width="561" height="9" fill="url(#g235)"/><rect x="482" y="2013" width="561" height="9" fill="url(#g236)"/><rect x="482" y="2021" width="561" height="9" fill="url(#g237)"/><rect x="482" y="2029" width="561" height="9" fill="url(#g238)"/><rect x="482" y="2037" width="561" height="9" fill="url(#g239)"/><rect x="482" y="2045" width="561" height="9" fill="url(#g240)"/><rect x="482" y="2053" width="561" height="9" fill="url(#g241)"/><rect x="482" y="2061" width="561" height="9" fill="url(#g242)"/><rect x="482" y="2069" width="561" height="9" fill="url(#g243)"/><rect x="482" y="2077" width="561" height="9" fill="url(#g244)"/><rect x="482" y="2085" width="561" height="9" fill="url(#g245)"/><rect x="482" y="2093" width="561" height="9" fill="url(#g246)"/><rect x="482" y="2101" width="561" height="9" fill="url(#g247)"/><rect x="482" y="2109" width="561" height="9" fill="url(#g248)"/><rect x="482" y="2117" width="561" height="9" fill="url(#g249)"/><rect x="482" y="2125" width="561" height="9" fill="url(#g250)"/><rect x="482" y="2133" width="561" height="9" fill="url(#g251)"/><rect x="482" y="2141" width="561" height="9" fill="url(#g252)"/><rect x="482" y="2149" width="561" height="9" fill="url(#g253)"/><rect x="482" y="2157" width="561" height="9" fill="url(#g254)"/><rect x="482" y="2165" width="561" height="9" fill="url(#g255)"/><rect x="482" y="2173" width="561" height="9" fill="url(#g256)"/><rect x="482" y="2181" width="561" height="9" fill="url(#g257)"/><rect x="482" y="2189" width="561" height="9" fill="url(#g258)"/><rect x="482" y="2197" width="561" height="9" fill="url(#g259)"/><rect x="482" y="2205" width="561" height="9" fill="url(#g260)"/><rect x="482" y="2213" width="561" height="9" fill="url(#g261)"/><rect x="482" y="2221" width="561" height="9" fill="url(#g262)"/><rect x="482" y="2229" width="561" height="9" fill="url(#g263)"/><rect x="482" y="2237" width="561" height="9" fill="url(#g264)"/><rect x="482" y="2245" width="561" height="9" fill="url(#g265)"/><rect x="482" y="2253" width="561" height="9" fill="url(#g266)"/><rect x="482" y="2261" width="561" height="9" fill="url(#g267)"/><rect x="482" y="2269" width="561" height="9" fill="url(#g268)"/><rect x="482" y="2277" width="561" height="9" fill="url(#g269)"/><rect x="482" y="2285" width="561" height="9" fill="url(#g270)"/><rect x="482" y="2293" width="561" height="9" fill="url(#g271)"/><rect x="482" y="2301" width="561" height="9" fill="url(#g272)"/><rect x="482" y="2309" width="561" height="9" fill="url(#g273)"/></g>
<circle cx="623" cy="2198" r="34" fill="#f0b030" filter="url(#bl8)" opacity="0.8"/>
<circle cx="622" cy="2198" r="27" fill="#f8c838" filter="url(#bl3)"/>
<circle cx="628" cy="2200" r="12" fill="#fff050" filter="url(#bl4)"/>
<circle cx="704" cy="1985" r="11" fill="#e8c8a0" filter="url(#bl2)" opacity="0.65"/>
<g fill="none" stroke="#8a2a08" stroke-linecap="round" stroke-linejoin="round" opacity="0.6" filter="url(#bl05)"><path stroke-width="2.4" d="M620,2175 Q618,2150 620,2151 Q625,2125 635,2106 Q655,2080 680,2061 Q705,2045 731,2029 Q755,2005 776,1984 Q792,1970 808,1962 Q840,1958 872,1965 Q905,1970 936,1978 Q965,1988 990,1997"/><path stroke-width="2" d="M640,2165 Q675,2130 712,2106 Q740,2088 763,2071 Q785,2070 808,2077 Q840,2090 872,2106 Q905,2118 936,2125 Q965,2130 990,2132"/><path stroke-width="1.7" d="M645,2180 Q700,2165 740,2160 Q790,2155 840,2150 Q880,2160 905,2170 Q940,2185 975,2200"/><path stroke-width="1.5" d="M615,2150 Q605,2110 602,2080 Q598,2040 592,2010 Q588,1980 585,1950"/><path stroke-width="1.3" d="M600,2190 Q570,2170 545,2150 M602,2060 Q580,2040 560,2020 M872,2106 Q880,2140 885,2180 M936,1978 Q945,1940 950,1900 M808,1962 Q800,1930 795,1900"/></g>
</g>
<path d="M969.3,2147.9 C972.3,2153.9 977.2,2155.4 978.7,2164.4 C979.2,2170.4 977.7,2173.4 974.7,2173.9 L956.5,2175.9 Q953.5,2176.4 952.5,2177.4 A240.7,240.7 0 1 1 969.3,2147.9 Z" fill="none" stroke="#0e8a0e" stroke-width="1.3" opacity="0.8"/>
</g>
<g clip-path="url(#cp3)">
<rect x="993.0" y="1495.6" width="501.4" height="370.4" fill="#050505"/>
<rect x="993.0" y="1495.6" width="501.4" height="370.4" filter="url(#speckW)"/>
<path d="M988.0,1786.7 L987.7,1786.7 L986.5,1786.6 L985.0,1786.5 L983.8,1786.4 L983.4,1786.4 L984.5,1786.4 L987.5,1786.6 L993.0,1787.0 L1001.3,1787.8 L1011.8,1789.0 L1024.2,1790.4 L1038.1,1791.9 L1053.0,1793.2 L1068.5,1794.1 L1084.3,1794.5 L1100.0,1794.0 L1115.8,1792.7 L1132.2,1790.8 L1149.2,1788.4 L1166.7,1785.6 L1184.6,1782.4 L1202.8,1779.0 L1221.3,1775.5 L1240.0,1772.0 L1259.5,1768.3 L1280.1,1764.4 L1301.4,1760.2 L1322.9,1755.9 L1344.0,1751.4 L1364.2,1746.9 L1383.0,1742.4 L1400.0,1738.0 L1415.5,1733.4 L1430.2,1728.3 L1444.0,1723.2 L1456.7,1718.0 L1468.1,1713.1 L1478.3,1708.7 L1486.9,1704.9 L1494.0,1702.0 L1499.0,1700.1 L1501.7,1699.0 L1502.8,1698.6 L1502.6,1698.7 L1501.7,1699.1 L1500.5,1699.5 L1499.6,1699.9 L1499.4,1699.9 L1499.4,1896.0 L988.0,1896.0 Z" fill="#000" opacity="0.5" filter="url(#bl15)"/>
<path d="M988.0,1699.5 L987.7,1699.5 L986.5,1699.4 L985.0,1699.3 L983.8,1699.1 L983.4,1699.1 L984.5,1699.2 L987.5,1699.5 L993.0,1700.0 L1001.5,1700.8 L1012.7,1701.9 L1026.0,1703.3 L1040.6,1704.7 L1055.9,1706.2 L1071.4,1707.6 L1086.3,1708.9 L1100.0,1710.0 L1113.2,1710.9 L1126.9,1711.9 L1140.6,1712.7 L1154.2,1713.5 L1167.2,1714.2 L1179.4,1714.6 L1190.4,1714.9 L1200.0,1715.0 L1207.6,1714.8 L1213.2,1714.5 L1217.4,1713.9 L1220.9,1713.2 L1224.3,1712.3 L1228.2,1711.3 L1233.3,1710.2 L1240.0,1709.0 L1248.5,1707.8 L1258.1,1706.5 L1268.6,1705.1 L1279.7,1703.6 L1291.1,1701.9 L1302.7,1700.0 L1314.1,1697.7 L1325.0,1695.0 L1335.6,1691.9 L1346.3,1688.3 L1356.9,1684.3 L1367.6,1680.1 L1378.2,1675.8 L1388.8,1671.4 L1399.4,1667.1 L1410.0,1663.0 L1421.1,1658.8 L1432.9,1654.3 L1445.0,1649.7 L1457.0,1645.1 L1468.3,1640.8 L1478.5,1636.9 L1487.3,1633.6 L1494.0,1631.0 L1498.5,1629.3 L1501.0,1628.3 L1502.0,1627.9 L1502.0,1628.0 L1501.2,1628.2 L1500.3,1628.6 L1499.5,1628.9 L1499.4,1628.9 L1499.4,1679.9 L1499.6,1679.9 L1500.5,1679.5 L1501.7,1679.1 L1502.6,1678.7 L1502.8,1678.6 L1501.7,1679.0 L1499.0,1680.1 L1494.0,1682.0 L1486.9,1684.9 L1478.3,1688.7 L1468.1,1693.1 L1456.7,1698.0 L1444.0,1703.2 L1430.2,1708.3 L1415.5,1713.4 L1400.0,1718.0 L1383.0,1722.4 L1364.2,1726.9 L1344.0,1731.4 L1322.9,1735.9 L1301.4,1740.2 L1280.1,1744.4 L1259.5,1748.3 L1240.0,1752.0 L1221.3,1755.5 L1202.8,1759.0 L1184.6,1762.4 L1166.7,1765.6 L1149.2,1768.4 L1132.2,1770.8 L1115.8,1772.7 L1100.0,1774.0 L1084.3,1774.5 L1068.5,1774.1 L1053.0,1773.2 L1038.1,1771.9 L1024.2,1770.4 L1011.8,1769.0 L1001.3,1767.8 L993.0,1767.0 L987.5,1766.6 L984.5,1766.4 L983.4,1766.4 L983.8,1766.4 L985.0,1766.5 L986.5,1766.6 L987.7,1766.7 L988.0,1766.7 Z" fill="#8e8e8e" filter="url(#bl8)"/>
<path d="M988.0,1699.5 L987.7,1699.5 L986.5,1699.4 L985.0,1699.3 L983.8,1699.1 L983.4,1699.1 L984.5,1699.2 L987.5,1699.5 L993.0,1700.0 L1001.5,1700.8 L1012.7,1701.9 L1026.0,1703.3 L1040.6,1704.7 L1055.9,1706.2 L1071.4,1707.6 L1086.3,1708.9 L1100.0,1710.0 L1113.2,1710.9 L1126.9,1711.9 L1140.6,1712.7 L1154.2,1713.5 L1167.2,1714.2 L1179.4,1714.6 L1190.4,1714.9 L1200.0,1715.0 L1207.6,1714.8 L1213.2,1714.5 L1217.4,1713.9 L1220.9,1713.2 L1224.3,1712.3 L1228.2,1711.3 L1233.3,1710.2 L1240.0,1709.0 L1248.5,1707.8 L1258.1,1706.5 L1268.6,1705.1 L1279.7,1703.6 L1291.1,1701.9 L1302.7,1700.0 L1314.1,1697.7 L1325.0,1695.0 L1335.6,1691.9 L1346.3,1688.3 L1356.9,1684.3 L1367.6,1680.1 L1378.2,1675.8 L1388.8,1671.4 L1399.4,1667.1 L1410.0,1663.0 L1421.1,1658.8 L1432.9,1654.3 L1445.0,1649.7 L1457.0,1645.1 L1468.3,1640.8 L1478.5,1636.9 L1487.3,1633.6 L1494.0,1631.0 L1498.5,1629.3 L1501.0,1628.3 L1502.0,1627.9 L1502.0,1628.0 L1501.2,1628.2 L1500.3,1628.6 L1499.5,1628.9 L1499.4,1628.9 L1499.4,1657.9 L1499.6,1657.9 L1500.5,1657.5 L1501.7,1657.1 L1502.6,1656.7 L1502.8,1656.6 L1501.7,1657.0 L1499.0,1658.1 L1494.0,1660.0 L1486.9,1662.9 L1478.3,1666.7 L1468.1,1671.1 L1456.7,1676.0 L1444.0,1681.2 L1430.2,1686.3 L1415.5,1691.4 L1400.0,1696.0 L1383.0,1700.4 L1364.2,1704.9 L1344.0,1709.4 L1322.9,1713.9 L1301.4,1718.2 L1280.1,1722.4 L1259.5,1726.3 L1240.0,1730.0 L1221.3,1733.5 L1202.8,1737.0 L1184.6,1740.4 L1166.7,1743.6 L1149.2,1746.4 L1132.2,1748.8 L1115.8,1750.7 L1100.0,1752.0 L1084.3,1752.5 L1068.5,1752.1 L1053.0,1751.2 L1038.1,1749.9 L1024.2,1748.4 L1011.8,1747.0 L1001.3,1745.8 L993.0,1745.0 L987.5,1744.6 L984.5,1744.4 L983.4,1744.4 L983.8,1744.4 L985.0,1744.5 L986.5,1744.6 L987.7,1744.7 L988.0,1744.7 Z" fill="#969696" filter="url(#bl4)" opacity="0.8"/>
<path d="M988.0,1628.2 L987.6,1628.2 L986.2,1628.1 L984.5,1628.0 L983.0,1627.9 L982.5,1627.8 L983.5,1627.9 L986.8,1628.1 L993.0,1628.5 L1002.7,1629.1 L1015.7,1629.8 L1031.1,1630.7 L1047.9,1631.6 L1065.4,1632.7 L1082.7,1633.8 L1098.8,1634.9 L1113.0,1636.0 L1125.7,1637.1 L1137.9,1638.1 L1149.7,1639.2 L1160.9,1640.3 L1171.5,1641.6 L1181.4,1642.9 L1190.6,1644.4 L1199.0,1646.0 L1206.5,1648.0 L1213.1,1650.3 L1218.9,1652.8 L1224.1,1655.4 L1228.7,1657.9 L1233.0,1660.3 L1237.1,1662.4 L1241.0,1664.0 L1244.6,1665.3 L1247.5,1666.4 L1250.1,1667.2 L1252.3,1667.9 L1254.5,1668.3 L1256.7,1668.5 L1259.1,1668.4 L1262.0,1668.0 L1265.3,1667.4 L1268.9,1666.5 L1272.7,1665.3 L1276.6,1663.9 L1280.4,1662.2 L1284.2,1660.4 L1287.8,1658.3 L1291.0,1656.0 L1293.9,1653.4 L1296.4,1650.3 L1298.7,1647.0 L1300.9,1643.5 L1303.1,1639.9 L1305.4,1636.4 L1308.0,1633.1 L1311.0,1630.0 L1314.2,1627.2 L1317.5,1624.6 L1320.9,1622.1 L1324.6,1619.7 L1328.4,1617.3 L1332.6,1614.9 L1337.1,1612.5 L1342.0,1610.0 L1347.4,1607.4 L1353.3,1604.8 L1359.7,1602.1 L1366.2,1599.4 L1373.0,1596.7 L1379.8,1594.1 L1386.5,1591.5 L1393.0,1589.0 L1399.4,1586.6 L1405.8,1584.3 L1412.2,1582.0 L1418.6,1579.8 L1424.9,1577.6 L1431.3,1575.4 L1437.7,1573.2 L1444.0,1571.0 L1450.6,1568.6 L1457.6,1566.1 L1464.8,1563.5 L1471.9,1561.0 L1478.6,1558.6 L1484.7,1556.4 L1489.9,1554.5 L1494.0,1553.0 L1496.8,1552.0 L1498.6,1551.3 L1499.5,1551.0 L1499.8,1550.9 L1499.7,1550.9 L1499.5,1551.0 L1499.3,1551.1 L1499.4,1551.1 L1499.4,1603.0 L1499.6,1602.9 L1500.5,1602.6 L1501.7,1602.1 L1502.6,1601.8 L1502.8,1601.7 L1501.7,1602.1 L1499.0,1603.2 L1494.0,1605.0 L1486.4,1607.8 L1476.4,1611.6 L1464.6,1616.0 L1451.7,1620.9 L1438.1,1625.9 L1424.6,1631.0 L1411.7,1635.7 L1400.0,1640.0 L1389.2,1643.9 L1378.5,1647.8 L1368.0,1651.6 L1357.8,1655.3 L1347.8,1658.8 L1338.1,1662.1 L1328.9,1665.2 L1320.0,1668.0 L1311.7,1670.6 L1304.0,1673.0 L1296.8,1675.2 L1289.9,1677.2 L1283.1,1678.9 L1276.3,1680.3 L1269.3,1681.4 L1262.0,1682.0 L1254.7,1682.1 L1247.7,1681.7 L1240.7,1680.9 L1233.6,1679.8 L1226.2,1678.5 L1218.3,1677.2 L1209.6,1676.0 L1200.0,1675.0 L1189.4,1674.1 L1177.8,1673.2 L1165.6,1672.3 L1152.8,1671.4 L1139.7,1670.6 L1126.4,1669.7 L1113.1,1668.8 L1100.0,1668.0 L1086.3,1667.2 L1071.4,1666.3 L1055.9,1665.4 L1040.6,1664.6 L1026.0,1663.8 L1012.7,1663.1 L1001.5,1662.5 L993.0,1662.0 L987.5,1661.7 L984.5,1661.5 L983.4,1661.5 L983.8,1661.5 L985.0,1661.6 L986.5,1661.6 L987.7,1661.7 L988.0,1661.7 Z" fill="#b0b0b0" filter="url(#bl1)"/>
<path d="M988.0,1661.7 L987.7,1661.7 L986.5,1661.6 L985.0,1661.6 L983.8,1661.5 L983.4,1661.5 L984.5,1661.5 L987.5,1661.7 L993.0,1662.0 L1001.5,1662.5 L1012.7,1663.1 L1026.0,1663.8 L1040.6,1664.6 L1055.9,1665.4 L1071.4,1666.3 L1086.3,1667.2 L1100.0,1668.0 L1113.1,1668.8 L1126.4,1669.7 L1139.7,1670.6 L1152.8,1671.4 L1165.6,1672.3 L1177.8,1673.2 L1189.4,1674.1 L1200.0,1675.0 L1209.6,1676.0 L1218.3,1677.2 L1226.2,1678.5 L1233.6,1679.8 L1240.7,1680.9 L1247.7,1681.7 L1254.7,1682.1 L1262.0,1682.0 L1269.3,1681.4 L1276.3,1680.3 L1283.1,1678.9 L1289.9,1677.2 L1296.8,1675.2 L1304.0,1673.0 L1311.7,1670.6 L1320.0,1668.0 L1328.9,1665.2 L1338.1,1662.1 L1347.8,1658.8 L1357.8,1655.3 L1368.0,1651.6 L1378.5,1647.8 L1389.2,1643.9 L1400.0,1640.0 L1411.7,1635.7 L1424.6,1631.0 L1438.1,1625.9 L1451.7,1620.9 L1464.6,1616.0 L1476.4,1611.6 L1486.4,1607.8 L1494.0,1605.0 L1499.0,1603.2 L1501.7,1602.1 L1502.8,1601.7 L1502.6,1601.8 L1501.7,1602.1 L1500.5,1602.6 L1499.6,1602.9 L1499.4,1603.0 L1499.4,1613.9 L1499.5,1613.9 L1500.3,1613.6 L1501.2,1613.2 L1502.0,1613.0 L1502.0,1612.9 L1501.0,1613.3 L1498.5,1614.3 L1494.0,1616.0 L1487.3,1618.6 L1478.5,1621.9 L1468.3,1625.8 L1457.0,1630.1 L1445.0,1634.7 L1432.9,1639.3 L1421.1,1643.8 L1410.0,1648.0 L1399.4,1652.1 L1388.8,1656.4 L1378.2,1660.8 L1367.6,1665.1 L1356.9,1669.3 L1346.3,1673.3 L1335.6,1676.9 L1325.0,1680.0 L1314.1,1682.7 L1302.7,1685.0 L1291.1,1686.9 L1279.7,1688.6 L1268.6,1690.1 L1258.1,1691.5 L1248.5,1692.8 L1240.0,1694.0 L1233.3,1695.2 L1228.2,1696.3 L1224.3,1697.3 L1220.9,1698.2 L1217.4,1698.9 L1213.2,1699.5 L1207.6,1699.8 L1200.0,1700.0 L1190.4,1699.9 L1179.4,1699.6 L1167.2,1699.2 L1154.2,1698.5 L1140.6,1697.7 L1126.9,1696.9 L1113.2,1695.9 L1100.0,1695.0 L1086.3,1693.9 L1071.4,1692.6 L1055.9,1691.2 L1040.6,1689.7 L1026.0,1688.3 L1012.7,1686.9 L1001.5,1685.8 L993.0,1685.0 L987.5,1684.5 L984.5,1684.2 L983.4,1684.1 L983.8,1684.1 L985.0,1684.3 L986.5,1684.4 L987.7,1684.5 L988.0,1684.5 Z" fill="#5e5e5e" filter="url(#bl2)"/>
<path d="M988.0,1684.5 L987.7,1684.5 L986.5,1684.4 L985.0,1684.3 L983.8,1684.1 L983.4,1684.1 L984.5,1684.2 L987.5,1684.5 L993.0,1685.0 L1001.5,1685.8 L1012.7,1686.9 L1026.0,1688.3 L1040.6,1689.7 L1055.9,1691.2 L1071.4,1692.6 L1086.3,1693.9 L1100.0,1695.0 L1113.2,1695.9 L1126.9,1696.9 L1140.6,1697.7 L1154.2,1698.5 L1167.2,1699.2 L1179.4,1699.6 L1190.4,1699.9 L1200.0,1700.0 L1207.6,1699.8 L1213.2,1699.5 L1217.4,1698.9 L1220.9,1698.2 L1224.3,1697.3 L1228.2,1696.3 L1233.3,1695.2 L1240.0,1694.0 L1248.5,1692.8 L1258.1,1691.5 L1268.6,1690.1 L1279.7,1688.6 L1291.1,1686.9 L1302.7,1685.0 L1314.1,1682.7 L1325.0,1680.0 L1335.6,1676.9 L1346.3,1673.3 L1356.9,1669.3 L1367.6,1665.1 L1378.2,1660.8 L1388.8,1656.4 L1399.4,1652.1 L1410.0,1648.0 L1421.1,1643.8 L1432.9,1639.3 L1445.0,1634.7 L1457.0,1630.1 L1468.3,1625.8 L1478.5,1621.9 L1487.3,1618.6 L1494.0,1616.0 L1498.5,1614.3 L1501.0,1613.3 L1502.0,1612.9 L1502.0,1613.0 L1501.2,1613.2 L1500.3,1613.6 L1499.5,1613.9 L1499.4,1613.9 L1499.4,1630.9 L1499.5,1630.9 L1500.3,1630.6 L1501.2,1630.2 L1502.0,1630.0 L1502.0,1629.9 L1501.0,1630.3 L1498.5,1631.3 L1494.0,1633.0 L1487.3,1635.6 L1478.5,1638.9 L1468.3,1642.8 L1457.0,1647.1 L1445.0,1651.7 L1432.9,1656.3 L1421.1,1660.8 L1410.0,1665.0 L1399.4,1669.1 L1388.8,1673.4 L1378.2,1677.8 L1367.6,1682.1 L1356.9,1686.3 L1346.3,1690.3 L1335.6,1693.9 L1325.0,1697.0 L1314.1,1699.7 L1302.7,1702.0 L1291.1,1703.9 L1279.7,1705.6 L1268.6,1707.1 L1258.1,1708.5 L1248.5,1709.8 L1240.0,1711.0 L1233.3,1712.2 L1228.2,1713.3 L1224.3,1714.3 L1220.9,1715.2 L1217.4,1715.9 L1213.2,1716.5 L1207.6,1716.8 L1200.0,1717.0 L1190.4,1716.9 L1179.4,1716.6 L1167.2,1716.2 L1154.2,1715.5 L1140.6,1714.7 L1126.9,1713.9 L1113.2,1712.9 L1100.0,1712.0 L1086.3,1710.9 L1071.4,1709.6 L1055.9,1708.2 L1040.6,1706.7 L1026.0,1705.3 L1012.7,1703.9 L1001.5,1702.8 L993.0,1702.0 L987.5,1701.5 L984.5,1701.2 L983.4,1701.1 L983.8,1701.1 L985.0,1701.3 L986.5,1701.4 L987.7,1701.5 L988.0,1701.5 Z" fill="#b0b0b0" filter="url(#bl2)"/>
<polyline points="988.0,1689.5 987.7,1689.5 986.5,1689.4 985.0,1689.3 983.8,1689.1 983.4,1689.1 984.5,1689.2 987.5,1689.5 993.0,1690.0 1001.5,1690.8 1012.7,1691.9 1026.0,1693.3 1040.6,1694.7 1055.9,1696.2 1071.4,1697.6 1086.3,1698.9 1100.0,1700.0 1113.2,1700.9 1126.9,1701.9 1140.6,1702.7 1154.2,1703.5 1167.2,1704.2 1179.4,1704.6 1190.4,1704.9 1200.0,1705.0 1207.6,1704.8 1213.2,1704.5 1217.4,1703.9 1220.9,1703.2 1224.3,1702.3 1228.2,1701.3 1233.3,1700.2 1240.0,1699.0 1248.5,1697.8 1258.1,1696.5 1268.6,1695.1 1279.7,1693.6 1291.1,1691.9 1302.7,1690.0 1314.1,1687.7 1325.0,1685.0 1335.6,1681.9 1346.3,1678.3 1356.9,1674.3 1367.6,1670.1 1378.2,1665.8 1388.8,1661.4 1399.4,1657.1 1410.0,1653.0 1421.1,1648.8 1432.9,1644.3 1445.0,1639.7 1457.0,1635.1 1468.3,1630.8 1478.5,1626.9 1487.3,1623.6 1494.0,1621.0 1498.5,1619.3 1501.0,1618.3 1502.0,1617.9 1502.0,1618.0 1501.2,1618.2 1500.3,1618.6 1499.5,1618.9 1499.4,1618.9" fill="none" stroke="#cfcfcf" stroke-width="2.5" filter="url(#bl1)"/>
<polyline points="988.0,1697.5 987.7,1697.5 986.5,1697.4 985.0,1697.3 983.8,1697.1 983.4,1697.1 984.5,1697.2 987.5,1697.5 993.0,1698.0 1001.5,1698.8 1012.7,1699.9 1026.0,1701.3 1040.6,1702.7 1055.9,1704.2 1071.4,1705.6 1086.3,1706.9 1100.0,1708.0 1113.2,1708.9 1126.9,1709.9 1140.6,1710.7 1154.2,1711.5 1167.2,1712.2 1179.4,1712.6 1190.4,1712.9 1200.0,1713.0 1207.6,1712.8 1213.2,1712.5 1217.4,1711.9 1220.9,1711.2 1224.3,1710.3 1228.2,1709.3 1233.3,1708.2 1240.0,1707.0 1248.5,1705.8 1258.1,1704.5 1268.6,1703.1 1279.7,1701.6 1291.1,1699.9 1302.7,1698.0 1314.1,1695.7 1325.0,1693.0 1335.6,1689.9 1346.3,1686.3 1356.9,1682.3 1367.6,1678.1 1378.2,1673.8 1388.8,1669.4 1399.4,1665.1 1410.0,1661.0 1421.1,1656.8 1432.9,1652.3 1445.0,1647.7 1457.0,1643.1 1468.3,1638.8 1478.5,1634.9 1487.3,1631.6 1494.0,1629.0 1498.5,1627.3 1501.0,1626.3 1502.0,1625.9 1502.0,1626.0 1501.2,1626.2 1500.3,1626.6 1499.5,1626.9 1499.4,1626.9" fill="none" stroke="#ececec" stroke-width="5.5" filter="url(#bl1)"/>
<g fill="#303030" opacity="0.55" filter="url(#bl2)"><ellipse cx="1494" cy="1657" rx="7" ry="5"/><ellipse cx="1041" cy="1738" rx="6" ry="4"/><ellipse cx="1190" cy="1742" rx="7" ry="4"/><ellipse cx="1498" cy="1645" rx="6" ry="5"/><ellipse cx="983" cy="1717" rx="6" ry="4"/><ellipse cx="1221" cy="1740" rx="5" ry="3"/><ellipse cx="1479" cy="1675" rx="4" ry="5"/><ellipse cx="1026" cy="1726" rx="6" ry="5"/><ellipse cx="1240" cy="1743" rx="4" ry="6"/><ellipse cx="1399" cy="1677" rx="6" ry="3"/><ellipse cx="1500" cy="1641" rx="7" ry="3"/><ellipse cx="1500" cy="1641" rx="5" ry="3"/><ellipse cx="1154" cy="1747" rx="8" ry="5"/><ellipse cx="1127" cy="1741" rx="9" ry="5"/><ellipse cx="1026" cy="1717" rx="5" ry="5"/><ellipse cx="984" cy="1718" rx="5" ry="5"/><ellipse cx="1258" cy="1743" rx="5" ry="4"/><ellipse cx="1269" cy="1736" rx="6" ry="3"/><ellipse cx="1269" cy="1729" rx="8" ry="6"/><ellipse cx="1248" cy="1730" rx="8" ry="6"/><ellipse cx="1233" cy="1733" rx="9" ry="6"/><ellipse cx="1479" cy="1658" rx="6" ry="6"/><ellipse cx="1086" cy="1742" rx="9" ry="5"/><ellipse cx="1113" cy="1747" rx="5" ry="5"/><ellipse cx="1500" cy="1666" rx="5" ry="6"/><ellipse cx="1479" cy="1668" rx="7" ry="6"/></g>
<mask id="mp3" maskUnits="userSpaceOnUse" x="993.0" y="1495.6" width="501.4000000000001" height="370.4000000000001"><rect x="993.0" y="1495.6" width="501.4000000000001" height="370.4000000000001" fill="#000"/><path d="M988.0,1628.2 L987.6,1628.2 L986.2,1628.1 L984.5,1628.0 L983.0,1627.9 L982.5,1627.8 L983.5,1627.9 L986.8,1628.1 L993.0,1628.5 L1002.7,1629.1 L1015.7,1629.8 L1031.1,1630.7 L1047.9,1631.6 L1065.4,1632.7 L1082.7,1633.8 L1098.8,1634.9 L1113.0,1636.0 L1125.7,1637.1 L1137.9,1638.1 L1149.7,1639.2 L1160.9,1640.3 L1171.5,1641.6 L1181.4,1642.9 L1190.6,1644.4 L1199.0,1646.0 L1206.5,1648.0 L1213.1,1650.3 L1218.9,1652.8 L1224.1,1655.4 L1228.7,1657.9 L1233.0,1660.3 L1237.1,1662.4 L1241.0,1664.0 L1244.6,1665.3 L1247.5,1666.4 L1250.1,1667.2 L1252.3,1667.9 L1254.5,1668.3 L1256.7,1668.5 L1259.1,1668.4 L1262.0,1668.0 L1265.3,1667.4 L1268.9,1666.5 L1272.7,1665.3 L1276.6,1663.9 L1280.4,1662.2 L1284.2,1660.4 L1287.8,1658.3 L1291.0,1656.0 L1293.9,1653.4 L1296.4,1650.3 L1298.7,1647.0 L1300.9,1643.5 L1303.1,1639.9 L1305.4,1636.4 L1308.0,1633.1 L1311.0,1630.0 L1314.2,1627.2 L1317.5,1624.6 L1320.9,1622.1 L1324.6,1619.7 L1328.4,1617.3 L1332.6,1614.9 L1337.1,1612.5 L1342.0,1610.0 L1347.4,1607.4 L1353.3,1604.8 L1359.7,1602.1 L1366.2,1599.4 L1373.0,1596.7 L1379.8,1594.1 L1386.5,1591.5 L1393.0,1589.0 L1399.4,1586.6 L1405.8,1584.3 L1412.2,1582.0 L1418.6,1579.8 L1424.9,1577.6 L1431.3,1575.4 L1437.7,1573.2 L1444.0,1571.0 L1450.6,1568.6 L1457.6,1566.1 L1464.8,1563.5 L1471.9,1561.0 L1478.6,1558.6 L1484.7,1556.4 L1489.9,1554.5 L1494.0,1553.0 L1496.8,1552.0 L1498.6,1551.3 L1499.5,1551.0 L1499.8,1550.9 L1499.7,1550.9 L1499.5,1551.0 L1499.3,1551.1 L1499.4,1551.1 L1499.4,1697.9 L1499.6,1697.9 L1500.5,1697.5 L1501.7,1697.1 L1502.6,1696.7 L1502.8,1696.6 L1501.7,1697.0 L1499.0,1698.1 L1494.0,1700.0 L1486.9,1702.9 L1478.3,1706.7 L1468.1,1711.1 L1456.7,1716.0 L1444.0,1721.2 L1430.2,1726.3 L1415.5,1731.4 L1400.0,1736.0 L1383.0,1740.4 L1364.2,1744.9 L1344.0,1749.4 L1322.9,1753.9 L1301.4,1758.2 L1280.1,1762.4 L1259.5,1766.3 L1240.0,1770.0 L1221.3,1773.5 L1202.8,1777.0 L1184.6,1780.4 L1166.7,1783.6 L1149.2,1786.4 L1132.2,1788.8 L1115.8,1790.7 L1100.0,1792.0 L1084.3,1792.5 L1068.5,1792.1 L1053.0,1791.2 L1038.1,1789.9 L1024.2,1788.4 L1011.8,1787.0 L1001.3,1785.8 L993.0,1785.0 L987.5,1784.6 L984.5,1784.4 L983.4,1784.4 L983.8,1784.4 L985.0,1784.5 L986.5,1784.6 L987.7,1784.7 L988.0,1784.7 Z" fill="#5a5a5a" filter="url(#bl3)"/></mask>
<rect x="993.0" y="1495.6" width="501.4" height="370.4" filter="url(#speck)" mask="url(#mp3)"/>
<rect x="993.0" y="1495.6" width="501.4" height="370.4" filter="url(#speck2)" mask="url(#mp3)" opacity="0.6"/>
</g>
<g clip-path="url(#cp6)">
<rect x="993.0" y="1866.0" width="501.4" height="373.5" fill="#050505"/>
<rect x="993.0" y="1866.0" width="501.4" height="373.5" filter="url(#speckW)"/>
<path d="M988.0,2094.0 L987.7,2093.8 L986.5,2093.1 L985.0,2092.2 L983.8,2091.4 L983.4,2091.2 L984.5,2091.8 L987.5,2093.6 L993.0,2097.0 L1001.2,2102.4 L1011.6,2109.6 L1023.8,2118.2 L1037.4,2127.5 L1052.2,2137.1 L1067.8,2146.4 L1083.9,2154.9 L1100.0,2162.0 L1116.7,2168.1 L1134.5,2173.8 L1153.1,2179.1 L1172.3,2183.9 L1191.9,2188.1 L1211.5,2191.8 L1231.0,2194.7 L1250.0,2197.0 L1269.1,2198.3 L1288.8,2198.5 L1308.7,2198.0 L1328.5,2196.9 L1347.9,2195.6 L1366.4,2194.1 L1383.9,2192.9 L1400.0,2192.0 L1415.0,2191.4 L1429.5,2190.8 L1443.2,2190.3 L1456.0,2189.7 L1467.7,2189.2 L1478.0,2188.7 L1486.9,2188.3 L1494.0,2188.0 L1499.0,2187.8 L1501.7,2187.7 L1502.8,2187.6 L1502.6,2187.6 L1501.7,2187.7 L1500.5,2187.7 L1499.6,2187.8 L1499.4,2187.8 L1499.4,2269.5 L988.0,2269.5 Z" fill="#000" opacity="0.5" filter="url(#bl15)"/>
<path d="M988.0,2015.3 L988.1,2015.3 L987.8,2015.2 L987.5,2015.0 L987.3,2014.9 L987.5,2015.0 L988.4,2015.5 L990.1,2016.4 L993.0,2018.0 L997.2,2020.3 L1002.5,2023.2 L1008.7,2026.7 L1015.6,2030.5 L1022.8,2034.5 L1030.1,2038.5 L1037.3,2042.4 L1044.0,2046.0 L1050.5,2049.5 L1057.0,2053.0 L1063.5,2056.5 L1070.0,2059.9 L1076.5,2063.4 L1083.0,2066.7 L1089.5,2069.9 L1096.0,2073.0 L1102.4,2076.0 L1108.8,2078.8 L1115.2,2081.6 L1121.5,2084.3 L1127.8,2086.9 L1134.2,2089.4 L1140.6,2091.8 L1147.0,2094.0 L1153.5,2096.1 L1160.0,2098.1 L1166.5,2099.9 L1173.0,2101.6 L1179.5,2103.3 L1186.0,2104.9 L1192.5,2106.4 L1199.0,2108.0 L1205.0,2109.5 L1210.5,2110.9 L1215.6,2112.3 L1220.9,2113.6 L1226.7,2114.9 L1233.2,2116.2 L1240.9,2117.6 L1250.0,2119.0 L1260.7,2120.6 L1272.6,2122.3 L1285.5,2124.1 L1299.2,2125.9 L1313.7,2127.6 L1328.6,2129.1 L1343.7,2130.3 L1359.0,2131.0 L1375.5,2131.2 L1394.0,2131.0 L1413.4,2130.5 L1433.0,2129.8 L1451.7,2128.9 L1468.8,2128.1 L1483.1,2127.4 L1494.0,2127.0 L1500.9,2126.8 L1504.6,2126.7 L1505.8,2126.7 L1505.1,2126.7 L1503.5,2126.7 L1501.5,2126.8 L1499.9,2126.8 L1499.4,2126.8 L1499.4,2167.8 L1499.6,2167.8 L1500.5,2167.7 L1501.7,2167.7 L1502.6,2167.6 L1502.8,2167.6 L1501.7,2167.7 L1499.0,2167.8 L1494.0,2168.0 L1486.9,2168.3 L1478.0,2168.7 L1467.7,2169.2 L1456.0,2169.7 L1443.2,2170.3 L1429.5,2170.8 L1415.0,2171.4 L1400.0,2172.0 L1383.9,2172.9 L1366.4,2174.1 L1347.9,2175.6 L1328.5,2176.9 L1308.7,2178.0 L1288.8,2178.5 L1269.1,2178.3 L1250.0,2177.0 L1231.0,2174.7 L1211.5,2171.8 L1191.9,2168.1 L1172.3,2163.9 L1153.1,2159.1 L1134.5,2153.8 L1116.7,2148.1 L1100.0,2142.0 L1083.9,2134.9 L1067.8,2126.4 L1052.2,2117.1 L1037.4,2107.5 L1023.8,2098.2 L1011.6,2089.6 L1001.2,2082.4 L993.0,2077.0 L987.5,2073.6 L984.5,2071.8 L983.4,2071.2 L983.8,2071.4 L985.0,2072.2 L986.5,2073.1 L987.7,2073.8 L988.0,2074.0 Z" fill="#8e8e8e" filter="url(#bl8)"/>
<path d="M988.0,2015.3 L988.1,2015.3 L987.8,2015.2 L987.5,2015.0 L987.3,2014.9 L987.5,2015.0 L988.4,2015.5 L990.1,2016.4 L993.0,2018.0 L997.2,2020.3 L1002.5,2023.2 L1008.7,2026.7 L1015.6,2030.5 L1022.8,2034.5 L1030.1,2038.5 L1037.3,2042.4 L1044.0,2046.0 L1050.5,2049.5 L1057.0,2053.0 L1063.5,2056.5 L1070.0,2059.9 L1076.5,2063.4 L1083.0,2066.7 L1089.5,2069.9 L1096.0,2073.0 L1102.4,2076.0 L1108.8,2078.8 L1115.2,2081.6 L1121.5,2084.3 L1127.8,2086.9 L1134.2,2089.4 L1140.6,2091.8 L1147.0,2094.0 L1153.5,2096.1 L1160.0,2098.1 L1166.5,2099.9 L1173.0,2101.6 L1179.5,2103.3 L1186.0,2104.9 L1192.5,2106.4 L1199.0,2108.0 L1205.0,2109.5 L1210.5,2110.9 L1215.6,2112.3 L1220.9,2113.6 L1226.7,2114.9 L1233.2,2116.2 L1240.9,2117.6 L1250.0,2119.0 L1260.7,2120.6 L1272.6,2122.3 L1285.5,2124.1 L1299.2,2125.9 L1313.7,2127.6 L1328.6,2129.1 L1343.7,2130.3 L1359.0,2131.0 L1375.5,2131.2 L1394.0,2131.0 L1413.4,2130.5 L1433.0,2129.8 L1451.7,2128.9 L1468.8,2128.1 L1483.1,2127.4 L1494.0,2127.0 L1500.9,2126.8 L1504.6,2126.7 L1505.8,2126.7 L1505.1,2126.7 L1503.5,2126.7 L1501.5,2126.8 L1499.9,2126.8 L1499.4,2126.8 L1499.4,2145.8 L1499.6,2145.8 L1500.5,2145.7 L1501.7,2145.7 L1502.6,2145.6 L1502.8,2145.6 L1501.7,2145.7 L1499.0,2145.8 L1494.0,2146.0 L1486.9,2146.3 L1478.0,2146.7 L1467.7,2147.2 L1456.0,2147.7 L1443.2,2148.3 L1429.5,2148.8 L1415.0,2149.4 L1400.0,2150.0 L1383.9,2150.9 L1366.4,2152.1 L1347.9,2153.6 L1328.5,2154.9 L1308.7,2156.0 L1288.8,2156.5 L1269.1,2156.3 L1250.0,2155.0 L1231.0,2152.7 L1211.5,2149.8 L1191.9,2146.1 L1172.3,2141.9 L1153.1,2137.1 L1134.5,2131.8 L1116.7,2126.1 L1100.0,2120.0 L1083.9,2112.9 L1067.8,2104.4 L1052.2,2095.1 L1037.4,2085.5 L1023.8,2076.2 L1011.6,2067.6 L1001.2,2060.4 L993.0,2055.0 L987.5,2051.6 L984.5,2049.8 L983.4,2049.2 L983.8,2049.4 L985.0,2050.2 L986.5,2051.1 L987.7,2051.8 L988.0,2052.0 Z" fill="#969696" filter="url(#bl4)" opacity="0.8"/>
<path d="M988.0,1934.3 L988.1,1934.3 L987.8,1934.2 L987.5,1934.0 L987.3,1933.9 L987.5,1934.0 L988.4,1934.5 L990.1,1935.4 L993.0,1937.0 L997.2,1939.3 L1002.5,1942.4 L1008.7,1946.0 L1015.6,1949.9 L1022.8,1953.9 L1030.1,1957.9 L1037.3,1961.7 L1044.0,1965.0 L1050.5,1967.9 L1057.0,1970.7 L1063.5,1973.3 L1070.0,1975.8 L1076.5,1978.2 L1083.0,1980.7 L1089.5,1983.3 L1096.0,1986.0 L1102.4,1988.9 L1108.8,1991.8 L1115.2,1994.8 L1121.5,1997.8 L1127.8,2000.9 L1134.2,2003.9 L1140.6,2007.0 L1147.0,2010.0 L1153.5,2013.0 L1160.2,2015.9 L1166.9,2018.8 L1173.6,2021.7 L1180.2,2024.6 L1186.7,2027.6 L1193.0,2030.8 L1199.0,2034.0 L1204.9,2037.5 L1210.6,2041.3 L1216.3,2045.3 L1221.8,2049.2 L1227.0,2053.2 L1232.0,2056.8 L1236.7,2060.2 L1241.0,2063.0 L1244.8,2065.5 L1248.2,2067.8 L1251.2,2069.8 L1254.0,2071.6 L1256.6,2073.0 L1259.3,2074.1 L1262.0,2074.8 L1265.0,2075.0 L1268.1,2074.6 L1271.2,2073.6 L1274.3,2072.0 L1277.4,2070.2 L1280.6,2068.2 L1283.9,2066.2 L1287.4,2064.4 L1291.0,2063.0 L1294.8,2061.9 L1298.5,2060.8 L1302.4,2059.8 L1306.4,2058.9 L1310.7,2058.1 L1315.1,2057.4 L1319.9,2056.6 L1325.0,2056.0 L1330.1,2055.4 L1335.0,2054.9 L1339.9,2054.5 L1345.2,2054.1 L1351.2,2053.8 L1358.1,2053.5 L1366.3,2053.3 L1376.0,2053.0 L1388.3,2052.8 L1403.4,2052.6 L1420.3,2052.4 L1437.9,2052.3 L1455.1,2052.2 L1470.8,2052.1 L1484.2,2052.1 L1494.0,2052.0 L1500.1,2051.9 L1503.4,2051.9 L1504.5,2051.9 L1504.1,2051.9 L1502.7,2051.9 L1501.1,2051.9 L1499.8,2052.0 L1499.4,2052.0 L1499.4,2082.9 L1499.9,2082.9 L1501.7,2082.8 L1503.9,2082.8 L1505.7,2082.8 L1506.4,2082.7 L1505.2,2082.8 L1501.3,2082.8 L1494.0,2083.0 L1482.2,2083.3 L1466.4,2083.6 L1447.6,2084.1 L1427.0,2084.6 L1405.8,2085.0 L1385.1,2085.5 L1366.1,2085.8 L1350.0,2086.0 L1336.4,2086.2 L1324.1,2086.6 L1312.9,2087.0 L1302.6,2087.2 L1292.8,2087.3 L1283.5,2087.0 L1274.3,2086.3 L1265.0,2085.0 L1256.2,2083.1 L1248.2,2080.8 L1240.7,2078.0 L1233.4,2074.9 L1226.1,2071.5 L1218.2,2067.9 L1209.7,2064.0 L1200.0,2060.0 L1189.2,2055.7 L1177.6,2050.9 L1165.4,2045.7 L1152.6,2040.4 L1139.6,2035.1 L1126.3,2029.8 L1113.1,2024.7 L1100.0,2020.0 L1086.3,2015.4 L1071.4,2010.7 L1055.9,2006.1 L1040.6,2001.6 L1026.0,1997.4 L1012.7,1993.7 L1001.5,1990.5 L993.0,1988.0 L987.5,1986.3 L984.5,1985.4 L983.4,1985.1 L983.8,1985.3 L985.0,1985.6 L986.5,1986.1 L987.7,1986.4 L988.0,1986.5 Z" fill="#b0b0b0" filter="url(#bl1)"/>
<path d="M988.0,1986.5 L987.7,1986.4 L986.5,1986.1 L985.0,1985.6 L983.8,1985.3 L983.4,1985.1 L984.5,1985.4 L987.5,1986.3 L993.0,1988.0 L1001.5,1990.5 L1012.7,1993.7 L1026.0,1997.4 L1040.6,2001.6 L1055.9,2006.1 L1071.4,2010.7 L1086.3,2015.4 L1100.0,2020.0 L1113.1,2024.7 L1126.3,2029.8 L1139.6,2035.1 L1152.6,2040.4 L1165.4,2045.7 L1177.6,2050.9 L1189.2,2055.7 L1200.0,2060.0 L1209.7,2064.0 L1218.2,2067.9 L1226.1,2071.5 L1233.4,2074.9 L1240.7,2078.0 L1248.2,2080.8 L1256.2,2083.1 L1265.0,2085.0 L1274.3,2086.3 L1283.5,2087.0 L1292.8,2087.3 L1302.6,2087.2 L1312.9,2087.0 L1324.1,2086.6 L1336.4,2086.2 L1350.0,2086.0 L1366.1,2085.8 L1385.1,2085.5 L1405.8,2085.0 L1427.0,2084.6 L1447.6,2084.1 L1466.4,2083.6 L1482.2,2083.3 L1494.0,2083.0 L1501.3,2082.8 L1505.2,2082.8 L1506.4,2082.7 L1505.7,2082.8 L1503.9,2082.8 L1501.7,2082.8 L1499.9,2082.9 L1499.4,2082.9 L1499.4,2111.8 L1499.9,2111.8 L1501.5,2111.8 L1503.5,2111.7 L1505.1,2111.7 L1505.8,2111.7 L1504.6,2111.7 L1500.9,2111.8 L1494.0,2112.0 L1483.1,2112.4 L1468.8,2113.1 L1451.7,2113.9 L1433.0,2114.8 L1413.4,2115.5 L1394.0,2116.0 L1375.5,2116.2 L1359.0,2116.0 L1343.7,2115.3 L1328.6,2114.1 L1313.7,2112.6 L1299.2,2110.9 L1285.5,2109.1 L1272.6,2107.3 L1260.7,2105.6 L1250.0,2104.0 L1240.9,2102.6 L1233.2,2101.2 L1226.7,2099.9 L1220.9,2098.6 L1215.6,2097.3 L1210.5,2095.9 L1205.0,2094.5 L1199.0,2093.0 L1192.5,2091.4 L1186.0,2089.9 L1179.5,2088.3 L1173.0,2086.6 L1166.5,2084.9 L1160.0,2083.1 L1153.5,2081.1 L1147.0,2079.0 L1140.6,2076.8 L1134.2,2074.4 L1127.8,2071.9 L1121.5,2069.3 L1115.2,2066.6 L1108.8,2063.8 L1102.4,2061.0 L1096.0,2058.0 L1089.5,2054.9 L1083.0,2051.7 L1076.5,2048.4 L1070.0,2044.9 L1063.5,2041.5 L1057.0,2038.0 L1050.5,2034.5 L1044.0,2031.0 L1037.3,2027.4 L1030.1,2023.5 L1022.8,2019.5 L1015.6,2015.5 L1008.7,2011.7 L1002.5,2008.2 L997.2,2005.3 L993.0,2003.0 L990.1,2001.4 L988.4,2000.5 L987.5,2000.0 L987.3,1999.9 L987.5,2000.0 L987.8,2000.2 L988.1,2000.3 L988.0,2000.3 Z" fill="#5e5e5e" filter="url(#bl2)"/>
<path d="M988.0,2000.3 L988.1,2000.3 L987.8,2000.2 L987.5,2000.0 L987.3,1999.9 L987.5,2000.0 L988.4,2000.5 L990.1,2001.4 L993.0,2003.0 L997.2,2005.3 L1002.5,2008.2 L1008.7,2011.7 L1015.6,2015.5 L1022.8,2019.5 L1030.1,2023.5 L1037.3,2027.4 L1044.0,2031.0 L1050.5,2034.5 L1057.0,2038.0 L1063.5,2041.5 L1070.0,2044.9 L1076.5,2048.4 L1083.0,2051.7 L1089.5,2054.9 L1096.0,2058.0 L1102.4,2061.0 L1108.8,2063.8 L1115.2,2066.6 L1121.5,2069.3 L1127.8,2071.9 L1134.2,2074.4 L1140.6,2076.8 L1147.0,2079.0 L1153.5,2081.1 L1160.0,2083.1 L1166.5,2084.9 L1173.0,2086.6 L1179.5,2088.3 L1186.0,2089.9 L1192.5,2091.4 L1199.0,2093.0 L1205.0,2094.5 L1210.5,2095.9 L1215.6,2097.3 L1220.9,2098.6 L1226.7,2099.9 L1233.2,2101.2 L1240.9,2102.6 L1250.0,2104.0 L1260.7,2105.6 L1272.6,2107.3 L1285.5,2109.1 L1299.2,2110.9 L1313.7,2112.6 L1328.6,2114.1 L1343.7,2115.3 L1359.0,2116.0 L1375.5,2116.2 L1394.0,2116.0 L1413.4,2115.5 L1433.0,2114.8 L1451.7,2113.9 L1468.8,2113.1 L1483.1,2112.4 L1494.0,2112.0 L1500.9,2111.8 L1504.6,2111.7 L1505.8,2111.7 L1505.1,2111.7 L1503.5,2111.7 L1501.5,2111.8 L1499.9,2111.8 L1499.4,2111.8 L1499.4,2128.8 L1499.9,2128.8 L1501.5,2128.8 L1503.5,2128.7 L1505.1,2128.7 L1505.8,2128.7 L1504.6,2128.7 L1500.9,2128.8 L1494.0,2129.0 L1483.1,2129.4 L1468.8,2130.1 L1451.7,2130.9 L1433.0,2131.8 L1413.4,2132.5 L1394.0,2133.0 L1375.5,2133.2 L1359.0,2133.0 L1343.7,2132.3 L1328.6,2131.1 L1313.7,2129.6 L1299.2,2127.9 L1285.5,2126.1 L1272.6,2124.3 L1260.7,2122.6 L1250.0,2121.0 L1240.9,2119.6 L1233.2,2118.2 L1226.7,2116.9 L1220.9,2115.6 L1215.6,2114.3 L1210.5,2112.9 L1205.0,2111.5 L1199.0,2110.0 L1192.5,2108.4 L1186.0,2106.9 L1179.5,2105.3 L1173.0,2103.6 L1166.5,2101.9 L1160.0,2100.1 L1153.5,2098.1 L1147.0,2096.0 L1140.6,2093.8 L1134.2,2091.4 L1127.8,2088.9 L1121.5,2086.3 L1115.2,2083.6 L1108.8,2080.8 L1102.4,2078.0 L1096.0,2075.0 L1089.5,2071.9 L1083.0,2068.7 L1076.5,2065.4 L1070.0,2061.9 L1063.5,2058.5 L1057.0,2055.0 L1050.5,2051.5 L1044.0,2048.0 L1037.3,2044.4 L1030.1,2040.5 L1022.8,2036.5 L1015.6,2032.5 L1008.7,2028.7 L1002.5,2025.2 L997.2,2022.3 L993.0,2020.0 L990.1,2018.4 L988.4,2017.5 L987.5,2017.0 L987.3,2016.9 L987.5,2017.0 L987.8,2017.2 L988.1,2017.3 L988.0,2017.3 Z" fill="#b0b0b0" filter="url(#bl2)"/>
<polyline points="988.0,2005.3 988.1,2005.3 987.8,2005.2 987.5,2005.0 987.3,2004.9 987.5,2005.0 988.4,2005.5 990.1,2006.4 993.0,2008.0 997.2,2010.3 1002.5,2013.2 1008.7,2016.7 1015.6,2020.5 1022.8,2024.5 1030.1,2028.5 1037.3,2032.4 1044.0,2036.0 1050.5,2039.5 1057.0,2043.0 1063.5,2046.5 1070.0,2049.9 1076.5,2053.4 1083.0,2056.7 1089.5,2059.9 1096.0,2063.0 1102.4,2066.0 1108.8,2068.8 1115.2,2071.6 1121.5,2074.3 1127.8,2076.9 1134.2,2079.4 1140.6,2081.8 1147.0,2084.0 1153.5,2086.1 1160.0,2088.1 1166.5,2089.9 1173.0,2091.6 1179.5,2093.3 1186.0,2094.9 1192.5,2096.4 1199.0,2098.0 1205.0,2099.5 1210.5,2100.9 1215.6,2102.3 1220.9,2103.6 1226.7,2104.9 1233.2,2106.2 1240.9,2107.6 1250.0,2109.0 1260.7,2110.6 1272.6,2112.3 1285.5,2114.1 1299.2,2115.9 1313.7,2117.6 1328.6,2119.1 1343.7,2120.3 1359.0,2121.0 1375.5,2121.2 1394.0,2121.0 1413.4,2120.5 1433.0,2119.8 1451.7,2118.9 1468.8,2118.1 1483.1,2117.4 1494.0,2117.0 1500.9,2116.8 1504.6,2116.7 1505.8,2116.7 1505.1,2116.7 1503.5,2116.7 1501.5,2116.8 1499.9,2116.8 1499.4,2116.8" fill="none" stroke="#cfcfcf" stroke-width="2.5" filter="url(#bl1)"/>
<polyline points="988.0,2013.3 988.1,2013.3 987.8,2013.2 987.5,2013.0 987.3,2012.9 987.5,2013.0 988.4,2013.5 990.1,2014.4 993.0,2016.0 997.2,2018.3 1002.5,2021.2 1008.7,2024.7 1015.6,2028.5 1022.8,2032.5 1030.1,2036.5 1037.3,2040.4 1044.0,2044.0 1050.5,2047.5 1057.0,2051.0 1063.5,2054.5 1070.0,2057.9 1076.5,2061.4 1083.0,2064.7 1089.5,2067.9 1096.0,2071.0 1102.4,2074.0 1108.8,2076.8 1115.2,2079.6 1121.5,2082.3 1127.8,2084.9 1134.2,2087.4 1140.6,2089.8 1147.0,2092.0 1153.5,2094.1 1160.0,2096.1 1166.5,2097.9 1173.0,2099.6 1179.5,2101.3 1186.0,2102.9 1192.5,2104.4 1199.0,2106.0 1205.0,2107.5 1210.5,2108.9 1215.6,2110.3 1220.9,2111.6 1226.7,2112.9 1233.2,2114.2 1240.9,2115.6 1250.0,2117.0 1260.7,2118.6 1272.6,2120.3 1285.5,2122.1 1299.2,2123.9 1313.7,2125.6 1328.6,2127.1 1343.7,2128.3 1359.0,2129.0 1375.5,2129.2 1394.0,2129.0 1413.4,2128.5 1433.0,2127.8 1451.7,2126.9 1468.8,2126.1 1483.1,2125.4 1494.0,2125.0 1500.9,2124.8 1504.6,2124.7 1505.8,2124.7 1505.1,2124.7 1503.5,2124.7 1501.5,2124.8 1499.9,2124.8 1499.4,2124.8" fill="none" stroke="#ececec" stroke-width="5.5" filter="url(#bl1)"/>
<g fill="#303030" opacity="0.55" filter="url(#bl2)"><ellipse cx="988" cy="2047" rx="6" ry="5"/><ellipse cx="1009" cy="2056" rx="9" ry="5"/><ellipse cx="1505" cy="2162" rx="6" ry="5"/><ellipse cx="987" cy="2042" rx="7" ry="5"/><ellipse cx="1506" cy="2142" rx="5" ry="5"/><ellipse cx="1273" cy="2137" rx="5" ry="4"/><ellipse cx="1227" cy="2134" rx="8" ry="6"/><ellipse cx="1057" cy="2064" rx="6" ry="5"/><ellipse cx="1141" cy="2109" rx="4" ry="4"/><ellipse cx="1037" cy="2082" rx="7" ry="4"/><ellipse cx="1501" cy="2163" rx="7" ry="3"/><ellipse cx="1173" cy="2141" rx="5" ry="3"/><ellipse cx="987" cy="2036" rx="6" ry="5"/><ellipse cx="997" cy="2053" rx="5" ry="3"/><ellipse cx="1501" cy="2150" rx="7" ry="4"/><ellipse cx="1141" cy="2102" rx="6" ry="3"/><ellipse cx="1413" cy="2152" rx="9" ry="5"/><ellipse cx="1199" cy="2135" rx="6" ry="5"/><ellipse cx="1273" cy="2152" rx="6" ry="6"/><ellipse cx="1009" cy="2038" rx="4" ry="5"/><ellipse cx="1452" cy="2149" rx="6" ry="5"/><ellipse cx="1160" cy="2129" rx="7" ry="4"/><ellipse cx="1299" cy="2151" rx="5" ry="5"/><ellipse cx="1037" cy="2063" rx="8" ry="3"/><ellipse cx="1205" cy="2126" rx="8" ry="4"/><ellipse cx="990" cy="2036" rx="4" ry="5"/></g>
<mask id="mp6" maskUnits="userSpaceOnUse" x="993.0" y="1866.0" width="501.4000000000001" height="373.5"><rect x="993.0" y="1866.0" width="501.4000000000001" height="373.5" fill="#000"/><path d="M988.0,1934.3 L988.1,1934.3 L987.8,1934.2 L987.5,1934.0 L987.3,1933.9 L987.5,1934.0 L988.4,1934.5 L990.1,1935.4 L993.0,1937.0 L997.2,1939.3 L1002.5,1942.4 L1008.7,1946.0 L1015.6,1949.9 L1022.8,1953.9 L1030.1,1957.9 L1037.3,1961.7 L1044.0,1965.0 L1050.5,1967.9 L1057.0,1970.7 L1063.5,1973.3 L1070.0,1975.8 L1076.5,1978.2 L1083.0,1980.7 L1089.5,1983.3 L1096.0,1986.0 L1102.4,1988.9 L1108.8,1991.8 L1115.2,1994.8 L1121.5,1997.8 L1127.8,2000.9 L1134.2,2003.9 L1140.6,2007.0 L1147.0,2010.0 L1153.5,2013.0 L1160.2,2015.9 L1166.9,2018.8 L1173.6,2021.7 L1180.2,2024.6 L1186.7,2027.6 L1193.0,2030.8 L1199.0,2034.0 L1204.9,2037.5 L1210.6,2041.3 L1216.3,2045.3 L1221.8,2049.2 L1227.0,2053.2 L1232.0,2056.8 L1236.7,2060.2 L1241.0,2063.0 L1244.8,2065.5 L1248.2,2067.8 L1251.2,2069.8 L1254.0,2071.6 L1256.6,2073.0 L1259.3,2074.1 L1262.0,2074.8 L1265.0,2075.0 L1268.1,2074.6 L1271.2,2073.6 L1274.3,2072.0 L1277.4,2070.2 L1280.6,2068.2 L1283.9,2066.2 L1287.4,2064.4 L1291.0,2063.0 L1294.8,2061.9 L1298.5,2060.8 L1302.4,2059.8 L1306.4,2058.9 L1310.7,2058.1 L1315.1,2057.4 L1319.9,2056.6 L1325.0,2056.0 L1330.1,2055.4 L1335.0,2054.9 L1339.9,2054.5 L1345.2,2054.1 L1351.2,2053.8 L1358.1,2053.5 L1366.3,2053.3 L1376.0,2053.0 L1388.3,2052.8 L1403.4,2052.6 L1420.3,2052.4 L1437.9,2052.3 L1455.1,2052.2 L1470.8,2052.1 L1484.2,2052.1 L1494.0,2052.0 L1500.1,2051.9 L1503.4,2051.9 L1504.5,2051.9 L1504.1,2051.9 L1502.7,2051.9 L1501.1,2051.9 L1499.8,2052.0 L1499.4,2052.0 L1499.4,2185.8 L1499.6,2185.8 L1500.5,2185.7 L1501.7,2185.7 L1502.6,2185.6 L1502.8,2185.6 L1501.7,2185.7 L1499.0,2185.8 L1494.0,2186.0 L1486.9,2186.3 L1478.0,2186.7 L1467.7,2187.2 L1456.0,2187.7 L1443.2,2188.3 L1429.5,2188.8 L1415.0,2189.4 L1400.0,2190.0 L1383.9,2190.9 L1366.4,2192.1 L1347.9,2193.6 L1328.5,2194.9 L1308.7,2196.0 L1288.8,2196.5 L1269.1,2196.3 L1250.0,2195.0 L1231.0,2192.7 L1211.5,2189.8 L1191.9,2186.1 L1172.3,2181.9 L1153.1,2177.1 L1134.5,2171.8 L1116.7,2166.1 L1100.0,2160.0 L1083.9,2152.9 L1067.8,2144.4 L1052.2,2135.1 L1037.4,2125.5 L1023.8,2116.2 L1011.6,2107.6 L1001.2,2100.4 L993.0,2095.0 L987.5,2091.6 L984.5,2089.8 L983.4,2089.2 L983.8,2089.4 L985.0,2090.2 L986.5,2091.1 L987.7,2091.8 L988.0,2092.0 Z" fill="#5a5a5a" filter="url(#bl3)"/></mask>
<rect x="993.0" y="1866.0" width="501.4" height="373.5" filter="url(#speck)" mask="url(#mp6)"/>
<rect x="993.0" y="1866.0" width="501.4" height="373.5" filter="url(#speck2)" mask="url(#mp6)" opacity="0.6"/>
</g>
<text x="64.5" y="1525.0" font-size="35.5" font-weight="bold" fill="#fff">1</text>
<text x="535.5" y="1524.8" font-size="35.5" font-weight="bold" fill="#fff">2</text>
<text x="1004.8" y="1525.3" font-size="35.5" font-weight="bold" fill="#fff">3</text>
<text x="64.3" y="1900.0" font-size="35.5" font-weight="bold" fill="#fff">4</text>
<text x="529.3" y="1894.2" font-size="35.5" font-weight="bold" fill="#fff">5</text>
<text x="1006.0" y="1900.5" font-size="35.5" font-weight="bold" fill="#fff">6</text>
</svg></body></html>
